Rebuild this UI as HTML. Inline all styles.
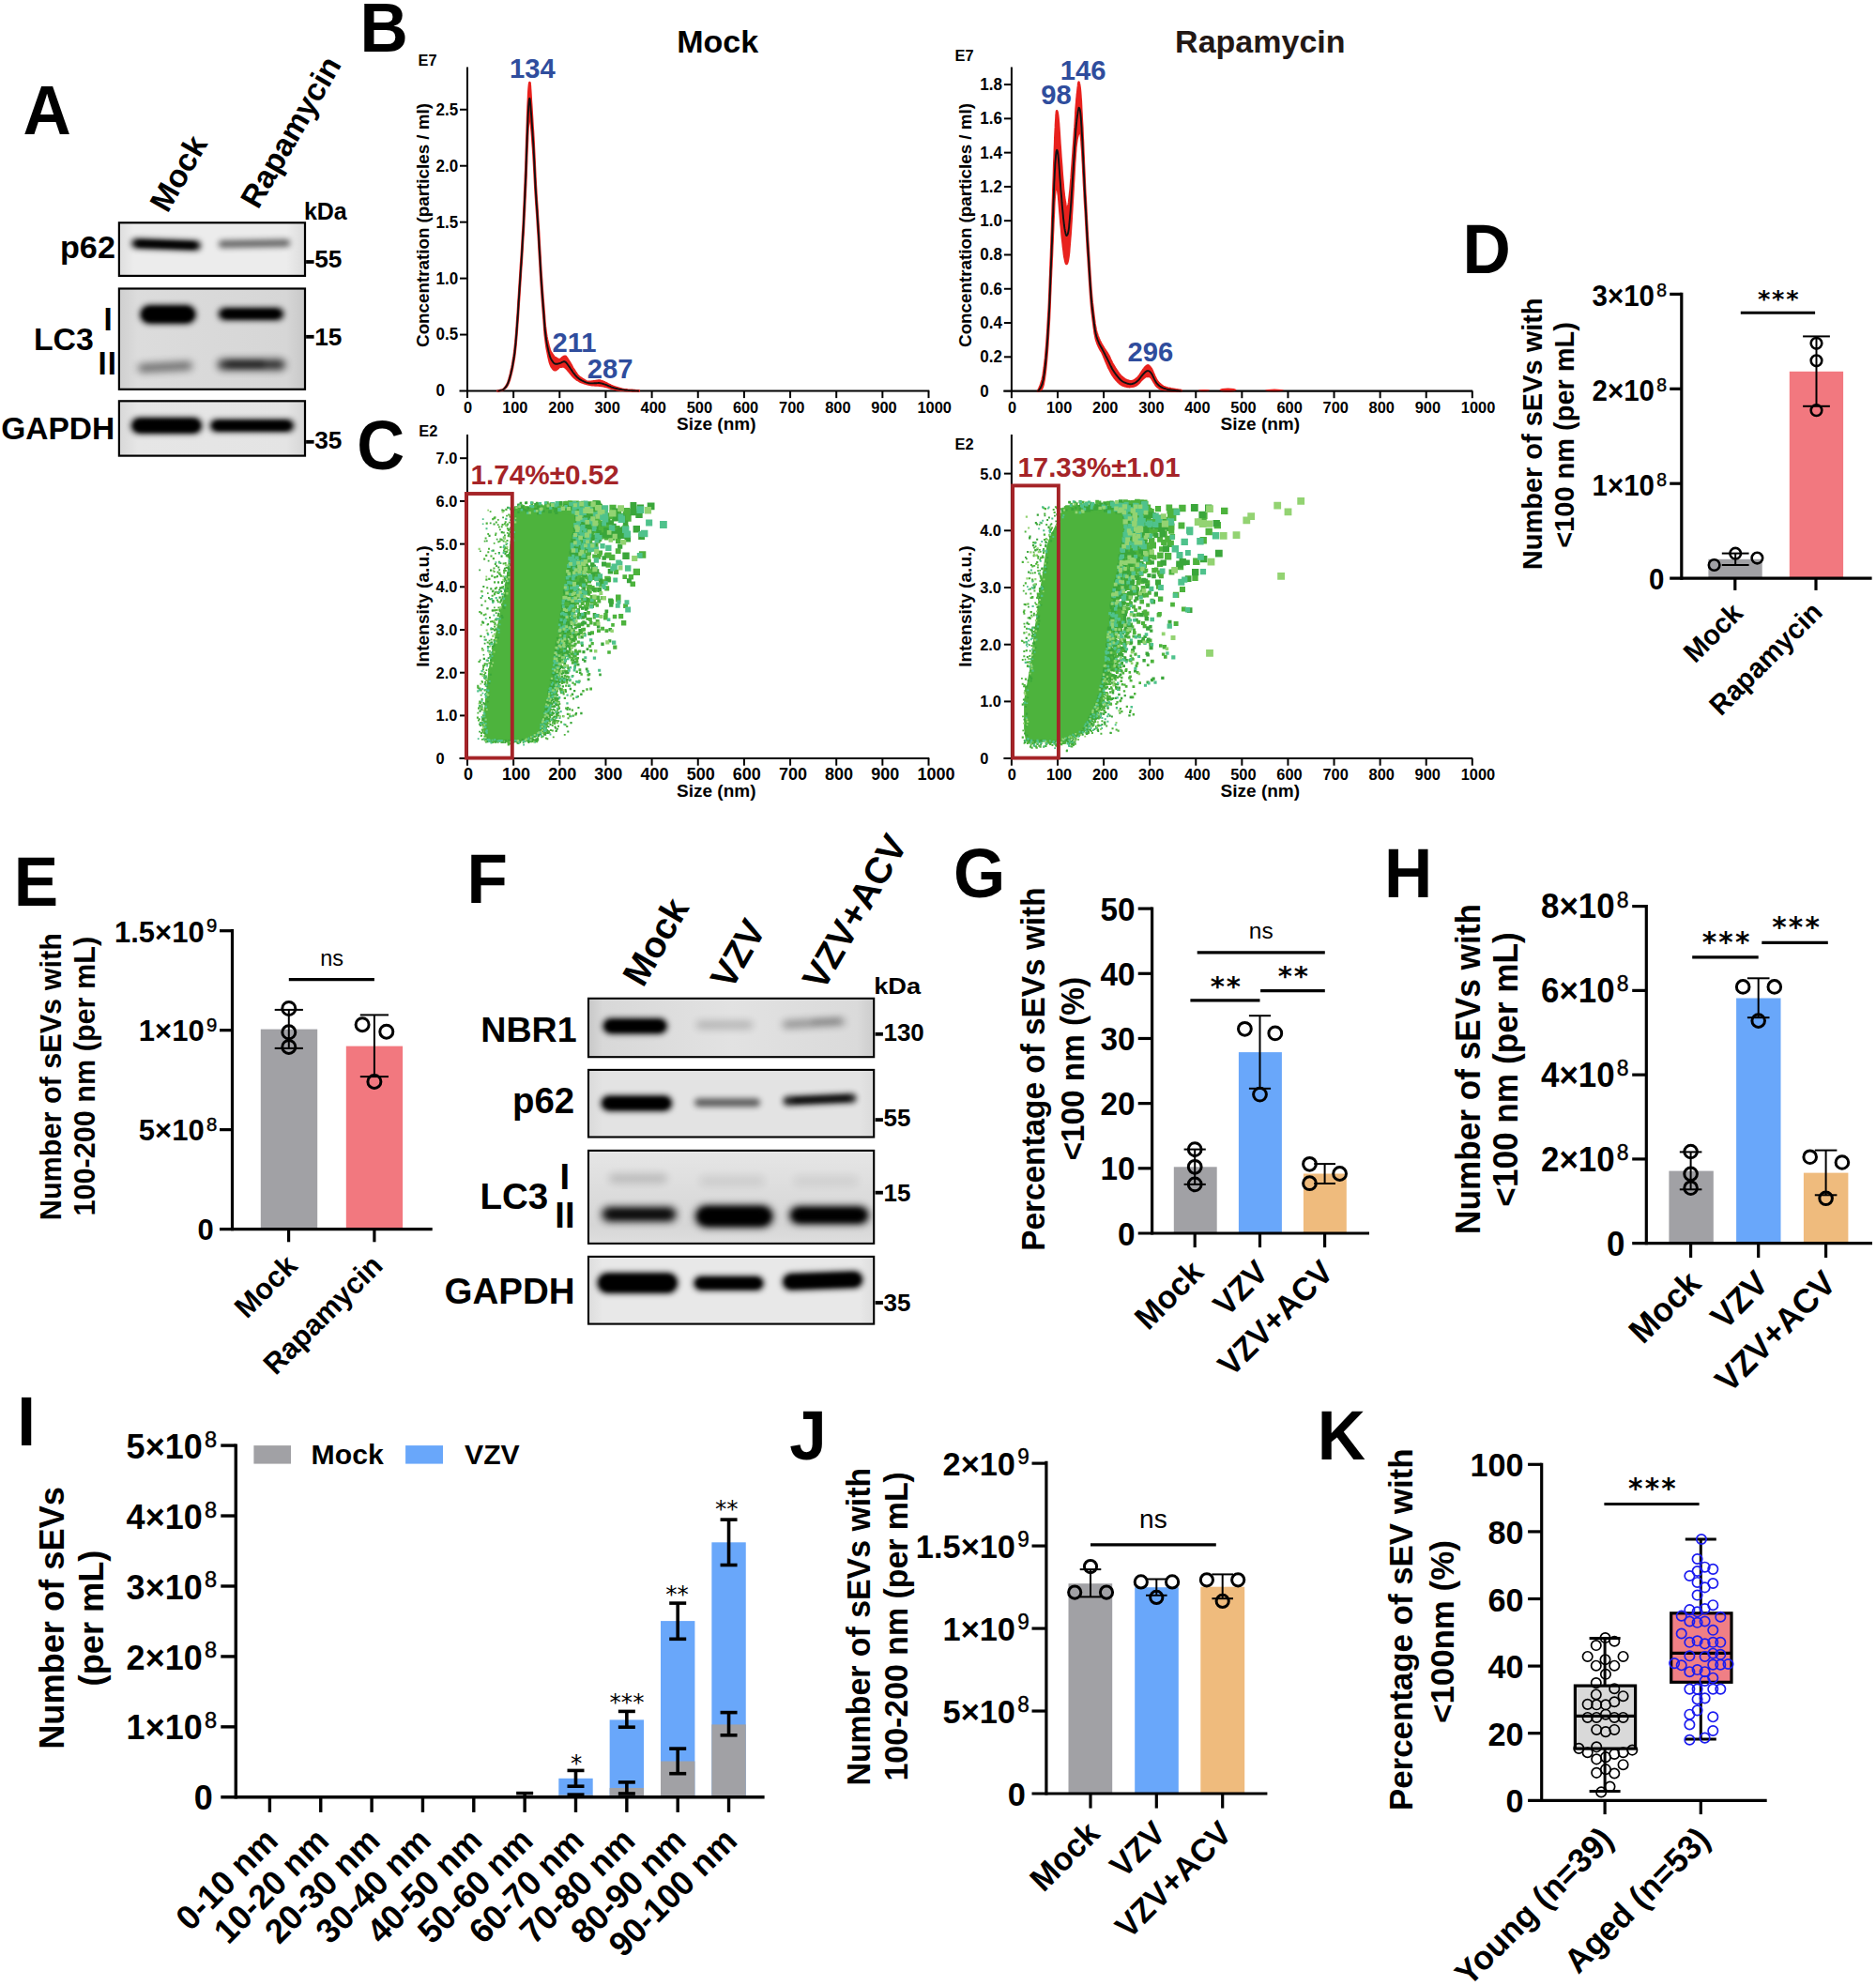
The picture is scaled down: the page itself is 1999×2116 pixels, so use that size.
<!DOCTYPE html>
<html><head><meta charset="utf-8"><title>Figure</title>
<style>html,body{margin:0;padding:0;background:#fff}svg{display:block}text{font-family:"Liberation Sans",Arial,sans-serif;font-weight:bold}</style>
</head><body>
<svg width="1999" height="2116" viewBox="0 0 1999 2116">
<defs>
<filter id="b2" x="-20%" y="-100%" width="140%" height="300%"><feGaussianBlur stdDeviation="2"/></filter>
<filter id="b3" x="-20%" y="-150%" width="140%" height="400%"><feGaussianBlur stdDeviation="3.2"/></filter>
<filter id="b4" x="-20%" y="-200%" width="140%" height="500%"><feGaussianBlur stdDeviation="4.5"/></filter>
<linearGradient id="gA1" x1="0" x2="1" y1="0" y2="0"><stop offset="0" stop-color="#dedede"/><stop offset="0.08" stop-color="#ececec"/><stop offset="0.9" stop-color="#ececec"/><stop offset="1" stop-color="#dcdcdc"/></linearGradient>
<linearGradient id="gA2" x1="0" x2="1" y1="0" y2="0"><stop offset="0" stop-color="#cfcfcf"/><stop offset="0.1" stop-color="#dcdcdc"/><stop offset="0.9" stop-color="#d6d6d6"/><stop offset="1" stop-color="#c8c8c8"/></linearGradient>
<linearGradient id="gA3" x1="0" x2="1" y1="0" y2="0"><stop offset="0" stop-color="#d8d8d8"/><stop offset="0.1" stop-color="#e6e6e6"/><stop offset="0.9" stop-color="#e4e4e4"/><stop offset="1" stop-color="#d6d6d6"/></linearGradient>
<linearGradient id="gF1" x1="0" x2="1" y1="0" y2="0"><stop offset="0" stop-color="#c8c8c8"/><stop offset="0.05" stop-color="#d8d8d8"/><stop offset="0.5" stop-color="#e2e2e2"/><stop offset="0.94" stop-color="#dadada"/><stop offset="1" stop-color="#cdcdcd"/></linearGradient>
<linearGradient id="gF2" x1="0" x2="1" y1="0" y2="0"><stop offset="0" stop-color="#dadada"/><stop offset="0.05" stop-color="#e3e3e3"/><stop offset="0.95" stop-color="#e3e3e3"/><stop offset="1" stop-color="#dbdbdb"/></linearGradient>
<linearGradient id="gF3" x1="0" x2="0" y1="0" y2="1"><stop offset="0" stop-color="#e6e6e6"/><stop offset="0.45" stop-color="#dcdcdc"/><stop offset="0.8" stop-color="#d6d6d6"/><stop offset="1" stop-color="#dedede"/></linearGradient>
<linearGradient id="gF4" x1="0" x2="1" y1="0" y2="0"><stop offset="0" stop-color="#dddddd"/><stop offset="0.05" stop-color="#e8e8e8"/><stop offset="0.95" stop-color="#e8e8e8"/><stop offset="1" stop-color="#dedede"/></linearGradient>
</defs>
<rect width="1999" height="2116" fill="#fff"/>
<text transform="translate(24.50 142.50) scale(1 1.04)" font-size="71">A</text>
<text transform="translate(178.60 227.90) rotate(-60)" font-size="33.8">Mock</text>
<text transform="translate(275.00 224.00) rotate(-60)" font-size="33.6">Rapamycin</text>
<clipPath id="cA1"><rect x="126.9" y="237.3" width="198.1" height="56.6"/></clipPath>
<rect x="126.90" y="237.30" width="198.10" height="56.60" fill="url(#gA1)"/>
<g clip-path="url(#cA1)">
<rect x="140.0" y="255.5" width="74.0" height="10.0" rx="5.0" fill="#000" opacity="1" filter="url(#b3)" transform="rotate(2 177.0 260.5)"/>
<rect x="146.0" y="257.8" width="62.0" height="5.5" rx="2.8" fill="#000" opacity="1" filter="url(#b2)" transform="rotate(2 177.0 260.5)"/>
<rect x="233.0" y="255.8" width="76.0" height="7.5" rx="3.8" fill="#000" opacity="0.62" filter="url(#b3)" transform="rotate(-1 271.0 259.5)"/>
</g>
<rect x="126.90" y="237.30" width="198.10" height="56.60" fill="none" stroke="#000" stroke-width="2.2"/>
<clipPath id="cA2"><rect x="126.9" y="307.5" width="198.1" height="107.3"/></clipPath>
<rect x="126.90" y="307.50" width="198.10" height="107.30" fill="url(#gA2)"/>
<g clip-path="url(#cA2)">
<rect x="149.0" y="325.0" width="60.0" height="20.0" rx="10.0" fill="#000" opacity="1" filter="url(#b3)"/>
<rect x="153.0" y="328.0" width="52.0" height="14.0" rx="7.0" fill="#000" opacity="1" filter="url(#b2)"/>
<rect x="232.5" y="328.0" width="70.0" height="13.0" rx="6.5" fill="#000" opacity="1" filter="url(#b3)"/>
<rect x="238.5" y="330.8" width="58.0" height="7.5" rx="3.8" fill="#000" opacity="1" filter="url(#b2)"/>
<rect x="147.0" y="386.8" width="58.0" height="8.5" rx="4.2" fill="#000" opacity="0.55" filter="url(#b4)" transform="rotate(-3 176.0 391.0)"/>
<rect x="232.0" y="383.2" width="72.0" height="10.5" rx="5.2" fill="#000" opacity="0.85" filter="url(#b4)"/>
<rect x="242.0" y="385.5" width="40.0" height="5.0" rx="2.5" fill="#000" opacity="0.5" filter="url(#b3)"/>
</g>
<rect x="126.90" y="307.50" width="198.10" height="107.30" fill="none" stroke="#000" stroke-width="2.2"/>
<clipPath id="cA3"><rect x="126.9" y="427.3" width="198.1" height="58.3"/></clipPath>
<rect x="126.90" y="427.30" width="198.10" height="58.30" fill="url(#gA3)"/>
<g clip-path="url(#cA3)">
<rect x="139.5" y="445.0" width="76.0" height="17.0" rx="8.5" fill="#000" opacity="1" filter="url(#b3)"/>
<rect x="143.5" y="447.5" width="68.0" height="12.0" rx="6.0" fill="#000" opacity="1" filter="url(#b2)"/>
<rect x="223.5" y="447.0" width="90.0" height="13.0" rx="6.5" fill="#000" opacity="1" filter="url(#b3)"/>
<rect x="228.5" y="449.2" width="80.0" height="8.5" rx="4.2" fill="#000" opacity="1" filter="url(#b2)"/>
</g>
<rect x="126.90" y="427.30" width="198.10" height="58.30" fill="none" stroke="#000" stroke-width="2.2"/>
<text transform="translate(122.90 274.60) scale(1.03 1.02)" font-size="33.2" text-anchor="end">p62</text>
<text transform="translate(35.90 372.50) scale(1.026 1.03)" font-size="33">LC3</text>
<text transform="translate(115.20 351.80) scale(1 1.04)" font-size="33" text-anchor="middle">I</text>
<text transform="translate(114.80 398.70) scale(1 1.04)" font-size="33" text-anchor="middle" letter-spacing="1.2">II</text>
<text transform="translate(122.20 468.40) scale(1.016 1.03)" font-size="33" text-anchor="end">GAPDH</text>
<text transform="translate(323.90 233.80) scale(1 1.03)" font-size="25">kDa</text>
<line x1="326.10" y1="279.00" x2="334.60" y2="279.00" stroke="#000" stroke-width="3.8"/>
<text transform="translate(335.20 285.30) scale(1.05 1.04)" font-size="25">55</text>
<line x1="326.10" y1="358.80" x2="334.60" y2="358.80" stroke="#000" stroke-width="3.8"/>
<text transform="translate(335.20 367.50) scale(1.05 1.04)" font-size="25">15</text>
<line x1="326.10" y1="470.80" x2="334.60" y2="470.80" stroke="#000" stroke-width="3.8"/>
<text transform="translate(335.20 478.00) scale(1.05 1.04)" font-size="25">35</text>
<text transform="translate(383.50 55.00) scale(1 1.04)" font-size="71">B</text>
<line x1="498.00" y1="71.50" x2="498.00" y2="417.50" stroke="#000" stroke-width="2"/>
<line x1="489.50" y1="416.50" x2="990.30" y2="416.50" stroke="#000" stroke-width="2"/>
<text transform="translate(464.60 422.40) scale(1 1.035)" font-size="17">0</text>
<line x1="490.00" y1="356.55" x2="498.00" y2="356.55" stroke="#000" stroke-width="2"/>
<text transform="translate(464.60 362.45) scale(1 1.035)" font-size="17">0.5</text>
<line x1="490.00" y1="296.60" x2="498.00" y2="296.60" stroke="#000" stroke-width="2"/>
<text transform="translate(464.60 302.50) scale(1 1.035)" font-size="17">1.0</text>
<line x1="490.00" y1="236.65" x2="498.00" y2="236.65" stroke="#000" stroke-width="2"/>
<text transform="translate(464.60 242.55) scale(1 1.035)" font-size="17">1.5</text>
<line x1="490.00" y1="176.70" x2="498.00" y2="176.70" stroke="#000" stroke-width="2"/>
<text transform="translate(464.60 182.60) scale(1 1.035)" font-size="17">2.0</text>
<line x1="490.00" y1="116.75" x2="498.00" y2="116.75" stroke="#000" stroke-width="2"/>
<text transform="translate(464.60 122.65) scale(1 1.035)" font-size="17">2.5</text>
<line x1="498.00" y1="416.50" x2="498.00" y2="424.10" stroke="#000" stroke-width="2"/>
<text transform="translate(494.10 439.80) scale(1 1.035)" font-size="16.4">0</text>
<line x1="547.15" y1="416.50" x2="547.15" y2="424.10" stroke="#000" stroke-width="2"/>
<text transform="translate(535.15 439.80) scale(1 1.035)" font-size="16.4">100</text>
<line x1="596.30" y1="416.50" x2="596.30" y2="424.10" stroke="#000" stroke-width="2"/>
<text transform="translate(584.30 439.80) scale(1 1.035)" font-size="16.4">200</text>
<line x1="645.45" y1="416.50" x2="645.45" y2="424.10" stroke="#000" stroke-width="2"/>
<text transform="translate(633.45 439.80) scale(1 1.035)" font-size="16.4">300</text>
<line x1="694.60" y1="416.50" x2="694.60" y2="424.10" stroke="#000" stroke-width="2"/>
<text transform="translate(682.60 439.80) scale(1 1.035)" font-size="16.4">400</text>
<line x1="743.75" y1="416.50" x2="743.75" y2="424.10" stroke="#000" stroke-width="2"/>
<text transform="translate(731.75 439.80) scale(1 1.035)" font-size="16.4">500</text>
<line x1="792.90" y1="416.50" x2="792.90" y2="424.10" stroke="#000" stroke-width="2"/>
<text transform="translate(780.90 439.80) scale(1 1.035)" font-size="16.4">600</text>
<line x1="842.05" y1="416.50" x2="842.05" y2="424.10" stroke="#000" stroke-width="2"/>
<text transform="translate(830.05 439.80) scale(1 1.035)" font-size="16.4">700</text>
<line x1="891.20" y1="416.50" x2="891.20" y2="424.10" stroke="#000" stroke-width="2"/>
<text transform="translate(879.20 439.80) scale(1 1.035)" font-size="16.4">800</text>
<line x1="940.35" y1="416.50" x2="940.35" y2="424.10" stroke="#000" stroke-width="2"/>
<text transform="translate(928.35 439.80) scale(1 1.035)" font-size="16.4">900</text>
<line x1="989.50" y1="416.50" x2="989.50" y2="424.10" stroke="#000" stroke-width="2"/>
<text transform="translate(977.50 439.80) scale(1 1.035)" font-size="16.4">1000</text>
<text x="763.25" y="457.80" font-size="19" text-anchor="middle">Size (nm)</text>
<text transform="translate(456.60 240.00) rotate(-90)" font-size="18.8" text-anchor="middle">Concentration (particles / ml)</text>
<text x="764.70" y="55.50" font-size="34" text-anchor="middle">Mock</text>
<text transform="translate(445.60 69.60) scale(1 1.035)" font-size="16.4">E7</text>
<path d="M530.4 416.5 L530.6 416.5 L530.7 416.5 L530.9 416.5 L531.1 416.4 L531.4 416.4 L531.7 416.4 L532.0 416.3 L532.4 416.1 L532.9 416.0 L533.4 415.9 L534.0 415.8 L534.7 415.6 L535.3 415.4 L536.0 415.1 L536.7 414.7 L537.3 414.1 L537.9 413.3 L538.5 412.5 L539.2 411.7 L539.8 410.7 L540.4 409.5 L541.0 408.2 L541.6 406.6 L542.2 404.8 L542.9 402.7 L543.5 400.2 L544.2 397.5 L544.8 394.6 L545.5 391.6 L546.1 388.5 L546.6 385.4 L547.1 382.3 L547.6 379.4 L548.0 376.6 L548.4 373.8 L548.7 370.9 L549.0 367.8 L549.4 364.4 L549.7 360.5 L550.1 356.0 L550.5 351.0 L550.9 345.4 L551.3 339.4 L551.8 333.1 L552.2 326.5 L552.6 319.7 L553.1 312.7 L553.5 305.6 L554.0 298.3 L554.5 290.5 L555.0 282.4 L555.6 274.2 L556.1 266.0 L556.6 257.8 L557.0 249.9 L557.5 242.0 L557.9 234.5 L558.2 227.2 L558.5 220.1 L558.9 213.2 L559.1 206.5 L559.4 200.0 L559.7 193.7 L559.9 187.5 L560.2 181.6 L560.4 175.9 L560.6 170.4 L560.7 165.1 L560.9 159.9 L561.1 154.9 L561.2 149.9 L561.4 144.9 L561.6 139.9 L561.8 134.9 L562.0 129.8 L562.1 124.6 L562.3 119.6 L562.5 114.9 L562.7 110.5 L562.9 106.7 L563.1 103.2 L563.2 99.9 L563.4 96.9 L563.6 94.3 L563.8 92.0 L564.0 90.1 L564.2 88.8 L564.4 88.0 L564.5 88.8 L564.7 90.1 L564.9 91.9 L565.0 94.1 L565.2 96.7 L565.4 99.7 L565.6 103.0 L565.8 106.7 L566.1 110.7 L566.4 115.3 L566.7 120.2 L567.0 125.1 L567.3 130.0 L567.6 135.1 L568.0 140.4 L568.3 145.8 L568.6 151.3 L568.9 157.2 L569.2 163.4 L569.5 169.6 L569.8 176.0 L570.1 182.4 L570.4 188.7 L570.7 194.9 L571.1 201.0 L571.4 207.0 L571.8 212.8 L572.2 218.4 L572.6 224.1 L572.9 229.7 L573.3 235.5 L573.7 241.4 L574.1 247.6 L574.4 254.1 L574.8 260.7 L575.2 267.4 L575.6 273.9 L575.9 280.3 L576.3 286.3 L576.6 291.8 L577.0 296.8 L577.3 301.5 L577.6 305.9 L577.9 310.0 L578.2 313.9 L578.5 317.8 L578.8 321.6 L579.1 325.4 L579.4 329.2 L579.7 333.0 L580.0 336.7 L580.2 340.3 L580.5 343.8 L580.8 347.2 L581.2 350.5 L581.6 353.6 L582.0 356.4 L582.4 359.0 L582.9 361.6 L583.5 364.0 L584.0 366.3 L584.5 368.4 L585.0 370.2 L585.5 371.9 L585.9 373.2 L586.4 374.3 L586.8 375.2 L587.3 375.9 L587.7 376.4 L588.1 377.0 L588.5 377.6 L588.9 378.3 L589.3 378.9 L589.7 379.4 L590.0 379.8 L590.3 380.2 L590.7 380.5 L591.0 380.7 L591.4 380.9 L591.9 381.1 L592.4 381.5 L592.9 381.9 L593.4 382.2 L593.9 382.5 L594.5 382.8 L595.1 383.0 L595.7 383.3 L596.3 383.5 L596.9 383.1 L597.6 382.5 L598.3 381.9 L599.0 381.3 L599.7 380.7 L600.4 380.2 L601.1 379.9 L601.7 379.7 L602.3 379.7 L602.9 380.0 L603.4 380.7 L603.9 381.4 L604.5 382.2 L605.0 383.1 L605.6 384.0 L606.1 384.8 L606.7 385.7 L607.3 386.7 L607.9 387.8 L608.6 388.9 L609.2 390.0 L609.8 391.2 L610.4 392.3 L611.0 393.3 L611.7 394.3 L612.3 395.2 L612.9 396.2 L613.5 397.1 L614.1 397.9 L614.7 398.8 L615.3 399.6 L616.0 400.3 L616.6 400.9 L617.2 401.4 L617.8 401.9 L618.4 402.4 L619.0 402.8 L619.6 403.2 L620.2 403.6 L620.9 404.0 L621.6 404.5 L622.3 404.9 L623.0 405.3 L623.7 405.7 L624.5 406.1 L625.2 406.4 L626.0 406.7 L626.8 406.8 L627.6 406.8 L628.3 406.8 L629.2 406.8 L630.0 406.7 L630.8 406.6 L631.6 406.5 L632.4 406.4 L633.2 406.3 L633.9 406.2 L634.7 406.1 L635.4 406.0 L636.1 405.8 L636.8 405.7 L637.6 405.6 L638.3 405.5 L639.1 405.5 L639.8 405.7 L640.6 405.9 L641.4 406.2 L642.3 406.5 L643.1 406.9 L643.9 407.2 L644.7 407.6 L645.5 407.9 L646.2 408.3 L646.9 408.7 L647.7 409.1 L648.4 409.4 L649.1 409.8 L649.9 410.2 L650.6 410.6 L651.3 410.9 L652.1 411.3 L652.9 411.6 L653.7 411.9 L654.5 412.2 L655.2 412.5 L656.1 412.8 L656.9 413.1 L657.7 413.3 L658.6 413.6 L659.5 413.8 L660.3 414.1 L661.2 414.3 L662.1 414.5 L663.1 414.8 L664.1 415.0 L665.1 415.2 L666.2 415.3 L667.5 415.4 L668.8 415.6 L670.1 415.7 L671.4 415.8 L672.7 415.9 L673.9 415.9 L674.9 416.0 L675.9 416.1 L676.8 416.1 L677.7 416.2 L678.5 416.2 L679.2 416.3 L679.9 416.3 L680.4 416.3 L680.8 416.3 L680.8 416.5 L680.4 416.5 L679.9 416.5 L679.2 416.5 L678.5 416.5 L677.7 416.5 L676.8 416.5 L675.9 416.5 L674.9 416.5 L673.9 416.5 L672.7 416.4 L671.4 416.3 L670.1 416.3 L668.8 416.2 L667.5 416.1 L666.2 416.0 L665.1 415.9 L664.1 415.8 L663.1 415.8 L662.1 415.7 L661.2 415.6 L660.3 415.5 L659.5 415.4 L658.6 415.3 L657.7 415.1 L656.9 415.0 L656.1 414.8 L655.2 414.6 L654.5 414.5 L653.7 414.3 L652.9 414.1 L652.1 413.9 L651.3 413.7 L650.6 413.4 L649.9 413.2 L649.1 413.0 L648.4 412.7 L647.7 412.5 L646.9 412.3 L646.2 412.1 L645.5 411.9 L644.7 411.7 L643.9 411.5 L643.1 411.3 L642.3 411.1 L641.4 411.0 L640.6 410.9 L639.8 410.8 L639.1 410.7 L638.3 410.6 L637.6 410.5 L636.8 410.5 L636.1 410.4 L635.4 410.4 L634.7 410.4 L633.9 410.4 L633.2 410.3 L632.4 410.3 L631.6 410.2 L630.8 410.1 L630.0 410.0 L629.2 409.9 L628.3 409.8 L627.6 409.6 L626.8 409.4 L626.0 409.1 L625.2 409.0 L624.5 408.8 L623.7 408.6 L623.0 408.4 L622.3 408.1 L621.6 407.9 L620.9 407.6 L620.2 407.4 L619.6 407.1 L619.0 406.9 L618.4 406.6 L617.8 406.3 L617.2 405.9 L616.6 405.5 L616.0 405.1 L615.3 404.8 L614.7 404.4 L614.1 403.9 L613.5 403.5 L612.9 403.0 L612.3 402.4 L611.7 401.9 L611.0 401.3 L610.4 400.7 L609.8 400.0 L609.2 399.2 L608.6 398.5 L607.9 397.7 L607.3 396.8 L606.7 396.1 L606.1 395.4 L605.6 394.8 L605.0 394.1 L604.5 393.5 L603.9 392.9 L603.4 392.4 L602.9 392.0 L602.3 391.4 L601.7 391.0 L601.1 390.6 L600.4 390.5 L599.7 390.4 L599.0 390.5 L598.3 390.6 L597.6 390.7 L596.9 390.7 L596.3 390.7 L595.7 391.3 L595.1 391.8 L594.5 392.4 L593.9 392.9 L593.4 393.3 L592.9 393.7 L592.4 394.1 L591.9 394.3 L591.4 394.3 L591.0 394.2 L590.7 394.0 L590.3 393.8 L590.0 393.6 L589.7 393.3 L589.3 392.9 L588.9 392.4 L588.5 391.8 L588.1 391.3 L587.7 390.6 L587.3 389.8 L586.8 388.7 L586.4 387.5 L585.9 386.1 L585.5 384.4 L585.0 382.4 L584.5 380.2 L584.0 377.7 L583.5 375.1 L582.9 372.3 L582.4 369.3 L582.0 366.3 L581.6 363.1 L581.2 360.1 L580.8 356.8 L580.5 353.4 L580.2 349.9 L580.0 346.3 L579.7 342.6 L579.4 338.8 L579.1 335.0 L578.8 331.1 L578.5 327.3 L578.2 323.5 L577.9 319.6 L577.6 315.5 L577.3 311.1 L577.0 306.4 L576.6 301.4 L576.3 295.9 L575.9 289.9 L575.6 283.5 L575.2 277.0 L574.8 270.3 L574.4 263.7 L574.1 257.2 L573.7 251.0 L573.3 245.1 L572.9 239.3 L572.6 233.7 L572.2 228.0 L571.8 222.4 L571.4 217.1 L571.1 211.8 L570.7 206.4 L570.4 200.9 L570.1 195.2 L569.8 189.4 L569.5 183.6 L569.2 177.9 L568.9 172.4 L568.6 167.1 L568.3 162.1 L568.0 157.3 L567.6 152.7 L567.3 148.2 L567.0 143.9 L566.7 140.1 L566.4 137.0 L566.1 134.1 L565.8 131.6 L565.6 129.3 L565.4 127.2 L565.2 125.3 L565.0 123.7 L564.9 122.4 L564.7 121.6 L564.5 121.3 L564.4 121.5 L564.2 121.3 L564.0 121.6 L563.8 122.3 L563.6 123.5 L563.4 125.1 L563.2 127.0 L563.1 129.2 L562.9 131.6 L562.7 134.4 L562.5 137.7 L562.3 141.3 L562.1 145.2 L562.0 149.3 L561.8 153.8 L561.6 158.4 L561.4 162.9 L561.2 167.4 L561.1 172.0 L560.9 176.7 L560.7 181.4 L560.6 186.3 L560.4 191.3 L560.2 196.5 L559.9 201.9 L559.7 207.4 L559.4 213.1 L559.1 219.0 L558.9 225.0 L558.5 231.1 L558.2 237.4 L557.9 243.9 L557.5 250.4 L557.0 257.3 L556.6 264.9 L556.1 272.8 L555.6 280.9 L555.0 288.9 L554.5 296.8 L554.0 304.4 L553.5 311.6 L553.1 318.5 L552.6 325.3 L552.2 331.9 L551.8 338.4 L551.3 344.6 L550.9 350.4 L550.5 355.8 L550.1 360.7 L549.7 365.0 L549.4 368.8 L549.0 372.1 L548.7 375.1 L548.4 377.8 L548.0 380.5 L547.6 383.2 L547.1 385.9 L546.6 388.8 L546.1 391.7 L545.5 394.6 L544.8 397.4 L544.2 400.0 L543.5 402.5 L542.9 404.7 L542.2 406.6 L541.6 408.2 L541.0 409.6 L540.4 410.7 L539.8 411.6 L539.2 412.3 L538.5 413.0 L537.9 413.6 L537.3 414.1 L536.7 414.7 L536.0 415.1 L535.3 415.4 L534.7 415.6 L534.0 415.8 L533.4 415.9 L532.9 416.0 L532.4 416.1 L532.0 416.3 L531.7 416.4 L531.4 416.4 L531.1 416.4 L530.9 416.5 L530.7 416.5 L530.6 416.5 L530.4 416.5Z" fill="#e8211d" stroke="#e8211d" stroke-width="2.6" stroke-linejoin="round"/>
<path d="M530.4 416.5 L530.6 416.5 L530.7 416.5 L530.9 416.5 L531.1 416.4 L531.4 416.4 L531.7 416.4 L532.0 416.3 L532.4 416.1 L532.9 416.0 L533.4 415.9 L534.0 415.8 L534.7 415.6 L535.3 415.4 L536.0 415.1 L536.7 414.7 L537.3 414.1 L537.9 413.4 L538.5 412.8 L539.2 412.0 L539.8 411.1 L540.4 410.1 L541.0 408.9 L541.6 407.4 L542.2 405.7 L542.9 403.7 L543.5 401.3 L544.2 398.8 L544.8 396.0 L545.5 393.1 L546.1 390.1 L546.6 387.1 L547.1 384.1 L547.6 381.3 L548.0 378.5 L548.4 375.8 L548.7 373.0 L549.0 370.0 L549.4 366.6 L549.7 362.7 L550.1 358.3 L550.5 353.4 L550.9 347.9 L551.3 342.0 L551.8 335.8 L552.2 329.2 L552.6 322.5 L553.1 315.6 L553.5 308.6 L554.0 301.3 L554.5 293.6 L555.0 285.7 L555.6 277.5 L556.1 269.4 L556.6 261.4 L557.0 253.6 L557.5 246.2 L557.9 239.2 L558.2 232.3 L558.5 225.6 L558.9 219.1 L559.1 212.8 L559.4 206.6 L559.7 200.5 L559.9 194.7 L560.2 189.0 L560.4 183.6 L560.6 178.3 L560.7 173.3 L560.9 168.3 L561.1 163.4 L561.2 158.7 L561.4 153.9 L561.6 149.1 L561.8 144.3 L562.0 139.5 L562.1 134.9 L562.3 130.4 L562.5 126.3 L562.7 122.5 L562.9 119.1 L563.1 116.2 L563.2 113.4 L563.4 111.0 L563.6 108.9 L563.8 107.2 L564.0 105.9 L564.2 105.0 L564.4 104.8 L564.5 105.0 L564.7 105.9 L564.9 107.2 L565.0 108.9 L565.2 111.0 L565.4 113.4 L565.6 116.2 L565.8 119.1 L566.1 122.4 L566.4 126.1 L566.7 130.2 L567.0 134.5 L567.3 139.1 L567.6 143.9 L568.0 148.9 L568.3 153.9 L568.6 159.2 L568.9 164.8 L569.2 170.6 L569.5 176.6 L569.8 182.7 L570.1 188.8 L570.4 194.8 L570.7 200.7 L571.1 206.4 L571.4 212.0 L571.8 217.6 L572.2 223.2 L572.6 228.9 L572.9 234.5 L573.3 240.3 L573.7 246.2 L574.1 252.4 L574.4 258.9 L574.8 265.5 L575.2 272.2 L575.6 278.7 L575.9 285.1 L576.3 291.1 L576.6 296.6 L577.0 301.6 L577.3 306.3 L577.6 310.7 L577.9 314.8 L578.2 318.7 L578.5 322.6 L578.8 326.3 L579.1 330.2 L579.4 334.0 L579.7 337.8 L580.0 341.5 L580.2 345.1 L580.5 348.6 L580.8 352.0 L581.2 355.3 L581.6 358.3 L582.0 361.3 L582.4 364.2 L582.9 366.9 L583.5 369.6 L584.0 372.0 L584.5 374.3 L585.0 376.3 L585.5 378.1 L585.9 379.7 L586.4 380.9 L586.8 382.0 L587.3 382.8 L587.7 383.5 L588.1 384.2 L588.5 384.7 L588.9 385.3 L589.3 385.9 L589.7 386.3 L590.0 386.7 L590.3 387.0 L590.7 387.3 L591.0 387.4 L591.4 387.6 L591.9 387.7 L592.4 387.8 L592.9 387.8 L593.4 387.8 L593.9 387.7 L594.5 387.6 L595.1 387.4 L595.7 387.3 L596.3 387.1 L596.9 386.9 L597.6 386.6 L598.3 386.2 L599.0 385.9 L599.7 385.6 L600.4 385.3 L601.1 385.2 L601.7 385.3 L602.3 385.6 L602.9 386.0 L603.4 386.5 L603.9 387.2 L604.5 387.9 L605.0 388.6 L605.6 389.4 L606.1 390.1 L606.7 390.9 L607.3 391.8 L607.9 392.7 L608.6 393.7 L609.2 394.6 L609.8 395.6 L610.4 396.5 L611.0 397.3 L611.7 398.1 L612.3 398.8 L612.9 399.6 L613.5 400.3 L614.1 400.9 L614.7 401.6 L615.3 402.2 L616.0 402.7 L616.6 403.2 L617.2 403.7 L617.8 404.1 L618.4 404.5 L619.0 404.8 L619.6 405.2 L620.2 405.5 L620.9 405.8 L621.6 406.2 L622.3 406.5 L623.0 406.8 L623.7 407.1 L624.5 407.4 L625.2 407.7 L626.0 407.9 L626.8 408.1 L627.6 408.2 L628.3 408.3 L629.2 408.4 L630.0 408.4 L630.8 408.4 L631.6 408.4 L632.4 408.4 L633.2 408.3 L633.9 408.3 L634.7 408.3 L635.4 408.2 L636.1 408.1 L636.8 408.1 L637.6 408.0 L638.3 408.0 L639.1 408.1 L639.8 408.2 L640.6 408.4 L641.4 408.6 L642.3 408.8 L643.1 409.1 L643.9 409.4 L644.7 409.6 L645.5 409.9 L646.2 410.2 L646.9 410.5 L647.7 410.8 L648.4 411.1 L649.1 411.4 L649.9 411.7 L650.6 412.0 L651.3 412.3 L652.1 412.6 L652.9 412.8 L653.7 413.1 L654.5 413.3 L655.2 413.6 L656.1 413.8 L656.9 414.0 L657.7 414.2 L658.6 414.4 L659.5 414.6 L660.3 414.8 L661.2 415.0 L662.1 415.1 L663.1 415.3 L664.1 415.4 L665.1 415.5 L666.2 415.7 L667.5 415.8 L668.8 415.9 L670.1 416.0 L671.4 416.1 L672.7 416.1 L673.9 416.2 L674.9 416.3 L675.9 416.3 L676.8 416.4 L677.7 416.4 L678.5 416.4 L679.2 416.4 L679.9 416.5 L680.4 416.5 L680.8 416.5" fill="none" stroke="#111" stroke-width="1.9" stroke-linejoin="round"/>
<text transform="translate(567.30 83.20) scale(1 1.02)" font-size="29.2" text-anchor="middle" fill="#2f4d9d">134</text>
<text transform="translate(612.00 374.90) scale(1 1.02)" font-size="29.2" text-anchor="middle" fill="#2f4d9d">211</text>
<text transform="translate(650.20 402.60) scale(1 1.02)" font-size="29.2" text-anchor="middle" fill="#2f4d9d">287</text>
<line x1="1077.90" y1="71.50" x2="1077.90" y2="417.60" stroke="#000" stroke-width="2"/>
<line x1="1069.40" y1="416.60" x2="1569.20" y2="416.60" stroke="#000" stroke-width="2"/>
<text transform="translate(1044.20 422.50) scale(1 1.035)" font-size="17">0</text>
<line x1="1069.90" y1="380.32" x2="1077.90" y2="380.32" stroke="#000" stroke-width="2"/>
<text transform="translate(1044.20 386.22) scale(1 1.035)" font-size="17">0.2</text>
<line x1="1069.90" y1="344.04" x2="1077.90" y2="344.04" stroke="#000" stroke-width="2"/>
<text transform="translate(1044.20 349.94) scale(1 1.035)" font-size="17">0.4</text>
<line x1="1069.90" y1="307.76" x2="1077.90" y2="307.76" stroke="#000" stroke-width="2"/>
<text transform="translate(1044.20 313.66) scale(1 1.035)" font-size="17">0.6</text>
<line x1="1069.90" y1="271.48" x2="1077.90" y2="271.48" stroke="#000" stroke-width="2"/>
<text transform="translate(1044.20 277.38) scale(1 1.035)" font-size="17">0.8</text>
<line x1="1069.90" y1="235.20" x2="1077.90" y2="235.20" stroke="#000" stroke-width="2"/>
<text transform="translate(1044.20 241.10) scale(1 1.035)" font-size="17">1.0</text>
<line x1="1069.90" y1="198.92" x2="1077.90" y2="198.92" stroke="#000" stroke-width="2"/>
<text transform="translate(1044.20 204.82) scale(1 1.035)" font-size="17">1.2</text>
<line x1="1069.90" y1="162.64" x2="1077.90" y2="162.64" stroke="#000" stroke-width="2"/>
<text transform="translate(1044.20 168.54) scale(1 1.035)" font-size="17">1.4</text>
<line x1="1069.90" y1="126.36" x2="1077.90" y2="126.36" stroke="#000" stroke-width="2"/>
<text transform="translate(1044.20 132.26) scale(1 1.035)" font-size="17">1.6</text>
<line x1="1069.90" y1="90.08" x2="1077.90" y2="90.08" stroke="#000" stroke-width="2"/>
<text transform="translate(1044.20 95.98) scale(1 1.035)" font-size="17">1.8</text>
<line x1="1077.90" y1="416.60" x2="1077.90" y2="424.20" stroke="#000" stroke-width="2"/>
<text transform="translate(1074.00 439.90) scale(1 1.035)" font-size="16.4">0</text>
<line x1="1126.99" y1="416.60" x2="1126.99" y2="424.20" stroke="#000" stroke-width="2"/>
<text transform="translate(1114.99 439.90) scale(1 1.035)" font-size="16.4">100</text>
<line x1="1176.08" y1="416.60" x2="1176.08" y2="424.20" stroke="#000" stroke-width="2"/>
<text transform="translate(1164.08 439.90) scale(1 1.035)" font-size="16.4">200</text>
<line x1="1225.17" y1="416.60" x2="1225.17" y2="424.20" stroke="#000" stroke-width="2"/>
<text transform="translate(1213.17 439.90) scale(1 1.035)" font-size="16.4">300</text>
<line x1="1274.26" y1="416.60" x2="1274.26" y2="424.20" stroke="#000" stroke-width="2"/>
<text transform="translate(1262.26 439.90) scale(1 1.035)" font-size="16.4">400</text>
<line x1="1323.35" y1="416.60" x2="1323.35" y2="424.20" stroke="#000" stroke-width="2"/>
<text transform="translate(1311.35 439.90) scale(1 1.035)" font-size="16.4">500</text>
<line x1="1372.44" y1="416.60" x2="1372.44" y2="424.20" stroke="#000" stroke-width="2"/>
<text transform="translate(1360.44 439.90) scale(1 1.035)" font-size="16.4">600</text>
<line x1="1421.53" y1="416.60" x2="1421.53" y2="424.20" stroke="#000" stroke-width="2"/>
<text transform="translate(1409.53 439.90) scale(1 1.035)" font-size="16.4">700</text>
<line x1="1470.62" y1="416.60" x2="1470.62" y2="424.20" stroke="#000" stroke-width="2"/>
<text transform="translate(1458.62 439.90) scale(1 1.035)" font-size="16.4">800</text>
<line x1="1519.71" y1="416.60" x2="1519.71" y2="424.20" stroke="#000" stroke-width="2"/>
<text transform="translate(1507.71 439.90) scale(1 1.035)" font-size="16.4">900</text>
<line x1="1568.80" y1="416.60" x2="1568.80" y2="424.20" stroke="#000" stroke-width="2"/>
<text transform="translate(1556.80 439.90) scale(1 1.035)" font-size="16.4">1000</text>
<text x="1342.85" y="457.90" font-size="19" text-anchor="middle">Size (nm)</text>
<text transform="translate(1034.80 240.00) rotate(-90)" font-size="18.8" text-anchor="middle">Concentration (particles / ml)</text>
<text x="1342.80" y="55.50" font-size="34" text-anchor="middle" fill="#231815">Rapamycin</text>
<text transform="translate(1017.50 64.80) scale(1 1.035)" font-size="16.4">E7</text>
<path d="M1105.9 416.6 L1106.1 416.2 L1106.4 415.6 L1106.8 415.0 L1107.2 414.3 L1107.6 413.4 L1108.0 412.5 L1108.4 411.5 L1108.8 410.5 L1109.2 409.4 L1109.6 408.3 L1109.9 407.2 L1110.3 405.9 L1110.7 404.5 L1111.0 402.9 L1111.4 401.1 L1111.8 398.9 L1112.1 396.4 L1112.5 393.9 L1112.9 391.3 L1113.2 388.3 L1113.6 385.2 L1114.0 381.7 L1114.3 377.9 L1114.7 373.7 L1115.1 369.0 L1115.5 363.9 L1115.9 358.4 L1116.3 352.6 L1116.6 346.7 L1117.0 340.6 L1117.3 334.6 L1117.7 328.7 L1118.0 322.8 L1118.2 316.9 L1118.5 310.9 L1118.7 304.9 L1118.9 298.8 L1119.2 292.7 L1119.4 286.6 L1119.6 280.6 L1119.9 273.8 L1120.1 267.0 L1120.4 260.2 L1120.6 253.4 L1120.9 246.6 L1121.1 239.7 L1121.3 232.8 L1121.6 225.8 L1121.8 218.5 L1122.1 210.9 L1122.3 203.1 L1122.6 195.3 L1122.9 187.7 L1123.1 180.5 L1123.3 173.9 L1123.6 168.1 L1123.8 162.0 L1124.0 156.5 L1124.2 151.6 L1124.3 147.1 L1124.5 143.1 L1124.7 139.3 L1124.9 135.9 L1125.0 132.5 L1125.2 129.4 L1125.4 126.7 L1125.5 124.3 L1125.7 122.2 L1125.8 120.3 L1126.0 118.6 L1126.1 118.3 L1126.3 118.7 L1126.5 119.3 L1126.7 120.1 L1126.9 121.1 L1127.1 122.4 L1127.3 124.1 L1127.5 126.0 L1127.7 128.4 L1128.0 131.3 L1128.2 134.7 L1128.5 138.7 L1128.8 143.2 L1129.1 148.0 L1129.4 153.0 L1129.8 158.0 L1130.1 162.9 L1130.4 167.6 L1130.8 172.3 L1131.2 177.3 L1131.5 182.3 L1131.9 187.3 L1132.3 192.1 L1132.7 196.7 L1133.0 200.8 L1133.4 204.4 L1133.7 207.0 L1133.9 209.3 L1134.2 211.2 L1134.4 212.9 L1134.7 214.2 L1134.9 215.4 L1135.1 216.5 L1135.3 217.6 L1135.5 218.5 L1135.7 219.3 L1135.9 219.9 L1136.1 220.4 L1136.2 220.8 L1136.4 220.9 L1136.6 221.0 L1136.8 220.9 L1137.0 221.0 L1137.3 221.1 L1137.5 221.1 L1137.7 221.0 L1138.0 220.6 L1138.2 220.0 L1138.5 218.9 L1138.8 217.5 L1139.1 215.7 L1139.3 213.5 L1139.6 211.0 L1139.9 208.2 L1140.2 205.1 L1140.6 201.8 L1140.9 198.1 L1141.2 194.2 L1141.6 189.9 L1141.9 185.0 L1142.3 179.7 L1142.7 174.3 L1143.1 168.7 L1143.5 163.3 L1143.8 158.1 L1144.2 153.2 L1144.5 148.6 L1144.8 144.0 L1145.1 139.5 L1145.5 135.2 L1145.8 130.5 L1146.1 125.4 L1146.3 120.7 L1146.6 116.4 L1146.9 112.5 L1147.2 109.1 L1147.4 106.0 L1147.7 103.3 L1147.9 100.8 L1148.2 98.6 L1148.4 96.5 L1148.6 94.6 L1148.8 92.9 L1149.0 91.4 L1149.1 90.2 L1149.3 89.1 L1149.4 88.3 L1149.6 87.7 L1149.7 88.3 L1149.9 89.2 L1150.1 90.2 L1150.3 91.4 L1150.5 92.7 L1150.7 94.2 L1150.9 96.1 L1151.1 98.3 L1151.3 100.9 L1151.5 104.0 L1151.8 107.7 L1152.0 111.8 L1152.2 116.5 L1152.5 121.4 L1152.7 126.1 L1153.0 130.9 L1153.3 135.9 L1153.5 140.9 L1153.7 146.0 L1154.0 151.3 L1154.2 156.9 L1154.4 162.5 L1154.7 168.4 L1154.9 174.3 L1155.2 180.2 L1155.5 186.2 L1155.7 192.3 L1156.0 198.6 L1156.3 205.0 L1156.7 211.1 L1157.0 217.0 L1157.3 222.9 L1157.6 228.7 L1157.9 234.3 L1158.2 239.8 L1158.5 245.3 L1158.8 250.6 L1159.1 255.9 L1159.5 261.1 L1159.8 266.3 L1160.1 271.3 L1160.4 276.2 L1160.7 281.1 L1161.0 285.9 L1161.3 290.7 L1161.6 295.4 L1161.9 299.9 L1162.2 304.3 L1162.5 308.4 L1162.8 312.2 L1163.1 315.8 L1163.4 319.1 L1163.7 322.2 L1164.1 325.2 L1164.4 327.9 L1164.7 330.6 L1165.0 333.1 L1165.3 335.6 L1165.6 338.0 L1165.9 340.3 L1166.2 342.5 L1166.4 344.5 L1166.7 346.4 L1167.1 348.2 L1167.4 350.0 L1167.7 351.6 L1168.1 353.2 L1168.5 354.7 L1169.0 356.0 L1169.4 357.3 L1169.8 358.5 L1170.3 359.6 L1170.7 360.7 L1171.2 361.8 L1171.6 362.8 L1172.0 363.7 L1172.5 364.6 L1172.9 365.4 L1173.3 366.1 L1173.7 366.9 L1174.2 367.7 L1174.6 368.5 L1175.0 369.2 L1175.5 369.8 L1175.9 370.4 L1176.3 371.1 L1176.7 371.7 L1177.2 372.4 L1177.6 373.1 L1178.0 373.8 L1178.5 374.5 L1179.0 375.2 L1179.5 376.0 L1180.0 376.8 L1180.5 377.6 L1181.0 378.4 L1181.5 379.4 L1182.0 380.4 L1182.5 381.5 L1182.9 382.5 L1183.4 383.5 L1183.9 384.5 L1184.4 385.6 L1184.8 386.6 L1185.4 387.6 L1185.9 388.5 L1186.5 389.5 L1187.1 390.5 L1187.7 391.5 L1188.3 392.5 L1189.0 393.5 L1189.6 394.4 L1190.2 395.3 L1190.8 396.2 L1191.4 397.0 L1191.9 397.7 L1192.5 398.5 L1193.0 399.1 L1193.5 399.8 L1194.1 400.4 L1194.6 401.0 L1195.2 401.5 L1195.9 402.1 L1196.5 402.6 L1197.2 403.2 L1197.9 403.6 L1198.6 404.1 L1199.3 404.5 L1200.0 404.8 L1200.6 405.1 L1201.2 405.4 L1201.8 405.6 L1202.4 405.8 L1202.9 406.0 L1203.5 406.1 L1204.0 406.2 L1204.5 406.3 L1205.0 406.4 L1205.6 406.4 L1206.1 406.3 L1206.6 406.2 L1207.0 406.0 L1207.5 405.8 L1208.0 405.6 L1208.5 405.3 L1209.0 405.0 L1209.5 404.7 L1210.0 404.4 L1210.4 404.0 L1210.9 403.6 L1211.4 403.2 L1211.9 402.8 L1212.4 402.3 L1212.9 401.8 L1213.4 401.2 L1213.9 400.6 L1214.4 399.9 L1214.9 399.2 L1215.4 398.5 L1215.8 397.7 L1216.3 397.0 L1216.8 396.2 L1217.3 395.5 L1217.8 394.8 L1218.3 394.1 L1218.8 393.3 L1219.4 392.7 L1219.8 392.0 L1220.3 391.5 L1220.8 391.0 L1221.2 390.6 L1221.6 390.2 L1221.9 389.9 L1222.3 389.7 L1222.6 389.5 L1223.0 389.4 L1223.3 389.4 L1223.7 389.5 L1224.1 389.8 L1224.4 390.1 L1224.8 390.5 L1225.2 390.9 L1225.6 391.3 L1225.9 391.8 L1226.3 392.3 L1226.6 392.8 L1227.0 393.4 L1227.3 394.0 L1227.6 394.6 L1227.9 395.3 L1228.2 396.0 L1228.5 396.7 L1228.8 397.4 L1229.1 398.1 L1229.4 398.9 L1229.8 399.7 L1230.1 400.5 L1230.5 401.3 L1230.9 402.1 L1231.3 402.9 L1231.6 403.7 L1232.0 404.3 L1232.4 405.0 L1232.9 405.6 L1233.3 406.2 L1233.7 406.7 L1234.1 407.3 L1234.6 407.8 L1235.0 408.3 L1235.5 408.7 L1235.9 409.2 L1236.4 409.6 L1236.9 410.0 L1237.3 410.3 L1237.8 410.7 L1238.3 411.1 L1238.8 411.4 L1239.4 411.8 L1240.0 412.1 L1240.6 412.4 L1241.2 412.6 L1241.8 412.9 L1242.5 413.1 L1243.2 413.3 L1244.0 413.5 L1244.8 413.7 L1245.7 413.9 L1246.8 414.1 L1247.8 414.3 L1249.0 414.5 L1250.1 414.7 L1251.2 414.9 L1252.2 415.0 L1253.2 415.2 L1254.0 415.3 L1254.8 415.5 L1255.6 415.6 L1256.4 415.7 L1257.1 415.8 L1257.6 415.9 L1258.2 415.9 L1258.6 416.0 L1258.6 416.6 L1258.2 416.6 L1257.6 416.6 L1257.1 416.6 L1256.4 416.6 L1255.6 416.6 L1254.8 416.6 L1254.0 416.6 L1253.2 416.6 L1252.2 416.6 L1251.2 416.6 L1250.1 416.6 L1249.0 416.6 L1247.8 416.5 L1246.8 416.4 L1245.7 416.3 L1244.8 416.2 L1244.0 416.1 L1243.2 415.9 L1242.5 415.8 L1241.8 415.6 L1241.2 415.4 L1240.6 415.2 L1240.0 415.0 L1239.4 414.9 L1238.8 414.8 L1238.3 414.7 L1237.8 414.5 L1237.3 414.4 L1236.9 414.2 L1236.4 414.0 L1235.9 413.8 L1235.5 413.6 L1235.0 413.3 L1234.6 413.0 L1234.1 412.7 L1233.7 412.4 L1233.3 412.0 L1232.9 411.6 L1232.4 411.2 L1232.0 410.7 L1231.6 410.2 L1231.3 409.6 L1230.9 409.0 L1230.5 408.4 L1230.1 407.8 L1229.8 407.1 L1229.4 406.6 L1229.1 406.0 L1228.8 405.5 L1228.5 405.0 L1228.2 404.5 L1227.9 404.0 L1227.6 403.5 L1227.3 403.0 L1227.0 402.6 L1226.6 402.3 L1226.3 402.0 L1225.9 401.7 L1225.6 401.4 L1225.2 401.2 L1224.8 401.0 L1224.4 400.9 L1224.1 400.9 L1223.7 400.8 L1223.3 400.9 L1223.0 400.9 L1222.6 400.8 L1222.3 400.8 L1221.9 400.8 L1221.6 400.9 L1221.2 401.0 L1220.8 401.2 L1220.3 401.5 L1219.8 401.8 L1219.4 402.1 L1218.8 402.5 L1218.3 403.0 L1217.8 403.4 L1217.3 403.9 L1216.8 404.3 L1216.3 404.8 L1215.8 405.3 L1215.4 405.8 L1214.9 406.4 L1214.4 407.0 L1213.9 407.6 L1213.4 408.1 L1212.9 408.6 L1212.4 409.0 L1211.9 409.4 L1211.4 409.8 L1210.9 410.1 L1210.4 410.4 L1210.0 410.7 L1209.5 410.9 L1209.0 411.1 L1208.5 411.3 L1208.0 411.5 L1207.5 411.6 L1207.0 411.7 L1206.6 411.8 L1206.1 411.8 L1205.6 411.8 L1205.0 411.9 L1204.5 412.0 L1204.0 412.1 L1203.5 412.1 L1202.9 412.1 L1202.4 412.0 L1201.8 412.0 L1201.2 411.9 L1200.6 411.8 L1200.0 411.6 L1199.3 411.4 L1198.6 411.2 L1197.9 411.0 L1197.2 410.8 L1196.5 410.5 L1195.9 410.2 L1195.2 409.9 L1194.6 409.5 L1194.1 409.2 L1193.5 408.7 L1193.0 408.3 L1192.5 407.8 L1191.9 407.3 L1191.4 406.8 L1190.8 406.2 L1190.2 405.5 L1189.6 404.9 L1189.0 404.1 L1188.3 403.4 L1187.7 402.6 L1187.1 401.7 L1186.5 400.9 L1185.9 400.0 L1185.4 399.2 L1184.8 398.3 L1184.4 397.4 L1183.9 396.5 L1183.4 395.6 L1182.9 394.7 L1182.5 393.8 L1182.0 392.9 L1181.5 392.0 L1181.0 391.1 L1180.5 389.8 L1180.0 388.6 L1179.5 387.4 L1179.0 386.2 L1178.5 385.1 L1178.0 384.0 L1177.6 382.9 L1177.2 381.8 L1176.7 380.8 L1176.3 379.8 L1175.9 378.8 L1175.5 377.8 L1175.0 376.8 L1174.6 375.8 L1174.2 375.0 L1173.7 374.3 L1173.3 373.7 L1172.9 373.0 L1172.5 372.3 L1172.0 371.5 L1171.6 370.7 L1171.2 369.8 L1170.7 368.8 L1170.3 367.8 L1169.8 366.8 L1169.4 365.7 L1169.0 364.5 L1168.5 363.2 L1168.1 361.9 L1167.7 360.4 L1167.4 358.8 L1167.1 357.1 L1166.7 355.4 L1166.4 353.5 L1166.2 351.6 L1165.9 349.6 L1165.6 347.5 L1165.3 345.2 L1165.0 342.9 L1164.7 340.5 L1164.4 338.0 L1164.1 335.5 L1163.7 332.7 L1163.4 329.8 L1163.1 326.6 L1162.8 323.2 L1162.5 319.5 L1162.2 315.6 L1161.9 311.4 L1161.6 307.0 L1161.3 302.5 L1161.0 297.9 L1160.7 293.2 L1160.4 288.5 L1160.1 283.8 L1159.8 278.9 L1159.5 274.0 L1159.1 268.9 L1158.8 263.8 L1158.5 258.6 L1158.2 253.4 L1157.9 248.0 L1157.6 242.6 L1157.3 237.0 L1157.0 231.2 L1156.7 225.5 L1156.3 219.8 L1156.0 214.6 L1155.7 209.4 L1155.5 204.4 L1155.2 199.4 L1154.9 194.4 L1154.7 189.4 L1154.4 184.4 L1154.2 179.6 L1154.0 174.9 L1153.7 170.5 L1153.5 166.3 L1153.3 162.2 L1153.0 158.2 L1152.7 154.3 L1152.5 150.6 L1152.2 147.8 L1152.0 145.3 L1151.8 143.2 L1151.5 141.5 L1151.3 140.3 L1151.1 139.5 L1150.9 139.1 L1150.7 139.1 L1150.5 139.2 L1150.3 139.6 L1150.1 140.1 L1149.9 140.7 L1149.7 141.3 L1149.6 142.0 L1149.4 141.9 L1149.3 141.9 L1149.1 142.1 L1149.0 142.4 L1148.8 142.9 L1148.6 143.6 L1148.4 144.3 L1148.2 145.1 L1147.9 146.1 L1147.7 147.2 L1147.4 148.6 L1147.2 150.2 L1146.9 152.2 L1146.6 154.5 L1146.3 157.2 L1146.1 160.4 L1145.8 163.8 L1145.5 168.4 L1145.1 173.6 L1144.8 179.1 L1144.5 184.6 L1144.2 190.2 L1143.8 196.1 L1143.5 202.4 L1143.1 209.0 L1142.7 215.6 L1142.3 222.2 L1141.9 228.6 L1141.6 234.5 L1141.2 239.9 L1140.9 244.8 L1140.6 249.5 L1140.2 253.9 L1139.9 258.0 L1139.6 261.7 L1139.3 265.2 L1139.1 268.3 L1138.8 271.0 L1138.5 273.3 L1138.2 275.2 L1138.0 276.7 L1137.7 277.9 L1137.5 278.8 L1137.3 279.5 L1137.0 280.2 L1136.8 280.7 L1136.6 280.9 L1136.4 281.0 L1136.2 280.9 L1136.1 280.7 L1135.9 280.3 L1135.7 279.7 L1135.5 279.1 L1135.3 278.2 L1135.1 277.3 L1134.9 276.3 L1134.7 275.2 L1134.4 274.0 L1134.2 272.5 L1133.9 270.7 L1133.7 268.6 L1133.4 266.0 L1133.0 263.4 L1132.7 260.2 L1132.3 256.7 L1131.9 253.0 L1131.5 249.0 L1131.2 245.1 L1130.8 241.2 L1130.4 237.5 L1130.1 233.7 L1129.8 229.7 L1129.4 225.6 L1129.1 221.6 L1128.8 217.8 L1128.5 214.2 L1128.2 211.1 L1128.0 208.5 L1127.7 206.5 L1127.5 204.8 L1127.3 203.5 L1127.1 202.5 L1126.9 201.8 L1126.7 201.4 L1126.5 201.2 L1126.3 201.2 L1126.1 201.3 L1126.0 201.3 L1125.8 200.4 L1125.7 199.8 L1125.5 199.5 L1125.4 199.5 L1125.2 199.6 L1125.0 200.0 L1124.9 200.5 L1124.7 201.3 L1124.5 202.2 L1124.3 203.4 L1124.2 204.8 L1124.0 206.7 L1123.8 208.9 L1123.6 211.6 L1123.3 216.0 L1123.1 221.1 L1122.9 226.7 L1122.6 232.7 L1122.3 238.8 L1122.1 244.9 L1121.8 250.9 L1121.6 256.6 L1121.3 262.0 L1121.1 267.4 L1120.9 272.7 L1120.6 277.9 L1120.4 283.1 L1120.1 288.3 L1119.9 293.5 L1119.6 298.7 L1119.4 304.6 L1119.2 310.4 L1118.9 316.3 L1118.7 322.1 L1118.5 327.9 L1118.2 333.7 L1118.0 339.3 L1117.7 344.9 L1117.3 350.5 L1117.0 356.2 L1116.6 361.8 L1116.3 367.4 L1115.9 372.8 L1115.5 377.9 L1115.1 382.7 L1114.7 387.0 L1114.3 390.8 L1114.0 394.2 L1113.6 397.4 L1113.2 400.2 L1112.9 402.7 L1112.5 405.1 L1112.1 407.1 L1111.8 408.9 L1111.4 410.5 L1111.0 411.7 L1110.7 412.7 L1110.3 413.5 L1109.9 414.1 L1109.6 414.6 L1109.2 415.0 L1108.8 415.5 L1108.4 415.9 L1108.0 416.2 L1107.6 416.3 L1107.2 416.5 L1106.8 416.5 L1106.4 416.5 L1106.1 416.6 L1105.9 416.6Z" fill="#e8211d" stroke="#e8211d" stroke-width="2.6" stroke-linejoin="round"/>
<path d="M1105.9 416.6 L1106.1 416.4 L1106.4 416.1 L1106.8 415.7 L1107.2 415.4 L1107.6 414.9 L1108.0 414.3 L1108.4 413.7 L1108.8 413.0 L1109.2 412.2 L1109.6 411.4 L1109.9 410.6 L1110.3 409.7 L1110.7 408.6 L1111.0 407.3 L1111.4 405.8 L1111.8 403.9 L1112.1 401.8 L1112.5 399.5 L1112.9 397.0 L1113.2 394.3 L1113.6 391.3 L1114.0 388.0 L1114.3 384.3 L1114.7 380.3 L1115.1 375.9 L1115.5 370.9 L1115.9 365.6 L1116.3 360.0 L1116.6 354.3 L1117.0 348.4 L1117.3 342.5 L1117.7 336.8 L1118.0 331.1 L1118.2 325.3 L1118.5 319.4 L1118.7 313.5 L1118.9 307.6 L1119.2 301.6 L1119.4 295.6 L1119.6 289.6 L1119.9 283.6 L1120.1 277.7 L1120.4 271.7 L1120.6 265.7 L1120.9 259.6 L1121.1 253.5 L1121.3 247.4 L1121.6 241.2 L1121.8 234.7 L1122.1 227.9 L1122.3 220.9 L1122.6 214.0 L1122.9 207.2 L1123.1 200.8 L1123.3 195.0 L1123.6 189.9 L1123.8 185.5 L1124.0 181.6 L1124.2 178.2 L1124.3 175.2 L1124.5 172.6 L1124.7 170.3 L1124.9 168.2 L1125.0 166.3 L1125.2 164.5 L1125.4 163.1 L1125.5 161.9 L1125.7 161.0 L1125.8 160.3 L1126.0 160.0 L1126.1 159.8 L1126.3 159.9 L1126.5 160.2 L1126.7 160.7 L1126.9 161.5 L1127.1 162.5 L1127.3 163.8 L1127.5 165.4 L1127.7 167.5 L1128.0 169.9 L1128.2 172.9 L1128.5 176.5 L1128.8 180.5 L1129.1 184.8 L1129.4 189.3 L1129.8 193.9 L1130.1 198.3 L1130.4 202.5 L1130.8 206.8 L1131.2 211.2 L1131.5 215.7 L1131.9 220.1 L1132.3 224.4 L1132.7 228.4 L1133.0 232.1 L1133.4 235.2 L1133.7 237.8 L1133.9 240.0 L1134.2 241.9 L1134.4 243.4 L1134.7 244.7 L1134.9 245.9 L1135.1 246.9 L1135.3 247.9 L1135.5 248.8 L1135.7 249.5 L1135.9 250.1 L1136.1 250.6 L1136.2 250.8 L1136.4 251.0 L1136.6 251.0 L1136.8 250.8 L1137.0 250.6 L1137.3 250.3 L1137.5 250.0 L1137.7 249.4 L1138.0 248.6 L1138.2 247.6 L1138.5 246.1 L1138.8 244.3 L1139.1 242.0 L1139.3 239.3 L1139.6 236.4 L1139.9 233.1 L1140.2 229.5 L1140.6 225.6 L1140.9 221.5 L1141.2 217.1 L1141.6 212.2 L1141.9 206.8 L1142.3 201.0 L1142.7 195.0 L1143.1 188.8 L1143.5 182.8 L1143.8 177.1 L1144.2 171.7 L1144.5 166.6 L1144.8 161.5 L1145.1 156.6 L1145.5 151.8 L1145.8 147.2 L1146.1 142.9 L1146.3 138.9 L1146.6 135.4 L1146.9 132.4 L1147.2 129.7 L1147.4 127.3 L1147.7 125.3 L1147.9 123.5 L1148.2 121.9 L1148.4 120.4 L1148.6 119.1 L1148.8 117.9 L1149.0 116.9 L1149.1 116.1 L1149.3 115.5 L1149.4 115.1 L1149.6 114.8 L1149.7 114.8 L1149.9 114.9 L1150.1 115.2 L1150.3 115.5 L1150.5 116.0 L1150.7 116.6 L1150.9 117.6 L1151.1 118.9 L1151.3 120.6 L1151.5 122.7 L1151.8 125.4 L1152.0 128.6 L1152.2 132.1 L1152.5 136.0 L1152.7 140.2 L1153.0 144.6 L1153.3 149.0 L1153.5 153.6 L1153.7 158.2 L1154.0 163.1 L1154.2 168.2 L1154.4 173.5 L1154.7 178.9 L1154.9 184.3 L1155.2 189.8 L1155.5 195.3 L1155.7 200.9 L1156.0 206.6 L1156.3 212.4 L1156.7 218.3 L1157.0 224.1 L1157.3 229.9 L1157.6 235.6 L1157.9 241.2 L1158.2 246.6 L1158.5 251.9 L1158.8 257.2 L1159.1 262.4 L1159.5 267.6 L1159.8 272.6 L1160.1 277.5 L1160.4 282.4 L1160.7 287.2 L1161.0 291.9 L1161.3 296.6 L1161.6 301.2 L1161.9 305.7 L1162.2 309.9 L1162.5 314.0 L1162.8 317.7 L1163.1 321.2 L1163.4 324.5 L1163.7 327.5 L1164.1 330.3 L1164.4 333.0 L1164.7 335.5 L1165.0 338.0 L1165.3 340.4 L1165.6 342.7 L1165.9 344.9 L1166.2 347.0 L1166.4 349.0 L1166.7 350.9 L1167.1 352.7 L1167.4 354.4 L1167.7 356.0 L1168.1 357.5 L1168.5 359.0 L1169.0 360.3 L1169.4 361.5 L1169.8 362.6 L1170.3 363.7 L1170.7 364.8 L1171.2 365.8 L1171.6 366.8 L1172.0 367.6 L1172.5 368.4 L1172.9 369.2 L1173.3 369.9 L1173.7 370.6 L1174.2 371.4 L1174.6 372.2 L1175.0 373.0 L1175.5 373.8 L1175.9 374.6 L1176.3 375.4 L1176.7 376.3 L1177.2 377.1 L1177.6 378.0 L1178.0 378.9 L1178.5 379.8 L1179.0 380.7 L1179.5 381.7 L1180.0 382.7 L1180.5 383.7 L1181.0 384.7 L1181.5 385.7 L1182.0 386.7 L1182.5 387.6 L1182.9 388.6 L1183.4 389.6 L1183.9 390.5 L1184.4 391.5 L1184.8 392.4 L1185.4 393.4 L1185.9 394.3 L1186.5 395.2 L1187.1 396.1 L1187.7 397.0 L1188.3 397.9 L1189.0 398.8 L1189.6 399.6 L1190.2 400.4 L1190.8 401.2 L1191.4 401.9 L1191.9 402.5 L1192.5 403.1 L1193.0 403.7 L1193.5 404.3 L1194.1 404.8 L1194.6 405.3 L1195.2 405.7 L1195.9 406.2 L1196.5 406.6 L1197.2 407.0 L1197.9 407.3 L1198.6 407.6 L1199.3 407.9 L1200.0 408.2 L1200.6 408.4 L1201.2 408.6 L1201.8 408.8 L1202.4 408.9 L1202.9 409.0 L1203.5 409.1 L1204.0 409.2 L1204.5 409.2 L1205.0 409.2 L1205.6 409.1 L1206.1 409.1 L1206.6 409.0 L1207.0 408.8 L1207.5 408.7 L1208.0 408.5 L1208.5 408.3 L1209.0 408.1 L1209.5 407.8 L1210.0 407.5 L1210.4 407.2 L1210.9 406.9 L1211.4 406.5 L1211.9 406.1 L1212.4 405.6 L1212.9 405.2 L1213.4 404.7 L1213.9 404.1 L1214.4 403.4 L1214.9 402.8 L1215.4 402.1 L1215.8 401.5 L1216.3 400.9 L1216.8 400.3 L1217.3 399.7 L1217.8 399.1 L1218.3 398.5 L1218.8 397.9 L1219.4 397.4 L1219.8 396.9 L1220.3 396.5 L1220.8 396.1 L1221.2 395.8 L1221.6 395.6 L1221.9 395.4 L1222.3 395.2 L1222.6 395.2 L1223.0 395.1 L1223.3 395.1 L1223.7 395.2 L1224.1 395.3 L1224.4 395.5 L1224.8 395.7 L1225.2 396.0 L1225.6 396.4 L1225.9 396.7 L1226.3 397.1 L1226.6 397.6 L1227.0 398.0 L1227.3 398.5 L1227.6 399.1 L1227.9 399.6 L1228.2 400.2 L1228.5 400.8 L1228.8 401.5 L1229.1 402.1 L1229.4 402.7 L1229.8 403.4 L1230.1 404.1 L1230.5 404.9 L1230.9 405.6 L1231.3 406.3 L1231.6 406.9 L1232.0 407.5 L1232.4 408.1 L1232.9 408.6 L1233.3 409.1 L1233.7 409.5 L1234.1 410.0 L1234.6 410.4 L1235.0 410.8 L1235.5 411.2 L1235.9 411.5 L1236.4 411.8 L1236.9 412.1 L1237.3 412.4 L1237.8 412.6 L1238.3 412.9 L1238.8 413.1 L1239.4 413.3 L1240.0 413.6 L1240.6 413.8 L1241.2 414.0 L1241.8 414.2 L1242.5 414.4 L1243.2 414.6 L1244.0 414.8 L1244.8 415.0 L1245.7 415.1 L1246.8 415.3 L1247.8 415.4 L1249.0 415.6 L1250.1 415.7 L1251.2 415.8 L1252.2 415.9 L1253.2 416.1 L1254.0 416.2 L1254.8 416.2 L1255.6 416.3 L1256.4 416.4 L1257.1 416.5 L1257.6 416.5 L1258.2 416.6 L1258.6 416.6" fill="none" stroke="#111" stroke-width="1.9" stroke-linejoin="round"/>
<text transform="translate(1125.50 111.20) scale(1 1.02)" font-size="29.2" text-anchor="middle" fill="#2f4d9d">98</text>
<text transform="translate(1154.20 85.20) scale(1 1.02)" font-size="29.2" text-anchor="middle" fill="#2f4d9d">146</text>
<text transform="translate(1225.80 384.80) scale(1 1.02)" font-size="29.2" text-anchor="middle" fill="#2f4d9d">296</text>
<ellipse cx="1308.5" cy="415.6" rx="9" ry="2.2" fill="#e8211d"/><ellipse cx="1358" cy="416" rx="10" ry="1.4" fill="#e8211d"/><ellipse cx="1283" cy="416.1" rx="6" ry="1.1" fill="#e8211d"/>
<line x1="1069.40" y1="416.90" x2="1569.20" y2="416.90" stroke="#000" stroke-width="1.2"/>
<text transform="translate(380.30 500.30) scale(1 1.04)" font-size="70.5">C</text>
<path d="M519.2 788.0 L517.7 781.8 L516.1 775.6 L516.1 769.4 L516.7 763.3 L517.4 757.1 L518.0 750.9 L518.6 744.7 L519.2 738.5 L519.9 732.4 L520.6 726.2 L521.2 720.0 L522.1 713.8 L523.2 707.6 L524.2 701.5 L525.3 695.3 L526.5 689.1 L527.9 682.9 L529.2 676.7 L530.5 670.6 L531.9 664.4 L533.2 658.2 L534.5 652.0 L535.9 645.8 L537.2 639.6 L538.2 633.5 L539.1 627.3 L540.1 621.1 L541.0 614.9 L542.0 608.7 L542.7 602.6 L543.2 596.4 L543.8 590.2 L544.4 584.0 L545.0 577.8 L545.6 571.7 L546.2 565.5 L546.9 559.3 L547.5 553.1 L548.2 546.9 L548.9 540.8 L619.6 540.8 L618.8 546.9 L617.9 553.1 L616.9 559.3 L615.7 565.5 L614.5 571.7 L613.4 577.8 L612.3 584.0 L611.4 590.2 L610.5 596.4 L609.6 602.6 L608.6 608.7 L607.7 614.9 L606.8 621.1 L605.8 627.3 L604.9 633.5 L604.0 639.6 L603.0 645.8 L602.1 652.0 L601.2 658.2 L600.2 664.4 L599.3 670.6 L598.4 676.7 L597.5 682.9 L596.5 689.1 L595.6 695.3 L594.7 701.5 L593.7 707.6 L592.8 713.8 L591.7 720.0 L590.5 726.2 L589.3 732.4 L588.1 738.5 L586.9 744.7 L585.7 750.9 L584.5 757.1 L583.2 763.3 L581.1 769.4 L578.9 775.6 L574.8 781.8 L561.8 788.0Z" fill="#4db33d" stroke="#4db33d" stroke-width="3" stroke-linejoin="round"/>
<path d="M600.0 674.6h3.0v3.0h-3.0zM603.1 661.1h2.7v2.7h-2.7zM615.0 630.7h3.1v3.1h-3.1zM587.6 764.6h2.0v2.0h-2.0zM581.2 748.0h2.1v2.1h-2.1zM584.6 739.9h2.0v2.0h-2.0zM604.5 663.0h2.9v2.9h-2.9zM590.3 708.9h2.3v2.3h-2.3zM609.6 596.5h4.2v4.2h-4.2zM634.6 548.9h4.4v4.4h-4.4zM617.1 560.3h5.2v5.2h-5.2zM581.9 768.9h2.0v2.0h-2.0zM581.1 757.8h2.0v2.0h-2.0zM607.6 589.0h3.8v3.8h-3.8zM582.6 758.2h2.0v2.0h-2.0zM606.2 762.1h2.1v2.1h-2.1zM609.0 595.2h3.5v3.5h-3.5zM582.8 764.7h2.0v2.0h-2.0zM595.0 694.7h2.7v2.7h-2.7zM616.4 644.4h3.1v3.1h-3.1zM629.8 561.1h4.5v4.5h-4.5zM619.4 567.7h4.3v4.3h-4.3zM598.3 723.3h2.4v2.4h-2.4zM590.5 743.6h2.1v2.1h-2.1zM614.6 648.0h3.5v3.5h-3.5zM613.5 559.4h3.6v3.6h-3.6zM593.6 676.6h2.5v2.5h-2.5zM625.3 542.8h5.5v5.5h-5.5zM604.7 683.4h3.0v3.0h-3.0zM604.0 631.8h3.3v3.3h-3.3zM608.0 606.0h3.9v3.9h-3.9zM577.5 779.7h1.9v1.9h-1.9zM614.3 568.2h4.4v4.4h-4.4zM633.0 610.1h4.1v4.1h-4.1zM596.0 675.3h2.5v2.5h-2.5zM620.4 543.2h4.0v4.0h-4.0zM608.9 570.1h4.3v4.3h-4.3zM599.9 710.4h2.3v2.3h-2.3zM593.4 674.1h2.8v2.8h-2.8zM580.7 752.1h2.1v2.1h-2.1zM603.8 617.1h3.3v3.3h-3.3zM566.1 784.4h1.9v1.9h-1.9zM589.6 719.5h2.4v2.4h-2.4zM618.8 552.1h4.9v4.9h-4.9zM612.8 574.6h3.5v3.5h-3.5zM610.1 650.3h3.2v3.2h-3.2zM606.5 585.9h4.1v4.1h-4.1zM601.0 704.0h2.4v2.4h-2.4zM619.2 551.4h5.4v5.4h-5.4zM606.9 628.2h3.7v3.7h-3.7zM596.5 735.3h2.4v2.4h-2.4zM599.6 644.8h3.0v3.0h-3.0zM598.8 636.6h3.4v3.4h-3.4zM604.5 687.6h2.8v2.8h-2.8zM602.4 615.5h3.4v3.4h-3.4zM642.4 548.8h5.3v5.3h-5.3zM612.3 556.9h4.7v4.7h-4.7zM584.6 738.9h2.2v2.2h-2.2zM584.0 756.6h2.0v2.0h-2.0zM601.2 655.4h2.9v2.9h-2.9zM628.2 732.6h2.8v2.8h-2.8zM594.2 727.7h2.2v2.2h-2.2zM612.6 580.0h4.4v4.4h-4.4zM601.0 687.2h2.4v2.4h-2.4zM625.3 616.9h4.7v4.7h-4.7zM583.2 740.2h2.0v2.0h-2.0zM603.4 650.0h3.1v3.1h-3.1zM606.0 672.4h2.8v2.8h-2.8zM600.4 659.1h3.0v3.0h-3.0zM621.1 612.9h3.5v3.5h-3.5zM609.0 603.5h3.3v3.3h-3.3zM622.1 611.7h4.2v4.2h-4.2zM616.4 614.2h4.1v4.1h-4.1zM603.7 607.7h3.3v3.3h-3.3zM604.9 729.4h2.5v2.5h-2.5zM608.9 623.1h3.5v3.5h-3.5zM589.6 723.5h2.1v2.1h-2.1zM603.0 650.3h3.4v3.4h-3.4zM625.1 539.1h5.7v5.7h-5.7zM585.5 747.4h2.0v2.0h-2.0zM599.3 635.2h3.4v3.4h-3.4zM604.1 656.3h2.9v2.9h-2.9zM587.7 713.7h2.2v2.2h-2.2zM590.1 768.8h2.0v2.0h-2.0zM599.8 637.2h3.2v3.2h-3.2zM583.7 736.6h2.1v2.1h-2.1zM602.2 677.1h2.8v2.8h-2.8zM602.8 642.4h3.3v3.3h-3.3zM649.4 537.7h7.2v7.2h-7.2zM592.3 697.9h2.5v2.5h-2.5zM607.5 640.0h3.5v3.5h-3.5zM573.5 777.3h1.9v1.9h-1.9zM600.4 632.3h3.2v3.2h-3.2zM595.6 694.5h2.4v2.4h-2.4zM622.9 602.1h3.6v3.6h-3.6zM616.3 585.7h4.5v4.5h-4.5zM594.6 681.7h2.8v2.8h-2.8zM644.8 624.2h4.4v4.4h-4.4zM630.1 601.4h4.3v4.3h-4.3zM590.8 763.0h2.0v2.0h-2.0zM603.3 646.9h3.2v3.2h-3.2zM591.1 696.1h2.6v2.6h-2.6zM642.3 557.5h6.7v6.7h-6.7zM609.8 587.6h3.6v3.6h-3.6zM637.6 554.4h5.0v5.0h-5.0zM593.7 696.4h2.5v2.5h-2.5zM588.5 738.7h2.2v2.2h-2.2zM612.9 568.5h3.5v3.5h-3.5zM608.7 657.5h3.0v3.0h-3.0zM625.6 546.1h5.0v5.0h-5.0zM615.2 607.6h4.3v4.3h-4.3zM606.7 656.8h3.3v3.3h-3.3zM592.0 694.0h2.4v2.4h-2.4zM613.5 714.6h2.4v2.4h-2.4zM585.6 758.6h2.1v2.1h-2.1zM573.5 778.1h1.9v1.9h-1.9zM593.7 728.6h2.3v2.3h-2.3zM594.1 709.7h2.5v2.5h-2.5zM601.6 722.3h2.6v2.6h-2.6zM625.2 650.9h3.6v3.6h-3.6zM591.1 774.7h2.0v2.0h-2.0zM603.5 624.0h2.9v2.9h-2.9zM602.9 694.7h2.8v2.8h-2.8zM582.3 748.1h2.0v2.0h-2.0zM578.7 766.6h2.0v2.0h-2.0zM599.6 667.7h3.1v3.1h-3.1zM611.6 573.8h4.5v4.5h-4.5zM611.4 559.0h4.7v4.7h-4.7zM591.0 709.9h2.2v2.2h-2.2zM618.6 581.1h3.5v3.5h-3.5zM605.2 610.7h3.5v3.5h-3.5zM588.8 784.4h1.9v1.9h-1.9zM602.4 634.1h3.1v3.1h-3.1zM587.4 723.4h2.3v2.3h-2.3zM621.1 551.8h5.2v5.2h-5.2zM607.9 581.9h3.4v3.4h-3.4zM613.7 618.8h3.3v3.3h-3.3zM617.1 579.3h3.6v3.6h-3.6zM582.0 748.1h2.1v2.1h-2.1zM622.6 596.4h4.1v4.1h-4.1zM631.1 542.3h5.7v5.7h-5.7zM619.1 562.6h4.3v4.3h-4.3zM588.4 751.9h2.2v2.2h-2.2zM601.8 631.5h2.8v2.8h-2.8zM595.0 753.4h2.1v2.1h-2.1zM604.2 715.4h2.4v2.4h-2.4zM608.9 580.6h4.0v4.0h-4.0zM597.8 692.3h2.7v2.7h-2.7zM587.5 737.6h2.1v2.1h-2.1zM599.2 645.7h3.0v3.0h-3.0zM601.0 646.0h3.1v3.1h-3.1zM602.4 620.2h3.7v3.7h-3.7zM628.2 578.5h4.6v4.6h-4.6zM619.0 646.3h3.5v3.5h-3.5zM612.1 679.7h2.8v2.8h-2.8zM626.4 606.3h4.6v4.6h-4.6zM607.7 600.2h3.8v3.8h-3.8zM583.3 756.2h2.0v2.0h-2.0zM581.1 774.2h1.9v1.9h-1.9zM591.8 711.1h2.3v2.3h-2.3zM584.4 756.3h2.1v2.1h-2.1zM587.8 726.6h2.2v2.2h-2.2zM628.8 564.3h4.7v4.7h-4.7zM611.8 563.9h4.7v4.7h-4.7zM574.6 774.7h1.9v1.9h-1.9zM632.7 562.6h5.6v5.6h-5.6zM629.9 613.8h4.2v4.2h-4.2zM586.8 731.7h2.2v2.2h-2.2zM598.9 694.5h2.8v2.8h-2.8zM599.1 677.7h2.7v2.7h-2.7zM579.2 765.4h2.0v2.0h-2.0zM612.0 691.5h2.8v2.8h-2.8zM608.6 616.8h4.0v4.0h-4.0zM606.8 593.3h3.8v3.8h-3.8zM589.6 728.6h2.2v2.2h-2.2zM616.8 644.8h3.1v3.1h-3.1zM570.0 782.7h1.9v1.9h-1.9zM604.5 645.7h3.4v3.4h-3.4zM583.0 750.8h2.0v2.0h-2.0zM606.5 632.9h3.1v3.1h-3.1zM587.7 765.1h2.0v2.0h-2.0zM578.1 771.9h1.9v1.9h-1.9zM574.6 777.3h1.9v1.9h-1.9zM594.0 689.6h2.5v2.5h-2.5zM586.6 730.0h2.2v2.2h-2.2zM616.6 672.4h3.0v3.0h-3.0zM624.4 543.3h4.1v4.1h-4.1zM617.8 571.8h4.9v4.9h-4.9zM586.8 733.7h2.1v2.1h-2.1zM583.0 746.5h2.0v2.0h-2.0zM610.7 572.8h3.9v3.9h-3.9zM606.4 615.4h3.2v3.2h-3.2zM605.9 609.5h3.4v3.4h-3.4zM610.4 561.8h3.9v3.9h-3.9zM596.2 658.2h2.8v2.8h-2.8zM574.2 776.9h1.9v1.9h-1.9zM592.3 709.6h2.4v2.4h-2.4zM595.4 686.4h2.8v2.8h-2.8zM590.6 714.7h2.2v2.2h-2.2zM611.2 571.2h4.3v4.3h-4.3zM596.6 681.0h2.4v2.4h-2.4zM594.0 705.7h2.4v2.4h-2.4zM585.7 727.6h2.2v2.2h-2.2zM586.5 749.6h2.1v2.1h-2.1zM602.4 613.3h3.3v3.3h-3.3zM578.2 771.5h1.9v1.9h-1.9zM604.0 641.6h3.0v3.0h-3.0zM571.5 781.2h1.9v1.9h-1.9zM594.1 722.1h2.2v2.2h-2.2zM628.6 634.0h3.8v3.8h-3.8zM613.9 568.1h4.8v4.8h-4.8zM584.6 753.4h2.0v2.0h-2.0zM614.8 544.4h4.0v4.0h-4.0zM604.3 618.4h2.9v2.9h-2.9zM601.9 665.3h2.8v2.8h-2.8zM611.9 601.1h3.5v3.5h-3.5zM590.1 706.4h2.4v2.4h-2.4zM582.8 759.1h2.1v2.1h-2.1zM594.5 746.7h2.2v2.2h-2.2zM590.7 724.0h2.4v2.4h-2.4zM605.5 609.1h3.7v3.7h-3.7zM624.7 580.6h3.9v3.9h-3.9zM603.7 621.0h3.0v3.0h-3.0zM624.1 641.1h4.3v4.3h-4.3zM607.0 616.2h3.6v3.6h-3.6zM614.9 540.2h4.3v4.3h-4.3zM602.5 652.4h2.9v2.9h-2.9zM625.4 588.0h4.1v4.1h-4.1zM612.8 633.3h4.0v4.0h-4.0zM609.6 614.5h3.9v3.9h-3.9zM582.7 743.6h2.2v2.2h-2.2zM595.7 665.9h2.7v2.7h-2.7zM598.7 646.5h3.1v3.1h-3.1zM589.1 730.6h2.2v2.2h-2.2zM574.5 774.4h1.9v1.9h-1.9zM597.0 736.9h2.3v2.3h-2.3zM611.6 586.8h3.4v3.4h-3.4zM605.2 607.2h3.0v3.0h-3.0zM593.6 710.2h2.2v2.2h-2.2zM622.1 580.8h5.2v5.2h-5.2zM617.7 550.5h5.0v5.0h-5.0zM610.4 561.0h4.3v4.3h-4.3zM598.1 696.6h2.5v2.5h-2.5zM614.7 562.4h3.7v3.7h-3.7zM605.9 602.7h3.8v3.8h-3.8zM603.5 618.3h3.0v3.0h-3.0zM594.0 700.2h2.3v2.3h-2.3zM587.7 732.6h2.2v2.2h-2.2zM594.8 719.2h2.5v2.5h-2.5zM585.3 741.5h2.2v2.2h-2.2zM604.3 629.4h3.4v3.4h-3.4zM607.7 615.6h3.7v3.7h-3.7zM592.9 691.6h2.6v2.6h-2.6zM595.7 659.2h2.9v2.9h-2.9zM606.6 639.5h3.6v3.6h-3.6zM636.0 670.2h3.9v3.9h-3.9zM608.8 755.6h2.2v2.2h-2.2zM612.9 588.5h4.6v4.6h-4.6zM599.7 674.2h3.0v3.0h-3.0zM594.5 717.7h2.2v2.2h-2.2zM607.4 589.2h3.6v3.6h-3.6zM590.5 738.2h2.2v2.2h-2.2zM592.0 702.8h2.5v2.5h-2.5zM610.0 637.4h3.0v3.0h-3.0zM608.4 614.9h3.1v3.1h-3.1zM622.6 553.1h4.5v4.5h-4.5zM627.0 539.2h5.7v5.7h-5.7zM606.5 681.6h2.8v2.8h-2.8zM601.4 715.9h2.5v2.5h-2.5zM616.8 554.7h4.9v4.9h-4.9zM593.7 675.8h2.6v2.6h-2.6zM603.9 620.2h3.3v3.3h-3.3zM612.9 564.6h4.1v4.1h-4.1zM626.9 582.8h4.7v4.7h-4.7zM592.2 762.4h2.0v2.0h-2.0zM600.6 694.0h2.7v2.7h-2.7zM597.7 670.6h2.7v2.7h-2.7zM663.4 612.3h4.7v4.7h-4.7zM586.8 735.2h2.1v2.1h-2.1zM618.8 605.6h3.5v3.5h-3.5zM571.9 781.1h1.9v1.9h-1.9zM588.6 759.5h2.0v2.0h-2.0zM584.9 756.2h2.0v2.0h-2.0zM598.4 659.8h3.0v3.0h-3.0zM592.4 684.4h2.4v2.4h-2.4zM602.5 648.3h3.3v3.3h-3.3zM609.0 575.5h4.6v4.6h-4.6zM616.4 604.7h3.5v3.5h-3.5zM618.6 627.4h3.2v3.2h-3.2zM594.0 689.1h2.7v2.7h-2.7zM594.6 695.8h2.5v2.5h-2.5zM579.4 771.8h1.9v1.9h-1.9zM584.9 731.9h2.2v2.2h-2.2zM596.6 666.9h2.9v2.9h-2.9zM564.5 784.8h1.9v1.9h-1.9zM628.8 639.4h3.7v3.7h-3.7zM593.0 695.5h2.5v2.5h-2.5zM574.8 773.9h1.9v1.9h-1.9zM611.2 589.1h4.3v4.3h-4.3zM597.8 643.1h3.2v3.2h-3.2zM641.9 617.3h5.4v5.4h-5.4zM611.0 592.7h4.2v4.2h-4.2zM598.0 676.1h2.5v2.5h-2.5zM608.9 621.7h3.1v3.1h-3.1zM592.6 756.5h2.1v2.1h-2.1zM587.1 761.0h2.0v2.0h-2.0zM586.2 737.0h2.1v2.1h-2.1zM605.1 640.2h3.1v3.1h-3.1zM612.0 577.7h4.2v4.2h-4.2zM617.3 543.0h5.0v5.0h-5.0zM595.5 722.2h2.4v2.4h-2.4zM617.2 560.9h4.4v4.4h-4.4zM579.6 778.4h1.9v1.9h-1.9zM606.8 586.7h4.1v4.1h-4.1zM588.3 737.6h2.2v2.2h-2.2zM601.8 714.8h2.6v2.6h-2.6zM585.6 725.3h2.2v2.2h-2.2zM589.7 714.4h2.2v2.2h-2.2zM589.0 719.5h2.2v2.2h-2.2zM606.2 635.6h3.5v3.5h-3.5zM625.2 622.7h4.3v4.3h-4.3zM619.8 552.3h4.8v4.8h-4.8zM601.1 623.7h3.6v3.6h-3.6zM598.3 646.5h3.3v3.3h-3.3zM609.1 570.3h4.2v4.2h-4.2zM624.7 574.2h4.7v4.7h-4.7zM597.7 656.3h2.9v2.9h-2.9zM596.8 663.2h2.9v2.9h-2.9zM595.1 666.5h2.7v2.7h-2.7zM622.6 545.4h4.2v4.2h-4.2zM607.8 634.6h3.7v3.7h-3.7zM624.4 658.1h3.0v3.0h-3.0zM644.0 570.9h4.5v4.5h-4.5zM619.4 580.7h4.3v4.3h-4.3zM621.7 599.0h3.5v3.5h-3.5zM644.6 588.6h6.0v6.0h-6.0zM592.4 722.0h2.3v2.3h-2.3zM583.1 743.5h2.1v2.1h-2.1zM584.2 741.3h2.1v2.1h-2.1zM614.3 606.3h4.2v4.2h-4.2zM585.1 767.6h2.0v2.0h-2.0zM629.6 684.0h3.2v3.2h-3.2zM663.4 559.5h6.6v6.6h-6.6zM609.0 669.0h2.7v2.7h-2.7zM591.1 692.6h2.7v2.7h-2.7zM623.2 567.1h5.4v5.4h-5.4zM577.1 769.3h1.9v1.9h-1.9zM589.5 711.0h2.2v2.2h-2.2zM603.9 652.8h3.2v3.2h-3.2zM612.9 551.9h3.9v3.9h-3.9zM598.7 710.2h2.6v2.6h-2.6zM583.9 747.3h2.1v2.1h-2.1zM643.7 589.4h5.2v5.2h-5.2zM612.8 543.8h4.9v4.9h-4.9zM604.2 663.1h2.9v2.9h-2.9zM566.8 783.3h1.8v1.8h-1.8zM591.6 708.3h2.5v2.5h-2.5zM598.4 683.6h2.7v2.7h-2.7zM588.7 715.4h2.4v2.4h-2.4zM599.4 642.0h3.4v3.4h-3.4zM585.2 763.0h2.0v2.0h-2.0zM617.2 663.4h3.3v3.3h-3.3zM561.6 786.7h1.8v1.8h-1.8zM605.8 630.3h2.9v2.9h-2.9zM603.0 667.3h3.2v3.2h-3.2zM593.5 677.1h2.8v2.8h-2.8zM598.8 662.3h2.7v2.7h-2.7zM607.6 587.8h4.1v4.1h-4.1zM603.2 726.5h2.2v2.2h-2.2zM603.8 759.8h2.2v2.2h-2.2zM600.5 632.3h3.3v3.3h-3.3zM623.8 645.4h3.8v3.8h-3.8zM594.4 691.8h2.3v2.3h-2.3zM609.3 614.6h3.4v3.4h-3.4zM608.8 704.8h2.9v2.9h-2.9zM591.4 704.4h2.4v2.4h-2.4zM584.1 778.3h1.9v1.9h-1.9zM606.8 602.3h3.3v3.3h-3.3zM587.9 727.3h2.1v2.1h-2.1zM596.2 684.3h2.5v2.5h-2.5zM597.7 656.0h3.1v3.1h-3.1zM608.5 611.7h3.5v3.5h-3.5zM620.5 668.8h3.6v3.6h-3.6zM577.7 769.4h2.0v2.0h-2.0zM580.9 775.6h1.9v1.9h-1.9zM594.2 669.6h2.5v2.5h-2.5zM597.1 723.1h2.4v2.4h-2.4zM594.6 696.3h2.5v2.5h-2.5zM598.7 674.0h3.0v3.0h-3.0zM600.4 687.3h2.8v2.8h-2.8zM568.6 782.9h1.9v1.9h-1.9zM599.6 738.3h2.1v2.1h-2.1zM626.2 582.8h4.4v4.4h-4.4zM616.9 609.8h4.2v4.2h-4.2zM594.3 724.6h2.3v2.3h-2.3zM614.5 541.4h5.0v5.0h-5.0zM634.0 606.3h4.2v4.2h-4.2zM593.3 682.8h2.6v2.6h-2.6zM600.8 699.6h2.4v2.4h-2.4zM613.4 614.9h4.1v4.1h-4.1zM589.8 719.2h2.3v2.3h-2.3zM599.0 694.2h2.4v2.4h-2.4zM639.1 569.8h4.8v4.8h-4.8zM591.0 721.4h2.4v2.4h-2.4zM606.0 613.2h3.9v3.9h-3.9zM605.9 645.3h3.6v3.6h-3.6zM623.7 559.6h4.2v4.2h-4.2zM604.6 652.3h2.8v2.8h-2.8zM593.4 707.1h2.3v2.3h-2.3zM593.3 698.8h2.4v2.4h-2.4zM586.1 722.4h2.2v2.2h-2.2zM587.2 720.4h2.4v2.4h-2.4zM609.6 632.3h3.6v3.6h-3.6zM595.9 684.5h2.6v2.6h-2.6zM584.4 731.6h2.1v2.1h-2.1zM616.0 589.2h3.8v3.8h-3.8zM610.0 602.1h3.6v3.6h-3.6zM577.8 768.6h2.0v2.0h-2.0zM598.6 659.2h3.1v3.1h-3.1zM613.6 540.5h5.4v5.4h-5.4zM583.9 750.3h2.1v2.1h-2.1zM606.6 640.2h2.9v2.9h-2.9zM622.8 563.3h4.2v4.2h-4.2zM567.6 782.6h1.9v1.9h-1.9zM598.0 648.3h3.0v3.0h-3.0zM619.9 584.3h4.7v4.7h-4.7zM581.8 778.6h1.9v1.9h-1.9zM590.7 707.3h2.5v2.5h-2.5zM608.8 629.1h3.8v3.8h-3.8zM601.5 647.1h3.3v3.3h-3.3zM576.6 770.7h1.9v1.9h-1.9zM604.1 631.0h3.4v3.4h-3.4zM578.7 772.5h1.9v1.9h-1.9zM574.0 775.0h1.9v1.9h-1.9zM588.4 767.7h1.9v1.9h-1.9zM581.9 750.5h2.0v2.0h-2.0zM614.4 569.4h3.6v3.6h-3.6zM617.1 576.3h4.9v4.9h-4.9zM581.1 759.2h2.0v2.0h-2.0zM590.2 737.4h2.1v2.1h-2.1zM600.6 654.2h2.7v2.7h-2.7zM599.6 661.0h2.9v2.9h-2.9zM601.2 634.4h3.0v3.0h-3.0zM619.3 566.4h4.3v4.3h-4.3zM600.0 694.6h2.8v2.8h-2.8zM628.3 613.2h3.8v3.8h-3.8zM624.4 602.9h4.0v4.0h-4.0zM583.8 751.4h2.1v2.1h-2.1zM605.6 593.1h3.8v3.8h-3.8zM595.7 707.0h2.3v2.3h-2.3zM656.0 573.3h5.6v5.6h-5.6zM603.8 614.6h3.7v3.7h-3.7zM600.9 649.0h2.6v2.6h-2.6zM600.4 628.7h3.3v3.3h-3.3zM595.3 682.6h2.6v2.6h-2.6zM609.9 602.7h3.9v3.9h-3.9zM581.6 746.9h2.1v2.1h-2.1zM575.3 772.6h1.9v1.9h-1.9zM591.2 694.7h2.5v2.5h-2.5zM584.8 730.2h2.1v2.1h-2.1zM606.0 630.1h2.9v2.9h-2.9zM592.8 721.7h2.3v2.3h-2.3zM632.1 540.6h5.0v5.0h-5.0zM598.8 666.9h2.8v2.8h-2.8zM614.0 538.6h4.4v4.4h-4.4zM603.1 618.9h3.0v3.0h-3.0zM612.2 637.5h3.4v3.4h-3.4zM607.6 695.8h2.6v2.6h-2.6zM616.8 567.1h3.8v3.8h-3.8zM587.9 734.0h2.2v2.2h-2.2zM579.1 760.0h2.0v2.0h-2.0zM627.8 563.2h4.4v4.4h-4.4zM628.4 562.6h4.1v4.1h-4.1zM591.2 725.4h2.2v2.2h-2.2zM618.5 602.2h3.8v3.8h-3.8zM615.1 613.9h3.7v3.7h-3.7zM579.0 763.3h2.0v2.0h-2.0zM604.6 627.1h3.2v3.2h-3.2zM607.3 638.4h3.5v3.5h-3.5zM615.0 558.1h4.2v4.2h-4.2zM586.9 751.8h2.1v2.1h-2.1zM594.7 699.6h2.4v2.4h-2.4zM594.9 681.7h2.7v2.7h-2.7zM615.7 628.4h3.4v3.4h-3.4zM579.9 757.3h2.1v2.1h-2.1zM568.1 783.3h1.9v1.9h-1.9zM609.9 697.6h3.0v3.0h-3.0zM590.1 755.8h2.0v2.0h-2.0zM578.7 763.0h2.0v2.0h-2.0zM602.7 620.8h3.3v3.3h-3.3zM606.5 659.0h3.2v3.2h-3.2zM624.1 591.1h3.7v3.7h-3.7zM574.8 775.4h1.9v1.9h-1.9zM598.0 678.1h2.7v2.7h-2.7zM577.5 769.9h2.0v2.0h-2.0zM606.2 621.4h3.4v3.4h-3.4zM596.1 672.3h2.8v2.8h-2.8zM581.6 753.0h2.0v2.0h-2.0zM582.4 786.3h1.9v1.9h-1.9zM592.6 747.6h2.2v2.2h-2.2zM621.5 598.7h4.8v4.8h-4.8zM617.8 561.1h3.9v3.9h-3.9zM597.8 678.6h2.7v2.7h-2.7zM603.1 674.0h3.0v3.0h-3.0zM598.9 646.5h2.7v2.7h-2.7zM590.2 698.0h2.3v2.3h-2.3zM633.2 552.9h4.3v4.3h-4.3zM593.2 695.7h2.3v2.3h-2.3zM612.5 578.7h3.6v3.6h-3.6zM606.4 590.8h3.3v3.3h-3.3zM618.7 596.0h3.8v3.8h-3.8zM594.6 698.9h2.6v2.6h-2.6zM613.3 553.5h5.1v5.1h-5.1zM607.3 587.3h3.5v3.5h-3.5zM616.5 572.2h3.6v3.6h-3.6zM591.4 714.4h2.5v2.5h-2.5zM591.3 702.7h2.3v2.3h-2.3zM598.3 684.7h2.6v2.6h-2.6zM587.5 714.9h2.4v2.4h-2.4zM598.8 665.1h2.7v2.7h-2.7zM590.3 713.6h2.2v2.2h-2.2zM594.3 667.7h2.9v2.9h-2.9zM599.3 677.0h2.5v2.5h-2.5zM613.8 591.9h3.9v3.9h-3.9zM624.0 564.5h5.0v5.0h-5.0zM621.2 638.5h3.2v3.2h-3.2zM614.2 693.9h2.6v2.6h-2.6zM604.2 710.9h2.3v2.3h-2.3zM624.8 604.4h4.6v4.6h-4.6zM584.1 767.0h2.0v2.0h-2.0zM620.4 554.9h3.9v3.9h-3.9zM581.4 759.8h2.0v2.0h-2.0zM630.5 561.4h4.5v4.5h-4.5zM602.2 672.9h2.9v2.9h-2.9zM618.0 540.8h3.9v3.9h-3.9zM592.6 735.1h2.3v2.3h-2.3zM613.8 665.6h3.6v3.6h-3.6zM612.0 619.1h3.8v3.8h-3.8zM612.6 587.8h3.6v3.6h-3.6zM609.5 618.2h3.1v3.1h-3.1zM593.6 688.4h2.4v2.4h-2.4zM603.2 634.7h3.1v3.1h-3.1zM655.8 584.2h5.8v5.8h-5.8zM620.1 540.2h5.6v5.6h-5.6zM593.7 689.0h2.6v2.6h-2.6zM591.7 711.3h2.2v2.2h-2.2zM588.1 738.6h2.1v2.1h-2.1zM604.7 712.2h2.4v2.4h-2.4zM598.5 657.0h2.9v2.9h-2.9zM631.2 541.1h4.7v4.7h-4.7zM597.9 660.2h3.2v3.2h-3.2zM582.3 769.7h1.9v1.9h-1.9zM598.1 724.3h2.2v2.2h-2.2zM576.8 768.3h2.0v2.0h-2.0zM587.7 772.0h2.0v2.0h-2.0zM593.2 676.3h2.7v2.7h-2.7zM619.0 656.1h3.6v3.6h-3.6zM602.7 643.3h3.1v3.1h-3.1zM645.5 599.5h5.3v5.3h-5.3zM616.3 549.7h4.1v4.1h-4.1zM580.8 750.6h2.1v2.1h-2.1zM597.2 655.1h2.6v2.6h-2.6zM609.0 569.7h4.3v4.3h-4.3zM619.4 616.0h4.2v4.2h-4.2zM590.4 699.4h2.4v2.4h-2.4zM600.5 679.4h2.8v2.8h-2.8zM598.6 722.0h2.3v2.3h-2.3zM605.4 590.2h3.7v3.7h-3.7zM632.5 608.9h4.8v4.8h-4.8zM587.6 737.7h2.1v2.1h-2.1zM584.6 764.8h2.0v2.0h-2.0zM614.7 553.3h3.6v3.6h-3.6zM586.7 766.3h2.0v2.0h-2.0zM585.6 758.7h2.0v2.0h-2.0zM582.5 753.1h2.0v2.0h-2.0zM608.6 586.9h3.6v3.6h-3.6zM610.8 596.8h4.4v4.4h-4.4zM581.8 771.3h2.0v2.0h-2.0zM586.1 750.9h2.0v2.0h-2.0zM614.4 574.9h4.1v4.1h-4.1zM614.3 591.0h3.9v3.9h-3.9zM594.1 673.4h2.5v2.5h-2.5zM593.4 681.5h2.8v2.8h-2.8zM617.5 571.8h3.8v3.8h-3.8zM622.2 552.6h4.4v4.4h-4.4zM601.7 648.2h3.4v3.4h-3.4zM610.6 570.9h3.4v3.4h-3.4zM613.3 701.1h2.8v2.8h-2.8zM604.0 626.6h2.9v2.9h-2.9zM589.5 751.9h2.1v2.1h-2.1zM624.4 636.8h3.9v3.9h-3.9zM592.2 706.7h2.4v2.4h-2.4zM619.3 627.3h4.0v4.0h-4.0zM603.2 651.2h3.1v3.1h-3.1zM609.4 618.5h3.6v3.6h-3.6zM593.8 714.3h2.4v2.4h-2.4zM592.5 742.9h2.1v2.1h-2.1zM588.5 718.0h2.2v2.2h-2.2zM597.4 657.1h3.0v3.0h-3.0zM605.6 631.9h3.4v3.4h-3.4zM632.2 641.2h4.1v4.1h-4.1zM608.2 596.3h3.6v3.6h-3.6zM591.6 691.8h2.3v2.3h-2.3zM612.3 608.3h4.1v4.1h-4.1zM613.1 602.5h4.0v4.0h-4.0zM607.6 612.0h4.0v4.0h-4.0zM586.3 745.8h2.1v2.1h-2.1zM611.3 566.1h4.4v4.4h-4.4zM580.9 785.6h1.9v1.9h-1.9zM606.0 628.8h3.0v3.0h-3.0zM610.1 677.6h2.7v2.7h-2.7zM600.7 669.9h3.0v3.0h-3.0zM612.1 706.7h2.7v2.7h-2.7zM597.5 666.2h2.6v2.6h-2.6zM597.2 678.4h2.7v2.7h-2.7zM611.4 728.1h2.5v2.5h-2.5zM597.0 678.2h2.7v2.7h-2.7zM604.5 764.2h2.0v2.0h-2.0zM610.1 584.0h3.3v3.3h-3.3zM611.2 664.2h2.7v2.7h-2.7zM563.8 783.9h1.9v1.9h-1.9zM624.4 545.7h5.7v5.7h-5.7zM623.2 560.8h4.3v4.3h-4.3zM595.1 667.9h3.0v3.0h-3.0zM587.7 737.4h2.2v2.2h-2.2zM599.1 641.3h2.8v2.8h-2.8zM610.8 641.2h3.8v3.8h-3.8zM620.5 539.2h4.9v4.9h-4.9zM583.3 766.0h1.9v1.9h-1.9zM581.7 766.2h1.9v1.9h-1.9zM624.9 539.6h5.0v5.0h-5.0zM620.4 612.1h4.3v4.3h-4.3zM606.3 593.5h3.2v3.2h-3.2zM606.5 679.3h3.1v3.1h-3.1zM611.7 596.1h3.7v3.7h-3.7zM625.5 623.0h4.2v4.2h-4.2zM564.0 785.4h1.9v1.9h-1.9zM606.3 605.2h3.5v3.5h-3.5zM603.7 638.6h3.3v3.3h-3.3zM613.8 592.5h3.4v3.4h-3.4zM588.1 724.3h2.4v2.4h-2.4zM605.2 603.5h3.7v3.7h-3.7zM601.1 622.4h3.5v3.5h-3.5zM595.3 729.2h2.4v2.4h-2.4zM609.4 660.7h3.2v3.2h-3.2zM582.9 741.2h2.1v2.1h-2.1zM604.1 639.0h3.3v3.3h-3.3zM605.1 626.6h3.6v3.6h-3.6zM609.9 615.7h3.3v3.3h-3.3zM603.5 622.9h3.4v3.4h-3.4zM604.2 636.4h3.0v3.0h-3.0zM623.9 613.8h3.8v3.8h-3.8zM598.0 675.7h2.8v2.8h-2.8zM612.5 580.9h4.1v4.1h-4.1zM590.2 696.8h2.4v2.4h-2.4zM626.2 582.3h4.0v4.0h-4.0zM595.5 715.4h2.3v2.3h-2.3zM614.8 682.6h3.1v3.1h-3.1zM610.9 570.1h3.8v3.8h-3.8zM627.7 637.8h4.1v4.1h-4.1zM618.0 630.8h3.7v3.7h-3.7zM599.3 670.3h2.7v2.7h-2.7zM582.7 750.1h2.0v2.0h-2.0zM603.3 617.3h3.6v3.6h-3.6zM594.7 691.5h2.5v2.5h-2.5zM617.2 555.6h4.7v4.7h-4.7zM593.2 696.6h2.5v2.5h-2.5zM604.9 599.8h3.5v3.5h-3.5zM605.0 664.0h3.1v3.1h-3.1zM575.2 774.6h1.9v1.9h-1.9zM588.2 716.0h2.2v2.2h-2.2zM577.4 767.4h2.0v2.0h-2.0zM612.6 591.9h3.9v3.9h-3.9zM582.2 760.8h2.0v2.0h-2.0zM608.5 651.8h3.2v3.2h-3.2zM597.0 668.1h2.9v2.9h-2.9zM591.1 715.1h2.2v2.2h-2.2zM591.5 777.9h2.0v2.0h-2.0zM620.4 552.8h5.0v5.0h-5.0zM597.6 701.9h2.4v2.4h-2.4zM598.7 680.9h2.5v2.5h-2.5zM594.9 690.8h2.7v2.7h-2.7zM615.7 572.8h4.5v4.5h-4.5zM626.6 622.8h4.2v4.2h-4.2zM600.1 660.3h2.7v2.7h-2.7zM587.0 741.9h2.1v2.1h-2.1zM587.8 720.9h2.2v2.2h-2.2zM605.4 671.3h3.1v3.1h-3.1zM583.5 769.7h2.0v2.0h-2.0zM609.2 632.8h3.0v3.0h-3.0zM604.7 605.3h3.0v3.0h-3.0zM618.8 575.2h3.9v3.9h-3.9zM627.0 578.6h5.0v5.0h-5.0zM604.2 600.8h3.2v3.2h-3.2zM640.6 545.1h6.0v6.0h-6.0zM628.1 661.9h3.5v3.5h-3.5zM602.9 719.5h2.6v2.6h-2.6zM608.7 648.3h3.4v3.4h-3.4zM606.7 621.6h3.1v3.1h-3.1zM600.4 697.0h2.6v2.6h-2.6zM606.0 591.9h3.4v3.4h-3.4zM600.6 713.4h2.4v2.4h-2.4zM593.7 675.2h2.4v2.4h-2.4zM606.3 637.1h2.9v2.9h-2.9zM599.1 657.4h2.7v2.7h-2.7zM592.2 698.0h2.5v2.5h-2.5zM582.7 743.2h2.1v2.1h-2.1zM629.6 557.6h5.1v5.1h-5.1zM587.6 713.1h2.5v2.5h-2.5zM610.8 594.3h4.4v4.4h-4.4zM597.9 703.2h2.3v2.3h-2.3zM596.8 655.3h3.0v3.0h-3.0zM615.6 592.5h4.1v4.1h-4.1zM581.0 751.6h2.0v2.0h-2.0zM612.3 549.7h4.8v4.8h-4.8zM594.4 761.5h2.0v2.0h-2.0zM602.8 641.9h3.0v3.0h-3.0zM601.4 632.9h3.1v3.1h-3.1zM596.2 659.6h2.6v2.6h-2.6zM598.4 653.5h3.0v3.0h-3.0zM602.6 612.4h3.7v3.7h-3.7zM584.1 744.2h2.1v2.1h-2.1zM613.2 560.4h4.2v4.2h-4.2zM621.2 673.7h3.0v3.0h-3.0zM606.0 651.4h2.8v2.8h-2.8zM626.3 570.6h5.4v5.4h-5.4zM599.4 649.9h2.8v2.8h-2.8zM562.6 785.7h1.8v1.8h-1.8zM577.2 770.4h1.9v1.9h-1.9zM609.3 593.7h4.1v4.1h-4.1zM590.4 724.6h2.4v2.4h-2.4zM603.5 650.3h3.4v3.4h-3.4zM600.4 688.7h2.7v2.7h-2.7zM608.0 634.7h3.3v3.3h-3.3zM616.8 620.8h4.3v4.3h-4.3zM618.7 640.9h4.0v4.0h-4.0zM627.4 549.2h4.7v4.7h-4.7zM583.9 744.1h2.1v2.1h-2.1zM584.0 756.4h2.1v2.1h-2.1zM618.9 594.6h3.9v3.9h-3.9zM614.0 550.5h3.9v3.9h-3.9zM614.0 590.8h4.2v4.2h-4.2zM589.1 737.6h2.2v2.2h-2.2zM579.8 764.6h2.0v2.0h-2.0zM646.5 559.4h5.0v5.0h-5.0zM589.7 698.8h2.6v2.6h-2.6zM603.9 609.1h3.6v3.6h-3.6zM597.0 655.5h2.7v2.7h-2.7zM606.0 651.7h3.4v3.4h-3.4zM591.3 700.2h2.5v2.5h-2.5zM606.8 678.3h2.9v2.9h-2.9zM589.5 723.7h2.3v2.3h-2.3zM595.8 674.4h2.6v2.6h-2.6zM588.9 738.0h2.1v2.1h-2.1zM611.0 566.7h3.7v3.7h-3.7zM566.1 782.8h1.9v1.9h-1.9zM582.6 759.2h2.0v2.0h-2.0zM627.9 539.2h5.8v5.8h-5.8zM652.2 542.8h7.0v7.0h-7.0zM619.8 589.0h4.5v4.5h-4.5zM615.3 553.9h4.9v4.9h-4.9zM606.7 689.2h2.6v2.6h-2.6zM588.8 707.5h2.3v2.3h-2.3zM632.5 545.8h5.4v5.4h-5.4zM596.8 721.8h2.3v2.3h-2.3zM599.6 681.1h2.5v2.5h-2.5zM593.4 754.8h2.2v2.2h-2.2zM618.8 590.4h4.3v4.3h-4.3zM580.6 770.1h2.0v2.0h-2.0zM593.3 704.5h2.6v2.6h-2.6zM620.6 630.2h3.4v3.4h-3.4zM604.4 604.0h3.4v3.4h-3.4zM593.0 760.9h2.0v2.0h-2.0zM605.3 629.7h3.0v3.0h-3.0zM611.1 616.1h3.6v3.6h-3.6zM611.3 685.2h2.6v2.6h-2.6zM609.6 589.9h3.6v3.6h-3.6zM598.2 713.7h2.3v2.3h-2.3zM606.8 609.5h3.8v3.8h-3.8zM600.4 632.5h3.0v3.0h-3.0zM605.1 635.4h2.8v2.8h-2.8zM623.4 552.4h5.1v5.1h-5.1zM610.0 624.0h3.9v3.9h-3.9zM607.6 671.0h2.7v2.7h-2.7zM609.2 588.5h4.1v4.1h-4.1zM592.9 693.8h2.7v2.7h-2.7zM608.5 614.0h3.7v3.7h-3.7zM616.5 592.6h4.4v4.4h-4.4zM595.5 660.4h2.8v2.8h-2.8zM580.0 758.4h2.0v2.0h-2.0zM642.5 541.9h5.1v5.1h-5.1zM642.3 546.2h6.8v6.8h-6.8zM620.3 597.4h4.4v4.4h-4.4zM622.1 644.5h3.7v3.7h-3.7zM610.3 675.8h3.1v3.1h-3.1zM608.2 570.7h4.5v4.5h-4.5zM607.6 576.5h3.7v3.7h-3.7zM611.7 561.1h3.9v3.9h-3.9zM608.0 655.2h3.4v3.4h-3.4zM620.2 617.9h4.3v4.3h-4.3zM579.2 779.6h1.9v1.9h-1.9zM623.4 575.6h4.0v4.0h-4.0zM596.2 733.5h2.4v2.4h-2.4zM609.9 612.7h4.1v4.1h-4.1zM593.9 684.7h2.8v2.8h-2.8zM610.4 560.4h4.7v4.7h-4.7zM633.7 607.0h4.2v4.2h-4.2zM592.3 684.3h2.7v2.7h-2.7zM606.3 588.1h3.3v3.3h-3.3zM606.7 584.6h3.2v3.2h-3.2zM605.8 690.9h2.9v2.9h-2.9zM579.5 769.7h1.9v1.9h-1.9zM607.7 649.2h3.1v3.1h-3.1zM619.3 581.5h3.8v3.8h-3.8zM611.6 617.1h3.3v3.3h-3.3zM601.8 680.6h2.9v2.9h-2.9zM592.5 695.2h2.7v2.7h-2.7zM596.3 662.2h2.7v2.7h-2.7zM600.2 659.0h2.9v2.9h-2.9zM610.5 618.9h3.1v3.1h-3.1zM628.1 546.8h5.4v5.4h-5.4zM587.2 759.0h2.0v2.0h-2.0zM600.7 641.9h3.3v3.3h-3.3zM612.8 545.3h4.4v4.4h-4.4zM596.6 677.6h2.8v2.8h-2.8zM604.9 720.3h2.4v2.4h-2.4zM605.8 635.5h3.1v3.1h-3.1zM614.0 588.2h4.1v4.1h-4.1zM605.6 618.8h3.6v3.6h-3.6zM601.9 621.4h3.3v3.3h-3.3zM602.1 626.3h3.1v3.1h-3.1zM614.2 626.4h3.5v3.5h-3.5zM609.4 567.9h4.6v4.6h-4.6zM585.9 754.8h2.0v2.0h-2.0zM606.1 636.0h3.3v3.3h-3.3zM613.4 581.3h4.3v4.3h-4.3zM580.3 766.8h2.0v2.0h-2.0zM616.1 548.5h4.5v4.5h-4.5zM586.1 760.8h2.0v2.0h-2.0zM573.6 779.8h1.9v1.9h-1.9zM574.7 777.6h1.9v1.9h-1.9zM593.6 692.4h2.5v2.5h-2.5zM587.2 741.7h2.2v2.2h-2.2zM581.5 757.9h2.0v2.0h-2.0zM597.2 734.8h2.2v2.2h-2.2zM600.2 635.8h3.0v3.0h-3.0zM582.9 759.0h2.0v2.0h-2.0zM619.3 551.9h5.3v5.3h-5.3zM600.4 690.5h2.8v2.8h-2.8zM612.2 565.1h4.6v4.6h-4.6zM598.1 663.0h2.8v2.8h-2.8zM588.5 718.2h2.2v2.2h-2.2zM588.5 722.3h2.3v2.3h-2.3zM600.1 629.4h3.2v3.2h-3.2zM628.2 691.8h3.0v3.0h-3.0zM606.5 699.3h2.5v2.5h-2.5zM604.4 645.1h3.4v3.4h-3.4zM621.0 562.6h4.9v4.9h-4.9zM589.3 734.5h2.3v2.3h-2.3zM603.2 650.5h3.0v3.0h-3.0zM620.5 559.9h5.0v5.0h-5.0zM625.5 567.2h4.8v4.8h-4.8zM616.5 712.3h2.8v2.8h-2.8zM600.6 657.8h3.0v3.0h-3.0zM617.2 561.9h5.0v5.0h-5.0zM618.1 566.3h4.5v4.5h-4.5zM621.2 552.6h4.8v4.8h-4.8zM596.1 673.5h2.7v2.7h-2.7zM592.2 763.5h2.0v2.0h-2.0zM599.8 650.5h3.1v3.1h-3.1zM604.7 616.0h3.5v3.5h-3.5zM610.5 576.7h4.1v4.1h-4.1zM595.8 685.6h2.8v2.8h-2.8zM609.5 655.2h3.2v3.2h-3.2zM603.6 623.7h3.2v3.2h-3.2zM591.8 760.4h2.1v2.1h-2.1zM592.6 735.1h2.3v2.3h-2.3zM597.8 655.5h3.1v3.1h-3.1zM593.7 721.5h2.4v2.4h-2.4zM580.9 758.3h2.0v2.0h-2.0zM611.9 693.6h2.8v2.8h-2.8zM604.4 625.4h3.6v3.6h-3.6zM626.0 581.0h4.0v4.0h-4.0zM594.0 676.4h2.9v2.9h-2.9zM602.8 617.1h3.5v3.5h-3.5zM611.5 636.8h3.6v3.6h-3.6zM600.0 650.5h3.1v3.1h-3.1zM608.8 592.3h3.6v3.6h-3.6zM574.5 777.4h1.9v1.9h-1.9zM588.7 763.5h2.0v2.0h-2.0zM603.3 635.6h2.8v2.8h-2.8zM613.7 618.0h4.2v4.2h-4.2zM609.0 595.9h3.8v3.8h-3.8zM612.0 684.8h2.7v2.7h-2.7zM616.8 560.9h4.9v4.9h-4.9zM599.4 700.2h2.6v2.6h-2.6zM608.8 610.6h3.9v3.9h-3.9zM608.8 614.1h3.8v3.8h-3.8zM584.0 757.2h2.1v2.1h-2.1zM593.0 699.9h2.6v2.6h-2.6zM602.0 632.1h2.8v2.8h-2.8zM602.5 650.0h3.1v3.1h-3.1zM603.8 697.8h2.5v2.5h-2.5zM600.7 742.7h2.3v2.3h-2.3zM634.4 549.6h5.9v5.9h-5.9zM613.5 552.7h4.8v4.8h-4.8zM589.6 742.2h2.1v2.1h-2.1zM613.7 554.7h3.9v3.9h-3.9zM590.2 707.6h2.5v2.5h-2.5zM597.6 653.8h2.8v2.8h-2.8zM617.4 672.0h3.4v3.4h-3.4zM618.3 676.9h3.0v3.0h-3.0zM590.5 742.0h2.2v2.2h-2.2zM598.3 645.4h2.9v2.9h-2.9zM580.0 765.6h2.0v2.0h-2.0zM576.4 770.0h2.0v2.0h-2.0zM588.9 729.3h2.2v2.2h-2.2zM631.9 548.0h5.4v5.4h-5.4zM606.6 615.7h3.0v3.0h-3.0zM578.0 775.4h1.9v1.9h-1.9zM595.8 661.7h2.5v2.5h-2.5zM581.0 755.3h2.0v2.0h-2.0zM586.9 742.3h2.0v2.0h-2.0zM617.7 617.5h3.4v3.4h-3.4zM582.0 753.8h2.1v2.1h-2.1zM609.8 581.5h4.3v4.3h-4.3zM607.7 647.3h3.4v3.4h-3.4zM584.4 749.2h2.0v2.0h-2.0zM584.9 743.5h2.2v2.2h-2.2zM595.3 662.8h2.6v2.6h-2.6zM601.0 633.3h2.9v2.9h-2.9zM614.6 603.1h3.6v3.6h-3.6zM592.5 718.5h2.4v2.4h-2.4zM596.4 732.8h2.1v2.1h-2.1zM599.4 644.2h3.4v3.4h-3.4zM618.4 579.8h3.6v3.6h-3.6zM607.1 584.7h4.3v4.3h-4.3zM590.4 706.6h2.3v2.3h-2.3zM609.0 699.7h2.7v2.7h-2.7zM612.9 598.1h3.8v3.8h-3.8zM605.3 671.8h2.7v2.7h-2.7zM585.8 725.3h2.1v2.1h-2.1zM618.7 628.8h3.4v3.4h-3.4zM593.6 683.0h2.5v2.5h-2.5zM602.8 617.2h3.0v3.0h-3.0zM597.4 657.7h3.0v3.0h-3.0zM648.2 546.6h6.6v6.6h-6.6zM598.6 657.5h2.7v2.7h-2.7zM612.6 615.4h3.4v3.4h-3.4zM622.6 539.9h5.4v5.4h-5.4zM626.3 552.5h5.0v5.0h-5.0zM585.0 746.3h2.1v2.1h-2.1zM597.9 647.4h2.8v2.8h-2.8zM620.4 539.2h4.5v4.5h-4.5zM567.8 782.8h1.9v1.9h-1.9zM609.9 743.2h2.2v2.2h-2.2zM645.1 613.7h5.3v5.3h-5.3zM586.0 758.4h2.1v2.1h-2.1zM589.9 697.7h2.6v2.6h-2.6zM578.6 776.4h2.0v2.0h-2.0zM583.7 735.2h2.1v2.1h-2.1zM615.1 543.6h4.9v4.9h-4.9zM593.1 739.6h2.1v2.1h-2.1zM598.7 664.0h3.1v3.1h-3.1zM594.5 747.2h2.2v2.2h-2.2zM606.4 587.0h3.2v3.2h-3.2zM602.1 753.6h2.2v2.2h-2.2zM582.6 749.6h2.0v2.0h-2.0zM599.3 652.1h2.8v2.8h-2.8zM590.0 769.9h2.0v2.0h-2.0zM575.4 776.3h1.9v1.9h-1.9zM610.7 611.9h3.9v3.9h-3.9zM589.8 714.3h2.3v2.3h-2.3zM579.7 760.3h1.9v1.9h-1.9zM632.4 625.8h4.3v4.3h-4.3zM588.8 721.9h2.1v2.1h-2.1zM618.1 557.4h4.9v4.9h-4.9zM589.4 721.2h2.3v2.3h-2.3zM595.7 659.3h2.7v2.7h-2.7zM618.9 669.3h3.6v3.6h-3.6zM615.9 633.0h3.2v3.2h-3.2zM589.2 733.1h2.3v2.3h-2.3zM632.3 555.1h4.3v4.3h-4.3zM634.9 634.6h4.4v4.4h-4.4zM587.0 742.5h2.2v2.2h-2.2zM598.7 653.4h2.7v2.7h-2.7zM592.6 711.5h2.5v2.5h-2.5zM593.8 730.4h2.4v2.4h-2.4zM591.7 713.0h2.2v2.2h-2.2zM570.6 780.9h1.9v1.9h-1.9zM601.9 662.5h3.1v3.1h-3.1zM580.0 768.0h1.9v1.9h-1.9zM615.4 544.2h4.3v4.3h-4.3zM604.3 623.4h3.2v3.2h-3.2zM611.4 555.7h4.8v4.8h-4.8zM616.1 559.1h4.7v4.7h-4.7zM591.5 731.9h2.2v2.2h-2.2zM622.5 542.3h5.3v5.3h-5.3zM616.1 724.4h2.5v2.5h-2.5zM596.8 681.6h2.5v2.5h-2.5zM592.8 769.0h2.0v2.0h-2.0zM622.1 566.4h4.9v4.9h-4.9zM611.1 605.4h4.1v4.1h-4.1zM602.5 670.4h2.6v2.6h-2.6zM647.3 564.9h6.2v6.2h-6.2zM599.0 669.2h2.9v2.9h-2.9zM614.1 588.6h3.9v3.9h-3.9zM585.3 726.5h2.1v2.1h-2.1zM610.2 677.7h2.9v2.9h-2.9zM587.2 721.4h2.3v2.3h-2.3zM585.8 733.2h2.3v2.3h-2.3zM680.9 587.3h7.4v7.4h-7.4zM602.8 626.1h3.2v3.2h-3.2zM590.3 704.9h2.5v2.5h-2.5zM622.8 582.6h3.9v3.9h-3.9zM592.8 744.2h2.3v2.3h-2.3zM637.8 621.1h4.5v4.5h-4.5zM618.4 717.3h2.5v2.5h-2.5zM608.0 575.8h3.5v3.5h-3.5zM589.6 733.2h2.1v2.1h-2.1zM607.8 702.1h2.5v2.5h-2.5zM609.0 571.2h4.0v4.0h-4.0zM588.7 714.9h2.3v2.3h-2.3zM563.7 784.7h1.9v1.9h-1.9zM607.9 610.5h3.7v3.7h-3.7zM597.6 648.8h3.2v3.2h-3.2zM616.4 563.8h4.7v4.7h-4.7zM599.1 650.2h2.8v2.8h-2.8zM613.4 542.7h4.0v4.0h-4.0zM618.4 584.3h3.9v3.9h-3.9zM637.1 559.2h4.5v4.5h-4.5zM625.2 539.4h4.8v4.8h-4.8zM588.9 740.6h2.2v2.2h-2.2zM613.2 602.1h3.9v3.9h-3.9zM649.6 565.4h6.4v6.4h-6.4zM603.2 664.9h2.8v2.8h-2.8zM579.3 763.5h2.0v2.0h-2.0zM623.4 568.1h3.8v3.8h-3.8zM604.8 642.3h3.4v3.4h-3.4zM600.0 631.7h3.3v3.3h-3.3zM608.7 592.6h3.9v3.9h-3.9zM602.7 664.3h2.9v2.9h-2.9zM606.9 588.1h3.7v3.7h-3.7zM631.2 590.6h4.1v4.1h-4.1zM650.1 570.2h5.5v5.5h-5.5zM615.0 563.1h4.3v4.3h-4.3zM580.2 780.0h1.9v1.9h-1.9zM595.5 700.7h2.5v2.5h-2.5zM606.0 723.7h2.5v2.5h-2.5zM625.1 586.4h4.9v4.9h-4.9zM579.4 767.2h2.0v2.0h-2.0zM610.8 560.8h3.7v3.7h-3.7zM614.7 741.0h2.2v2.2h-2.2zM577.8 778.9h1.9v1.9h-1.9zM605.2 608.9h3.3v3.3h-3.3zM591.3 707.4h2.3v2.3h-2.3zM592.2 686.1h2.8v2.8h-2.8zM590.6 695.9h2.6v2.6h-2.6zM606.8 599.5h4.0v4.0h-4.0zM597.2 667.2h2.8v2.8h-2.8zM599.3 652.3h2.6v2.6h-2.6zM609.5 605.1h3.8v3.8h-3.8zM623.4 550.9h5.4v5.4h-5.4zM597.7 719.6h2.3v2.3h-2.3zM583.8 751.5h2.1v2.1h-2.1zM614.3 616.3h3.8v3.8h-3.8zM599.7 652.1h2.6v2.6h-2.6zM617.1 576.1h4.2v4.2h-4.2zM593.6 702.9h2.5v2.5h-2.5zM599.2 636.0h3.4v3.4h-3.4zM607.8 591.4h3.7v3.7h-3.7zM610.7 568.4h4.7v4.7h-4.7zM566.0 783.0h1.9v1.9h-1.9zM589.9 705.9h2.2v2.2h-2.2zM599.4 672.5h2.8v2.8h-2.8zM619.5 564.3h4.9v4.9h-4.9zM591.7 729.6h2.2v2.2h-2.2zM626.6 717.1h2.7v2.7h-2.7zM587.0 727.7h2.1v2.1h-2.1zM598.7 643.4h3.1v3.1h-3.1zM607.2 666.5h2.8v2.8h-2.8zM590.0 721.9h2.3v2.3h-2.3zM579.2 767.4h2.0v2.0h-2.0zM602.7 658.7h2.9v2.9h-2.9zM624.7 545.9h5.0v5.0h-5.0zM600.4 628.4h3.1v3.1h-3.1zM593.1 689.9h2.4v2.4h-2.4zM581.2 757.3h2.1v2.1h-2.1zM594.2 693.8h2.3v2.3h-2.3zM619.4 554.0h4.5v4.5h-4.5zM603.5 707.9h2.5v2.5h-2.5zM585.7 735.0h2.2v2.2h-2.2zM602.0 652.8h3.2v3.2h-3.2zM601.9 678.9h3.0v3.0h-3.0zM594.7 699.0h2.4v2.4h-2.4zM598.4 665.8h2.6v2.6h-2.6zM586.5 748.0h2.2v2.2h-2.2zM622.6 588.9h4.8v4.8h-4.8zM593.4 677.9h2.4v2.4h-2.4zM600.6 682.2h3.0v3.0h-3.0zM605.4 645.9h3.5v3.5h-3.5zM587.1 722.1h2.3v2.3h-2.3zM614.5 700.0h2.6v2.6h-2.6zM607.7 620.5h3.9v3.9h-3.9zM586.0 739.0h2.1v2.1h-2.1zM612.4 582.6h3.7v3.7h-3.7zM600.1 636.4h2.9v2.9h-2.9zM615.2 615.8h3.8v3.8h-3.8zM590.1 699.2h2.6v2.6h-2.6zM610.2 579.0h3.7v3.7h-3.7zM600.2 690.8h2.7v2.7h-2.7zM581.8 755.2h2.1v2.1h-2.1zM635.2 540.4h4.9v4.9h-4.9zM606.9 582.2h4.0v4.0h-4.0zM615.9 541.7h4.0v4.0h-4.0zM585.6 742.2h2.1v2.1h-2.1zM575.9 772.8h1.9v1.9h-1.9zM655.5 543.7h6.7v6.7h-6.7zM581.0 763.4h2.0v2.0h-2.0zM591.5 708.2h2.4v2.4h-2.4zM601.1 669.6h3.0v3.0h-3.0zM584.6 734.4h2.2v2.2h-2.2zM612.2 700.3h2.6v2.6h-2.6zM598.4 664.4h2.7v2.7h-2.7zM603.7 632.6h3.1v3.1h-3.1zM576.6 767.7h2.0v2.0h-2.0zM624.6 606.9h3.9v3.9h-3.9zM608.8 593.2h3.8v3.8h-3.8zM603.4 642.5h2.9v2.9h-2.9zM637.6 556.3h5.1v5.1h-5.1zM568.0 783.0h1.9v1.9h-1.9zM598.7 704.4h2.5v2.5h-2.5zM591.0 745.0h2.2v2.2h-2.2zM605.7 601.7h3.6v3.6h-3.6zM625.1 545.7h4.5v4.5h-4.5zM625.6 542.6h5.2v5.2h-5.2zM608.9 580.9h4.0v4.0h-4.0zM600.4 706.9h2.7v2.7h-2.7zM617.9 593.1h4.4v4.4h-4.4zM600.3 700.1h2.4v2.4h-2.4zM595.8 668.4h2.6v2.6h-2.6zM584.5 734.5h2.1v2.1h-2.1zM581.6 752.4h2.0v2.0h-2.0zM587.9 713.4h2.4v2.4h-2.4zM603.3 612.3h3.1v3.1h-3.1zM613.0 579.9h3.9v3.9h-3.9zM606.8 624.8h3.6v3.6h-3.6zM617.4 577.7h3.9v3.9h-3.9zM602.1 729.5h2.2v2.2h-2.2zM582.1 754.0h2.0v2.0h-2.0zM621.4 555.8h4.8v4.8h-4.8zM600.5 650.8h2.8v2.8h-2.8zM645.3 588.6h6.2v6.2h-6.2zM593.3 678.8h2.7v2.7h-2.7zM591.4 758.0h2.0v2.0h-2.0zM598.6 655.9h2.8v2.8h-2.8zM601.7 735.6h2.4v2.4h-2.4zM610.6 561.6h3.9v3.9h-3.9zM629.5 559.7h4.4v4.4h-4.4zM611.4 615.9h3.6v3.6h-3.6zM584.1 734.9h2.1v2.1h-2.1zM594.3 751.5h2.1v2.1h-2.1zM610.7 626.4h3.7v3.7h-3.7zM595.9 690.8h2.5v2.5h-2.5zM610.3 640.6h3.2v3.2h-3.2zM604.0 647.3h2.9v2.9h-2.9zM592.5 696.8h2.4v2.4h-2.4zM629.8 606.2h5.0v5.0h-5.0zM626.4 623.6h3.5v3.5h-3.5zM595.0 706.9h2.4v2.4h-2.4zM627.3 629.2h3.4v3.4h-3.4zM618.2 609.5h4.1v4.1h-4.1zM619.9 545.6h5.0v5.0h-5.0zM602.7 724.1h2.3v2.3h-2.3zM620.7 557.3h4.5v4.5h-4.5zM622.8 591.4h3.8v3.8h-3.8zM592.6 747.9h2.2v2.2h-2.2zM608.8 650.8h3.1v3.1h-3.1zM629.3 549.5h5.2v5.2h-5.2zM609.6 585.2h3.5v3.5h-3.5zM597.5 716.7h2.3v2.3h-2.3zM607.4 686.4h2.9v2.9h-2.9zM583.7 745.8h2.2v2.2h-2.2zM621.2 605.0h4.3v4.3h-4.3zM595.7 665.9h2.8v2.8h-2.8zM608.1 618.4h3.2v3.2h-3.2zM612.5 600.7h4.1v4.1h-4.1zM594.1 676.5h2.5v2.5h-2.5zM609.1 718.9h2.4v2.4h-2.4zM582.5 769.2h2.0v2.0h-2.0zM626.2 568.8h5.5v5.5h-5.5zM587.4 760.0h2.1v2.1h-2.1zM611.5 645.2h3.6v3.6h-3.6zM588.6 740.3h2.1v2.1h-2.1zM560.3 787.0h1.9v1.9h-1.9zM587.1 733.7h2.2v2.2h-2.2zM609.2 627.3h3.1v3.1h-3.1zM602.6 676.6h2.8v2.8h-2.8zM594.3 767.3h2.0v2.0h-2.0zM637.4 586.6h4.7v4.7h-4.7zM614.7 578.6h3.6v3.6h-3.6zM626.3 579.7h4.3v4.3h-4.3zM612.1 553.9h4.2v4.2h-4.2zM622.4 636.0h3.8v3.8h-3.8zM586.3 750.8h2.0v2.0h-2.0zM593.4 697.4h2.5v2.5h-2.5zM627.5 552.5h5.0v5.0h-5.0zM605.0 599.6h3.4v3.4h-3.4zM585.9 744.2h2.1v2.1h-2.1zM603.6 641.0h2.8v2.8h-2.8zM609.7 600.3h3.7v3.7h-3.7zM615.3 663.4h3.1v3.1h-3.1zM584.9 747.6h2.1v2.1h-2.1zM611.2 709.3h2.8v2.8h-2.8zM594.0 717.4h2.5v2.5h-2.5zM598.9 644.3h2.9v2.9h-2.9zM615.9 620.4h3.9v3.9h-3.9zM591.8 737.3h2.1v2.1h-2.1zM610.9 596.6h3.7v3.7h-3.7zM596.6 668.2h2.6v2.6h-2.6zM593.6 696.7h2.4v2.4h-2.4zM590.5 725.5h2.2v2.2h-2.2zM611.6 579.4h4.2v4.2h-4.2zM621.9 550.9h5.6v5.6h-5.6zM584.4 739.1h2.2v2.2h-2.2zM584.7 734.3h2.2v2.2h-2.2zM616.5 552.0h4.2v4.2h-4.2zM596.3 678.1h2.8v2.8h-2.8zM595.8 674.2h2.5v2.5h-2.5zM622.9 629.0h4.4v4.4h-4.4zM596.5 685.4h2.6v2.6h-2.6zM618.8 622.9h3.3v3.3h-3.3zM587.0 735.2h2.2v2.2h-2.2zM609.1 610.7h3.9v3.9h-3.9zM613.4 693.2h3.1v3.1h-3.1zM568.8 784.0h1.9v1.9h-1.9zM616.7 559.3h4.5v4.5h-4.5zM587.8 718.2h2.4v2.4h-2.4zM610.9 570.1h3.5v3.5h-3.5zM591.3 749.0h2.1v2.1h-2.1zM579.0 765.9h2.0v2.0h-2.0zM585.9 734.7h2.2v2.2h-2.2zM607.3 599.1h3.2v3.2h-3.2zM609.0 569.8h4.2v4.2h-4.2zM606.5 623.6h3.3v3.3h-3.3zM605.3 599.2h3.3v3.3h-3.3zM584.5 754.2h2.1v2.1h-2.1zM674.7 605.8h7.3v7.3h-7.3zM626.7 570.5h4.2v4.2h-4.2zM584.6 734.6h2.2v2.2h-2.2zM613.7 572.2h4.1v4.1h-4.1zM577.7 764.3h2.0v2.0h-2.0zM622.8 577.4h4.8v4.8h-4.8zM591.2 727.2h2.3v2.3h-2.3zM594.3 671.6h2.8v2.8h-2.8zM592.5 732.9h2.3v2.3h-2.3zM565.5 785.3h1.9v1.9h-1.9zM615.6 587.4h4.4v4.4h-4.4zM611.5 609.9h4.0v4.0h-4.0zM618.8 542.3h4.6v4.6h-4.6zM592.3 767.0h2.0v2.0h-2.0zM609.4 579.8h3.8v3.8h-3.8zM610.5 615.3h3.1v3.1h-3.1zM605.5 698.3h2.7v2.7h-2.7zM607.3 645.1h2.8v2.8h-2.8zM579.8 757.3h2.0v2.0h-2.0zM624.8 541.4h5.3v5.3h-5.3zM610.7 681.7h2.6v2.6h-2.6zM595.0 725.6h2.3v2.3h-2.3zM597.4 653.3h3.1v3.1h-3.1zM603.9 601.7h3.3v3.3h-3.3zM612.6 567.9h4.0v4.0h-4.0zM592.0 697.3h2.5v2.5h-2.5zM620.5 606.3h3.7v3.7h-3.7zM605.2 639.8h3.3v3.3h-3.3zM604.9 652.7h3.3v3.3h-3.3zM584.5 750.6h2.0v2.0h-2.0zM649.1 590.7h6.3v6.3h-6.3zM590.1 742.5h2.2v2.2h-2.2zM617.4 582.8h4.7v4.7h-4.7zM579.2 763.5h2.0v2.0h-2.0zM616.1 692.4h3.2v3.2h-3.2zM591.6 745.4h2.2v2.2h-2.2zM633.9 561.6h4.6v4.6h-4.6zM620.6 544.4h4.8v4.8h-4.8zM584.9 743.1h2.1v2.1h-2.1zM597.8 726.6h2.4v2.4h-2.4zM601.4 771.2h2.1v2.1h-2.1zM592.2 745.0h2.3v2.3h-2.3zM600.1 725.8h2.5v2.5h-2.5zM606.9 596.7h3.7v3.7h-3.7zM601.0 631.5h3.1v3.1h-3.1zM624.2 543.9h4.7v4.7h-4.7zM612.2 592.2h4.0v4.0h-4.0zM595.0 696.3h2.7v2.7h-2.7zM578.4 774.8h1.9v1.9h-1.9zM582.9 760.2h2.0v2.0h-2.0zM602.9 612.3h3.2v3.2h-3.2zM609.3 726.4h2.4v2.4h-2.4zM620.6 550.9h4.3v4.3h-4.3zM634.5 540.4h5.2v5.2h-5.2zM615.3 557.4h3.7v3.7h-3.7zM622.2 619.8h4.0v4.0h-4.0zM604.3 671.5h2.6v2.6h-2.6zM625.6 623.2h3.4v3.4h-3.4zM588.0 769.5h1.9v1.9h-1.9zM601.0 623.6h3.5v3.5h-3.5zM628.9 558.9h4.2v4.2h-4.2zM579.0 770.4h1.9v1.9h-1.9zM623.3 570.9h5.1v5.1h-5.1zM571.7 785.2h1.9v1.9h-1.9zM606.6 670.5h3.2v3.2h-3.2zM600.8 633.4h3.3v3.3h-3.3zM609.5 607.6h3.1v3.1h-3.1zM599.9 640.2h2.9v2.9h-2.9zM563.7 787.1h1.9v1.9h-1.9zM577.3 768.2h2.0v2.0h-2.0zM602.8 639.4h3.0v3.0h-3.0zM601.3 702.4h2.8v2.8h-2.8zM620.3 617.1h3.4v3.4h-3.4zM578.8 780.4h1.9v1.9h-1.9zM600.2 682.1h2.7v2.7h-2.7zM581.1 767.6h2.0v2.0h-2.0zM602.8 714.0h2.4v2.4h-2.4zM604.6 659.0h2.9v2.9h-2.9zM591.8 759.1h2.1v2.1h-2.1zM578.7 768.6h1.9v1.9h-1.9zM595.6 662.5h2.9v2.9h-2.9zM608.7 596.6h3.9v3.9h-3.9zM608.9 589.3h3.3v3.3h-3.3zM603.6 660.2h3.2v3.2h-3.2zM619.5 586.7h3.9v3.9h-3.9zM609.6 674.5h3.2v3.2h-3.2zM602.0 655.7h3.2v3.2h-3.2zM583.2 760.3h2.1v2.1h-2.1zM581.2 752.6h2.0v2.0h-2.0zM636.1 588.3h5.0v5.0h-5.0zM618.2 673.1h2.8v2.8h-2.8zM593.8 721.0h2.2v2.2h-2.2zM590.9 734.3h2.3v2.3h-2.3zM596.7 665.2h2.7v2.7h-2.7zM607.0 598.4h4.2v4.2h-4.2zM595.2 714.0h2.3v2.3h-2.3zM597.3 704.1h2.6v2.6h-2.6zM593.2 715.9h2.5v2.5h-2.5zM625.6 553.1h4.4v4.4h-4.4zM587.7 734.3h2.3v2.3h-2.3zM608.7 596.6h4.2v4.2h-4.2zM588.7 713.8h2.4v2.4h-2.4zM624.9 625.7h3.8v3.8h-3.8zM609.8 680.6h2.8v2.8h-2.8zM610.2 591.4h3.7v3.7h-3.7zM620.4 547.9h4.7v4.7h-4.7zM595.3 685.5h2.5v2.5h-2.5zM585.9 776.9h2.0v2.0h-2.0zM605.8 587.9h3.7v3.7h-3.7zM607.3 582.2h4.0v4.0h-4.0zM619.6 582.6h4.1v4.1h-4.1zM592.3 707.3h2.5v2.5h-2.5zM602.8 664.6h2.7v2.7h-2.7zM598.9 678.7h2.8v2.8h-2.8zM613.4 703.6h3.0v3.0h-3.0zM619.9 656.1h3.3v3.3h-3.3zM586.6 736.3h2.3v2.3h-2.3zM597.0 768.3h2.1v2.1h-2.1zM583.0 753.2h2.1v2.1h-2.1zM596.6 659.7h2.6v2.6h-2.6zM597.3 689.3h2.8v2.8h-2.8zM588.0 739.0h2.1v2.1h-2.1zM599.8 661.4h3.0v3.0h-3.0zM579.5 768.8h1.9v1.9h-1.9zM605.6 634.8h3.3v3.3h-3.3zM615.2 569.8h4.9v4.9h-4.9zM592.7 725.1h2.4v2.4h-2.4zM584.7 732.5h2.2v2.2h-2.2zM613.9 576.6h4.4v4.4h-4.4zM612.9 561.2h5.0v5.0h-5.0zM606.8 603.8h4.1v4.1h-4.1zM611.3 604.5h4.0v4.0h-4.0zM599.3 693.3h2.4v2.4h-2.4zM584.3 738.2h2.1v2.1h-2.1zM609.7 677.0h2.9v2.9h-2.9zM595.5 724.0h2.3v2.3h-2.3zM593.0 676.7h2.8v2.8h-2.8zM594.5 753.9h2.2v2.2h-2.2zM587.8 732.6h2.1v2.1h-2.1zM593.1 710.6h2.2v2.2h-2.2zM577.1 773.0h1.9v1.9h-1.9zM576.3 771.5h1.9v1.9h-1.9zM597.7 733.3h2.3v2.3h-2.3zM611.4 705.0h2.6v2.6h-2.6zM619.5 541.8h4.9v4.9h-4.9zM588.7 722.5h2.4v2.4h-2.4zM593.9 749.7h2.1v2.1h-2.1zM592.6 718.8h2.3v2.3h-2.3zM614.7 654.0h3.4v3.4h-3.4zM608.1 576.4h3.5v3.5h-3.5zM569.1 781.5h1.9v1.9h-1.9zM590.8 703.2h2.4v2.4h-2.4zM615.4 634.1h3.7v3.7h-3.7zM583.7 744.3h2.0v2.0h-2.0zM614.5 620.7h3.6v3.6h-3.6zM611.2 627.7h3.4v3.4h-3.4zM603.6 657.7h2.7v2.7h-2.7zM612.9 607.4h3.8v3.8h-3.8zM592.1 702.5h2.4v2.4h-2.4zM600.8 781.9h1.9v1.9h-1.9zM627.1 686.8h3.1v3.1h-3.1zM590.1 768.2h2.1v2.1h-2.1zM618.9 636.9h3.8v3.8h-3.8zM605.6 615.9h3.4v3.4h-3.4zM590.7 698.6h2.3v2.3h-2.3zM588.5 715.0h2.2v2.2h-2.2zM580.0 761.7h1.9v1.9h-1.9zM579.8 760.7h2.0v2.0h-2.0zM604.1 617.2h3.5v3.5h-3.5zM585.9 723.0h2.3v2.3h-2.3zM580.1 761.7h2.0v2.0h-2.0zM591.8 703.8h2.5v2.5h-2.5zM623.2 562.8h5.4v5.4h-5.4zM595.6 703.3h2.7v2.7h-2.7zM618.8 617.5h3.9v3.9h-3.9zM617.7 538.5h5.5v5.5h-5.5zM584.1 757.8h2.0v2.0h-2.0zM606.6 621.8h3.7v3.7h-3.7zM632.1 539.4h6.4v6.4h-6.4zM595.2 671.2h2.6v2.6h-2.6zM626.2 595.9h3.7v3.7h-3.7zM601.5 669.1h3.2v3.2h-3.2zM599.1 651.6h3.1v3.1h-3.1zM634.5 609.7h5.3v5.3h-5.3zM584.5 753.8h2.1v2.1h-2.1zM586.0 733.4h2.3v2.3h-2.3zM609.1 592.5h3.5v3.5h-3.5zM606.5 603.3h4.0v4.0h-4.0zM588.1 729.4h2.1v2.1h-2.1zM588.2 709.7h2.4v2.4h-2.4zM589.2 751.5h2.1v2.1h-2.1zM617.2 567.4h3.8v3.8h-3.8zM595.2 749.0h2.1v2.1h-2.1zM596.6 675.1h2.9v2.9h-2.9zM586.9 731.8h2.1v2.1h-2.1zM638.4 564.0h5.6v5.6h-5.6zM621.7 551.8h4.3v4.3h-4.3zM608.6 600.3h3.5v3.5h-3.5zM589.5 719.8h2.4v2.4h-2.4zM607.3 628.3h2.9v2.9h-2.9zM585.2 754.5h2.1v2.1h-2.1zM587.4 755.6h2.0v2.0h-2.0zM593.6 673.3h2.9v2.9h-2.9zM663.8 540.9h7.4v7.4h-7.4zM613.6 541.7h4.3v4.3h-4.3zM588.9 746.8h2.2v2.2h-2.2zM622.0 645.0h3.5v3.5h-3.5zM596.8 655.7h2.8v2.8h-2.8zM601.2 636.9h2.9v2.9h-2.9zM615.9 541.9h5.3v5.3h-5.3zM600.9 660.5h2.9v2.9h-2.9zM590.3 715.4h2.4v2.4h-2.4zM609.1 576.2h3.6v3.6h-3.6zM591.5 738.1h2.1v2.1h-2.1zM614.0 664.4h2.8v2.8h-2.8zM602.6 619.5h3.3v3.3h-3.3zM584.2 743.5h2.1v2.1h-2.1zM619.2 568.5h5.0v5.0h-5.0zM590.7 766.2h2.0v2.0h-2.0zM604.8 601.7h3.5v3.5h-3.5zM613.1 577.7h4.2v4.2h-4.2zM631.3 638.3h3.6v3.6h-3.6zM577.8 783.7h1.9v1.9h-1.9zM596.4 696.1h2.4v2.4h-2.4zM610.8 655.9h3.6v3.6h-3.6zM607.1 587.3h4.2v4.2h-4.2zM607.5 639.6h3.5v3.5h-3.5zM585.8 731.2h2.2v2.2h-2.2zM582.2 744.0h2.1v2.1h-2.1zM576.2 780.2h1.9v1.9h-1.9zM635.1 570.8h6.2v6.2h-6.2zM567.7 783.0h1.9v1.9h-1.9zM617.2 559.4h5.3v5.3h-5.3zM581.9 758.3h2.1v2.1h-2.1zM582.7 764.5h2.0v2.0h-2.0zM597.1 652.5h3.2v3.2h-3.2zM606.7 688.0h2.5v2.5h-2.5zM580.4 766.7h1.9v1.9h-1.9zM605.9 674.2h3.1v3.1h-3.1zM591.7 700.8h2.5v2.5h-2.5zM603.6 612.2h3.1v3.1h-3.1zM572.2 785.7h1.9v1.9h-1.9zM581.2 762.3h2.0v2.0h-2.0zM594.1 678.8h2.4v2.4h-2.4zM581.8 751.9h2.0v2.0h-2.0zM586.2 750.9h2.1v2.1h-2.1zM598.8 645.7h3.0v3.0h-3.0zM604.4 710.6h2.5v2.5h-2.5zM629.1 672.3h3.9v3.9h-3.9zM609.4 583.0h4.0v4.0h-4.0zM605.7 684.7h2.9v2.9h-2.9zM612.3 760.2h2.3v2.3h-2.3zM568.5 781.6h1.9v1.9h-1.9zM605.9 604.3h3.1v3.1h-3.1zM560.5 785.9h1.9v1.9h-1.9zM587.7 721.3h2.3v2.3h-2.3zM603.8 655.9h3.4v3.4h-3.4zM609.9 646.6h3.1v3.1h-3.1zM589.9 734.7h2.3v2.3h-2.3zM617.2 572.0h4.0v4.0h-4.0zM587.9 777.5h1.9v1.9h-1.9zM586.7 721.3h2.1v2.1h-2.1zM568.0 782.5h1.9v1.9h-1.9zM618.0 561.1h5.1v5.1h-5.1zM610.1 578.6h3.8v3.8h-3.8zM579.7 765.0h2.0v2.0h-2.0zM592.7 691.6h2.5v2.5h-2.5zM631.7 656.2h3.2v3.2h-3.2zM648.6 669.1h3.4v3.4h-3.4zM592.9 742.8h2.3v2.3h-2.3zM612.9 598.6h3.6v3.6h-3.6zM604.4 660.4h3.1v3.1h-3.1zM598.3 692.3h2.8v2.8h-2.8zM580.0 754.5h2.0v2.0h-2.0zM594.6 666.1h3.0v3.0h-3.0zM631.9 627.3h3.9v3.9h-3.9zM639.6 547.0h6.5v6.5h-6.5zM610.2 563.8h3.6v3.6h-3.6zM574.1 776.4h1.9v1.9h-1.9zM592.9 693.3h2.7v2.7h-2.7zM613.5 548.1h3.7v3.7h-3.7zM615.6 551.3h4.1v4.1h-4.1zM611.9 697.2h2.8v2.8h-2.8zM591.4 744.0h2.3v2.3h-2.3zM590.1 751.5h2.2v2.2h-2.2zM598.0 691.9h2.6v2.6h-2.6zM623.7 642.7h4.1v4.1h-4.1zM616.9 543.1h4.4v4.4h-4.4zM599.1 637.6h3.0v3.0h-3.0zM606.8 599.7h3.8v3.8h-3.8zM614.1 548.0h3.8v3.8h-3.8zM573.1 779.1h1.9v1.9h-1.9zM593.8 675.5h2.5v2.5h-2.5zM602.1 635.1h3.2v3.2h-3.2zM602.6 665.9h3.2v3.2h-3.2zM592.7 701.7h2.4v2.4h-2.4zM611.1 571.1h3.5v3.5h-3.5zM613.0 545.4h4.4v4.4h-4.4zM572.9 782.7h1.9v1.9h-1.9zM583.0 778.1h2.0v2.0h-2.0zM600.3 648.0h3.2v3.2h-3.2zM627.1 575.0h4.2v4.2h-4.2zM581.6 749.8h2.1v2.1h-2.1zM637.6 563.7h6.1v6.1h-6.1zM582.7 753.2h2.0v2.0h-2.0zM605.6 589.2h4.2v4.2h-4.2zM577.3 780.3h1.9v1.9h-1.9zM613.3 581.0h3.8v3.8h-3.8zM603.1 683.9h2.5v2.5h-2.5zM629.0 644.1h3.9v3.9h-3.9zM574.3 774.8h1.9v1.9h-1.9zM592.3 691.6h2.4v2.4h-2.4zM603.3 668.8h2.7v2.7h-2.7zM614.1 641.2h3.1v3.1h-3.1zM580.0 755.1h2.0v2.0h-2.0zM619.9 570.3h4.5v4.5h-4.5zM617.3 562.9h3.7v3.7h-3.7zM610.6 561.9h4.4v4.4h-4.4zM558.6 787.1h1.8v1.8h-1.8zM569.7 782.3h1.9v1.9h-1.9zM600.3 695.1h2.6v2.6h-2.6zM591.6 694.3h2.5v2.5h-2.5zM603.3 642.1h3.4v3.4h-3.4zM588.2 722.2h2.3v2.3h-2.3zM574.9 778.7h1.9v1.9h-1.9zM610.7 686.8h2.8v2.8h-2.8zM600.3 666.4h3.1v3.1h-3.1zM581.9 752.6h2.0v2.0h-2.0zM585.8 731.6h2.2v2.2h-2.2zM601.6 630.7h3.0v3.0h-3.0zM610.2 581.5h3.7v3.7h-3.7zM600.1 646.8h3.1v3.1h-3.1zM605.4 637.8h3.6v3.6h-3.6zM569.9 781.9h1.9v1.9h-1.9zM605.2 600.5h3.5v3.5h-3.5zM614.2 610.8h4.1v4.1h-4.1zM591.3 715.0h2.5v2.5h-2.5zM603.7 676.5h2.9v2.9h-2.9zM604.5 693.5h2.7v2.7h-2.7zM600.3 647.5h2.9v2.9h-2.9zM609.4 587.7h3.5v3.5h-3.5zM582.2 772.9h1.9v1.9h-1.9zM576.3 784.3h1.9v1.9h-1.9zM579.6 765.6h2.0v2.0h-2.0zM609.6 573.0h3.5v3.5h-3.5zM594.0 696.3h2.6v2.6h-2.6zM597.0 735.3h2.3v2.3h-2.3zM606.6 693.7h2.7v2.7h-2.7zM591.8 689.7h2.4v2.4h-2.4zM619.0 549.0h5.1v5.1h-5.1zM607.9 689.0h2.6v2.6h-2.6zM625.0 638.9h3.5v3.5h-3.5zM616.8 543.5h5.5v5.5h-5.5zM594.7 714.6h2.5v2.5h-2.5zM583.3 737.4h2.1v2.1h-2.1zM585.7 728.5h2.2v2.2h-2.2zM634.5 559.6h4.8v4.8h-4.8zM577.5 764.5h2.0v2.0h-2.0zM607.9 610.5h3.1v3.1h-3.1zM610.7 619.0h3.1v3.1h-3.1zM628.5 566.5h4.1v4.1h-4.1zM625.2 651.4h3.4v3.4h-3.4zM626.9 658.0h4.0v4.0h-4.0zM584.6 779.9h1.9v1.9h-1.9zM617.5 583.6h4.2v4.2h-4.2zM589.8 767.4h2.0v2.0h-2.0zM661.9 661.1h5.4v5.4h-5.4zM636.3 638.4h4.0v4.0h-4.0zM610.1 696.0h2.9v2.9h-2.9zM632.3 579.1h5.3v5.3h-5.3zM598.9 736.1h2.3v2.3h-2.3zM640.2 635.1h3.9v3.9h-3.9zM643.0 655.8h4.7v4.7h-4.7zM603.6 682.0h2.7v2.7h-2.7zM626.4 556.6h4.4v4.4h-4.4zM626.0 551.1h4.5v4.5h-4.5zM606.1 667.7h2.7v2.7h-2.7zM634.7 660.0h4.0v4.0h-4.0zM632.2 662.7h4.0v4.0h-4.0zM625.5 717.8h2.8v2.8h-2.8zM652.4 546.9h7.3v7.3h-7.3zM659.1 654.1h5.1v5.1h-5.1zM654.0 606.8h5.2v5.2h-5.2zM599.1 762.1h2.1v2.1h-2.1zM624.4 553.7h4.7v4.7h-4.7zM654.7 560.1h5.9v5.9h-5.9zM669.7 612.1h5.3v5.3h-5.3zM648.9 638.6h5.2v5.2h-5.2zM624.3 733.3h2.4v2.4h-2.4zM645.6 614.7h5.5v5.5h-5.5zM608.1 686.4h2.8v2.8h-2.8zM631.6 555.1h5.5v5.5h-5.5zM644.2 613.7h4.0v4.0h-4.0zM594.0 772.8h2.0v2.0h-2.0zM625.8 631.3h3.4v3.4h-3.4zM626.0 607.0h4.4v4.4h-4.4zM603.2 773.0h2.1v2.1h-2.1zM638.7 557.7h6.7v6.7h-6.7zM662.1 560.4h6.1v6.1h-6.1zM634.0 571.7h5.4v5.4h-5.4zM592.3 763.8h2.0v2.0h-2.0zM624.0 641.6h3.2v3.2h-3.2zM634.6 643.3h3.5v3.5h-3.5zM629.9 612.4h4.3v4.3h-4.3zM653.2 687.6h4.2v4.2h-4.2zM630.0 613.6h4.4v4.4h-4.4zM671.5 619.4h5.5v5.5h-5.5zM656.0 633.6h5.6v5.6h-5.6zM599.6 723.5h2.5v2.5h-2.5zM627.4 562.4h4.4v4.4h-4.4zM609.6 761.5h2.2v2.2h-2.2zM629.5 564.4h4.2v4.2h-4.2zM618.9 663.8h3.5v3.5h-3.5zM647.2 693.2h3.6v3.6h-3.6zM651.2 664.1h3.6v3.6h-3.6zM644.2 624.5h5.0v5.0h-5.0zM616.3 614.2h4.3v4.3h-4.3zM613.4 615.1h3.5v3.5h-3.5zM598.1 734.6h2.2v2.2h-2.2zM620.2 598.7h4.3v4.3h-4.3zM631.5 549.2h6.3v6.3h-6.3zM643.3 653.0h4.4v4.4h-4.4zM632.2 557.9h4.5v4.5h-4.5zM635.0 590.8h5.0v5.0h-5.0zM600.6 719.1h2.4v2.4h-2.4zM604.1 752.9h2.1v2.1h-2.1zM652.8 654.8h4.5v4.5h-4.5zM628.8 624.0h4.8v4.8h-4.8zM656.1 636.1h5.3v5.3h-5.3zM624.7 714.0h2.5v2.5h-2.5zM612.1 674.3h3.4v3.4h-3.4zM615.6 664.8h3.2v3.2h-3.2zM665.3 548.3h7.4v7.4h-7.4zM651.8 548.9h6.7v6.7h-6.7zM620.2 735.0h2.5v2.5h-2.5zM644.5 670.2h3.8v3.8h-3.8zM611.6 635.0h3.0v3.0h-3.0zM634.6 654.0h4.1v4.1h-4.1zM615.1 613.8h4.1v4.1h-4.1zM618.3 603.4h4.4v4.4h-4.4zM664.1 643.2h4.9v4.9h-4.9zM607.4 682.3h3.1v3.1h-3.1zM601.7 694.4h2.5v2.5h-2.5zM625.0 664.8h3.5v3.5h-3.5zM636.9 561.1h4.4v4.4h-4.4zM621.6 565.5h5.2v5.2h-5.2zM640.1 667.7h4.0v4.0h-4.0zM569.5 537.3h3.1v3.1h-3.1zM586.1 540.2h2.9v2.9h-2.9zM601.6 544.1h4.3v4.3h-4.3zM601.5 533.7h3.5v3.5h-3.5zM629.1 534.7h5.8v5.8h-5.8zM569.7 537.2h2.8v2.8h-2.8zM604.4 542.4h3.6v3.6h-3.6zM612.2 541.4h3.7v3.7h-3.7zM587.4 541.2h3.7v3.7h-3.7zM611.8 534.4h4.5v4.5h-4.5zM615.0 536.0h4.1v4.1h-4.1zM585.5 535.2h3.5v3.5h-3.5zM580.1 535.6h3.4v3.4h-3.4zM575.5 537.3h2.8v2.8h-2.8zM601.8 533.9h3.4v3.4h-3.4zM634.5 533.6h4.6v4.6h-4.6zM632.1 533.2h6.2v6.2h-6.2zM627.8 543.9h5.0v5.0h-5.0zM601.8 536.6h3.8v3.8h-3.8zM633.6 540.1h4.7v4.7h-4.7zM621.1 543.5h4.0v4.0h-4.0zM632.9 541.3h6.0v6.0h-6.0zM574.1 539.5h2.9v2.9h-2.9zM607.5 544.3h4.8v4.8h-4.8zM604.9 539.5h4.5v4.5h-4.5zM587.9 540.8h3.9v3.9h-3.9zM557.5 541.2h2.5v2.5h-2.5zM618.9 537.5h4.0v4.0h-4.0zM601.7 534.6h4.6v4.6h-4.6zM617.2 541.4h4.5v4.5h-4.5zM594.9 536.8h4.2v4.2h-4.2zM583.8 543.5h3.4v3.4h-3.4zM566.8 540.3h2.8v2.8h-2.8zM588.6 544.6h3.3v3.3h-3.3zM617.0 534.3h4.1v4.1h-4.1zM578.2 543.8h3.2v3.2h-3.2zM565.3 535.5h2.9v2.9h-2.9zM565.9 534.4h2.7v2.7h-2.7zM554.9 537.2h2.5v2.5h-2.5zM569.0 538.8h2.6v2.6h-2.6zM584.5 539.2h3.8v3.8h-3.8zM587.9 535.6h3.3v3.3h-3.3zM574.9 543.6h2.8v2.8h-2.8zM572.1 535.4h2.8v2.8h-2.8zM576.4 538.3h3.4v3.4h-3.4zM617.7 539.8h5.0v5.0h-5.0zM627.5 544.6h5.0v5.0h-5.0zM634.2 540.7h6.5v6.5h-6.5zM560.1 539.6h2.5v2.5h-2.5zM634.8 534.3h5.1v5.1h-5.1zM586.2 542.8h2.9v2.9h-2.9zM593.8 541.3h3.8v3.8h-3.8zM554.0 541.4h2.5v2.5h-2.5zM591.5 542.7h3.7v3.7h-3.7zM603.0 539.1h3.7v3.7h-3.7zM585.9 544.1h2.9v2.9h-2.9zM593.1 537.2h4.0v4.0h-4.0zM601.8 542.2h4.4v4.4h-4.4zM619.1 533.7h4.2v4.2h-4.2zM623.3 541.8h5.4v5.4h-5.4zM604.4 536.6h3.5v3.5h-3.5zM615.6 542.2h4.9v4.9h-4.9zM561.8 542.5h2.5v2.5h-2.5zM581.4 534.3h3.4v3.4h-3.4zM589.9 543.9h3.4v3.4h-3.4zM568.5 537.9h2.7v2.7h-2.7zM580.6 538.9h3.1v3.1h-3.1zM613.4 541.3h4.2v4.2h-4.2zM589.9 544.3h3.4v3.4h-3.4zM582.0 542.8h3.0v3.0h-3.0zM571.7 537.2h3.1v3.1h-3.1zM607.1 538.1h4.7v4.7h-4.7zM584.3 536.5h2.9v2.9h-2.9zM579.9 537.0h3.4v3.4h-3.4zM605.7 536.9h3.5v3.5h-3.5zM563.4 544.6h2.9v2.9h-2.9zM603.1 543.1h4.0v4.0h-4.0zM627.0 542.6h5.9v5.9h-5.9zM558.7 542.7h2.6v2.6h-2.6zM582.9 538.9h2.9v2.9h-2.9zM601.7 543.2h3.5v3.5h-3.5zM600.3 543.5h3.7v3.7h-3.7zM626.7 542.6h4.4v4.4h-4.4zM608.4 534.2h4.1v4.1h-4.1zM575.3 540.5h3.1v3.1h-3.1zM633.2 534.1h6.4v6.4h-6.4zM571.7 537.7h2.7v2.7h-2.7zM577.4 542.1h3.4v3.4h-3.4zM600.1 533.9h4.4v4.4h-4.4zM571.2 537.1h3.0v3.0h-3.0zM615.0 541.5h5.1v5.1h-5.1zM600.0 535.8h3.9v3.9h-3.9zM610.0 538.1h4.2v4.2h-4.2zM616.6 543.5h5.2v5.2h-5.2zM568.2 543.7h2.9v2.9h-2.9zM619.8 535.2h5.3v5.3h-5.3zM603.9 544.6h4.1v4.1h-4.1zM625.2 538.2h4.8v4.8h-4.8zM590.3 539.8h3.2v3.2h-3.2zM568.5 538.6h2.8v2.8h-2.8zM581.0 540.5h3.6v3.6h-3.6zM630.3 540.0h4.7v4.7h-4.7zM599.2 543.0h3.4v3.4h-3.4zM556.7 538.1h2.5v2.5h-2.5zM609.4 540.2h3.6v3.6h-3.6zM625.2 534.2h5.2v5.2h-5.2zM558.1 542.7h2.3v2.3h-2.3zM610.9 536.3h4.9v4.9h-4.9zM552.9 544.4h2.4v2.4h-2.4zM615.6 536.2h4.4v4.4h-4.4zM551.8 545.9h2.3v2.3h-2.3zM595.6 544.9h4.1v4.1h-4.1zM574.0 538.1h3.0v3.0h-3.0zM600.7 536.5h3.9v3.9h-3.9zM583.1 544.1h3.2v3.2h-3.2zM552.1 541.5h2.3v2.3h-2.3zM602.0 535.3h4.4v4.4h-4.4zM609.2 533.6h4.9v4.9h-4.9zM634.2 537.9h5.6v5.6h-5.6zM627.0 540.9h4.6v4.6h-4.6zM633.3 533.4h5.2v5.2h-5.2zM574.3 540.9h2.9v2.9h-2.9zM616.8 542.6h5.1v5.1h-5.1zM561.2 543.1h2.6v2.6h-2.6zM558.3 539.5h2.7v2.7h-2.7zM605.0 533.2h4.5v4.5h-4.5zM560.6 545.1h2.6v2.6h-2.6zM612.5 533.4h4.4v4.4h-4.4zM582.7 542.2h2.9v2.9h-2.9zM579.5 541.7h3.4v3.4h-3.4zM569.4 542.5h2.9v2.9h-2.9zM584.0 542.5h3.3v3.3h-3.3zM593.7 542.2h3.2v3.2h-3.2zM635.4 539.9h5.4v5.4h-5.4zM564.6 541.1h2.5v2.5h-2.5zM580.1 541.0h3.4v3.4h-3.4zM602.5 542.7h3.6v3.6h-3.6zM574.0 537.1h2.6v2.6h-2.6zM609.2 544.1h3.6v3.6h-3.6zM632.0 535.6h5.9v5.9h-5.9zM576.7 541.9h3.2v3.2h-3.2zM599.7 535.5h3.4v3.4h-3.4zM627.3 542.0h4.4v4.4h-4.4zM606.7 535.5h3.7v3.7h-3.7zM628.1 537.0h4.8v4.8h-4.8zM612.3 536.6h4.3v4.3h-4.3zM607.7 540.3h4.9v4.9h-4.9zM543.3 579.7h1.8v1.8h-1.8zM527.7 687.7h2.2v2.2h-2.2zM522.3 699.1h2.2v2.2h-2.2zM531.9 575.9h1.7v1.7h-1.7zM527.8 555.5h2.1v2.1h-2.1zM526.6 630.4h1.9v1.9h-1.9zM532.1 611.3h2.0v2.0h-2.0zM532.8 612.6h2.2v2.2h-2.2zM548.7 544.9h1.7v1.7h-1.7zM522.0 661.4h1.9v1.9h-1.9zM544.9 569.1h2.0v2.0h-2.0zM538.3 541.7h2.2v2.2h-2.2zM532.3 647.5h2.3v2.3h-2.3zM528.6 658.5h1.8v1.8h-1.8zM517.1 590.7h2.2v2.2h-2.2zM537.7 555.2h2.0v2.0h-2.0zM520.1 721.5h2.0v2.0h-2.0zM522.7 714.1h1.8v1.8h-1.8zM539.9 566.9h1.8v1.8h-1.8zM516.9 721.3h2.0v2.0h-2.0zM511.8 783.3h1.8v1.8h-1.8zM512.2 782.8h1.8v1.8h-1.8zM532.3 573.5h2.3v2.3h-2.3zM522.3 683.8h2.0v2.0h-2.0zM522.6 680.6h2.0v2.0h-2.0zM522.7 717.2h2.1v2.1h-2.1zM514.4 772.7h1.7v1.7h-1.7zM523.3 707.9h2.2v2.2h-2.2zM542.2 607.7h2.0v2.0h-2.0zM515.6 708.4h1.7v1.7h-1.7zM542.5 585.0h1.7v1.7h-1.7zM532.7 640.0h1.9v1.9h-1.9zM535.7 566.4h2.1v2.1h-2.1zM515.7 721.7h2.2v2.2h-2.2zM514.7 654.2h2.1v2.1h-2.1zM534.2 643.5h2.1v2.1h-2.1zM512.9 690.0h1.9v1.9h-1.9zM515.1 594.6h2.1v2.1h-2.1zM517.7 763.8h2.3v2.3h-2.3zM508.7 732.3h1.9v1.9h-1.9zM514.7 786.3h1.9v1.9h-1.9zM513.1 766.0h1.9v1.9h-1.9zM536.2 609.3h2.0v2.0h-2.0zM528.7 659.8h1.7v1.7h-1.7zM515.4 783.5h2.0v2.0h-2.0zM519.0 631.2h1.7v1.7h-1.7zM536.5 572.3h2.2v2.2h-2.2zM541.2 619.1h1.8v1.8h-1.8zM525.4 662.1h1.9v1.9h-1.9zM515.7 753.6h1.8v1.8h-1.8zM520.5 726.4h2.0v2.0h-2.0zM535.7 624.0h1.7v1.7h-1.7zM518.4 737.6h1.9v1.9h-1.9zM526.2 649.3h2.3v2.3h-2.3zM528.8 669.9h1.8v1.8h-1.8zM534.5 557.9h2.1v2.1h-2.1zM518.6 673.7h2.0v2.0h-2.0zM526.0 619.3h2.2v2.2h-2.2zM518.5 736.9h2.2v2.2h-2.2zM540.8 564.2h1.8v1.8h-1.8zM519.0 723.2h2.2v2.2h-2.2zM516.3 639.6h1.9v1.9h-1.9zM546.3 570.1h2.1v2.1h-2.1zM510.1 751.4h2.1v2.1h-2.1zM544.4 594.4h2.1v2.1h-2.1zM517.1 738.0h1.9v1.9h-1.9zM532.2 640.4h2.3v2.3h-2.3zM541.0 619.4h2.1v2.1h-2.1zM509.0 766.4h2.1v2.1h-2.1zM525.6 701.9h1.7v1.7h-1.7zM542.6 563.7h1.8v1.8h-1.8zM525.5 696.6h1.7v1.7h-1.7zM542.6 566.1h2.1v2.1h-2.1zM537.9 607.0h1.9v1.9h-1.9zM539.9 557.6h2.1v2.1h-2.1zM515.5 734.3h2.0v2.0h-2.0zM544.7 570.1h1.9v1.9h-1.9zM538.9 628.0h2.1v2.1h-2.1zM519.4 724.7h2.3v2.3h-2.3zM540.5 601.4h2.1v2.1h-2.1zM521.1 699.2h2.0v2.0h-2.0zM533.9 643.1h1.7v1.7h-1.7zM516.5 770.6h1.7v1.7h-1.7zM541.9 555.8h1.8v1.8h-1.8zM520.2 717.2h2.1v2.1h-2.1zM527.1 683.9h2.3v2.3h-2.3zM516.2 725.8h2.0v2.0h-2.0zM530.3 675.4h2.2v2.2h-2.2zM543.7 585.8h2.3v2.3h-2.3zM525.8 578.1h1.7v1.7h-1.7zM523.9 669.1h2.2v2.2h-2.2zM511.0 771.7h2.2v2.2h-2.2zM528.9 638.4h2.2v2.2h-2.2zM510.8 769.0h2.2v2.2h-2.2zM515.2 756.1h2.1v2.1h-2.1zM539.2 559.5h1.8v1.8h-1.8zM514.2 710.0h1.9v1.9h-1.9zM537.8 629.1h1.9v1.9h-1.9zM539.8 621.3h1.8v1.8h-1.8zM539.9 562.3h1.9v1.9h-1.9zM517.5 724.0h2.1v2.1h-2.1zM535.0 625.7h1.8v1.8h-1.8zM512.0 779.9h2.0v2.0h-2.0zM530.4 646.5h2.0v2.0h-2.0zM545.1 583.1h1.8v1.8h-1.8zM519.3 745.2h2.2v2.2h-2.2zM527.8 669.6h2.2v2.2h-2.2zM532.0 563.4h1.8v1.8h-1.8zM526.3 550.2h2.2v2.2h-2.2zM543.2 583.9h2.0v2.0h-2.0zM545.6 560.4h2.3v2.3h-2.3zM512.7 768.4h2.0v2.0h-2.0zM513.5 770.7h2.3v2.3h-2.3zM519.3 664.1h1.8v1.8h-1.8zM513.8 761.2h1.7v1.7h-1.7zM546.9 542.8h2.0v2.0h-2.0zM539.1 548.7h1.9v1.9h-1.9zM544.9 570.4h1.7v1.7h-1.7zM519.4 783.1h2.0v2.0h-2.0zM520.7 684.6h2.2v2.2h-2.2zM519.7 736.4h1.9v1.9h-1.9zM549.1 547.7h1.9v1.9h-1.9zM526.0 646.5h1.7v1.7h-1.7zM539.5 574.9h2.0v2.0h-2.0zM529.5 631.0h2.0v2.0h-2.0zM541.3 617.1h1.9v1.9h-1.9zM510.7 750.9h1.8v1.8h-1.8zM532.5 582.0h2.1v2.1h-2.1zM513.4 778.6h2.2v2.2h-2.2zM517.9 749.6h2.0v2.0h-2.0zM536.0 586.0h1.7v1.7h-1.7zM521.0 657.1h2.0v2.0h-2.0zM530.1 619.5h1.8v1.8h-1.8zM511.3 676.8h2.3v2.3h-2.3zM535.4 542.9h2.3v2.3h-2.3zM528.6 613.5h2.0v2.0h-2.0zM534.6 647.8h2.0v2.0h-2.0zM522.3 669.3h2.3v2.3h-2.3zM516.3 760.3h1.9v1.9h-1.9zM531.9 656.7h2.1v2.1h-2.1zM521.2 713.8h2.3v2.3h-2.3zM513.1 661.4h1.9v1.9h-1.9zM522.0 702.5h1.7v1.7h-1.7zM513.6 771.9h1.8v1.8h-1.8zM512.6 752.7h2.1v2.1h-2.1zM533.8 560.3h1.9v1.9h-1.9zM535.6 599.5h2.0v2.0h-2.0zM535.8 571.4h2.2v2.2h-2.2zM530.3 669.3h2.2v2.2h-2.2zM543.9 594.6h1.8v1.8h-1.8zM526.9 687.9h2.3v2.3h-2.3zM510.2 747.9h2.1v2.1h-2.1zM525.5 681.1h2.3v2.3h-2.3zM533.8 574.2h2.0v2.0h-2.0zM520.1 718.3h1.7v1.7h-1.7zM511.6 753.7h2.0v2.0h-2.0zM512.7 749.9h1.9v1.9h-1.9zM517.5 713.3h1.8v1.8h-1.8zM509.5 703.9h2.2v2.2h-2.2zM534.6 634.4h2.0v2.0h-2.0zM510.7 732.5h1.8v1.8h-1.8zM526.1 666.6h2.0v2.0h-2.0zM539.7 604.0h2.0v2.0h-2.0zM540.7 570.0h2.2v2.2h-2.2zM520.1 714.3h2.0v2.0h-2.0zM534.3 624.6h1.8v1.8h-1.8zM517.6 745.9h2.2v2.2h-2.2zM528.2 648.9h2.0v2.0h-2.0zM514.8 780.2h1.7v1.7h-1.7zM544.2 541.9h2.0v2.0h-2.0zM511.5 747.4h1.9v1.9h-1.9zM519.0 744.6h2.1v2.1h-2.1zM527.5 676.2h1.7v1.7h-1.7zM540.5 589.9h2.2v2.2h-2.2zM523.2 612.6h2.2v2.2h-2.2zM542.9 541.2h2.2v2.2h-2.2zM512.5 769.7h1.9v1.9h-1.9zM516.3 774.5h1.7v1.7h-1.7zM518.2 779.8h1.9v1.9h-1.9zM537.0 616.1h2.2v2.2h-2.2zM515.6 772.5h2.0v2.0h-2.0zM526.4 663.9h2.0v2.0h-2.0zM528.0 625.2h2.1v2.1h-2.1zM541.4 568.3h2.1v2.1h-2.1zM524.8 594.0h2.2v2.2h-2.2zM523.8 690.0h2.0v2.0h-2.0zM539.3 633.0h2.2v2.2h-2.2zM525.9 696.1h1.8v1.8h-1.8zM524.2 552.1h2.1v2.1h-2.1zM515.4 677.7h1.9v1.9h-1.9zM538.7 591.1h1.9v1.9h-1.9zM520.2 615.7h2.3v2.3h-2.3zM524.3 628.6h2.2v2.2h-2.2zM525.9 631.8h2.3v2.3h-2.3zM525.9 632.8h1.8v1.8h-1.8zM517.9 780.2h2.0v2.0h-2.0zM511.7 652.2h2.3v2.3h-2.3zM520.7 737.1h2.0v2.0h-2.0zM541.2 547.5h2.1v2.1h-2.1zM539.0 586.8h2.2v2.2h-2.2zM515.7 575.8h1.8v1.8h-1.8zM538.5 637.8h2.1v2.1h-2.1zM527.0 663.3h1.7v1.7h-1.7zM536.1 606.8h2.2v2.2h-2.2zM517.3 616.5h2.2v2.2h-2.2zM524.0 701.7h2.2v2.2h-2.2zM539.3 583.3h1.8v1.8h-1.8zM532.9 652.9h1.8v1.8h-1.8zM533.3 638.3h2.1v2.1h-2.1zM530.0 553.0h1.7v1.7h-1.7zM518.0 706.5h2.0v2.0h-2.0zM519.3 587.2h2.0v2.0h-2.0zM531.9 625.6h2.1v2.1h-2.1zM537.2 582.3h2.3v2.3h-2.3zM535.4 648.1h1.8v1.8h-1.8zM543.6 576.3h2.3v2.3h-2.3zM535.7 575.4h2.0v2.0h-2.0zM526.2 696.2h2.2v2.2h-2.2zM529.8 558.2h1.8v1.8h-1.8zM547.2 551.5h2.0v2.0h-2.0zM536.6 639.4h1.8v1.8h-1.8zM526.5 682.4h2.3v2.3h-2.3zM520.0 712.3h1.8v1.8h-1.8zM542.5 549.4h2.0v2.0h-2.0zM518.9 785.6h1.8v1.8h-1.8zM530.0 640.4h1.9v1.9h-1.9zM512.0 752.3h2.3v2.3h-2.3zM536.9 586.4h1.9v1.9h-1.9zM529.5 608.6h2.1v2.1h-2.1zM524.3 639.5h2.3v2.3h-2.3zM527.5 567.5h1.9v1.9h-1.9zM515.6 706.3h2.3v2.3h-2.3zM514.3 662.6h1.9v1.9h-1.9zM543.8 570.0h2.1v2.1h-2.1zM534.0 657.1h1.7v1.7h-1.7zM512.6 743.9h2.0v2.0h-2.0zM520.3 705.6h1.8v1.8h-1.8zM537.4 583.8h1.8v1.8h-1.8zM546.5 572.5h1.8v1.8h-1.8zM512.9 786.9h1.8v1.8h-1.8zM520.7 681.7h1.7v1.7h-1.7zM518.1 748.4h1.7v1.7h-1.7zM533.6 652.8h1.8v1.8h-1.8zM516.7 729.8h2.0v2.0h-2.0zM534.2 618.9h1.8v1.8h-1.8zM534.3 636.5h1.9v1.9h-1.9zM538.2 620.4h2.0v2.0h-2.0zM543.7 552.5h2.1v2.1h-2.1zM511.7 739.7h1.9v1.9h-1.9zM530.2 669.5h2.2v2.2h-2.2zM544.8 554.2h1.8v1.8h-1.8zM523.9 687.7h1.8v1.8h-1.8zM521.7 544.3h1.8v1.8h-1.8zM524.8 701.2h2.2v2.2h-2.2zM526.4 686.2h2.3v2.3h-2.3zM518.4 753.5h1.8v1.8h-1.8zM510.2 746.5h2.3v2.3h-2.3zM527.1 569.2h1.8v1.8h-1.8zM519.3 568.1h1.8v1.8h-1.8zM529.7 654.7h2.3v2.3h-2.3zM524.0 694.2h2.0v2.0h-2.0zM516.1 716.0h2.1v2.1h-2.1zM524.2 649.5h2.0v2.0h-2.0zM517.0 739.9h2.1v2.1h-2.1zM524.1 704.0h2.1v2.1h-2.1zM516.6 572.5h2.0v2.0h-2.0zM515.8 734.2h2.3v2.3h-2.3zM547.9 544.0h2.0v2.0h-2.0zM524.7 698.7h2.0v2.0h-2.0zM537.7 599.1h1.9v1.9h-1.9zM543.1 590.8h2.2v2.2h-2.2zM508.2 731.0h2.3v2.3h-2.3zM510.5 770.3h2.0v2.0h-2.0zM517.5 754.5h2.1v2.1h-2.1zM513.1 763.8h2.2v2.2h-2.2zM523.5 661.0h2.3v2.3h-2.3zM533.9 647.2h1.8v1.8h-1.8zM538.5 586.9h2.1v2.1h-2.1zM525.6 607.9h2.0v2.0h-2.0zM541.3 562.8h2.2v2.2h-2.2zM516.9 749.7h1.9v1.9h-1.9zM529.2 674.2h2.1v2.1h-2.1zM512.4 754.1h2.1v2.1h-2.1zM518.2 625.3h2.0v2.0h-2.0zM530.9 560.6h1.9v1.9h-1.9zM527.1 588.9h1.7v1.7h-1.7zM526.8 600.0h2.1v2.1h-2.1zM512.2 629.0h2.2v2.2h-2.2zM522.2 697.4h1.9v1.9h-1.9zM510.2 650.9h2.2v2.2h-2.2zM539.2 591.3h2.2v2.2h-2.2zM507.9 763.6h2.1v2.1h-2.1zM521.0 684.9h2.2v2.2h-2.2zM542.1 588.4h2.2v2.2h-2.2zM536.9 557.2h2.1v2.1h-2.1zM530.9 597.7h2.0v2.0h-2.0zM543.2 553.3h1.8v1.8h-1.8zM517.1 719.7h1.8v1.8h-1.8zM511.4 734.2h2.3v2.3h-2.3zM508.4 758.7h1.9v1.9h-1.9zM541.4 592.9h2.2v2.2h-2.2zM526.8 626.1h2.2v2.2h-2.2zM538.5 579.2h1.9v1.9h-1.9zM543.6 565.4h2.1v2.1h-2.1zM512.9 717.6h1.8v1.8h-1.8zM511.0 748.4h1.8v1.8h-1.8zM512.8 776.4h1.9v1.9h-1.9zM519.6 687.9h2.0v2.0h-2.0zM530.0 630.1h2.0v2.0h-2.0zM527.1 684.9h2.2v2.2h-2.2zM515.2 717.9h2.0v2.0h-2.0zM515.8 761.4h2.1v2.1h-2.1zM511.0 717.2h2.0v2.0h-2.0zM516.7 653.6h1.8v1.8h-1.8zM544.7 581.8h2.3v2.3h-2.3zM518.4 734.9h1.9v1.9h-1.9zM518.6 683.5h2.1v2.1h-2.1zM509.0 753.6h2.1v2.1h-2.1zM525.6 551.0h2.2v2.2h-2.2zM520.0 583.8h2.0v2.0h-2.0zM508.2 729.8h2.1v2.1h-2.1zM531.8 650.0h2.2v2.2h-2.2zM512.7 752.6h2.1v2.1h-2.1zM514.0 708.3h1.8v1.8h-1.8zM513.1 776.4h2.1v2.1h-2.1zM515.3 719.9h2.3v2.3h-2.3zM523.6 633.7h2.1v2.1h-2.1zM525.4 604.4h2.1v2.1h-2.1zM516.4 727.1h2.2v2.2h-2.2zM521.3 712.0h1.8v1.8h-1.8zM530.3 576.2h2.0v2.0h-2.0zM540.1 591.6h2.1v2.1h-2.1zM529.5 671.0h1.9v1.9h-1.9zM526.1 614.0h2.3v2.3h-2.3zM522.4 591.4h2.1v2.1h-2.1zM545.3 561.9h1.8v1.8h-1.8zM530.1 631.3h1.8v1.8h-1.8zM517.6 556.6h2.2v2.2h-2.2zM539.3 613.6h2.0v2.0h-2.0zM536.4 584.3h1.8v1.8h-1.8zM512.6 724.9h1.8v1.8h-1.8zM513.1 725.8h1.9v1.9h-1.9zM572.1 787.3h2.1v2.1h-2.1zM529.2 789.2h1.8v1.8h-1.8zM565.4 789.4h1.8v1.8h-1.8zM561.8 787.0h2.3v2.3h-2.3zM535.0 787.3h1.9v1.9h-1.9zM548.5 787.1h1.8v1.8h-1.8zM571.3 789.1h1.8v1.8h-1.8zM564.1 788.5h1.9v1.9h-1.9zM521.9 787.2h2.0v2.0h-2.0zM550.4 788.5h2.1v2.1h-2.1zM549.9 789.3h1.9v1.9h-1.9zM557.0 787.5h2.2v2.2h-2.2zM551.5 790.8h2.0v2.0h-2.0zM529.7 787.4h2.0v2.0h-2.0zM540.0 788.4h2.0v2.0h-2.0zM533.4 789.8h2.2v2.2h-2.2zM567.5 788.0h1.9v1.9h-1.9zM562.3 787.8h2.1v2.1h-2.1zM549.8 787.1h2.0v2.0h-2.0zM539.1 789.1h2.1v2.1h-2.1zM568.5 787.6h1.8v1.8h-1.8zM552.4 787.9h2.0v2.0h-2.0zM526.6 787.7h1.8v1.8h-1.8zM523.0 788.8h1.9v1.9h-1.9zM566.0 787.1h2.2v2.2h-2.2zM545.6 789.7h2.2v2.2h-2.2zM542.0 791.2h2.0v2.0h-2.0zM568.2 788.4h2.3v2.3h-2.3zM527.8 787.9h2.3v2.3h-2.3zM541.5 789.6h2.0v2.0h-2.0zM557.8 787.8h1.9v1.9h-1.9zM517.2 788.3h2.1v2.1h-2.1zM542.5 791.5h2.1v2.1h-2.1zM544.8 787.3h2.1v2.1h-2.1zM546.9 788.9h1.7v1.7h-1.7zM545.7 787.7h1.9v1.9h-1.9zM522.3 788.1h2.3v2.3h-2.3zM522.2 789.4h1.9v1.9h-1.9zM559.2 788.6h2.0v2.0h-2.0zM547.4 789.4h1.9v1.9h-1.9zM549.2 789.2h1.8v1.8h-1.8zM568.8 787.2h1.9v1.9h-1.9zM569.8 788.4h1.8v1.8h-1.8zM533.9 787.2h1.8v1.8h-1.8zM564.0 789.1h1.9v1.9h-1.9zM538.7 787.1h1.9v1.9h-1.9zM545.4 787.2h2.2v2.2h-2.2zM549.9 789.8h1.7v1.7h-1.7zM526.4 788.9h2.0v2.0h-2.0zM549.7 788.8h1.8v1.8h-1.8zM561.8 789.2h1.8v1.8h-1.8zM544.1 787.3h2.2v2.2h-2.2zM554.0 787.9h1.8v1.8h-1.8zM571.8 788.0h1.8v1.8h-1.8zM526.0 789.3h2.2v2.2h-2.2zM571.2 789.2h2.0v2.0h-2.0zM552.2 788.2h2.0v2.0h-2.0zM556.7 788.5h1.7v1.7h-1.7zM564.9 787.2h2.3v2.3h-2.3zM530.0 790.1h1.7v1.7h-1.7zM543.3 787.3h2.1v2.1h-2.1zM558.4 787.5h1.8v1.8h-1.8zM521.5 788.7h1.8v1.8h-1.8zM521.1 787.9h1.7v1.7h-1.7zM523.9 788.4h2.1v2.1h-2.1zM549.4 787.4h1.8v1.8h-1.8zM564.0 789.2h1.9v1.9h-1.9zM556.7 790.1h1.8v1.8h-1.8zM557.1 787.1h1.8v1.8h-1.8zM541.9 788.1h2.0v2.0h-2.0zM542.0 787.6h2.3v2.3h-2.3zM533.8 789.8h2.0v2.0h-2.0zM527.0 789.0h1.7v1.7h-1.7zM527.4 789.4h1.8v1.8h-1.8zM562.1 789.0h1.8v1.8h-1.8zM519.1 787.9h2.0v2.0h-2.0zM523.8 787.6h1.9v1.9h-1.9zM541.4 789.8h1.8v1.8h-1.8zM566.5 789.0h2.0v2.0h-2.0zM523.7 789.8h2.3v2.3h-2.3zM525.9 789.5h1.8v1.8h-1.8zM531.4 788.3h2.0v2.0h-2.0zM552.9 789.8h2.1v2.1h-2.1zM571.0 789.0h1.8v1.8h-1.8zM564.8 789.0h2.1v2.1h-2.1zM540.6 790.7h2.1v2.1h-2.1zM535.1 788.6h2.2v2.2h-2.2zM560.9 787.8h2.0v2.0h-2.0zM552.5 787.2h1.7v1.7h-1.7zM558.6 788.3h1.8v1.8h-1.8zM540.7 792.4h2.2v2.2h-2.2zM524.3 789.4h1.7v1.7h-1.7zM568.8 788.0h1.8v1.8h-1.8z" fill="#4db33d"/>
<path d="M652.2 541.6h7.1v7.1h-7.1zM608.3 677.6h2.9v2.9h-2.9zM678.7 537.6h7.4v7.4h-7.4zM579.6 765.4h2.0v2.0h-2.0zM591.6 739.8h2.1v2.1h-2.1zM587.1 734.8h2.3v2.3h-2.3zM591.9 777.5h1.9v1.9h-1.9zM635.7 612.8h3.7v3.7h-3.7zM608.2 677.8h2.6v2.6h-2.6zM585.9 723.6h2.2v2.2h-2.2zM584.5 736.8h2.2v2.2h-2.2zM611.6 677.3h2.9v2.9h-2.9zM612.5 634.4h3.3v3.3h-3.3zM610.8 561.5h4.8v4.8h-4.8zM597.1 693.5h2.8v2.8h-2.8zM620.2 607.4h4.2v4.2h-4.2zM606.8 658.6h3.3v3.3h-3.3zM589.4 732.2h2.2v2.2h-2.2zM597.5 668.9h2.6v2.6h-2.6zM597.4 699.0h2.4v2.4h-2.4zM597.6 655.8h2.7v2.7h-2.7zM607.0 628.3h3.7v3.7h-3.7zM610.6 574.0h4.4v4.4h-4.4zM607.7 661.4h3.1v3.1h-3.1zM595.4 659.7h3.0v3.0h-3.0zM604.9 637.9h3.6v3.6h-3.6zM603.3 722.9h2.5v2.5h-2.5zM564.9 784.4h1.9v1.9h-1.9zM625.5 538.0h5.6v5.6h-5.6zM612.9 543.4h4.7v4.7h-4.7zM608.6 624.4h3.2v3.2h-3.2zM609.1 607.2h4.2v4.2h-4.2zM593.0 758.8h2.1v2.1h-2.1zM583.9 765.6h2.0v2.0h-2.0zM605.8 594.6h3.3v3.3h-3.3zM578.9 766.8h2.0v2.0h-2.0zM588.2 716.9h2.3v2.3h-2.3zM616.2 579.3h3.7v3.7h-3.7zM603.9 651.8h3.4v3.4h-3.4zM606.5 587.2h3.8v3.8h-3.8zM583.1 766.1h1.9v1.9h-1.9zM603.1 626.0h3.0v3.0h-3.0zM618.3 581.3h4.8v4.8h-4.8zM630.4 579.0h5.6v5.6h-5.6zM584.7 741.2h2.1v2.1h-2.1zM591.9 721.0h2.2v2.2h-2.2zM567.1 786.7h1.9v1.9h-1.9zM603.4 652.3h2.8v2.8h-2.8zM604.6 671.1h2.8v2.8h-2.8zM590.7 713.1h2.3v2.3h-2.3zM617.1 558.1h4.5v4.5h-4.5zM591.9 684.8h2.5v2.5h-2.5zM568.8 782.5h1.9v1.9h-1.9zM581.7 760.7h2.0v2.0h-2.0zM617.1 582.1h3.7v3.7h-3.7zM616.5 584.1h3.6v3.6h-3.6zM604.1 623.5h3.5v3.5h-3.5zM598.4 670.4h2.9v2.9h-2.9zM605.7 682.5h2.6v2.6h-2.6zM619.1 646.3h3.1v3.1h-3.1zM584.0 742.2h2.1v2.1h-2.1zM587.0 730.2h2.3v2.3h-2.3zM601.8 638.3h2.9v2.9h-2.9zM613.4 541.6h4.4v4.4h-4.4zM606.5 649.0h3.0v3.0h-3.0zM605.1 677.6h3.0v3.0h-3.0zM595.2 663.2h2.8v2.8h-2.8zM588.9 747.4h2.2v2.2h-2.2zM613.0 545.8h4.4v4.4h-4.4zM614.8 541.9h4.5v4.5h-4.5zM604.3 778.5h2.0v2.0h-2.0zM601.0 625.8h3.1v3.1h-3.1zM606.1 689.5h2.7v2.7h-2.7zM592.4 710.4h2.6v2.6h-2.6zM616.4 554.0h4.9v4.9h-4.9zM589.8 766.4h2.0v2.0h-2.0zM605.3 611.4h3.7v3.7h-3.7zM582.2 750.6h2.0v2.0h-2.0zM575.2 781.0h1.9v1.9h-1.9zM596.8 687.3h2.5v2.5h-2.5zM628.6 552.3h5.4v5.4h-5.4zM596.2 685.1h2.5v2.5h-2.5zM593.3 689.3h2.5v2.5h-2.5zM605.5 650.9h3.1v3.1h-3.1zM597.7 709.2h2.5v2.5h-2.5zM633.1 547.3h4.7v4.7h-4.7zM575.6 771.4h1.9v1.9h-1.9zM599.8 704.1h2.7v2.7h-2.7zM602.3 646.1h3.2v3.2h-3.2zM663.8 554.4h5.6v5.6h-5.6zM579.6 757.7h2.0v2.0h-2.0zM665.5 570.9h6.6v6.6h-6.6zM579.8 757.6h2.0v2.0h-2.0zM612.2 548.6h4.4v4.4h-4.4zM619.6 590.1h4.1v4.1h-4.1zM594.6 690.7h2.6v2.6h-2.6zM597.9 736.3h2.2v2.2h-2.2zM619.7 633.6h4.1v4.1h-4.1zM602.6 661.8h2.7v2.7h-2.7zM618.2 577.8h5.0v5.0h-5.0zM622.5 570.8h4.1v4.1h-4.1zM612.5 591.6h3.6v3.6h-3.6zM575.3 777.9h1.9v1.9h-1.9zM590.2 735.7h2.3v2.3h-2.3zM592.1 710.2h2.3v2.3h-2.3zM620.3 661.2h3.2v3.2h-3.2zM618.8 677.5h3.0v3.0h-3.0zM644.1 563.7h4.6v4.6h-4.6zM618.9 539.9h5.4v5.4h-5.4zM604.6 603.0h3.2v3.2h-3.2zM612.5 632.4h3.2v3.2h-3.2zM592.0 684.6h2.4v2.4h-2.4zM597.5 680.3h2.4v2.4h-2.4zM593.5 708.9h2.4v2.4h-2.4zM611.2 580.5h3.7v3.7h-3.7zM616.5 591.4h3.5v3.5h-3.5zM599.9 628.3h3.5v3.5h-3.5zM604.3 604.8h3.1v3.1h-3.1zM605.0 664.5h2.9v2.9h-2.9zM585.5 771.1h2.0v2.0h-2.0zM590.1 704.4h2.6v2.6h-2.6zM606.0 615.6h3.9v3.9h-3.9zM590.5 773.6h2.0v2.0h-2.0zM589.0 729.2h2.2v2.2h-2.2zM577.0 779.7h1.9v1.9h-1.9zM571.2 782.1h1.9v1.9h-1.9zM592.4 703.9h2.2v2.2h-2.2zM609.5 592.5h3.5v3.5h-3.5zM621.6 590.8h4.0v4.0h-4.0zM593.3 692.9h2.6v2.6h-2.6zM610.0 702.2h2.5v2.5h-2.5zM614.5 552.3h3.8v3.8h-3.8zM575.2 774.2h1.9v1.9h-1.9zM583.9 734.6h2.1v2.1h-2.1zM603.6 633.4h3.2v3.2h-3.2zM617.4 616.6h4.1v4.1h-4.1zM623.6 555.4h4.0v4.0h-4.0zM608.2 589.3h4.0v4.0h-4.0zM622.8 549.8h5.7v5.7h-5.7zM595.5 698.8h2.7v2.7h-2.7zM613.7 548.7h4.3v4.3h-4.3zM586.0 749.8h2.0v2.0h-2.0zM606.8 606.4h3.8v3.8h-3.8zM583.2 755.4h2.1v2.1h-2.1zM599.9 687.0h2.8v2.8h-2.8zM604.5 632.2h3.1v3.1h-3.1zM608.5 693.5h3.0v3.0h-3.0zM633.4 606.6h4.8v4.8h-4.8zM601.5 679.1h2.6v2.6h-2.6zM631.7 652.9h3.6v3.6h-3.6zM602.2 656.0h2.7v2.7h-2.7zM622.0 565.0h4.3v4.3h-4.3zM579.8 757.9h2.0v2.0h-2.0zM627.8 583.5h4.1v4.1h-4.1zM597.3 669.5h2.7v2.7h-2.7zM593.7 702.4h2.4v2.4h-2.4zM587.6 730.9h2.1v2.1h-2.1zM575.7 771.6h1.9v1.9h-1.9zM584.1 743.3h2.1v2.1h-2.1zM598.5 659.9h3.1v3.1h-3.1zM628.3 570.7h5.2v5.2h-5.2zM661.7 566.6h7.4v7.4h-7.4zM622.9 647.2h3.5v3.5h-3.5zM600.2 652.1h3.0v3.0h-3.0zM587.3 727.5h2.3v2.3h-2.3zM620.1 576.6h5.1v5.1h-5.1zM586.8 742.3h2.1v2.1h-2.1zM599.9 646.9h2.8v2.8h-2.8zM609.7 670.8h3.1v3.1h-3.1zM618.0 598.1h3.4v3.4h-3.4zM613.2 553.5h4.2v4.2h-4.2zM589.6 716.5h2.4v2.4h-2.4zM641.4 592.2h4.5v4.5h-4.5zM597.3 655.1h2.9v2.9h-2.9zM590.3 701.6h2.5v2.5h-2.5zM638.0 618.5h4.2v4.2h-4.2zM575.6 772.5h1.9v1.9h-1.9zM625.3 565.9h4.0v4.0h-4.0zM616.4 554.7h3.9v3.9h-3.9zM623.2 551.2h4.5v4.5h-4.5zM623.9 544.9h4.3v4.3h-4.3zM647.9 568.5h5.6v5.6h-5.6zM594.6 694.2h2.5v2.5h-2.5zM592.9 699.5h2.6v2.6h-2.6zM619.7 619.0h3.7v3.7h-3.7zM588.3 724.8h2.1v2.1h-2.1zM615.0 598.7h3.9v3.9h-3.9zM608.9 593.4h4.2v4.2h-4.2zM592.4 727.2h2.3v2.3h-2.3zM572.9 783.3h1.9v1.9h-1.9zM607.3 583.6h3.5v3.5h-3.5zM611.0 600.2h4.1v4.1h-4.1zM603.9 654.6h3.0v3.0h-3.0zM608.3 573.7h4.3v4.3h-4.3zM589.5 751.3h2.1v2.1h-2.1zM583.3 756.3h2.0v2.0h-2.0zM609.1 608.9h3.9v3.9h-3.9zM598.1 660.6h2.9v2.9h-2.9zM631.7 556.3h5.9v5.9h-5.9zM598.0 646.3h3.1v3.1h-3.1zM607.7 579.2h3.3v3.3h-3.3zM600.4 628.1h3.5v3.5h-3.5zM601.6 683.7h3.0v3.0h-3.0zM579.0 781.9h1.9v1.9h-1.9zM608.6 634.3h3.7v3.7h-3.7zM590.0 696.9h2.6v2.6h-2.6zM623.3 541.5h5.7v5.7h-5.7zM592.0 700.3h2.6v2.6h-2.6zM611.0 612.7h4.0v4.0h-4.0zM594.8 712.0h2.3v2.3h-2.3zM610.6 609.1h3.1v3.1h-3.1zM615.3 607.9h3.6v3.6h-3.6zM603.5 715.8h2.4v2.4h-2.4zM581.7 746.6h2.1v2.1h-2.1zM614.1 695.6h2.7v2.7h-2.7zM596.7 654.5h2.8v2.8h-2.8zM624.6 690.2h2.8v2.8h-2.8zM607.9 639.4h3.5v3.5h-3.5zM583.0 780.0h1.9v1.9h-1.9zM615.5 665.5h3.5v3.5h-3.5zM609.1 679.8h3.2v3.2h-3.2zM638.1 567.4h4.9v4.9h-4.9zM579.8 767.2h2.0v2.0h-2.0zM616.6 578.2h4.4v4.4h-4.4zM583.5 736.3h2.0v2.0h-2.0zM592.0 725.9h2.4v2.4h-2.4zM593.8 717.6h2.3v2.3h-2.3zM601.7 635.7h2.8v2.8h-2.8zM603.7 671.9h2.7v2.7h-2.7zM620.5 542.3h5.8v5.8h-5.8zM609.2 621.5h3.1v3.1h-3.1zM615.2 651.2h2.9v2.9h-2.9zM605.2 632.9h3.5v3.5h-3.5zM594.7 723.9h2.3v2.3h-2.3zM604.0 650.8h3.4v3.4h-3.4zM605.5 661.6h2.8v2.8h-2.8zM610.9 596.7h3.4v3.4h-3.4zM599.8 656.7h2.8v2.8h-2.8zM618.1 547.6h3.8v3.8h-3.8zM656.2 566.7h7.3v7.3h-7.3zM597.8 675.9h2.8v2.8h-2.8zM577.7 770.1h2.0v2.0h-2.0zM580.7 763.6h2.0v2.0h-2.0zM579.8 772.5h2.0v2.0h-2.0zM619.2 552.5h4.1v4.1h-4.1zM584.7 747.3h2.0v2.0h-2.0zM618.4 578.0h3.8v3.8h-3.8zM591.6 700.6h2.5v2.5h-2.5zM612.6 553.4h4.1v4.1h-4.1zM606.2 599.0h3.2v3.2h-3.2zM581.0 780.2h1.9v1.9h-1.9zM588.6 744.4h2.1v2.1h-2.1zM575.3 776.7h1.9v1.9h-1.9zM600.6 678.8h2.7v2.7h-2.7zM596.5 670.7h2.8v2.8h-2.8zM613.5 589.8h3.4v3.4h-3.4zM597.1 681.9h2.9v2.9h-2.9zM587.8 758.1h2.0v2.0h-2.0zM612.7 549.5h3.9v3.9h-3.9zM614.1 602.9h4.3v4.3h-4.3zM583.5 773.3h2.0v2.0h-2.0zM598.3 667.1h2.9v2.9h-2.9zM593.6 718.6h2.3v2.3h-2.3zM589.5 736.4h2.2v2.2h-2.2zM617.6 654.8h3.8v3.8h-3.8zM606.6 614.2h3.6v3.6h-3.6zM601.4 637.3h2.7v2.7h-2.7zM595.0 710.1h2.5v2.5h-2.5zM613.6 548.3h5.2v5.2h-5.2zM609.2 663.0h3.0v3.0h-3.0zM585.5 744.2h2.0v2.0h-2.0zM624.8 560.7h5.2v5.2h-5.2zM626.8 615.1h4.3v4.3h-4.3zM587.4 739.9h2.1v2.1h-2.1zM599.9 629.3h2.9v2.9h-2.9zM638.4 615.6h3.9v3.9h-3.9zM637.6 540.6h5.6v5.6h-5.6zM589.0 730.9h2.3v2.3h-2.3zM616.3 546.8h4.8v4.8h-4.8zM590.1 714.1h2.5v2.5h-2.5zM613.7 544.2h4.7v4.7h-4.7zM581.3 750.2h2.1v2.1h-2.1zM612.6 553.6h3.7v3.7h-3.7zM624.2 629.5h3.4v3.4h-3.4zM604.9 696.4h2.7v2.7h-2.7zM582.0 765.9h2.0v2.0h-2.0zM591.8 720.5h2.2v2.2h-2.2zM585.2 734.5h2.1v2.1h-2.1zM587.5 721.6h2.4v2.4h-2.4zM600.9 665.7h3.1v3.1h-3.1zM580.3 781.9h1.9v1.9h-1.9zM631.6 559.9h6.1v6.1h-6.1zM611.9 572.2h3.7v3.7h-3.7zM585.5 729.6h2.1v2.1h-2.1zM579.9 764.6h2.0v2.0h-2.0zM589.2 718.9h2.2v2.2h-2.2zM609.2 568.9h3.6v3.6h-3.6zM627.9 554.8h4.5v4.5h-4.5zM591.3 733.0h2.3v2.3h-2.3zM608.0 602.5h3.9v3.9h-3.9zM626.5 547.1h4.8v4.8h-4.8zM621.8 662.2h3.4v3.4h-3.4zM597.8 655.0h2.7v2.7h-2.7zM591.7 725.0h2.3v2.3h-2.3zM617.9 653.1h3.7v3.7h-3.7zM616.8 565.7h4.2v4.2h-4.2zM593.0 717.4h2.5v2.5h-2.5zM613.3 633.7h3.7v3.7h-3.7zM614.6 545.9h4.1v4.1h-4.1zM623.8 573.5h4.4v4.4h-4.4zM601.8 650.4h3.2v3.2h-3.2zM580.4 760.5h2.0v2.0h-2.0zM591.7 705.2h2.3v2.3h-2.3zM579.1 768.0h1.9v1.9h-1.9zM598.1 660.9h2.9v2.9h-2.9zM614.2 538.7h5.2v5.2h-5.2zM620.9 620.4h3.8v3.8h-3.8zM628.1 539.2h5.7v5.7h-5.7zM589.7 717.1h2.4v2.4h-2.4zM616.8 541.2h4.1v4.1h-4.1zM618.1 595.6h4.1v4.1h-4.1zM611.6 704.3h2.8v2.8h-2.8zM594.1 758.3h2.2v2.2h-2.2zM591.1 743.1h2.3v2.3h-2.3zM618.7 584.2h3.6v3.6h-3.6zM612.4 575.7h4.1v4.1h-4.1zM620.9 556.3h4.3v4.3h-4.3zM601.0 662.4h3.0v3.0h-3.0zM651.1 564.2h7.3v7.3h-7.3zM613.8 577.9h3.4v3.4h-3.4zM603.0 620.5h3.1v3.1h-3.1zM587.4 749.0h2.1v2.1h-2.1zM596.5 653.9h2.8v2.8h-2.8zM588.8 754.7h2.0v2.0h-2.0zM593.1 775.7h1.9v1.9h-1.9zM612.6 626.8h3.3v3.3h-3.3zM614.7 573.1h4.3v4.3h-4.3zM592.9 678.8h2.5v2.5h-2.5zM589.1 712.7h2.3v2.3h-2.3zM591.7 699.7h2.3v2.3h-2.3zM597.3 650.3h3.1v3.1h-3.1zM614.3 562.7h4.1v4.1h-4.1zM605.6 652.3h2.7v2.7h-2.7zM592.0 750.0h2.2v2.2h-2.2zM636.3 626.1h4.8v4.8h-4.8zM599.6 672.4h2.7v2.7h-2.7zM595.3 732.5h2.3v2.3h-2.3zM581.6 753.4h2.0v2.0h-2.0zM599.3 698.2h2.4v2.4h-2.4zM615.6 560.1h4.2v4.2h-4.2zM597.9 687.7h2.7v2.7h-2.7zM594.9 690.2h2.4v2.4h-2.4zM600.7 705.2h2.3v2.3h-2.3zM600.0 674.1h3.0v3.0h-3.0zM606.1 754.6h2.1v2.1h-2.1zM605.5 635.4h3.1v3.1h-3.1zM582.4 757.6h2.0v2.0h-2.0zM631.0 601.8h4.0v4.0h-4.0zM609.9 613.8h3.5v3.5h-3.5zM595.1 687.7h2.5v2.5h-2.5zM610.4 621.8h3.5v3.5h-3.5zM563.7 785.6h1.9v1.9h-1.9zM599.4 650.2h2.8v2.8h-2.8zM601.4 667.4h3.0v3.0h-3.0zM651.5 557.7h5.2v5.2h-5.2zM582.6 749.3h2.1v2.1h-2.1zM604.8 651.0h3.0v3.0h-3.0zM615.0 673.8h3.3v3.3h-3.3zM589.3 746.7h2.2v2.2h-2.2zM575.4 776.2h1.9v1.9h-1.9zM611.3 559.4h4.6v4.6h-4.6zM620.5 610.5h4.4v4.4h-4.4zM595.9 661.2h2.8v2.8h-2.8zM602.2 614.7h3.7v3.7h-3.7zM588.3 728.4h2.1v2.1h-2.1zM578.2 768.6h1.9v1.9h-1.9zM629.7 610.0h4.4v4.4h-4.4zM610.8 595.7h3.7v3.7h-3.7zM614.6 619.7h3.8v3.8h-3.8zM608.6 582.4h4.4v4.4h-4.4zM608.0 587.0h3.6v3.6h-3.6zM612.3 580.8h3.9v3.9h-3.9zM591.9 685.0h2.6v2.6h-2.6zM577.8 764.7h1.9v1.9h-1.9zM607.1 666.0h3.3v3.3h-3.3zM594.7 691.4h2.6v2.6h-2.6zM600.3 630.6h3.2v3.2h-3.2zM614.8 628.8h4.0v4.0h-4.0zM617.0 545.4h5.5v5.5h-5.5zM611.5 591.0h3.9v3.9h-3.9zM587.2 723.8h2.2v2.2h-2.2zM609.3 643.3h3.3v3.3h-3.3zM587.8 740.4h2.2v2.2h-2.2zM619.8 544.4h5.3v5.3h-5.3zM577.4 777.8h1.9v1.9h-1.9zM630.1 569.3h5.5v5.5h-5.5zM588.2 740.8h2.1v2.1h-2.1zM613.0 621.4h3.1v3.1h-3.1zM614.6 573.7h3.6v3.6h-3.6zM570.3 786.4h1.9v1.9h-1.9zM588.5 765.7h2.0v2.0h-2.0zM617.4 549.5h4.3v4.3h-4.3zM581.9 777.0h2.0v2.0h-2.0zM613.4 576.9h3.7v3.7h-3.7zM578.4 764.9h2.0v2.0h-2.0zM612.7 577.3h3.7v3.7h-3.7zM594.3 714.4h2.3v2.3h-2.3zM577.8 771.0h2.0v2.0h-2.0zM606.7 732.8h2.4v2.4h-2.4zM609.4 640.3h3.0v3.0h-3.0zM599.1 684.9h2.4v2.4h-2.4zM581.8 757.7h2.1v2.1h-2.1zM623.8 711.4h2.8v2.8h-2.8zM618.4 545.6h4.8v4.8h-4.8zM597.3 709.4h2.6v2.6h-2.6zM613.8 555.8h4.3v4.3h-4.3zM587.7 716.9h2.2v2.2h-2.2zM581.8 763.5h2.0v2.0h-2.0zM614.6 656.6h3.2v3.2h-3.2zM605.1 666.3h3.1v3.1h-3.1zM606.6 598.3h3.8v3.8h-3.8zM609.9 566.9h4.4v4.4h-4.4zM600.3 680.6h2.5v2.5h-2.5zM613.8 538.4h5.2v5.2h-5.2zM621.5 555.7h4.6v4.6h-4.6zM640.2 556.5h4.5v4.5h-4.5zM617.8 594.1h4.4v4.4h-4.4zM598.1 654.8h2.7v2.7h-2.7zM580.4 752.3h2.1v2.1h-2.1zM623.0 558.9h5.5v5.5h-5.5zM590.8 719.2h2.2v2.2h-2.2zM608.3 634.3h3.4v3.4h-3.4zM583.6 761.3h2.0v2.0h-2.0zM606.7 640.9h3.1v3.1h-3.1zM601.2 694.6h2.7v2.7h-2.7zM617.4 551.0h4.2v4.2h-4.2zM624.9 555.3h5.6v5.6h-5.6zM574.1 781.6h1.9v1.9h-1.9zM585.3 735.8h2.1v2.1h-2.1zM580.6 752.4h2.1v2.1h-2.1zM629.8 602.8h4.5v4.5h-4.5zM623.3 637.3h4.3v4.3h-4.3zM591.7 708.8h2.2v2.2h-2.2zM583.3 755.1h2.1v2.1h-2.1zM620.3 625.8h3.7v3.7h-3.7zM586.7 744.9h2.1v2.1h-2.1zM580.2 754.9h2.1v2.1h-2.1zM597.9 660.8h3.1v3.1h-3.1zM584.9 761.7h2.0v2.0h-2.0zM583.6 759.6h2.0v2.0h-2.0zM576.6 778.2h1.9v1.9h-1.9zM590.2 731.1h2.2v2.2h-2.2zM598.5 638.6h2.9v2.9h-2.9zM589.7 714.0h2.4v2.4h-2.4zM613.5 630.4h3.4v3.4h-3.4zM589.6 728.8h2.2v2.2h-2.2zM612.8 585.1h4.0v4.0h-4.0zM591.6 686.5h2.6v2.6h-2.6zM591.0 748.7h2.1v2.1h-2.1zM601.4 715.0h2.3v2.3h-2.3zM601.8 665.9h2.6v2.6h-2.6zM584.0 736.3h2.1v2.1h-2.1zM593.0 701.2h2.3v2.3h-2.3zM598.7 730.3h2.3v2.3h-2.3zM611.8 586.9h4.0v4.0h-4.0zM604.5 661.8h2.6v2.6h-2.6zM601.4 734.0h2.2v2.2h-2.2zM624.0 576.0h4.7v4.7h-4.7zM618.9 686.0h2.9v2.9h-2.9zM595.2 672.4h2.9v2.9h-2.9zM616.5 606.7h3.8v3.8h-3.8zM600.4 646.2h3.4v3.4h-3.4zM614.7 568.7h3.7v3.7h-3.7zM596.3 664.4h2.6v2.6h-2.6zM587.0 726.9h2.1v2.1h-2.1zM621.8 702.9h2.8v2.8h-2.8zM578.5 774.7h1.9v1.9h-1.9zM602.9 609.7h3.8v3.8h-3.8zM604.5 605.5h3.5v3.5h-3.5zM599.8 721.6h2.5v2.5h-2.5zM601.3 687.9h2.9v2.9h-2.9zM620.7 653.6h3.3v3.3h-3.3zM612.8 584.1h3.9v3.9h-3.9zM583.6 758.8h2.0v2.0h-2.0zM612.9 574.3h3.9v3.9h-3.9zM615.5 589.3h3.7v3.7h-3.7zM606.3 633.0h3.7v3.7h-3.7zM596.3 708.1h2.6v2.6h-2.6zM603.9 608.6h3.3v3.3h-3.3zM566.0 783.7h1.9v1.9h-1.9zM586.9 739.4h2.1v2.1h-2.1zM645.7 615.9h4.3v4.3h-4.3zM602.1 633.9h3.4v3.4h-3.4zM597.8 657.7h2.9v2.9h-2.9zM599.3 637.7h2.8v2.8h-2.8zM607.3 577.5h3.8v3.8h-3.8zM614.9 706.8h2.6v2.6h-2.6zM603.3 681.6h3.1v3.1h-3.1zM612.6 574.9h3.5v3.5h-3.5zM600.7 689.9h2.5v2.5h-2.5zM592.3 730.5h2.1v2.1h-2.1zM601.3 656.5h3.1v3.1h-3.1zM585.2 760.1h2.1v2.1h-2.1zM591.4 708.3h2.6v2.6h-2.6zM599.3 639.2h2.8v2.8h-2.8zM598.8 695.9h2.4v2.4h-2.4zM633.7 572.8h6.0v6.0h-6.0zM620.1 701.4h2.6v2.6h-2.6zM590.5 734.6h2.1v2.1h-2.1zM583.5 744.5h2.0v2.0h-2.0zM628.2 562.5h5.0v5.0h-5.0zM612.6 559.4h3.6v3.6h-3.6zM602.9 666.5h3.2v3.2h-3.2zM595.5 710.8h2.5v2.5h-2.5zM602.8 694.8h2.9v2.9h-2.9zM610.0 586.2h3.8v3.8h-3.8zM588.7 758.9h2.1v2.1h-2.1zM604.0 617.9h3.7v3.7h-3.7zM635.4 565.0h5.4v5.4h-5.4zM615.1 571.1h4.3v4.3h-4.3zM582.0 752.9h2.0v2.0h-2.0zM583.5 738.2h2.2v2.2h-2.2zM603.2 682.4h2.9v2.9h-2.9zM601.4 628.8h3.2v3.2h-3.2zM610.5 620.5h3.0v3.0h-3.0zM620.6 622.4h4.0v4.0h-4.0zM604.5 610.7h3.1v3.1h-3.1zM612.3 570.4h4.5v4.5h-4.5zM590.8 691.6h2.6v2.6h-2.6zM594.1 743.2h2.2v2.2h-2.2zM603.2 631.1h2.9v2.9h-2.9zM603.5 754.8h2.1v2.1h-2.1zM601.6 654.1h3.0v3.0h-3.0zM583.6 751.8h2.1v2.1h-2.1zM581.4 755.6h2.1v2.1h-2.1zM595.7 703.0h2.4v2.4h-2.4zM577.7 774.3h1.9v1.9h-1.9zM595.9 698.9h2.6v2.6h-2.6zM627.4 567.0h4.0v4.0h-4.0zM576.4 778.4h1.9v1.9h-1.9zM592.1 710.1h2.4v2.4h-2.4zM607.4 586.8h3.3v3.3h-3.3zM591.6 698.4h2.6v2.6h-2.6zM589.3 732.5h2.1v2.1h-2.1zM592.6 682.4h2.4v2.4h-2.4zM610.7 573.7h4.4v4.4h-4.4zM606.0 608.3h4.0v4.0h-4.0zM619.8 539.1h4.9v4.9h-4.9zM593.9 695.1h2.3v2.3h-2.3zM595.8 693.4h2.8v2.8h-2.8zM594.2 686.4h2.7v2.7h-2.7zM582.7 747.6h2.2v2.2h-2.2zM615.3 564.2h4.5v4.5h-4.5zM607.6 576.8h4.4v4.4h-4.4zM599.4 665.9h3.0v3.0h-3.0zM601.3 689.3h2.8v2.8h-2.8zM615.4 572.0h3.8v3.8h-3.8zM621.8 591.5h4.7v4.7h-4.7zM603.2 686.6h2.9v2.9h-2.9zM618.1 539.6h5.6v5.6h-5.6zM585.0 737.9h2.2v2.2h-2.2zM592.4 716.4h2.4v2.4h-2.4zM612.0 581.1h4.6v4.6h-4.6zM597.0 669.4h2.9v2.9h-2.9zM608.0 596.1h3.6v3.6h-3.6zM596.9 651.1h2.7v2.7h-2.7zM609.9 575.2h4.1v4.1h-4.1zM595.4 725.3h2.2v2.2h-2.2zM591.8 716.8h2.4v2.4h-2.4zM622.9 578.0h4.4v4.4h-4.4zM597.9 643.9h3.3v3.3h-3.3zM658.1 579.6h5.2v5.2h-5.2zM598.7 724.8h2.3v2.3h-2.3zM640.0 549.2h4.7v4.7h-4.7zM659.1 548.6h7.4v7.4h-7.4zM621.7 651.9h3.4v3.4h-3.4zM648.9 554.3h5.2v5.2h-5.2zM630.6 626.2h3.8v3.8h-3.8zM626.3 673.3h3.8v3.8h-3.8zM635.8 540.1h6.5v6.5h-6.5zM623.9 602.2h4.9v4.9h-4.9zM671.1 541.8h7.4v7.4h-7.4zM607.4 769.0h2.2v2.2h-2.2zM603.5 693.3h2.7v2.7h-2.7zM626.3 563.7h5.1v5.1h-5.1zM633.7 614.7h4.5v4.5h-4.5zM648.8 638.5h4.1v4.1h-4.1zM611.8 667.5h3.0v3.0h-3.0zM648.7 668.9h3.4v3.4h-3.4zM635.9 666.0h3.5v3.5h-3.5zM620.6 572.2h4.5v4.5h-4.5zM622.8 581.1h4.7v4.7h-4.7zM674.6 560.0h7.4v7.4h-7.4zM640.3 684.5h3.4v3.4h-3.4zM641.0 598.5h5.1v5.1h-5.1zM615.4 752.9h2.1v2.1h-2.1zM628.5 643.6h3.9v3.9h-3.9zM644.5 649.4h3.7v3.7h-3.7zM659.8 546.7h5.6v5.6h-5.6zM649.1 642.5h4.3v4.3h-4.3zM643.2 562.0h5.9v5.9h-5.9zM620.5 605.3h4.4v4.4h-4.4zM622.3 560.5h4.8v4.8h-4.8zM647.7 605.9h5.6v5.6h-5.6zM620.4 693.1h3.1v3.1h-3.1zM642.6 567.0h6.2v6.2h-6.2zM621.6 654.9h3.6v3.6h-3.6zM602.8 692.2h2.7v2.7h-2.7zM598.5 715.7h2.5v2.5h-2.5zM617.8 615.6h4.2v4.2h-4.2zM648.1 681.3h3.3v3.3h-3.3zM657.4 561.4h7.4v7.4h-7.4zM618.1 738.5h2.5v2.5h-2.5zM625.7 722.4h2.8v2.8h-2.8zM608.3 657.9h3.0v3.0h-3.0zM618.2 758.8h2.4v2.4h-2.4zM611.7 677.0h2.7v2.7h-2.7zM680.2 568.2h6.8v6.8h-6.8zM616.9 715.4h2.6v2.6h-2.6zM622.4 600.8h4.5v4.5h-4.5zM663.3 588.6h7.4v7.4h-7.4zM638.2 717.6h2.6v2.6h-2.6zM644.0 552.7h6.4v6.4h-6.4zM589.6 762.4h2.1v2.1h-2.1zM631.0 538.3h5.9v5.9h-5.9zM611.0 735.0h2.3v2.3h-2.3zM667.9 616.2h5.0v5.0h-5.0zM617.7 589.3h4.8v4.8h-4.8zM619.0 662.4h3.3v3.3h-3.3zM648.1 637.6h5.0v5.0h-5.0zM677.3 544.5h7.4v7.4h-7.4zM618.6 653.0h3.4v3.4h-3.4zM652.9 548.5h6.5v6.5h-6.5zM622.2 566.6h4.5v4.5h-4.5zM612.9 759.0h2.2v2.2h-2.2zM608.7 738.5h2.5v2.5h-2.5zM609.5 674.9h3.1v3.1h-3.1zM616.4 670.0h3.2v3.2h-3.2zM629.0 599.2h4.5v4.5h-4.5zM551.1 536.7h2.4v2.4h-2.4zM595.6 533.9h4.0v4.0h-4.0zM558.4 542.2h2.4v2.4h-2.4zM561.4 540.2h2.7v2.7h-2.7zM572.0 542.2h3.0v3.0h-3.0zM553.6 535.1h2.4v2.4h-2.4zM559.5 534.3h2.7v2.7h-2.7zM617.8 535.3h4.4v4.4h-4.4zM633.2 537.8h4.9v4.9h-4.9zM591.2 544.6h3.3v3.3h-3.3zM572.0 545.7h2.7v2.7h-2.7zM560.1 543.4h2.8v2.8h-2.8zM609.4 539.4h5.1v5.1h-5.1zM634.0 533.6h6.1v6.1h-6.1zM559.0 534.7h2.6v2.6h-2.6zM571.9 538.4h3.3v3.3h-3.3zM600.8 537.0h3.9v3.9h-3.9zM599.0 538.4h3.8v3.8h-3.8zM623.4 537.5h4.8v4.8h-4.8zM625.2 534.7h5.3v5.3h-5.3zM553.6 541.6h2.5v2.5h-2.5zM635.1 538.1h6.6v6.6h-6.6zM613.0 544.2h5.1v5.1h-5.1zM555.2 538.9h2.6v2.6h-2.6zM565.5 538.0h2.7v2.7h-2.7zM635.3 535.5h5.3v5.3h-5.3zM576.2 539.7h2.8v2.8h-2.8zM623.8 543.6h5.1v5.1h-5.1zM619.4 537.4h4.6v4.6h-4.6zM635.4 537.6h4.7v4.7h-4.7zM551.5 536.4h2.6v2.6h-2.6zM570.8 534.7h2.7v2.7h-2.7zM569.2 541.1h2.9v2.9h-2.9zM631.8 537.3h5.9v5.9h-5.9zM553.7 534.7h2.5v2.5h-2.5zM631.3 533.2h6.1v6.1h-6.1zM591.6 535.4h4.1v4.1h-4.1zM584.2 543.5h3.6v3.6h-3.6zM585.6 537.9h3.0v3.0h-3.0zM551.3 544.6h2.3v2.3h-2.3zM593.0 534.3h3.5v3.5h-3.5zM556.6 541.2h2.4v2.4h-2.4zM624.0 538.3h5.9v5.9h-5.9zM608.2 537.0h3.6v3.6h-3.6zM590.2 542.6h3.3v3.3h-3.3zM590.6 540.7h3.3v3.3h-3.3zM572.8 545.8h2.7v2.7h-2.7zM611.4 542.7h4.0v4.0h-4.0zM570.2 541.1h2.8v2.8h-2.8zM599.1 540.1h3.7v3.7h-3.7zM636.5 536.7h5.4v5.4h-5.4zM622.8 544.8h4.8v4.8h-4.8zM569.2 535.9h2.5v2.5h-2.5zM603.8 538.1h4.7v4.7h-4.7zM577.8 543.2h2.9v2.9h-2.9zM586.6 538.8h3.7v3.7h-3.7zM568.9 542.0h2.5v2.5h-2.5zM618.9 543.2h4.0v4.0h-4.0zM619.5 534.3h5.5v5.5h-5.5zM581.8 539.3h3.0v3.0h-3.0zM689.7 535.5h7.8v7.8h-7.8zM671.5 535.1h6.8v6.8h-6.8zM517.9 785.5h1.9v1.9h-1.9zM540.8 620.2h2.2v2.2h-2.2zM544.5 549.4h1.8v1.8h-1.8zM524.2 639.0h2.2v2.2h-2.2zM530.8 588.0h2.1v2.1h-2.1zM511.0 586.4h1.7v1.7h-1.7zM540.1 539.7h2.3v2.3h-2.3zM531.5 635.5h2.3v2.3h-2.3zM537.0 633.5h2.2v2.2h-2.2zM510.8 702.6h1.7v1.7h-1.7zM519.7 596.7h1.8v1.8h-1.8zM527.8 669.6h1.7v1.7h-1.7zM537.0 628.2h2.2v2.2h-2.2zM541.5 601.7h1.8v1.8h-1.8zM527.8 678.9h1.9v1.9h-1.9zM533.5 591.6h2.1v2.1h-2.1zM525.4 686.6h2.1v2.1h-2.1zM540.6 590.6h2.1v2.1h-2.1zM513.4 662.3h2.3v2.3h-2.3zM524.4 585.4h2.3v2.3h-2.3zM514.4 748.0h1.9v1.9h-1.9zM547.6 542.2h1.7v1.7h-1.7zM540.4 612.8h2.2v2.2h-2.2zM527.8 652.3h1.8v1.8h-1.8zM542.7 588.4h1.8v1.8h-1.8zM549.9 539.7h2.2v2.2h-2.2zM515.7 728.2h1.9v1.9h-1.9zM513.8 712.2h2.0v2.0h-2.0zM540.2 609.5h1.9v1.9h-1.9zM515.7 684.7h1.8v1.8h-1.8zM543.3 570.8h1.9v1.9h-1.9zM512.4 755.0h2.1v2.1h-2.1zM543.9 603.5h1.9v1.9h-1.9zM534.4 657.1h1.8v1.8h-1.8zM523.7 649.5h2.1v2.1h-2.1zM519.6 700.2h1.9v1.9h-1.9zM521.1 692.9h1.7v1.7h-1.7zM543.6 603.4h1.9v1.9h-1.9zM528.2 602.0h1.9v1.9h-1.9zM530.3 652.8h2.1v2.1h-2.1zM532.8 625.2h2.3v2.3h-2.3zM523.9 629.6h1.7v1.7h-1.7zM510.4 756.4h2.3v2.3h-2.3zM546.3 544.5h1.8v1.8h-1.8zM542.7 603.8h2.1v2.1h-2.1zM517.0 722.2h2.1v2.1h-2.1zM518.3 647.3h2.3v2.3h-2.3zM534.0 620.0h2.1v2.1h-2.1zM534.5 656.7h2.0v2.0h-2.0zM530.1 619.6h2.0v2.0h-2.0zM533.1 638.4h2.2v2.2h-2.2zM536.9 604.8h1.9v1.9h-1.9zM522.2 626.3h2.1v2.1h-2.1zM538.6 603.7h2.0v2.0h-2.0zM514.7 700.7h2.3v2.3h-2.3zM521.7 717.7h2.1v2.1h-2.1zM542.3 596.7h2.2v2.2h-2.2zM511.7 636.1h1.8v1.8h-1.8zM543.1 561.4h2.1v2.1h-2.1zM531.2 627.7h1.8v1.8h-1.8zM531.0 630.4h1.8v1.8h-1.8zM515.3 749.0h2.2v2.2h-2.2zM532.7 599.3h1.7v1.7h-1.7zM537.4 588.7h2.2v2.2h-2.2zM536.5 618.3h1.9v1.9h-1.9zM534.8 632.0h1.9v1.9h-1.9zM510.0 765.3h1.7v1.7h-1.7zM548.2 550.7h2.0v2.0h-2.0zM519.7 734.6h2.3v2.3h-2.3zM522.3 702.3h1.8v1.8h-1.8zM518.8 702.8h2.0v2.0h-2.0zM513.9 765.4h2.1v2.1h-2.1zM543.9 556.2h2.0v2.0h-2.0zM527.8 629.8h1.8v1.8h-1.8zM521.3 637.4h1.9v1.9h-1.9zM521.1 696.4h2.0v2.0h-2.0zM543.5 587.8h2.0v2.0h-2.0zM536.3 646.8h2.2v2.2h-2.2zM537.6 622.3h1.7v1.7h-1.7zM518.9 687.9h1.7v1.7h-1.7zM516.9 777.9h1.7v1.7h-1.7zM537.0 569.6h1.8v1.8h-1.8zM544.8 554.8h1.8v1.8h-1.8zM530.1 678.7h1.8v1.8h-1.8zM514.6 696.9h1.7v1.7h-1.7zM517.8 575.4h1.9v1.9h-1.9zM533.4 629.5h1.8v1.8h-1.8zM518.6 664.8h1.8v1.8h-1.8zM541.5 568.4h1.8v1.8h-1.8zM530.3 603.4h2.0v2.0h-2.0zM540.1 626.1h1.8v1.8h-1.8zM518.9 746.7h1.8v1.8h-1.8zM525.9 670.3h2.2v2.2h-2.2zM516.7 680.7h2.0v2.0h-2.0zM517.1 773.9h2.0v2.0h-2.0zM535.4 645.3h2.2v2.2h-2.2zM525.5 557.5h2.1v2.1h-2.1zM539.1 619.7h1.8v1.8h-1.8zM517.9 729.6h2.1v2.1h-2.1zM523.1 683.4h2.0v2.0h-2.0zM521.8 556.5h1.8v1.8h-1.8zM514.1 691.8h1.7v1.7h-1.7zM542.2 601.6h2.1v2.1h-2.1zM522.8 705.6h1.8v1.8h-1.8zM533.0 628.7h1.7v1.7h-1.7zM534.3 542.5h1.9v1.9h-1.9zM533.6 655.1h2.1v2.1h-2.1zM520.2 726.5h2.2v2.2h-2.2zM515.8 780.2h2.1v2.1h-2.1zM520.5 569.8h2.1v2.1h-2.1zM541.4 605.0h1.7v1.7h-1.7zM510.2 778.8h1.8v1.8h-1.8zM514.3 623.9h2.0v2.0h-2.0zM544.2 578.5h2.2v2.2h-2.2zM519.6 740.9h2.2v2.2h-2.2zM510.2 770.9h1.9v1.9h-1.9zM528.8 573.8h1.7v1.7h-1.7zM533.7 566.1h2.2v2.2h-2.2zM529.3 613.0h1.7v1.7h-1.7zM512.4 643.7h2.0v2.0h-2.0zM510.3 606.5h1.8v1.8h-1.8zM538.0 616.8h1.9v1.9h-1.9zM531.3 649.0h1.8v1.8h-1.8zM527.2 659.1h2.2v2.2h-2.2zM536.7 614.5h2.0v2.0h-2.0zM522.0 606.6h2.2v2.2h-2.2zM531.0 610.1h2.1v2.1h-2.1zM513.6 765.2h2.0v2.0h-2.0zM520.0 636.1h1.8v1.8h-1.8zM524.2 688.0h1.9v1.9h-1.9zM531.3 606.3h1.8v1.8h-1.8zM543.7 549.9h2.3v2.3h-2.3zM535.2 550.4h1.8v1.8h-1.8zM542.2 592.8h1.7v1.7h-1.7zM516.4 787.0h2.0v2.0h-2.0zM523.3 705.2h1.8v1.8h-1.8zM551.3 790.3h2.1v2.1h-2.1zM545.0 787.3h1.8v1.8h-1.8zM543.8 787.2h1.9v1.9h-1.9zM527.8 787.5h1.8v1.8h-1.8zM548.8 788.9h2.2v2.2h-2.2zM572.0 787.2h1.9v1.9h-1.9zM570.2 787.5h2.2v2.2h-2.2zM541.2 787.9h1.7v1.7h-1.7zM563.4 787.2h2.3v2.3h-2.3zM550.6 791.0h1.8v1.8h-1.8zM537.2 790.2h1.9v1.9h-1.9zM570.7 787.9h1.8v1.8h-1.8zM546.0 788.8h2.0v2.0h-2.0zM535.2 790.3h1.7v1.7h-1.7zM556.4 787.2h2.1v2.1h-2.1zM555.7 787.1h1.9v1.9h-1.9zM551.0 788.9h1.7v1.7h-1.7zM562.5 790.1h1.9v1.9h-1.9zM562.2 787.9h2.1v2.1h-2.1zM547.3 788.8h2.1v2.1h-2.1zM527.3 789.5h2.2v2.2h-2.2zM568.7 789.0h2.0v2.0h-2.0zM537.7 788.0h2.2v2.2h-2.2zM516.9 789.2h2.3v2.3h-2.3zM520.2 788.7h2.0v2.0h-2.0zM518.7 789.2h2.0v2.0h-2.0zM553.3 789.1h2.1v2.1h-2.1zM567.2 788.4h1.8v1.8h-1.8zM515.8 787.5h2.0v2.0h-2.0z" fill="#3aa63a"/>
<path d="M631.9 545.5h5.0v5.0h-5.0zM632.8 603.2h4.0v4.0h-4.0zM598.9 645.1h2.9v2.9h-2.9zM580.6 752.3h2.0v2.0h-2.0zM580.9 768.4h2.0v2.0h-2.0zM615.8 603.6h4.3v4.3h-4.3zM598.5 699.6h2.7v2.7h-2.7zM582.7 767.1h2.0v2.0h-2.0zM608.9 613.5h3.7v3.7h-3.7zM586.9 737.8h2.2v2.2h-2.2zM584.5 753.3h2.1v2.1h-2.1zM606.1 631.7h3.1v3.1h-3.1zM583.7 754.8h2.1v2.1h-2.1zM610.5 653.7h3.0v3.0h-3.0zM591.7 709.7h2.5v2.5h-2.5zM583.3 755.6h2.1v2.1h-2.1zM614.3 562.8h4.0v4.0h-4.0zM612.5 557.0h3.6v3.6h-3.6zM611.5 584.3h4.5v4.5h-4.5zM591.3 693.9h2.4v2.4h-2.4zM612.1 638.8h3.0v3.0h-3.0zM590.3 748.2h2.1v2.1h-2.1zM604.1 601.0h4.0v4.0h-4.0zM615.8 545.1h4.6v4.6h-4.6zM613.1 725.1h2.7v2.7h-2.7zM577.4 766.2h2.0v2.0h-2.0zM578.7 771.6h2.0v2.0h-2.0zM621.2 609.3h3.6v3.6h-3.6zM608.8 643.9h3.1v3.1h-3.1zM573.6 779.1h1.9v1.9h-1.9zM648.8 559.4h6.5v6.5h-6.5zM598.6 641.9h2.7v2.7h-2.7zM596.0 669.8h2.6v2.6h-2.6zM590.1 737.0h2.1v2.1h-2.1zM592.7 717.9h2.2v2.2h-2.2zM612.8 592.4h3.9v3.9h-3.9zM597.7 721.9h2.2v2.2h-2.2zM584.3 741.9h2.1v2.1h-2.1zM616.7 544.3h4.9v4.9h-4.9zM617.3 546.3h4.4v4.4h-4.4zM610.2 624.0h3.3v3.3h-3.3zM650.3 603.3h5.1v5.1h-5.1zM624.0 574.3h4.7v4.7h-4.7zM580.5 758.0h2.0v2.0h-2.0zM590.9 728.8h2.2v2.2h-2.2zM576.1 783.1h1.9v1.9h-1.9zM578.3 767.7h1.9v1.9h-1.9zM593.9 705.5h2.5v2.5h-2.5zM621.5 551.6h4.8v4.8h-4.8zM579.5 775.2h1.9v1.9h-1.9zM611.2 710.0h2.7v2.7h-2.7zM587.3 734.7h2.2v2.2h-2.2zM596.4 679.8h2.8v2.8h-2.8zM605.2 600.1h3.4v3.4h-3.4zM613.3 596.7h4.4v4.4h-4.4zM610.3 569.7h4.6v4.6h-4.6zM605.7 729.5h2.3v2.3h-2.3zM641.6 549.8h6.7v6.7h-6.7zM607.3 619.5h3.2v3.2h-3.2zM591.3 722.5h2.2v2.2h-2.2zM597.7 736.0h2.4v2.4h-2.4zM591.4 694.7h2.4v2.4h-2.4zM614.4 577.0h3.7v3.7h-3.7zM613.1 559.6h5.0v5.0h-5.0zM624.3 581.0h4.1v4.1h-4.1zM600.0 661.9h2.9v2.9h-2.9zM600.4 665.5h2.7v2.7h-2.7zM624.2 579.1h5.3v5.3h-5.3zM601.4 701.8h2.6v2.6h-2.6zM624.4 570.9h5.1v5.1h-5.1zM589.5 740.6h2.2v2.2h-2.2zM612.7 597.5h4.0v4.0h-4.0zM594.6 670.7h3.0v3.0h-3.0zM581.7 757.4h2.0v2.0h-2.0zM600.0 660.8h2.8v2.8h-2.8zM604.6 611.4h3.8v3.8h-3.8zM580.7 775.4h1.9v1.9h-1.9zM622.3 699.2h3.0v3.0h-3.0zM602.7 655.6h3.2v3.2h-3.2zM590.0 705.2h2.4v2.4h-2.4zM638.7 548.0h5.9v5.9h-5.9zM605.3 667.3h3.2v3.2h-3.2zM619.0 582.0h4.3v4.3h-4.3zM618.1 567.2h4.5v4.5h-4.5zM609.6 661.5h3.0v3.0h-3.0zM604.7 637.3h3.0v3.0h-3.0zM590.7 735.4h2.1v2.1h-2.1zM585.3 752.3h2.1v2.1h-2.1zM596.0 723.9h2.2v2.2h-2.2zM561.9 786.8h1.8v1.8h-1.8zM580.5 757.2h2.0v2.0h-2.0zM619.8 578.6h3.9v3.9h-3.9zM589.9 703.1h2.5v2.5h-2.5zM600.1 678.9h3.0v3.0h-3.0zM586.8 728.3h2.3v2.3h-2.3zM585.4 734.6h2.3v2.3h-2.3zM601.3 622.1h3.4v3.4h-3.4zM575.3 773.4h1.9v1.9h-1.9zM663.0 560.5h7.4v7.4h-7.4zM603.3 748.2h2.3v2.3h-2.3zM596.9 652.8h2.8v2.8h-2.8zM577.6 770.5h1.9v1.9h-1.9zM596.5 757.1h2.2v2.2h-2.2zM575.1 775.2h1.9v1.9h-1.9zM600.5 722.9h2.5v2.5h-2.5zM573.9 780.2h1.9v1.9h-1.9zM583.2 756.4h2.1v2.1h-2.1zM646.8 658.4h3.6v3.6h-3.6zM599.9 723.6h2.3v2.3h-2.3zM588.0 741.3h2.1v2.1h-2.1zM585.2 732.2h2.1v2.1h-2.1zM609.1 590.8h3.2v3.2h-3.2zM607.9 656.6h3.0v3.0h-3.0zM609.1 636.0h3.1v3.1h-3.1zM604.0 700.7h2.5v2.5h-2.5zM622.3 568.0h5.2v5.2h-5.2zM618.5 580.7h3.8v3.8h-3.8zM611.0 626.8h3.2v3.2h-3.2zM607.8 597.9h3.2v3.2h-3.2zM614.8 628.6h3.7v3.7h-3.7zM588.9 707.6h2.2v2.2h-2.2zM603.1 669.7h2.6v2.6h-2.6zM586.5 765.6h2.1v2.1h-2.1zM579.5 768.3h1.9v1.9h-1.9zM579.8 772.8h1.9v1.9h-1.9zM596.4 667.4h3.0v3.0h-3.0zM585.5 734.4h2.2v2.2h-2.2zM611.4 654.4h2.8v2.8h-2.8zM611.0 660.6h3.4v3.4h-3.4zM562.6 785.5h1.8v1.8h-1.8zM586.3 734.9h2.1v2.1h-2.1zM578.5 775.0h1.9v1.9h-1.9zM595.8 723.7h2.2v2.2h-2.2zM598.2 651.7h3.1v3.1h-3.1zM600.9 709.3h2.6v2.6h-2.6zM581.4 766.8h2.0v2.0h-2.0zM625.4 567.5h4.9v4.9h-4.9zM584.2 736.0h2.1v2.1h-2.1zM584.6 733.0h2.1v2.1h-2.1zM619.3 589.5h4.9v4.9h-4.9zM610.3 623.8h3.1v3.1h-3.1zM608.5 719.6h2.5v2.5h-2.5zM621.3 675.0h3.5v3.5h-3.5zM607.3 644.2h3.3v3.3h-3.3zM630.8 561.5h4.4v4.4h-4.4zM608.9 614.6h3.7v3.7h-3.7zM602.5 625.2h3.5v3.5h-3.5zM593.4 697.3h2.3v2.3h-2.3zM600.2 677.4h2.6v2.6h-2.6zM611.6 706.3h2.7v2.7h-2.7zM609.9 603.4h3.4v3.4h-3.4zM608.2 652.2h3.4v3.4h-3.4zM596.5 658.8h3.1v3.1h-3.1zM601.6 626.0h3.4v3.4h-3.4zM575.4 770.9h1.9v1.9h-1.9zM611.5 558.5h3.6v3.6h-3.6zM615.6 569.5h4.8v4.8h-4.8zM605.3 599.5h3.4v3.4h-3.4zM566.6 783.8h1.8v1.8h-1.8zM623.9 566.7h3.8v3.8h-3.8zM596.2 669.7h2.5v2.5h-2.5zM609.1 672.6h2.6v2.6h-2.6zM588.5 715.7h2.3v2.3h-2.3zM612.7 560.2h3.7v3.7h-3.7zM571.3 782.2h1.9v1.9h-1.9zM592.2 705.2h2.6v2.6h-2.6zM579.0 778.0h1.9v1.9h-1.9zM619.0 652.8h3.4v3.4h-3.4zM604.3 647.8h3.4v3.4h-3.4zM591.3 729.7h2.3v2.3h-2.3zM582.7 743.6h2.0v2.0h-2.0zM627.4 580.6h4.2v4.2h-4.2zM592.7 727.6h2.4v2.4h-2.4zM590.7 719.4h2.3v2.3h-2.3zM602.7 613.9h3.7v3.7h-3.7zM600.6 668.1h3.1v3.1h-3.1zM616.3 565.1h4.0v4.0h-4.0zM601.3 653.2h3.3v3.3h-3.3zM621.4 538.5h5.5v5.5h-5.5zM587.9 711.7h2.4v2.4h-2.4zM600.2 688.1h2.4v2.4h-2.4zM610.4 594.8h3.3v3.3h-3.3zM580.9 777.3h1.9v1.9h-1.9zM597.1 683.4h2.9v2.9h-2.9zM598.6 638.5h3.3v3.3h-3.3zM626.6 584.0h4.0v4.0h-4.0zM613.5 573.2h4.8v4.8h-4.8zM585.6 758.8h2.1v2.1h-2.1zM614.9 597.1h4.6v4.6h-4.6zM600.0 653.1h2.7v2.7h-2.7zM579.0 768.1h2.0v2.0h-2.0zM601.3 671.4h2.6v2.6h-2.6zM605.1 713.1h2.6v2.6h-2.6zM594.4 729.9h2.4v2.4h-2.4zM621.3 629.6h4.4v4.4h-4.4zM633.7 568.0h5.2v5.2h-5.2zM591.5 710.2h2.3v2.3h-2.3zM605.4 647.1h3.2v3.2h-3.2zM614.3 553.1h4.9v4.9h-4.9zM594.4 720.1h2.4v2.4h-2.4zM600.0 653.6h2.6v2.6h-2.6zM609.5 598.4h4.3v4.3h-4.3zM607.6 578.3h3.6v3.6h-3.6zM613.3 649.5h3.2v3.2h-3.2zM612.8 560.5h4.6v4.6h-4.6zM594.3 709.4h2.5v2.5h-2.5zM589.0 736.4h2.1v2.1h-2.1zM609.1 599.5h3.5v3.5h-3.5zM628.2 552.6h5.3v5.3h-5.3zM568.7 781.9h1.9v1.9h-1.9zM580.5 751.7h2.0v2.0h-2.0zM572.3 780.4h1.9v1.9h-1.9zM590.9 764.1h2.0v2.0h-2.0zM612.6 625.8h3.1v3.1h-3.1zM589.2 703.3h2.2v2.2h-2.2zM600.3 703.3h2.7v2.7h-2.7zM589.9 698.7h2.4v2.4h-2.4zM590.0 732.1h2.2v2.2h-2.2zM613.7 556.6h4.6v4.6h-4.6zM593.0 689.5h2.7v2.7h-2.7zM610.5 659.3h3.5v3.5h-3.5zM603.5 739.6h2.2v2.2h-2.2zM618.9 559.1h4.6v4.6h-4.6zM588.7 734.4h2.1v2.1h-2.1zM626.7 579.0h4.5v4.5h-4.5zM613.9 556.4h4.4v4.4h-4.4zM611.3 605.6h3.3v3.3h-3.3zM580.6 761.7h2.0v2.0h-2.0zM606.0 645.3h2.9v2.9h-2.9zM595.0 742.1h2.3v2.3h-2.3zM630.4 578.3h4.3v4.3h-4.3zM614.9 548.7h3.8v3.8h-3.8zM607.7 581.7h3.9v3.9h-3.9zM641.3 538.3h6.9v6.9h-6.9zM615.5 638.4h3.8v3.8h-3.8zM594.8 664.5h2.6v2.6h-2.6zM621.0 574.1h4.2v4.2h-4.2zM617.7 633.1h3.8v3.8h-3.8zM611.2 569.2h3.5v3.5h-3.5zM609.0 597.2h4.1v4.1h-4.1zM604.1 618.7h3.7v3.7h-3.7zM599.0 666.5h3.0v3.0h-3.0zM582.6 751.7h2.0v2.0h-2.0zM595.0 685.7h2.7v2.7h-2.7zM591.3 740.4h2.3v2.3h-2.3zM609.7 611.1h3.7v3.7h-3.7zM587.5 740.8h2.1v2.1h-2.1zM579.3 758.9h2.0v2.0h-2.0zM585.8 750.5h2.1v2.1h-2.1zM611.2 557.1h4.9v4.9h-4.9zM613.3 579.1h3.5v3.5h-3.5zM600.4 675.9h2.8v2.8h-2.8zM612.3 610.3h3.4v3.4h-3.4zM602.3 624.3h3.6v3.6h-3.6zM599.9 691.9h2.8v2.8h-2.8zM632.6 582.5h5.5v5.5h-5.5zM618.2 552.1h3.9v3.9h-3.9zM641.2 555.7h4.9v4.9h-4.9zM609.4 596.3h4.0v4.0h-4.0zM601.7 636.3h3.0v3.0h-3.0zM588.0 726.5h2.1v2.1h-2.1zM609.4 578.6h3.4v3.4h-3.4zM589.4 712.0h2.3v2.3h-2.3zM594.6 670.8h3.0v3.0h-3.0zM599.0 687.9h2.6v2.6h-2.6zM610.1 612.0h3.3v3.3h-3.3zM575.8 779.1h1.9v1.9h-1.9zM585.6 732.0h2.3v2.3h-2.3zM626.3 584.1h4.3v4.3h-4.3zM617.1 560.4h4.6v4.6h-4.6zM585.6 742.7h2.2v2.2h-2.2zM613.4 545.5h5.1v5.1h-5.1zM596.4 680.0h2.5v2.5h-2.5zM643.0 545.5h4.9v4.9h-4.9zM618.3 683.4h3.4v3.4h-3.4zM607.1 624.8h3.3v3.3h-3.3zM592.8 753.7h2.0v2.0h-2.0zM576.0 780.4h1.9v1.9h-1.9zM615.1 576.6h4.3v4.3h-4.3zM600.6 697.0h2.8v2.8h-2.8zM617.2 545.0h4.2v4.2h-4.2zM591.0 694.0h2.5v2.5h-2.5zM621.3 563.1h4.1v4.1h-4.1zM621.1 636.4h3.6v3.6h-3.6zM606.7 596.2h3.3v3.3h-3.3zM612.3 567.3h3.6v3.6h-3.6zM608.2 593.8h3.6v3.6h-3.6zM605.3 593.1h4.1v4.1h-4.1zM600.6 659.3h3.2v3.2h-3.2zM635.2 544.8h6.5v6.5h-6.5zM619.9 589.7h4.0v4.0h-4.0zM633.8 573.5h4.5v4.5h-4.5zM611.7 695.4h2.6v2.6h-2.6zM595.5 764.0h2.0v2.0h-2.0zM627.1 614.7h4.3v4.3h-4.3zM619.0 596.0h3.8v3.8h-3.8zM636.8 611.2h5.3v5.3h-5.3zM614.9 599.7h4.3v4.3h-4.3zM658.5 547.4h5.8v5.8h-5.8zM629.0 637.7h3.6v3.6h-3.6zM641.1 622.0h4.4v4.4h-4.4zM602.8 697.5h2.6v2.6h-2.6zM635.0 620.2h4.3v4.3h-4.3zM628.2 644.5h3.9v3.9h-3.9zM615.4 725.4h2.8v2.8h-2.8zM610.7 712.6h2.8v2.8h-2.8zM666.2 646.6h5.9v5.9h-5.9zM616.2 677.6h2.9v2.9h-2.9zM620.0 621.5h4.0v4.0h-4.0zM656.2 596.6h6.0v6.0h-6.0zM655.8 642.8h4.9v4.9h-4.9zM657.3 639.6h4.2v4.2h-4.2zM606.2 723.0h2.5v2.5h-2.5zM630.6 582.4h5.4v5.4h-5.4zM607.5 762.2h2.1v2.1h-2.1zM637.8 543.6h6.3v6.3h-6.3zM631.8 699.5h3.3v3.3h-3.3zM636.2 570.0h5.3v5.3h-5.3zM633.5 654.0h4.3v4.3h-4.3zM613.3 622.9h3.7v3.7h-3.7zM658.6 549.5h7.4v7.4h-7.4zM645.2 580.7h6.3v6.3h-6.3zM606.6 710.0h2.5v2.5h-2.5zM688.1 553.5h7.1v7.1h-7.1zM614.2 629.9h4.0v4.0h-4.0zM616.0 608.6h4.2v4.2h-4.2zM631.4 560.0h4.3v4.3h-4.3zM637.1 712.7h3.1v3.1h-3.1zM642.1 624.2h3.9v3.9h-3.9zM683.0 564.8h7.4v7.4h-7.4zM680.5 566.0h6.0v6.0h-6.0zM616.8 656.4h3.0v3.0h-3.0zM639.4 579.1h5.3v5.3h-5.3zM628.0 680.3h3.3v3.3h-3.3zM635.6 539.2h5.1v5.1h-5.1zM658.7 597.9h4.7v4.7h-4.7zM651.5 600.6h6.3v6.3h-6.3zM625.3 714.2h2.6v2.6h-2.6zM652.0 682.5h4.3v4.3h-4.3zM627.7 552.8h5.8v5.8h-5.8zM664.7 565.4h7.4v7.4h-7.4zM665.5 639.3h4.9v4.9h-4.9zM632.7 594.3h5.4v5.4h-5.4zM585.5 781.5h1.9v1.9h-1.9zM643.4 618.9h4.2v4.2h-4.2zM678.8 589.0h5.8v5.8h-5.8zM591.6 757.6h2.1v2.1h-2.1zM617.0 634.1h3.2v3.2h-3.2zM618.9 628.3h3.8v3.8h-3.8zM653.3 615.5h4.9v4.9h-4.9zM665.9 602.3h6.5v6.5h-6.5zM626.6 612.0h4.6v4.6h-4.6zM613.3 741.6h2.3v2.3h-2.3zM629.8 555.1h5.5v5.5h-5.5zM593.3 748.0h2.2v2.2h-2.2zM600.3 770.7h2.0v2.0h-2.0zM633.3 614.4h4.5v4.5h-4.5zM564.9 534.2h2.7v2.7h-2.7zM620.5 544.7h4.4v4.4h-4.4zM612.7 534.9h4.4v4.4h-4.4zM561.1 545.3h2.7v2.7h-2.7zM574.7 541.8h3.3v3.3h-3.3zM592.2 536.0h3.5v3.5h-3.5zM616.1 534.6h4.3v4.3h-4.3zM625.1 539.1h5.5v5.5h-5.5zM551.3 538.8h2.2v2.2h-2.2zM608.9 543.7h3.9v3.9h-3.9zM585.2 539.5h3.2v3.2h-3.2zM609.5 538.5h5.0v5.0h-5.0zM574.1 545.0h3.0v3.0h-3.0zM613.0 537.7h4.9v4.9h-4.9zM565.8 538.6h2.6v2.6h-2.6zM575.2 541.7h2.9v2.9h-2.9zM623.7 539.4h5.9v5.9h-5.9zM594.2 540.9h4.2v4.2h-4.2zM573.8 535.0h3.3v3.3h-3.3zM566.3 538.0h2.9v2.9h-2.9zM617.4 540.3h5.0v5.0h-5.0zM621.3 534.3h4.6v4.6h-4.6zM601.3 538.0h3.5v3.5h-3.5zM606.2 534.9h4.4v4.4h-4.4zM554.6 542.0h2.5v2.5h-2.5zM568.7 543.2h2.6v2.6h-2.6zM611.6 544.0h4.6v4.6h-4.6zM591.6 534.1h4.1v4.1h-4.1zM621.7 533.5h4.9v4.9h-4.9zM579.9 534.2h3.1v3.1h-3.1zM634.9 537.9h5.7v5.7h-5.7zM590.1 536.7h3.7v3.7h-3.7zM587.0 535.1h3.9v3.9h-3.9zM616.9 542.5h5.2v5.2h-5.2zM564.0 538.1h2.5v2.5h-2.5zM627.2 540.4h4.6v4.6h-4.6zM610.2 534.1h3.8v3.8h-3.8zM552.8 537.2h2.3v2.3h-2.3zM703.0 555.1h7.8v7.8h-7.8zM678.4 539.2h7.8v7.8h-7.8zM531.8 658.3h2.0v2.0h-2.0zM543.9 548.4h1.7v1.7h-1.7zM508.2 735.2h2.3v2.3h-2.3zM519.2 734.6h2.3v2.3h-2.3zM531.3 658.6h1.7v1.7h-1.7zM511.1 769.8h2.0v2.0h-2.0zM515.2 786.5h1.9v1.9h-1.9zM508.8 786.2h1.8v1.8h-1.8zM547.0 553.6h2.0v2.0h-2.0zM541.5 540.1h2.1v2.1h-2.1zM515.0 721.2h1.9v1.9h-1.9zM531.6 664.4h1.9v1.9h-1.9zM543.9 554.6h2.0v2.0h-2.0zM512.5 713.9h2.3v2.3h-2.3zM541.4 607.4h1.8v1.8h-1.8zM537.3 643.8h2.1v2.1h-2.1zM525.4 654.6h1.9v1.9h-1.9zM510.0 734.0h2.2v2.2h-2.2zM517.9 777.2h2.0v2.0h-2.0zM544.1 597.7h1.9v1.9h-1.9zM519.1 692.3h2.1v2.1h-2.1zM518.2 708.6h1.9v1.9h-1.9zM521.3 699.9h2.1v2.1h-2.1zM543.4 596.7h1.8v1.8h-1.8zM544.5 592.0h1.7v1.7h-1.7zM515.5 762.4h1.8v1.8h-1.8zM531.0 589.0h1.8v1.8h-1.8zM544.0 588.3h2.1v2.1h-2.1zM542.9 596.2h1.7v1.7h-1.7zM527.6 636.1h2.2v2.2h-2.2zM529.7 658.3h2.0v2.0h-2.0zM523.0 672.9h1.7v1.7h-1.7zM516.8 658.2h1.9v1.9h-1.9zM513.8 557.4h1.7v1.7h-1.7zM518.6 739.5h2.0v2.0h-2.0zM516.6 770.0h2.1v2.1h-2.1zM515.4 759.8h1.9v1.9h-1.9zM519.0 675.1h2.2v2.2h-2.2zM516.5 785.4h1.9v1.9h-1.9zM518.0 737.7h1.9v1.9h-1.9zM544.4 565.2h2.2v2.2h-2.2zM535.9 572.3h1.7v1.7h-1.7zM513.0 634.0h2.0v2.0h-2.0zM535.6 582.3h1.8v1.8h-1.8zM517.5 562.3h2.0v2.0h-2.0zM514.6 773.7h2.1v2.1h-2.1zM517.0 778.2h2.1v2.1h-2.1zM513.5 737.8h1.8v1.8h-1.8zM522.6 668.3h1.8v1.8h-1.8zM545.0 576.7h2.1v2.1h-2.1zM526.6 682.8h2.0v2.0h-2.0zM530.6 629.7h2.3v2.3h-2.3zM516.5 765.8h2.1v2.1h-2.1zM516.6 741.4h2.3v2.3h-2.3zM546.4 575.1h2.0v2.0h-2.0zM513.8 552.2h1.8v1.8h-1.8zM523.5 698.0h1.9v1.9h-1.9zM545.7 569.7h1.9v1.9h-1.9zM534.1 632.1h2.0v2.0h-2.0zM541.2 601.8h1.9v1.9h-1.9zM546.9 566.0h2.1v2.1h-2.1zM544.1 594.0h2.0v2.0h-2.0zM545.7 561.0h1.7v1.7h-1.7zM514.1 769.1h2.0v2.0h-2.0zM523.3 685.0h2.2v2.2h-2.2zM522.9 637.1h2.3v2.3h-2.3zM539.5 578.3h1.8v1.8h-1.8zM522.3 694.3h2.2v2.2h-2.2zM539.9 617.7h2.3v2.3h-2.3zM514.6 758.4h2.1v2.1h-2.1zM528.9 668.7h1.8v1.8h-1.8zM542.3 598.3h1.8v1.8h-1.8zM516.9 733.9h2.2v2.2h-2.2zM544.5 544.8h2.2v2.2h-2.2zM535.6 587.8h2.1v2.1h-2.1zM524.2 641.0h2.1v2.1h-2.1zM511.5 770.4h2.2v2.2h-2.2zM512.6 762.9h2.1v2.1h-2.1zM517.7 702.5h2.2v2.2h-2.2zM537.5 613.6h1.7v1.7h-1.7zM538.5 558.5h1.9v1.9h-1.9zM517.4 721.9h2.0v2.0h-2.0zM527.5 598.3h1.8v1.8h-1.8zM535.9 636.7h2.2v2.2h-2.2zM530.3 669.7h2.3v2.3h-2.3zM513.2 733.1h2.0v2.0h-2.0zM536.2 626.7h1.8v1.8h-1.8zM520.7 724.9h2.0v2.0h-2.0zM543.9 590.3h1.7v1.7h-1.7zM510.0 750.9h1.7v1.7h-1.7zM515.6 680.7h2.0v2.0h-2.0zM531.3 598.6h2.2v2.2h-2.2zM523.3 585.9h1.8v1.8h-1.8zM516.8 751.8h2.2v2.2h-2.2zM516.1 738.8h2.1v2.1h-2.1zM536.1 580.6h2.2v2.2h-2.2zM517.6 779.5h2.2v2.2h-2.2zM541.7 595.9h1.8v1.8h-1.8zM516.7 719.3h1.8v1.8h-1.8zM530.8 672.9h1.8v1.8h-1.8zM516.2 773.6h2.3v2.3h-2.3zM513.0 752.6h2.0v2.0h-2.0zM521.8 685.6h2.0v2.0h-2.0zM512.6 745.7h2.0v2.0h-2.0zM518.9 689.3h2.2v2.2h-2.2zM517.3 729.0h2.1v2.1h-2.1zM538.2 551.8h2.2v2.2h-2.2zM528.0 658.3h2.3v2.3h-2.3zM526.3 787.1h2.1v2.1h-2.1zM522.5 790.5h2.0v2.0h-2.0zM529.3 788.6h1.9v1.9h-1.9zM551.9 789.8h2.2v2.2h-2.2zM564.2 787.5h2.0v2.0h-2.0zM548.5 788.3h1.9v1.9h-1.9zM545.5 789.7h1.8v1.8h-1.8zM557.2 792.6h1.8v1.8h-1.8zM532.8 788.1h1.7v1.7h-1.7zM558.0 788.6h2.3v2.3h-2.3zM523.6 787.8h1.9v1.9h-1.9zM520.7 788.3h2.1v2.1h-2.1zM551.7 789.0h2.0v2.0h-2.0zM520.0 788.8h2.3v2.3h-2.3zM550.0 788.2h2.1v2.1h-2.1zM520.2 787.1h2.2v2.2h-2.2zM531.8 789.3h1.7v1.7h-1.7zM533.7 788.1h2.1v2.1h-2.1zM530.8 787.9h2.2v2.2h-2.2zM557.0 788.7h2.2v2.2h-2.2zM518.7 787.0h2.2v2.2h-2.2zM547.6 788.0h2.3v2.3h-2.3zM569.2 790.0h1.8v1.8h-1.8z" fill="#4fc28c"/>
<path d="M605.7 667.4h2.8v2.8h-2.8zM609.7 630.4h3.7v3.7h-3.7zM599.6 734.0h2.4v2.4h-2.4zM583.9 741.3h2.2v2.2h-2.2zM593.3 682.7h2.7v2.7h-2.7zM602.5 656.1h2.8v2.8h-2.8zM616.4 570.8h4.5v4.5h-4.5zM581.8 760.8h2.0v2.0h-2.0zM594.9 697.5h2.4v2.4h-2.4zM599.8 647.8h3.3v3.3h-3.3zM618.7 598.6h4.0v4.0h-4.0zM593.1 710.6h2.6v2.6h-2.6zM595.5 669.7h2.9v2.9h-2.9zM594.3 718.4h2.2v2.2h-2.2zM592.0 733.4h2.3v2.3h-2.3zM577.7 767.6h2.0v2.0h-2.0zM594.6 687.0h2.6v2.6h-2.6zM606.0 760.1h2.1v2.1h-2.1zM621.5 633.8h3.2v3.2h-3.2zM610.0 620.1h4.0v4.0h-4.0zM600.1 687.5h2.5v2.5h-2.5zM599.2 686.1h2.9v2.9h-2.9zM572.4 780.0h1.9v1.9h-1.9zM595.6 716.2h2.2v2.2h-2.2zM600.5 679.6h2.8v2.8h-2.8zM598.2 703.7h2.7v2.7h-2.7zM610.9 567.9h4.1v4.1h-4.1zM590.4 740.9h2.2v2.2h-2.2zM613.1 562.7h4.3v4.3h-4.3zM602.2 666.3h2.8v2.8h-2.8zM601.4 634.8h3.1v3.1h-3.1zM638.4 655.0h4.0v4.0h-4.0zM591.0 731.9h2.1v2.1h-2.1zM584.5 769.0h2.0v2.0h-2.0zM573.3 779.6h1.9v1.9h-1.9zM604.7 609.5h3.5v3.5h-3.5zM624.0 575.2h3.9v3.9h-3.9zM635.0 538.0h6.0v6.0h-6.0zM560.1 786.6h1.8v1.8h-1.8zM611.8 605.4h3.9v3.9h-3.9zM575.8 778.4h1.9v1.9h-1.9zM623.0 539.9h5.8v5.8h-5.8zM633.1 585.1h5.0v5.0h-5.0zM586.8 721.7h2.4v2.4h-2.4zM596.4 706.6h2.3v2.3h-2.3zM610.0 620.9h3.8v3.8h-3.8zM564.9 784.3h1.9v1.9h-1.9zM605.6 682.1h2.7v2.7h-2.7zM608.5 632.1h3.0v3.0h-3.0zM591.9 696.2h2.3v2.3h-2.3zM631.3 554.5h5.9v5.9h-5.9zM616.6 604.6h3.5v3.5h-3.5zM621.7 595.9h4.5v4.5h-4.5zM613.3 550.3h5.0v5.0h-5.0zM599.4 699.3h2.5v2.5h-2.5zM591.6 728.7h2.2v2.2h-2.2zM595.8 675.7h2.6v2.6h-2.6zM592.4 768.6h2.1v2.1h-2.1zM604.5 609.4h3.4v3.4h-3.4zM611.3 635.4h3.7v3.7h-3.7zM577.0 780.0h1.9v1.9h-1.9zM582.2 744.9h2.1v2.1h-2.1zM633.9 538.7h5.0v5.0h-5.0zM599.5 635.1h2.9v2.9h-2.9zM609.5 648.8h3.1v3.1h-3.1zM615.5 607.4h3.8v3.8h-3.8zM592.5 714.5h2.4v2.4h-2.4zM610.9 576.3h3.9v3.9h-3.9zM600.8 624.4h3.1v3.1h-3.1zM578.0 765.3h2.0v2.0h-2.0zM631.3 604.1h5.1v5.1h-5.1zM596.2 687.8h2.6v2.6h-2.6zM607.9 677.0h2.9v2.9h-2.9zM598.0 681.6h2.8v2.8h-2.8zM620.4 607.7h4.3v4.3h-4.3zM599.4 635.1h3.4v3.4h-3.4zM607.8 692.9h2.5v2.5h-2.5zM616.3 588.3h4.0v4.0h-4.0zM602.3 630.2h3.6v3.6h-3.6zM580.4 759.5h2.0v2.0h-2.0zM589.9 713.0h2.5v2.5h-2.5zM568.8 782.0h1.9v1.9h-1.9zM591.8 700.4h2.6v2.6h-2.6zM577.0 768.2h2.0v2.0h-2.0zM592.5 732.6h2.3v2.3h-2.3zM606.1 599.0h3.8v3.8h-3.8zM579.7 762.5h2.0v2.0h-2.0zM608.7 584.3h4.4v4.4h-4.4zM582.9 750.4h2.1v2.1h-2.1zM639.9 542.9h4.6v4.6h-4.6zM604.4 636.9h2.9v2.9h-2.9zM584.7 745.5h2.2v2.2h-2.2zM621.2 541.4h5.7v5.7h-5.7zM589.7 700.6h2.3v2.3h-2.3zM603.1 707.8h2.4v2.4h-2.4zM588.6 734.5h2.3v2.3h-2.3zM612.7 544.3h4.6v4.6h-4.6zM625.6 591.9h4.1v4.1h-4.1zM584.0 738.3h2.2v2.2h-2.2zM615.8 549.1h4.7v4.7h-4.7zM607.4 661.5h2.9v2.9h-2.9zM592.4 702.9h2.4v2.4h-2.4zM612.2 559.3h4.3v4.3h-4.3zM581.1 749.4h2.1v2.1h-2.1zM595.0 670.6h2.8v2.8h-2.8zM615.3 601.9h4.5v4.5h-4.5zM609.9 608.4h3.5v3.5h-3.5zM599.7 683.9h2.6v2.6h-2.6zM594.7 706.3h2.5v2.5h-2.5zM596.6 713.9h2.6v2.6h-2.6zM591.5 688.7h2.7v2.7h-2.7zM601.8 696.7h2.4v2.4h-2.4zM590.4 694.5h2.6v2.6h-2.6zM612.4 660.2h3.2v3.2h-3.2zM614.2 597.9h3.8v3.8h-3.8zM583.0 761.6h2.0v2.0h-2.0zM597.8 699.3h2.4v2.4h-2.4zM604.7 636.1h3.6v3.6h-3.6zM601.9 648.7h3.2v3.2h-3.2zM608.3 638.5h3.6v3.6h-3.6zM607.6 662.6h2.9v2.9h-2.9zM594.9 680.8h2.4v2.4h-2.4zM613.7 560.7h4.2v4.2h-4.2zM576.8 773.3h2.0v2.0h-2.0zM577.2 776.9h1.9v1.9h-1.9zM649.1 543.2h7.4v7.4h-7.4zM587.9 734.4h2.2v2.2h-2.2zM603.1 607.1h3.4v3.4h-3.4zM612.9 671.9h2.8v2.8h-2.8zM599.4 668.7h3.1v3.1h-3.1zM585.7 743.9h2.0v2.0h-2.0zM600.4 708.1h2.6v2.6h-2.6zM616.6 629.4h3.3v3.3h-3.3zM607.9 688.8h2.6v2.6h-2.6zM652.6 568.8h5.2v5.2h-5.2zM638.4 630.1h3.9v3.9h-3.9zM596.0 762.3h2.1v2.1h-2.1zM629.2 579.2h4.2v4.2h-4.2zM607.3 740.2h2.2v2.2h-2.2zM593.6 747.9h2.2v2.2h-2.2zM661.8 575.0h5.4v5.4h-5.4zM650.4 670.6h3.5v3.5h-3.5zM658.6 602.6h4.9v4.9h-4.9zM615.8 677.1h3.0v3.0h-3.0zM633.0 692.1h3.4v3.4h-3.4zM646.8 565.1h4.7v4.7h-4.7zM645.2 682.3h4.1v4.1h-4.1zM648.5 573.2h4.6v4.6h-4.6zM631.2 633.5h4.4v4.4h-4.4zM607.9 670.3h3.1v3.1h-3.1zM631.8 554.8h4.4v4.4h-4.4zM599.7 762.3h2.0v2.0h-2.0zM658.1 538.2h6.9v6.9h-6.9zM619.8 675.0h2.8v2.8h-2.8zM620.6 599.4h3.7v3.7h-3.7zM626.1 564.3h4.3v4.3h-4.3zM629.3 550.3h4.9v4.9h-4.9zM673.1 591.9h6.2v6.2h-6.2zM623.4 554.1h4.7v4.7h-4.7zM641.4 634.9h4.6v4.6h-4.6zM686.8 540.1h7.3v7.3h-7.3zM622.9 567.5h5.2v5.2h-5.2zM621.5 603.8h4.7v4.7h-4.7zM622.0 579.4h3.9v3.9h-3.9zM610.9 654.8h3.0v3.0h-3.0zM614.5 632.8h3.8v3.8h-3.8zM635.5 662.4h4.0v4.0h-4.0zM617.6 585.8h4.8v4.8h-4.8zM634.5 548.1h4.7v4.7h-4.7zM608.4 662.8h3.3v3.3h-3.3zM574.6 540.9h3.3v3.3h-3.3zM575.8 540.5h2.9v2.9h-2.9zM636.6 543.1h5.3v5.3h-5.3zM626.8 541.8h5.5v5.5h-5.5zM563.3 545.1h2.6v2.6h-2.6zM552.3 538.5h2.6v2.6h-2.6zM604.0 540.1h4.0v4.0h-4.0zM582.5 537.6h3.0v3.0h-3.0zM570.9 543.1h2.6v2.6h-2.6zM617.2 534.4h5.0v5.0h-5.0zM629.4 535.9h4.4v4.4h-4.4zM587.0 536.3h3.6v3.6h-3.6zM610.9 536.2h4.0v4.0h-4.0zM597.7 539.6h4.4v4.4h-4.4zM629.7 534.2h5.1v5.1h-5.1zM526.0 674.6h2.2v2.2h-2.2zM545.8 573.5h2.1v2.1h-2.1zM511.4 727.7h1.8v1.8h-1.8zM520.4 694.0h2.2v2.2h-2.2zM536.4 573.0h1.7v1.7h-1.7zM543.0 603.4h2.3v2.3h-2.3zM517.8 738.6h2.1v2.1h-2.1zM513.2 629.5h1.7v1.7h-1.7zM536.6 571.3h2.0v2.0h-2.0zM539.8 618.5h1.7v1.7h-1.7zM539.4 581.8h2.0v2.0h-2.0zM535.3 616.8h1.9v1.9h-1.9zM535.1 613.1h2.2v2.2h-2.2zM519.1 739.5h2.2v2.2h-2.2zM540.8 601.1h1.9v1.9h-1.9zM548.0 555.2h2.3v2.3h-2.3zM515.2 715.3h1.8v1.8h-1.8zM534.6 544.4h2.2v2.2h-2.2zM509.6 583.8h2.2v2.2h-2.2zM543.2 603.0h2.0v2.0h-2.0zM517.6 670.4h2.1v2.1h-2.1zM519.3 542.7h1.7v1.7h-1.7zM518.0 755.2h1.8v1.8h-1.8zM524.7 606.9h1.8v1.8h-1.8zM526.6 668.2h1.8v1.8h-1.8zM515.1 771.2h2.1v2.1h-2.1zM516.2 784.9h2.2v2.2h-2.2zM525.6 660.4h2.3v2.3h-2.3zM537.1 572.8h2.0v2.0h-2.0zM538.0 558.6h2.1v2.1h-2.1zM527.5 680.2h2.1v2.1h-2.1zM531.3 608.9h2.2v2.2h-2.2zM527.9 683.8h1.9v1.9h-1.9zM539.0 616.1h1.9v1.9h-1.9zM541.2 614.0h2.3v2.3h-2.3zM511.9 664.8h1.9v1.9h-1.9zM517.6 722.7h2.1v2.1h-2.1zM529.7 649.1h2.1v2.1h-2.1zM521.4 687.6h2.0v2.0h-2.0zM517.4 613.6h1.8v1.8h-1.8zM524.2 676.9h2.2v2.2h-2.2zM543.0 548.1h2.2v2.2h-2.2zM537.9 600.9h2.0v2.0h-2.0zM513.5 719.5h1.7v1.7h-1.7zM528.4 665.1h1.9v1.9h-1.9zM523.0 708.4h2.0v2.0h-2.0zM524.3 676.3h2.0v2.0h-2.0zM524.2 705.2h1.9v1.9h-1.9zM514.1 755.8h2.0v2.0h-2.0zM545.0 577.7h1.7v1.7h-1.7zM512.7 753.5h2.0v2.0h-2.0zM532.2 646.1h2.3v2.3h-2.3zM537.9 576.4h2.0v2.0h-2.0zM539.2 631.1h2.3v2.3h-2.3zM525.7 693.7h1.8v1.8h-1.8zM536.1 630.9h1.9v1.9h-1.9zM514.0 774.2h2.0v2.0h-2.0zM539.8 585.1h1.9v1.9h-1.9zM548.5 551.3h1.8v1.8h-1.8zM549.3 539.7h2.3v2.3h-2.3zM509.5 748.7h1.7v1.7h-1.7zM512.9 691.4h2.1v2.1h-2.1zM516.9 765.7h1.7v1.7h-1.7zM516.6 788.4h2.0v2.0h-2.0zM550.7 788.1h2.3v2.3h-2.3zM558.9 787.6h2.0v2.0h-2.0zM564.7 787.4h1.8v1.8h-1.8zM568.0 789.6h1.8v1.8h-1.8z" fill="#93d372"/>
<line x1="498.00" y1="463.00" x2="498.00" y2="809.10" stroke="#000" stroke-width="2"/>
<line x1="489.50" y1="808.10" x2="990.30" y2="808.10" stroke="#000" stroke-width="2"/>
<text transform="translate(464.60 814.00) scale(1 1.035)" font-size="16.4">0</text>
<line x1="490.00" y1="762.40" x2="498.00" y2="762.40" stroke="#000" stroke-width="2"/>
<text transform="translate(464.60 768.30) scale(1 1.035)" font-size="16.4">1.0</text>
<line x1="490.00" y1="716.70" x2="498.00" y2="716.70" stroke="#000" stroke-width="2"/>
<text transform="translate(464.60 722.60) scale(1 1.035)" font-size="16.4">2.0</text>
<line x1="490.00" y1="671.00" x2="498.00" y2="671.00" stroke="#000" stroke-width="2"/>
<text transform="translate(464.60 676.90) scale(1 1.035)" font-size="16.4">3.0</text>
<line x1="490.00" y1="625.30" x2="498.00" y2="625.30" stroke="#000" stroke-width="2"/>
<text transform="translate(464.60 631.20) scale(1 1.035)" font-size="16.4">4.0</text>
<line x1="490.00" y1="579.60" x2="498.00" y2="579.60" stroke="#000" stroke-width="2"/>
<text transform="translate(464.60 585.50) scale(1 1.035)" font-size="16.4">5.0</text>
<line x1="490.00" y1="533.90" x2="498.00" y2="533.90" stroke="#000" stroke-width="2"/>
<text transform="translate(464.60 539.80) scale(1 1.035)" font-size="16.4">6.0</text>
<line x1="490.00" y1="488.20" x2="498.00" y2="488.20" stroke="#000" stroke-width="2"/>
<text transform="translate(464.60 494.10) scale(1 1.035)" font-size="16.4">7.0</text>
<line x1="498.00" y1="808.10" x2="498.00" y2="815.70" stroke="#000" stroke-width="2"/>
<text transform="translate(493.88 831.40) scale(1 1.035)" font-size="18">0</text>
<line x1="547.15" y1="808.10" x2="547.15" y2="815.70" stroke="#000" stroke-width="2"/>
<text transform="translate(535.05 831.40) scale(1 1.035)" font-size="18">100</text>
<line x1="596.30" y1="808.10" x2="596.30" y2="815.70" stroke="#000" stroke-width="2"/>
<text transform="translate(584.20 831.40) scale(1 1.035)" font-size="18">200</text>
<line x1="645.45" y1="808.10" x2="645.45" y2="815.70" stroke="#000" stroke-width="2"/>
<text transform="translate(633.35 831.40) scale(1 1.035)" font-size="18">300</text>
<line x1="694.60" y1="808.10" x2="694.60" y2="815.70" stroke="#000" stroke-width="2"/>
<text transform="translate(682.50 831.40) scale(1 1.035)" font-size="18">400</text>
<line x1="743.75" y1="808.10" x2="743.75" y2="815.70" stroke="#000" stroke-width="2"/>
<text transform="translate(731.65 831.40) scale(1 1.035)" font-size="18">500</text>
<line x1="792.90" y1="808.10" x2="792.90" y2="815.70" stroke="#000" stroke-width="2"/>
<text transform="translate(780.80 831.40) scale(1 1.035)" font-size="18">600</text>
<line x1="842.05" y1="808.10" x2="842.05" y2="815.70" stroke="#000" stroke-width="2"/>
<text transform="translate(829.95 831.40) scale(1 1.035)" font-size="18">700</text>
<line x1="891.20" y1="808.10" x2="891.20" y2="815.70" stroke="#000" stroke-width="2"/>
<text transform="translate(879.10 831.40) scale(1 1.035)" font-size="18">800</text>
<line x1="940.35" y1="808.10" x2="940.35" y2="815.70" stroke="#000" stroke-width="2"/>
<text transform="translate(928.25 831.40) scale(1 1.035)" font-size="18">900</text>
<line x1="989.50" y1="808.10" x2="989.50" y2="815.70" stroke="#000" stroke-width="2"/>
<text transform="translate(977.40 831.40) scale(1 1.035)" font-size="18">1000</text>
<text x="763.25" y="849.40" font-size="19" text-anchor="middle">Size (nm)</text>
<text transform="translate(456.60 646.00) rotate(-90)" font-size="19.1" text-anchor="middle">Intensity (a.u.)</text>
<text transform="translate(446.30 464.80) scale(1 1.035)" font-size="16.4">E2</text>
<rect x="496.9" y="526" width="48.9" height="281.6" fill="none" stroke="#a52428" stroke-width="3.9"/>
<text transform="translate(501.60 515.90) scale(1 1.01)" font-size="29.7" fill="#a52428">1.74%±0.52</text>
<path d="M1094.4 788.7 L1093.4 782.5 L1092.6 776.2 L1092.6 770.0 L1092.6 763.8 L1092.6 757.6 L1092.6 751.3 L1092.8 745.1 L1093.9 738.9 L1095.1 732.7 L1096.2 726.5 L1097.3 720.2 L1098.5 714.0 L1099.4 707.8 L1100.2 701.6 L1101.0 695.3 L1101.8 689.1 L1102.5 682.9 L1103.3 676.7 L1104.1 670.5 L1104.9 664.2 L1105.7 658.0 L1106.4 651.8 L1107.2 645.6 L1108.0 639.4 L1109.0 633.1 L1109.9 626.9 L1110.9 620.7 L1111.8 614.5 L1112.8 608.2 L1113.7 602.0 L1114.7 595.8 L1115.6 589.6 L1116.6 583.4 L1118.2 577.1 L1121.1 570.9 L1124.0 564.7 L1126.9 558.5 L1129.9 552.2 L1132.9 546.0 L1135.9 539.8 L1200.8 539.8 L1201.5 546.0 L1202.2 552.2 L1202.8 558.5 L1203.5 564.7 L1202.4 570.9 L1201.0 577.1 L1199.7 583.4 L1198.3 589.6 L1197.0 595.8 L1195.7 602.0 L1194.4 608.2 L1193.1 614.5 L1191.9 620.7 L1190.6 626.9 L1189.4 633.1 L1188.2 639.4 L1187.6 645.6 L1186.9 651.8 L1186.2 658.0 L1185.5 664.2 L1184.9 670.5 L1184.2 676.7 L1183.5 682.9 L1182.9 689.1 L1182.2 695.3 L1181.5 701.6 L1180.8 707.8 L1179.9 714.0 L1178.6 720.2 L1177.4 726.5 L1176.1 732.7 L1174.9 738.9 L1173.6 745.1 L1171.1 751.3 L1167.9 757.6 L1164.7 763.8 L1161.4 770.0 L1158.2 776.2 L1147.2 782.5 L1133.6 788.7Z" fill="#4db33d" stroke="#4db33d" stroke-width="3" stroke-linejoin="round"/>
<path d="M1230.2 554.9h7.3v7.3h-7.3zM1187.7 639.7h3.3v3.3h-3.3zM1173.4 739.8h2.1v2.1h-2.1zM1142.7 781.6h1.9v1.9h-1.9zM1192.3 659.6h3.1v3.1h-3.1zM1200.5 544.4h5.3v5.3h-5.3zM1192.1 644.7h3.2v3.2h-3.2zM1190.3 669.1h3.1v3.1h-3.1zM1186.8 627.3h3.1v3.1h-3.1zM1195.9 583.8h3.6v3.6h-3.6zM1179.4 705.1h2.4v2.4h-2.4zM1199.9 593.2h3.8v3.8h-3.8zM1204.4 591.2h4.9v4.9h-4.9zM1192.5 746.0h2.2v2.2h-2.2zM1193.9 600.0h4.5v4.5h-4.5zM1170.0 739.5h2.2v2.2h-2.2zM1231.4 553.6h5.6v5.6h-5.6zM1176.3 724.5h2.5v2.5h-2.5zM1187.3 627.9h3.2v3.2h-3.2zM1167.0 760.7h2.0v2.0h-2.0zM1197.0 578.3h4.9v4.9h-4.9zM1189.0 647.3h3.0v3.0h-3.0zM1184.5 670.0h3.0v3.0h-3.0zM1177.8 736.9h2.2v2.2h-2.2zM1178.8 682.1h2.8v2.8h-2.8zM1194.6 615.3h3.8v3.8h-3.8zM1186.2 636.5h3.1v3.1h-3.1zM1198.8 712.1h2.7v2.7h-2.7zM1192.1 682.8h2.9v2.9h-2.9zM1175.0 724.0h2.2v2.2h-2.2zM1186.8 721.8h2.5v2.5h-2.5zM1180.3 672.1h2.8v2.8h-2.8zM1198.5 572.6h4.9v4.9h-4.9zM1192.8 745.2h2.5v2.5h-2.5zM1203.5 581.9h4.6v4.6h-4.6zM1164.7 754.2h2.1v2.1h-2.1zM1181.4 681.1h2.8v2.8h-2.8zM1243.4 541.4h6.1v6.1h-6.1zM1210.2 594.2h3.8v3.8h-3.8zM1203.1 606.4h4.2v4.2h-4.2zM1178.3 686.2h2.6v2.6h-2.6zM1203.3 581.7h4.3v4.3h-4.3zM1183.8 708.9h2.5v2.5h-2.5zM1202.5 581.6h5.2v5.2h-5.2zM1208.0 541.9h5.1v5.1h-5.1zM1200.0 577.5h4.2v4.2h-4.2zM1199.2 610.5h3.6v3.6h-3.6zM1183.4 637.1h3.2v3.2h-3.2zM1182.6 652.3h2.7v2.7h-2.7zM1199.5 599.9h4.1v4.1h-4.1zM1205.9 700.9h2.8v2.8h-2.8zM1186.8 664.3h3.2v3.2h-3.2zM1195.6 546.5h5.0v5.0h-5.0zM1172.0 760.1h2.0v2.0h-2.0zM1189.6 604.5h4.0v4.0h-4.0zM1171.1 733.5h2.3v2.3h-2.3zM1174.9 752.9h2.1v2.1h-2.1zM1212.2 587.3h4.3v4.3h-4.3zM1167.7 755.9h2.0v2.0h-2.0zM1216.0 662.0h4.1v4.1h-4.1zM1175.4 725.8h2.4v2.4h-2.4zM1172.6 747.9h2.1v2.1h-2.1zM1179.1 676.0h3.0v3.0h-3.0zM1195.6 602.8h4.3v4.3h-4.3zM1182.5 744.1h2.4v2.4h-2.4zM1211.9 572.4h5.3v5.3h-5.3zM1207.3 550.0h5.9v5.9h-5.9zM1188.5 687.6h2.9v2.9h-2.9zM1177.4 703.2h2.3v2.3h-2.3zM1175.4 712.8h2.4v2.4h-2.4zM1174.4 719.1h2.4v2.4h-2.4zM1201.2 540.7h5.6v5.6h-5.6zM1164.9 764.3h2.0v2.0h-2.0zM1193.2 604.6h3.8v3.8h-3.8zM1195.7 575.1h4.0v4.0h-4.0zM1193.6 590.0h3.4v3.4h-3.4zM1165.3 758.8h2.1v2.1h-2.1zM1166.7 762.5h2.0v2.0h-2.0zM1207.6 604.5h4.8v4.8h-4.8zM1218.6 558.6h5.4v5.4h-5.4zM1209.1 566.1h4.3v4.3h-4.3zM1195.5 640.6h3.8v3.8h-3.8zM1182.4 657.1h3.1v3.1h-3.1zM1193.4 590.3h3.6v3.6h-3.6zM1180.7 742.8h2.2v2.2h-2.2zM1187.9 628.5h3.1v3.1h-3.1zM1170.1 743.6h2.2v2.2h-2.2zM1183.3 652.7h3.2v3.2h-3.2zM1187.6 695.0h2.5v2.5h-2.5zM1180.7 706.3h2.6v2.6h-2.6zM1199.1 570.7h4.9v4.9h-4.9zM1160.3 764.4h1.9v1.9h-1.9zM1165.3 752.9h2.1v2.1h-2.1zM1186.2 663.5h3.2v3.2h-3.2zM1159.1 776.4h1.9v1.9h-1.9zM1202.2 631.6h3.2v3.2h-3.2zM1213.5 576.2h5.0v5.0h-5.0zM1211.7 588.4h5.1v5.1h-5.1zM1172.9 731.7h2.4v2.4h-2.4zM1200.4 562.1h3.9v3.9h-3.9zM1174.9 731.8h2.2v2.2h-2.2zM1182.5 646.0h2.9v2.9h-2.9zM1169.0 764.0h2.1v2.1h-2.1zM1194.7 585.7h4.4v4.4h-4.4zM1217.7 601.0h4.3v4.3h-4.3zM1191.2 702.5h2.9v2.9h-2.9zM1175.7 748.2h2.1v2.1h-2.1zM1183.6 653.8h2.8v2.8h-2.8zM1200.3 672.7h3.3v3.3h-3.3zM1199.6 583.9h4.3v4.3h-4.3zM1190.3 617.3h4.0v4.0h-4.0zM1196.7 591.9h3.7v3.7h-3.7zM1174.7 738.9h2.2v2.2h-2.2zM1190.0 615.0h3.4v3.4h-3.4zM1198.2 552.1h4.3v4.3h-4.3zM1180.4 709.0h2.6v2.6h-2.6zM1194.1 607.9h3.9v3.9h-3.9zM1184.6 637.0h3.3v3.3h-3.3zM1166.8 764.8h2.0v2.0h-2.0zM1193.6 605.4h4.3v4.3h-4.3zM1203.0 597.4h3.7v3.7h-3.7zM1206.7 599.7h4.7v4.7h-4.7zM1186.6 639.8h3.4v3.4h-3.4zM1203.6 697.4h2.7v2.7h-2.7zM1190.8 607.6h3.8v3.8h-3.8zM1187.0 633.1h3.8v3.8h-3.8zM1211.2 589.9h4.5v4.5h-4.5zM1181.9 660.7h3.0v3.0h-3.0zM1192.5 622.3h3.5v3.5h-3.5zM1192.4 618.2h3.1v3.1h-3.1zM1154.1 774.4h1.9v1.9h-1.9zM1181.0 673.8h2.6v2.6h-2.6zM1214.2 581.2h4.1v4.1h-4.1zM1197.0 589.5h4.7v4.7h-4.7zM1168.0 751.3h2.0v2.0h-2.0zM1175.0 713.5h2.4v2.4h-2.4zM1142.0 783.2h1.9v1.9h-1.9zM1198.4 544.4h5.0v5.0h-5.0zM1177.8 725.7h2.3v2.3h-2.3zM1194.8 594.7h4.6v4.6h-4.6zM1199.0 574.3h5.0v5.0h-5.0zM1197.8 569.6h4.2v4.2h-4.2zM1213.0 592.1h4.1v4.1h-4.1zM1169.0 744.7h2.1v2.1h-2.1zM1194.7 597.5h3.7v3.7h-3.7zM1153.5 778.2h1.9v1.9h-1.9zM1216.3 582.2h5.7v5.7h-5.7zM1189.9 631.1h3.5v3.5h-3.5zM1199.2 573.7h4.5v4.5h-4.5zM1167.1 773.1h2.0v2.0h-2.0zM1210.6 541.1h4.6v4.6h-4.6zM1187.8 667.0h2.8v2.8h-2.8zM1191.9 599.4h4.1v4.1h-4.1zM1205.0 561.3h5.1v5.1h-5.1zM1180.5 662.5h3.1v3.1h-3.1zM1178.2 717.9h2.3v2.3h-2.3zM1155.0 775.2h1.9v1.9h-1.9zM1182.7 644.0h2.9v2.9h-2.9zM1220.1 618.2h5.2v5.2h-5.2zM1170.1 755.6h2.0v2.0h-2.0zM1177.8 714.5h2.3v2.3h-2.3zM1170.4 754.6h2.0v2.0h-2.0zM1178.6 707.9h2.4v2.4h-2.4zM1187.5 659.5h2.8v2.8h-2.8zM1201.2 584.4h4.6v4.6h-4.6zM1164.6 769.1h2.0v2.0h-2.0zM1183.8 710.1h2.6v2.6h-2.6zM1168.7 751.2h2.2v2.2h-2.2zM1178.9 743.6h2.3v2.3h-2.3zM1179.6 673.1h2.9v2.9h-2.9zM1200.8 677.2h3.2v3.2h-3.2zM1161.7 759.0h2.0v2.0h-2.0zM1184.3 638.1h3.2v3.2h-3.2zM1200.1 544.3h4.4v4.4h-4.4zM1181.5 655.3h3.2v3.2h-3.2zM1172.8 750.8h2.1v2.1h-2.1zM1202.7 613.0h3.5v3.5h-3.5zM1146.2 783.2h1.9v1.9h-1.9zM1195.1 583.6h4.5v4.5h-4.5zM1186.7 658.3h3.0v3.0h-3.0zM1206.2 555.7h5.1v5.1h-5.1zM1177.1 750.7h2.2v2.2h-2.2zM1170.6 750.7h2.1v2.1h-2.1zM1197.8 686.2h2.8v2.8h-2.8zM1189.2 670.7h2.7v2.7h-2.7zM1196.4 554.4h4.9v4.9h-4.9zM1218.7 547.0h5.6v5.6h-5.6zM1195.8 651.7h3.4v3.4h-3.4zM1178.7 714.5h2.6v2.6h-2.6zM1181.2 708.6h2.4v2.4h-2.4zM1160.5 769.9h1.9v1.9h-1.9zM1197.7 599.0h3.6v3.6h-3.6zM1202.2 565.6h4.2v4.2h-4.2zM1197.7 699.5h2.7v2.7h-2.7zM1138.6 787.2h1.9v1.9h-1.9zM1171.4 738.7h2.1v2.1h-2.1zM1190.7 662.2h3.1v3.1h-3.1zM1180.7 663.6h2.7v2.7h-2.7zM1211.3 547.7h4.5v4.5h-4.5zM1186.2 682.1h3.1v3.1h-3.1zM1192.5 612.7h4.1v4.1h-4.1zM1186.7 639.5h3.2v3.2h-3.2zM1180.3 692.5h2.4v2.4h-2.4zM1215.6 624.1h4.8v4.8h-4.8zM1246.0 547.7h7.4v7.4h-7.4zM1217.8 571.6h5.2v5.2h-5.2zM1186.0 668.2h2.8v2.8h-2.8zM1179.8 668.0h2.9v2.9h-2.9zM1182.4 648.0h2.8v2.8h-2.8zM1227.2 564.2h5.6v5.6h-5.6zM1198.0 579.7h4.7v4.7h-4.7zM1196.5 686.2h3.0v3.0h-3.0zM1186.8 630.8h3.4v3.4h-3.4zM1185.2 703.2h2.5v2.5h-2.5zM1202.2 720.8h2.9v2.9h-2.9zM1173.4 734.7h2.2v2.2h-2.2zM1184.7 641.2h3.0v3.0h-3.0zM1161.3 760.1h2.0v2.0h-2.0zM1186.8 727.4h2.4v2.4h-2.4zM1187.7 697.6h2.8v2.8h-2.8zM1203.0 556.4h4.0v4.0h-4.0zM1198.0 553.7h4.4v4.4h-4.4zM1196.0 661.8h3.4v3.4h-3.4zM1192.8 661.5h3.4v3.4h-3.4zM1205.2 603.1h4.3v4.3h-4.3zM1184.7 670.1h2.7v2.7h-2.7zM1198.6 573.4h4.2v4.2h-4.2zM1193.9 713.6h2.8v2.8h-2.8zM1184.5 658.7h2.9v2.9h-2.9zM1186.9 637.0h3.4v3.4h-3.4zM1185.8 658.2h3.1v3.1h-3.1zM1199.9 590.7h3.8v3.8h-3.8zM1193.2 584.1h4.1v4.1h-4.1zM1202.4 702.0h2.7v2.7h-2.7zM1137.4 784.9h1.8v1.8h-1.8zM1215.7 616.6h3.9v3.9h-3.9zM1198.2 546.9h4.1v4.1h-4.1zM1166.5 759.3h2.0v2.0h-2.0zM1158.3 765.5h2.0v2.0h-2.0zM1183.7 685.6h2.7v2.7h-2.7zM1235.0 582.2h5.5v5.5h-5.5zM1181.5 718.3h2.5v2.5h-2.5zM1186.0 634.9h3.3v3.3h-3.3zM1193.4 630.8h4.0v4.0h-4.0zM1188.5 660.2h2.8v2.8h-2.8zM1177.6 726.3h2.4v2.4h-2.4zM1202.1 565.7h4.3v4.3h-4.3zM1226.3 566.8h4.7v4.7h-4.7zM1208.3 695.5h3.2v3.2h-3.2zM1188.2 616.7h3.4v3.4h-3.4zM1174.3 736.9h2.3v2.3h-2.3zM1192.9 694.0h3.0v3.0h-3.0zM1184.1 631.3h3.0v3.0h-3.0zM1189.6 635.4h3.7v3.7h-3.7zM1199.7 673.4h3.2v3.2h-3.2zM1183.7 633.7h3.2v3.2h-3.2zM1133.4 787.5h1.8v1.8h-1.8zM1180.2 741.3h2.2v2.2h-2.2zM1194.4 705.9h2.7v2.7h-2.7zM1172.9 734.6h2.3v2.3h-2.3zM1181.0 727.3h2.2v2.2h-2.2zM1201.0 577.5h4.7v4.7h-4.7zM1193.9 683.9h3.2v3.2h-3.2zM1220.1 651.4h4.4v4.4h-4.4zM1211.0 597.4h3.8v3.8h-3.8zM1134.9 787.0h1.8v1.8h-1.8zM1182.7 654.1h3.0v3.0h-3.0zM1191.4 650.3h3.6v3.6h-3.6zM1180.7 699.9h2.7v2.7h-2.7zM1187.3 640.9h3.3v3.3h-3.3zM1180.6 744.1h2.3v2.3h-2.3zM1191.1 623.0h3.4v3.4h-3.4zM1217.0 591.9h4.4v4.4h-4.4zM1195.3 620.4h3.2v3.2h-3.2zM1145.8 782.4h1.9v1.9h-1.9zM1209.7 566.1h5.3v5.3h-5.3zM1181.0 712.0h2.4v2.4h-2.4zM1178.4 724.0h2.3v2.3h-2.3zM1184.6 699.5h2.8v2.8h-2.8zM1173.8 748.1h2.1v2.1h-2.1zM1188.1 702.1h2.7v2.7h-2.7zM1141.1 785.0h1.9v1.9h-1.9zM1187.4 669.7h2.6v2.6h-2.6zM1193.6 595.7h4.4v4.4h-4.4zM1180.3 715.1h2.5v2.5h-2.5zM1183.3 703.6h2.8v2.8h-2.8zM1193.8 661.2h3.3v3.3h-3.3zM1197.1 590.0h3.7v3.7h-3.7zM1181.5 676.1h2.6v2.6h-2.6zM1208.7 545.4h5.5v5.5h-5.5zM1178.9 680.9h2.9v2.9h-2.9zM1138.9 783.8h1.8v1.8h-1.8zM1186.0 702.8h2.5v2.5h-2.5zM1141.1 782.5h1.9v1.9h-1.9zM1189.5 627.9h3.4v3.4h-3.4zM1169.8 764.4h2.0v2.0h-2.0zM1184.8 705.7h2.6v2.6h-2.6zM1174.2 742.5h2.1v2.1h-2.1zM1198.7 592.4h4.8v4.8h-4.8zM1182.5 719.0h2.4v2.4h-2.4zM1202.4 630.3h3.6v3.6h-3.6zM1183.7 717.8h2.4v2.4h-2.4zM1190.2 624.0h3.9v3.9h-3.9zM1197.8 666.9h2.8v2.8h-2.8zM1196.7 619.8h3.7v3.7h-3.7zM1223.4 560.0h5.2v5.2h-5.2zM1134.3 785.5h1.8v1.8h-1.8zM1163.9 757.7h2.0v2.0h-2.0zM1198.9 552.1h4.6v4.6h-4.6zM1220.4 581.1h6.1v6.1h-6.1zM1176.4 704.4h2.3v2.3h-2.3zM1186.3 678.5h3.1v3.1h-3.1zM1162.9 757.4h2.1v2.1h-2.1zM1191.1 621.6h3.7v3.7h-3.7zM1194.7 728.1h2.4v2.4h-2.4zM1210.0 564.4h5.2v5.2h-5.2zM1183.7 639.9h3.2v3.2h-3.2zM1181.9 662.9h3.2v3.2h-3.2zM1201.6 630.2h3.4v3.4h-3.4zM1206.1 590.5h3.9v3.9h-3.9zM1191.3 632.7h3.8v3.8h-3.8zM1179.0 740.6h2.2v2.2h-2.2zM1166.9 752.5h2.0v2.0h-2.0zM1178.3 742.8h2.1v2.1h-2.1zM1194.6 679.0h2.7v2.7h-2.7zM1156.9 773.0h2.0v2.0h-2.0zM1178.2 772.6h2.0v2.0h-2.0zM1172.0 750.5h2.2v2.2h-2.2zM1210.2 557.6h4.3v4.3h-4.3zM1189.6 689.9h3.0v3.0h-3.0zM1207.1 570.2h3.9v3.9h-3.9zM1180.0 717.4h2.5v2.5h-2.5zM1182.5 720.2h2.6v2.6h-2.6zM1198.3 713.2h2.9v2.9h-2.9zM1181.5 741.1h2.2v2.2h-2.2zM1144.0 783.6h1.9v1.9h-1.9zM1202.3 560.6h4.2v4.2h-4.2zM1199.0 624.4h4.2v4.2h-4.2zM1168.9 745.2h2.2v2.2h-2.2zM1155.6 771.5h1.9v1.9h-1.9zM1193.0 647.4h3.4v3.4h-3.4zM1196.5 542.1h4.6v4.6h-4.6zM1208.6 540.6h4.3v4.3h-4.3zM1189.1 685.6h2.7v2.7h-2.7zM1195.8 541.1h5.3v5.3h-5.3zM1184.6 668.2h3.0v3.0h-3.0zM1175.9 756.2h2.1v2.1h-2.1zM1154.9 775.0h1.9v1.9h-1.9zM1216.1 548.7h5.2v5.2h-5.2zM1245.5 606.5h5.9v5.9h-5.9zM1199.6 625.3h3.7v3.7h-3.7zM1209.5 537.8h5.8v5.8h-5.8zM1185.6 685.4h3.0v3.0h-3.0zM1165.8 765.8h2.0v2.0h-2.0zM1192.3 609.5h3.5v3.5h-3.5zM1169.8 762.0h2.1v2.1h-2.1zM1187.8 651.0h3.4v3.4h-3.4zM1171.7 733.7h2.4v2.4h-2.4zM1198.5 702.2h3.1v3.1h-3.1zM1184.4 697.6h2.6v2.6h-2.6zM1178.6 711.9h2.5v2.5h-2.5zM1208.6 555.6h5.0v5.0h-5.0zM1202.9 589.1h4.2v4.2h-4.2zM1200.4 602.4h3.9v3.9h-3.9zM1182.3 645.2h3.0v3.0h-3.0zM1196.0 584.6h4.5v4.5h-4.5zM1180.4 708.5h2.4v2.4h-2.4zM1203.7 566.3h4.8v4.8h-4.8zM1188.3 748.9h2.2v2.2h-2.2zM1171.6 733.3h2.2v2.2h-2.2zM1208.5 622.9h4.0v4.0h-4.0zM1166.8 750.1h2.0v2.0h-2.0zM1176.7 727.0h2.4v2.4h-2.4zM1158.0 766.4h2.0v2.0h-2.0zM1186.2 637.4h2.9v2.9h-2.9zM1171.9 743.1h2.1v2.1h-2.1zM1187.7 667.8h2.8v2.8h-2.8zM1191.1 609.5h3.4v3.4h-3.4zM1182.9 694.2h2.8v2.8h-2.8zM1206.9 551.7h5.9v5.9h-5.9zM1186.4 663.8h2.9v2.9h-2.9zM1184.2 663.2h2.8v2.8h-2.8zM1179.8 690.2h2.4v2.4h-2.4zM1187.5 618.7h3.9v3.9h-3.9zM1160.7 761.4h2.0v2.0h-2.0zM1161.7 772.4h1.9v1.9h-1.9zM1185.0 644.4h3.5v3.5h-3.5zM1210.4 549.4h5.6v5.6h-5.6zM1193.4 678.5h3.1v3.1h-3.1zM1206.5 598.4h5.1v5.1h-5.1zM1198.2 592.3h4.7v4.7h-4.7zM1181.2 654.1h2.9v2.9h-2.9zM1137.1 785.8h1.8v1.8h-1.8zM1159.3 778.9h1.9v1.9h-1.9zM1161.6 763.6h2.0v2.0h-2.0zM1175.6 710.9h2.5v2.5h-2.5zM1196.5 661.1h3.6v3.6h-3.6zM1181.3 720.4h2.5v2.5h-2.5zM1177.4 739.6h2.1v2.1h-2.1zM1169.9 753.7h2.1v2.1h-2.1zM1206.9 602.6h4.2v4.2h-4.2zM1198.2 598.2h3.9v3.9h-3.9zM1174.9 746.7h2.2v2.2h-2.2zM1166.5 755.1h2.0v2.0h-2.0zM1184.5 694.0h2.8v2.8h-2.8zM1188.6 658.9h2.9v2.9h-2.9zM1194.9 624.7h4.1v4.1h-4.1zM1193.0 697.2h2.6v2.6h-2.6zM1157.1 771.7h1.9v1.9h-1.9zM1176.6 708.0h2.7v2.7h-2.7zM1157.7 768.0h2.0v2.0h-2.0zM1215.0 556.7h5.2v5.2h-5.2zM1136.6 784.4h1.8v1.8h-1.8zM1174.6 741.4h2.2v2.2h-2.2zM1224.0 589.1h6.0v6.0h-6.0zM1186.7 694.5h3.0v3.0h-3.0zM1197.0 544.7h3.8v3.8h-3.8zM1206.3 565.1h4.0v4.0h-4.0zM1173.0 729.6h2.3v2.3h-2.3zM1179.3 678.5h2.9v2.9h-2.9zM1149.8 781.5h1.9v1.9h-1.9zM1191.7 669.9h2.9v2.9h-2.9zM1301.0 540.7h7.4v7.4h-7.4zM1224.3 544.0h4.8v4.8h-4.8zM1196.8 600.0h3.6v3.6h-3.6zM1192.9 642.5h3.3v3.3h-3.3zM1168.7 777.1h2.0v2.0h-2.0zM1210.7 602.1h4.9v4.9h-4.9zM1200.3 571.6h5.0v5.0h-5.0zM1188.9 708.7h2.5v2.5h-2.5zM1161.5 765.9h2.0v2.0h-2.0zM1183.3 712.9h2.5v2.5h-2.5zM1156.8 781.1h1.9v1.9h-1.9zM1180.7 683.9h2.5v2.5h-2.5zM1188.5 714.4h2.4v2.4h-2.4zM1177.6 693.7h2.4v2.4h-2.4zM1177.5 689.5h2.5v2.5h-2.5zM1178.4 715.3h2.3v2.3h-2.3zM1242.5 537.6h6.7v6.7h-6.7zM1176.4 727.0h2.4v2.4h-2.4zM1256.2 537.8h7.4v7.4h-7.4zM1174.9 722.2h2.5v2.5h-2.5zM1207.9 563.7h4.7v4.7h-4.7zM1158.6 766.5h1.9v1.9h-1.9zM1190.1 629.4h3.3v3.3h-3.3zM1183.7 665.8h3.3v3.3h-3.3zM1198.8 730.0h2.7v2.7h-2.7zM1211.7 605.1h4.7v4.7h-4.7zM1187.2 693.5h2.6v2.6h-2.6zM1186.5 654.1h3.1v3.1h-3.1zM1197.2 573.3h4.0v4.0h-4.0zM1200.3 568.9h4.9v4.9h-4.9zM1191.2 600.4h3.6v3.6h-3.6zM1209.1 624.7h3.9v3.9h-3.9zM1159.6 771.2h2.0v2.0h-2.0zM1190.8 655.9h3.1v3.1h-3.1zM1214.1 554.9h4.4v4.4h-4.4zM1184.4 664.9h3.1v3.1h-3.1zM1183.1 656.1h3.0v3.0h-3.0zM1224.6 552.8h5.4v5.4h-5.4zM1223.6 563.6h4.8v4.8h-4.8zM1185.1 719.3h2.4v2.4h-2.4zM1181.6 685.6h2.5v2.5h-2.5zM1194.0 591.5h4.2v4.2h-4.2zM1156.1 772.8h1.9v1.9h-1.9zM1167.4 761.3h2.1v2.1h-2.1zM1196.0 575.5h4.2v4.2h-4.2zM1172.2 734.3h2.2v2.2h-2.2zM1163.0 780.0h1.9v1.9h-1.9zM1198.1 549.7h5.0v5.0h-5.0zM1213.4 726.3h2.6v2.6h-2.6zM1220.4 554.7h5.3v5.3h-5.3zM1187.9 697.7h2.7v2.7h-2.7zM1207.6 556.1h5.8v5.8h-5.8zM1205.3 666.2h3.1v3.1h-3.1zM1200.0 608.9h3.4v3.4h-3.4zM1188.3 688.9h2.7v2.7h-2.7zM1183.4 656.3h2.7v2.7h-2.7zM1179.5 719.3h2.4v2.4h-2.4zM1160.8 770.4h2.0v2.0h-2.0zM1192.3 592.8h3.3v3.3h-3.3zM1194.5 617.9h3.8v3.8h-3.8zM1158.9 767.4h1.9v1.9h-1.9zM1195.3 622.3h3.6v3.6h-3.6zM1195.7 587.1h3.8v3.8h-3.8zM1170.7 736.7h2.2v2.2h-2.2zM1233.1 571.9h5.9v5.9h-5.9zM1212.8 630.5h4.3v4.3h-4.3zM1189.5 630.2h3.8v3.8h-3.8zM1201.2 559.1h5.3v5.3h-5.3zM1186.2 625.5h3.3v3.3h-3.3zM1200.1 594.5h4.5v4.5h-4.5zM1203.1 641.0h3.8v3.8h-3.8zM1167.4 749.2h2.2v2.2h-2.2zM1182.9 675.0h2.6v2.6h-2.6zM1180.3 684.2h3.0v3.0h-3.0zM1195.0 579.6h4.4v4.4h-4.4zM1198.4 562.5h3.7v3.7h-3.7zM1183.7 662.1h3.0v3.0h-3.0zM1195.9 544.9h5.3v5.3h-5.3zM1211.3 585.3h5.6v5.6h-5.6zM1201.1 612.0h4.6v4.6h-4.6zM1161.0 777.2h1.9v1.9h-1.9zM1186.7 651.1h3.4v3.4h-3.4zM1225.6 637.7h3.9v3.9h-3.9zM1187.2 652.8h2.9v2.9h-2.9zM1191.9 650.7h3.2v3.2h-3.2zM1177.5 702.7h2.6v2.6h-2.6zM1208.0 550.6h5.4v5.4h-5.4zM1170.3 750.2h2.0v2.0h-2.0zM1185.1 634.8h3.4v3.4h-3.4zM1195.9 691.9h3.2v3.2h-3.2zM1200.9 657.5h3.6v3.6h-3.6zM1199.8 565.8h5.1v5.1h-5.1zM1190.8 609.8h3.4v3.4h-3.4zM1186.4 679.6h3.1v3.1h-3.1zM1179.6 691.7h2.6v2.6h-2.6zM1200.8 630.6h4.1v4.1h-4.1zM1181.5 666.8h3.1v3.1h-3.1zM1195.9 589.8h4.7v4.7h-4.7zM1198.2 684.1h3.2v3.2h-3.2zM1238.2 565.2h5.6v5.6h-5.6zM1186.2 667.3h2.7v2.7h-2.7zM1166.9 752.9h2.0v2.0h-2.0zM1218.2 649.5h4.1v4.1h-4.1zM1190.4 690.7h2.5v2.5h-2.5zM1220.9 541.1h6.7v6.7h-6.7zM1189.8 703.7h2.7v2.7h-2.7zM1185.7 687.7h2.6v2.6h-2.6zM1193.0 630.4h3.8v3.8h-3.8zM1214.8 546.8h5.5v5.5h-5.5zM1172.2 729.7h2.2v2.2h-2.2zM1156.3 779.9h1.9v1.9h-1.9zM1187.2 653.9h2.8v2.8h-2.8zM1183.8 719.9h2.3v2.3h-2.3zM1158.4 770.1h1.9v1.9h-1.9zM1210.6 618.7h4.7v4.7h-4.7zM1162.7 763.2h2.0v2.0h-2.0zM1164.6 760.8h2.0v2.0h-2.0zM1166.1 768.0h2.0v2.0h-2.0zM1184.7 634.8h3.1v3.1h-3.1zM1188.4 649.3h3.3v3.3h-3.3zM1194.5 616.1h3.8v3.8h-3.8zM1192.5 660.1h3.0v3.0h-3.0zM1165.6 758.3h2.1v2.1h-2.1zM1178.8 699.5h2.5v2.5h-2.5zM1196.3 584.1h3.5v3.5h-3.5zM1180.0 678.6h2.7v2.7h-2.7zM1186.6 638.3h3.1v3.1h-3.1zM1192.8 754.0h2.3v2.3h-2.3zM1184.4 674.2h2.8v2.8h-2.8zM1245.0 562.4h6.3v6.3h-6.3zM1177.8 695.7h2.7v2.7h-2.7zM1189.0 715.2h2.8v2.8h-2.8zM1208.6 554.2h5.9v5.9h-5.9zM1174.8 734.5h2.2v2.2h-2.2zM1191.2 667.6h3.4v3.4h-3.4zM1197.8 636.3h3.9v3.9h-3.9zM1173.4 767.3h2.0v2.0h-2.0zM1193.8 606.2h4.0v4.0h-4.0zM1180.0 681.1h2.8v2.8h-2.8zM1205.2 541.4h5.8v5.8h-5.8zM1199.1 581.3h4.5v4.5h-4.5zM1175.3 756.0h2.1v2.1h-2.1zM1175.7 768.7h2.0v2.0h-2.0zM1187.0 617.4h3.8v3.8h-3.8zM1208.4 585.9h4.1v4.1h-4.1zM1193.5 658.3h3.3v3.3h-3.3zM1165.4 753.8h2.1v2.1h-2.1zM1164.7 753.3h2.1v2.1h-2.1zM1192.2 622.9h4.1v4.1h-4.1zM1218.2 572.6h4.6v4.6h-4.6zM1214.4 638.8h4.6v4.6h-4.6zM1184.8 636.5h3.0v3.0h-3.0zM1221.7 551.6h5.1v5.1h-5.1zM1187.2 676.6h3.1v3.1h-3.1zM1146.4 780.1h1.9v1.9h-1.9zM1202.6 546.8h4.5v4.5h-4.5zM1198.7 544.2h4.9v4.9h-4.9zM1189.2 671.8h3.2v3.2h-3.2zM1185.0 650.3h2.8v2.8h-2.8zM1216.6 603.6h4.2v4.2h-4.2zM1182.6 748.4h2.2v2.2h-2.2zM1186.0 668.6h2.8v2.8h-2.8zM1199.7 578.6h4.2v4.2h-4.2zM1177.8 716.6h2.2v2.2h-2.2zM1178.2 694.4h2.5v2.5h-2.5zM1204.3 565.8h4.1v4.1h-4.1zM1197.2 571.8h4.9v4.9h-4.9zM1194.6 538.5h4.8v4.8h-4.8zM1197.8 547.4h5.0v5.0h-5.0zM1198.7 621.7h3.7v3.7h-3.7zM1216.3 590.1h5.7v5.7h-5.7zM1185.7 650.7h2.9v2.9h-2.9zM1212.0 683.5h3.7v3.7h-3.7zM1152.0 777.2h1.9v1.9h-1.9zM1182.2 692.3h2.5v2.5h-2.5zM1163.5 764.7h2.0v2.0h-2.0zM1183.5 639.1h3.0v3.0h-3.0zM1192.2 631.0h3.4v3.4h-3.4zM1183.6 677.0h2.8v2.8h-2.8zM1208.6 558.4h5.8v5.8h-5.8zM1188.5 632.8h3.0v3.0h-3.0zM1184.4 640.9h2.9v2.9h-2.9zM1177.7 716.2h2.3v2.3h-2.3zM1207.2 543.6h6.0v6.0h-6.0zM1223.3 680.4h4.2v4.2h-4.2zM1153.3 778.9h1.9v1.9h-1.9zM1146.4 779.9h1.9v1.9h-1.9zM1135.9 784.7h1.8v1.8h-1.8zM1191.9 619.4h4.1v4.1h-4.1zM1181.6 689.7h2.6v2.6h-2.6zM1197.3 633.5h4.0v4.0h-4.0zM1193.6 599.3h4.0v4.0h-4.0zM1191.6 599.7h3.5v3.5h-3.5zM1197.3 553.0h4.6v4.6h-4.6zM1188.6 776.4h2.1v2.1h-2.1zM1208.3 578.4h4.3v4.3h-4.3zM1196.6 625.4h4.0v4.0h-4.0zM1196.4 645.4h3.6v3.6h-3.6zM1183.7 681.1h2.8v2.8h-2.8zM1200.6 556.2h4.4v4.4h-4.4zM1202.3 624.6h3.5v3.5h-3.5zM1199.6 554.7h4.2v4.2h-4.2zM1209.7 625.5h4.3v4.3h-4.3zM1214.9 573.3h5.1v5.1h-5.1zM1196.7 589.3h3.5v3.5h-3.5zM1193.3 581.9h4.6v4.6h-4.6zM1183.3 643.7h3.4v3.4h-3.4zM1174.5 732.7h2.4v2.4h-2.4zM1190.9 655.6h3.6v3.6h-3.6zM1203.1 640.3h3.2v3.2h-3.2zM1177.2 722.3h2.5v2.5h-2.5zM1200.8 590.8h3.6v3.6h-3.6zM1140.1 783.7h1.9v1.9h-1.9zM1180.9 659.8h3.0v3.0h-3.0zM1178.3 730.4h2.3v2.3h-2.3zM1181.9 650.3h2.7v2.7h-2.7zM1180.8 669.7h2.9v2.9h-2.9zM1172.6 733.7h2.3v2.3h-2.3zM1203.5 595.2h4.3v4.3h-4.3zM1210.7 715.0h2.9v2.9h-2.9zM1184.4 696.6h2.5v2.5h-2.5zM1179.6 690.7h2.6v2.6h-2.6zM1175.6 742.6h2.3v2.3h-2.3zM1196.6 657.9h3.1v3.1h-3.1zM1208.4 630.2h3.8v3.8h-3.8zM1189.8 606.8h3.6v3.6h-3.6zM1204.7 609.8h4.4v4.4h-4.4zM1226.6 564.1h6.8v6.8h-6.8zM1189.1 638.4h3.0v3.0h-3.0zM1196.3 580.3h4.1v4.1h-4.1zM1204.4 575.3h4.2v4.2h-4.2zM1157.0 772.3h1.9v1.9h-1.9zM1187.4 627.4h3.6v3.6h-3.6zM1187.1 615.7h3.8v3.8h-3.8zM1158.1 768.0h2.0v2.0h-2.0zM1166.0 755.1h2.0v2.0h-2.0zM1186.7 619.8h3.7v3.7h-3.7zM1198.9 553.6h4.1v4.1h-4.1zM1202.3 539.9h5.1v5.1h-5.1zM1197.2 669.6h3.1v3.1h-3.1zM1183.6 680.2h2.7v2.7h-2.7zM1181.3 652.4h3.0v3.0h-3.0zM1189.7 657.0h2.8v2.8h-2.8zM1178.6 721.3h2.4v2.4h-2.4zM1186.0 636.8h3.5v3.5h-3.5zM1184.4 636.8h3.0v3.0h-3.0zM1172.5 747.0h2.2v2.2h-2.2zM1184.8 677.8h2.8v2.8h-2.8zM1185.5 721.0h2.6v2.6h-2.6zM1181.1 659.2h2.7v2.7h-2.7zM1199.1 589.4h4.3v4.3h-4.3zM1201.3 569.5h4.4v4.4h-4.4zM1179.4 685.9h2.7v2.7h-2.7zM1227.3 591.2h5.2v5.2h-5.2zM1201.9 562.0h4.0v4.0h-4.0zM1181.6 724.5h2.6v2.6h-2.6zM1180.6 660.2h3.0v3.0h-3.0zM1184.5 658.7h2.9v2.9h-2.9zM1151.0 777.7h1.9v1.9h-1.9zM1179.6 753.4h2.1v2.1h-2.1zM1218.4 558.0h4.8v4.8h-4.8zM1167.7 748.7h2.1v2.1h-2.1zM1197.0 670.7h3.4v3.4h-3.4zM1194.8 623.4h3.5v3.5h-3.5zM1181.1 697.9h2.5v2.5h-2.5zM1193.5 629.7h3.1v3.1h-3.1zM1178.7 737.2h2.2v2.2h-2.2zM1176.9 720.9h2.3v2.3h-2.3zM1199.8 669.8h3.5v3.5h-3.5zM1172.6 742.1h2.2v2.2h-2.2zM1148.6 779.1h1.9v1.9h-1.9zM1165.1 755.8h2.0v2.0h-2.0zM1202.4 560.2h4.4v4.4h-4.4zM1153.8 775.6h1.9v1.9h-1.9zM1161.4 764.0h2.0v2.0h-2.0zM1192.5 666.6h3.1v3.1h-3.1zM1171.6 760.0h2.1v2.1h-2.1zM1170.7 748.2h2.2v2.2h-2.2zM1154.6 778.4h1.9v1.9h-1.9zM1201.7 585.3h4.4v4.4h-4.4zM1191.0 604.5h4.0v4.0h-4.0zM1189.3 644.2h3.6v3.6h-3.6zM1228.8 552.4h6.4v6.4h-6.4zM1188.3 660.2h3.4v3.4h-3.4zM1179.1 716.3h2.6v2.6h-2.6zM1187.2 631.9h3.5v3.5h-3.5zM1177.5 707.9h2.3v2.3h-2.3zM1190.8 605.7h4.2v4.2h-4.2zM1181.4 743.6h2.2v2.2h-2.2zM1186.5 686.5h3.1v3.1h-3.1zM1176.9 699.0h2.5v2.5h-2.5zM1198.5 583.7h4.1v4.1h-4.1zM1181.2 748.5h2.3v2.3h-2.3zM1167.3 762.0h2.0v2.0h-2.0zM1178.6 720.3h2.3v2.3h-2.3zM1234.9 611.3h5.0v5.0h-5.0zM1170.3 737.9h2.1v2.1h-2.1zM1215.6 618.1h4.1v4.1h-4.1zM1199.7 624.4h3.9v3.9h-3.9zM1171.2 753.4h2.0v2.0h-2.0zM1181.0 676.5h2.5v2.5h-2.5zM1184.0 694.6h2.6v2.6h-2.6zM1198.1 584.8h3.7v3.7h-3.7zM1189.1 672.9h2.7v2.7h-2.7zM1189.9 713.5h2.7v2.7h-2.7zM1181.8 660.4h3.2v3.2h-3.2zM1165.5 752.9h2.1v2.1h-2.1zM1154.2 775.9h1.9v1.9h-1.9zM1192.3 709.5h2.9v2.9h-2.9zM1159.1 778.8h1.9v1.9h-1.9zM1161.0 768.6h2.0v2.0h-2.0zM1210.8 587.1h4.5v4.5h-4.5zM1203.9 663.6h3.2v3.2h-3.2zM1180.0 675.1h3.0v3.0h-3.0zM1180.7 679.2h2.9v2.9h-2.9zM1246.6 568.9h5.5v5.5h-5.5zM1196.7 554.0h5.3v5.3h-5.3zM1195.1 660.3h3.4v3.4h-3.4zM1196.6 619.4h3.7v3.7h-3.7zM1188.0 622.0h3.0v3.0h-3.0zM1194.3 633.4h3.4v3.4h-3.4zM1169.5 771.6h2.0v2.0h-2.0zM1177.7 705.9h2.5v2.5h-2.5zM1160.0 765.9h1.9v1.9h-1.9zM1186.4 661.6h3.0v3.0h-3.0zM1201.8 636.9h3.3v3.3h-3.3zM1168.3 772.7h2.0v2.0h-2.0zM1173.0 741.3h2.1v2.1h-2.1zM1166.6 753.2h2.0v2.0h-2.0zM1186.6 627.4h3.7v3.7h-3.7zM1180.3 672.9h2.7v2.7h-2.7zM1182.1 727.8h2.2v2.2h-2.2zM1205.6 691.6h3.3v3.3h-3.3zM1201.5 615.5h3.9v3.9h-3.9zM1194.9 692.3h2.7v2.7h-2.7zM1200.0 552.8h3.9v3.9h-3.9zM1199.4 611.8h3.6v3.6h-3.6zM1194.1 720.8h2.4v2.4h-2.4zM1161.6 759.5h2.0v2.0h-2.0zM1191.9 601.0h3.2v3.2h-3.2zM1217.7 555.7h4.6v4.6h-4.6zM1206.2 539.3h6.0v6.0h-6.0zM1180.0 680.8h3.0v3.0h-3.0zM1169.3 754.9h2.1v2.1h-2.1zM1193.3 615.4h3.8v3.8h-3.8zM1206.9 627.7h4.6v4.6h-4.6zM1148.6 779.9h1.9v1.9h-1.9zM1244.0 544.3h7.4v7.4h-7.4zM1188.5 651.9h3.3v3.3h-3.3zM1211.4 544.1h5.6v5.6h-5.6zM1190.7 633.3h3.5v3.5h-3.5zM1191.4 733.8h2.3v2.3h-2.3zM1175.2 717.1h2.5v2.5h-2.5zM1188.6 688.1h2.9v2.9h-2.9zM1158.3 769.4h1.9v1.9h-1.9zM1187.3 681.3h2.6v2.6h-2.6zM1178.0 738.6h2.2v2.2h-2.2zM1203.5 537.9h5.3v5.3h-5.3zM1180.7 670.7h2.6v2.6h-2.6zM1181.7 685.3h2.5v2.5h-2.5zM1185.6 659.5h3.2v3.2h-3.2zM1180.9 678.2h2.6v2.6h-2.6zM1183.7 666.0h3.0v3.0h-3.0zM1164.6 755.4h2.0v2.0h-2.0zM1200.8 549.0h5.5v5.5h-5.5zM1184.2 700.9h2.7v2.7h-2.7zM1208.5 586.6h4.8v4.8h-4.8zM1162.2 762.8h2.0v2.0h-2.0zM1164.6 757.5h2.1v2.1h-2.1zM1186.5 728.7h2.4v2.4h-2.4zM1179.9 697.5h2.4v2.4h-2.4zM1179.3 689.2h2.7v2.7h-2.7zM1194.2 587.3h4.3v4.3h-4.3zM1203.7 577.5h5.2v5.2h-5.2zM1185.8 700.7h2.4v2.4h-2.4zM1176.4 701.2h2.4v2.4h-2.4zM1188.4 663.7h3.3v3.3h-3.3zM1193.5 593.7h3.7v3.7h-3.7zM1180.7 678.7h2.5v2.5h-2.5zM1190.8 652.7h3.6v3.6h-3.6zM1175.2 714.0h2.2v2.2h-2.2zM1199.8 642.1h4.0v4.0h-4.0zM1199.2 616.2h4.1v4.1h-4.1zM1190.9 641.7h2.9v2.9h-2.9zM1179.1 740.0h2.3v2.3h-2.3zM1210.3 542.9h4.5v4.5h-4.5zM1182.4 656.3h3.3v3.3h-3.3zM1188.5 622.2h3.4v3.4h-3.4zM1197.3 572.9h4.7v4.7h-4.7zM1177.1 693.8h2.6v2.6h-2.6zM1172.0 741.4h2.2v2.2h-2.2zM1197.0 641.0h3.2v3.2h-3.2zM1190.2 633.7h3.6v3.6h-3.6zM1179.2 745.2h2.3v2.3h-2.3zM1157.4 771.1h2.0v2.0h-2.0zM1201.0 582.6h4.3v4.3h-4.3zM1216.1 600.8h4.4v4.4h-4.4zM1178.7 720.0h2.4v2.4h-2.4zM1167.2 774.6h2.0v2.0h-2.0zM1216.0 561.4h4.3v4.3h-4.3zM1192.9 604.4h4.0v4.0h-4.0zM1195.7 632.5h4.0v4.0h-4.0zM1182.7 649.3h3.4v3.4h-3.4zM1179.0 738.0h2.3v2.3h-2.3zM1175.4 709.8h2.3v2.3h-2.3zM1195.6 628.1h3.4v3.4h-3.4zM1183.8 639.3h3.5v3.5h-3.5zM1194.8 648.7h3.4v3.4h-3.4zM1199.2 542.5h4.3v4.3h-4.3zM1185.0 700.5h2.8v2.8h-2.8zM1171.7 747.7h2.2v2.2h-2.2zM1167.8 774.1h2.0v2.0h-2.0zM1156.5 771.9h1.9v1.9h-1.9zM1204.1 570.7h4.5v4.5h-4.5zM1191.0 601.3h3.6v3.6h-3.6zM1180.3 665.2h2.7v2.7h-2.7zM1172.7 742.4h2.1v2.1h-2.1zM1134.5 786.9h1.8v1.8h-1.8zM1184.5 775.2h2.1v2.1h-2.1zM1200.5 539.8h4.1v4.1h-4.1zM1165.0 760.1h2.0v2.0h-2.0zM1193.5 724.4h2.6v2.6h-2.6zM1172.4 755.6h2.1v2.1h-2.1zM1211.9 556.1h4.6v4.6h-4.6zM1176.8 723.0h2.4v2.4h-2.4zM1195.3 577.9h3.8v3.8h-3.8zM1204.9 558.7h4.0v4.0h-4.0zM1186.9 635.2h3.4v3.4h-3.4zM1215.8 560.4h6.3v6.3h-6.3zM1186.2 632.4h3.1v3.1h-3.1zM1209.1 589.6h5.0v5.0h-5.0zM1178.4 706.1h2.6v2.6h-2.6zM1193.7 623.0h3.3v3.3h-3.3zM1190.7 629.4h3.0v3.0h-3.0zM1145.5 785.8h1.9v1.9h-1.9zM1202.5 553.7h4.4v4.4h-4.4zM1191.4 594.4h3.9v3.9h-3.9zM1170.0 772.3h2.0v2.0h-2.0zM1218.8 558.4h4.8v4.8h-4.8zM1195.0 653.8h3.3v3.3h-3.3zM1182.0 649.6h3.2v3.2h-3.2zM1195.6 576.1h4.3v4.3h-4.3zM1182.6 640.7h3.5v3.5h-3.5zM1199.6 605.6h4.4v4.4h-4.4zM1156.4 772.8h1.9v1.9h-1.9zM1207.2 540.0h4.5v4.5h-4.5zM1185.4 649.2h3.2v3.2h-3.2zM1183.4 659.6h3.3v3.3h-3.3zM1179.2 712.2h2.3v2.3h-2.3zM1170.9 734.2h2.2v2.2h-2.2zM1180.7 706.6h2.3v2.3h-2.3zM1169.0 754.1h2.0v2.0h-2.0zM1203.6 538.3h5.0v5.0h-5.0zM1210.1 561.5h5.5v5.5h-5.5zM1208.3 569.0h5.3v5.3h-5.3zM1151.5 777.4h1.9v1.9h-1.9zM1217.5 569.2h5.1v5.1h-5.1zM1138.2 786.8h1.9v1.9h-1.9zM1187.5 630.0h3.1v3.1h-3.1zM1186.8 616.2h3.7v3.7h-3.7zM1152.8 777.5h1.9v1.9h-1.9zM1211.2 541.7h5.5v5.5h-5.5zM1173.5 722.8h2.3v2.3h-2.3zM1195.9 549.7h5.4v5.4h-5.4zM1193.3 651.3h3.7v3.7h-3.7zM1186.6 628.2h3.5v3.5h-3.5zM1204.7 585.2h3.8v3.8h-3.8zM1174.4 738.0h2.3v2.3h-2.3zM1179.8 701.1h2.5v2.5h-2.5zM1178.9 688.0h2.6v2.6h-2.6zM1183.3 641.1h3.0v3.0h-3.0zM1175.0 730.5h2.3v2.3h-2.3zM1199.5 549.8h5.5v5.5h-5.5zM1223.1 584.6h5.2v5.2h-5.2zM1194.5 584.0h4.5v4.5h-4.5zM1203.5 756.0h2.2v2.2h-2.2zM1170.4 742.2h2.2v2.2h-2.2zM1185.4 631.5h3.1v3.1h-3.1zM1178.9 679.0h2.7v2.7h-2.7zM1187.1 629.4h3.5v3.5h-3.5zM1184.4 656.6h2.8v2.8h-2.8zM1201.7 538.6h5.2v5.2h-5.2zM1169.9 741.2h2.2v2.2h-2.2zM1182.8 712.5h2.3v2.3h-2.3zM1155.9 773.1h2.0v2.0h-2.0zM1205.4 577.0h4.9v4.9h-4.9zM1161.3 765.0h2.0v2.0h-2.0zM1179.1 695.8h2.8v2.8h-2.8zM1196.3 680.3h3.4v3.4h-3.4zM1168.9 749.6h2.0v2.0h-2.0zM1189.7 689.1h3.0v3.0h-3.0zM1195.6 689.5h2.9v2.9h-2.9zM1199.8 603.0h4.7v4.7h-4.7zM1185.3 657.4h3.4v3.4h-3.4zM1181.3 678.9h2.8v2.8h-2.8zM1181.0 687.1h2.8v2.8h-2.8zM1187.1 633.5h3.7v3.7h-3.7zM1187.5 691.0h2.5v2.5h-2.5zM1197.5 595.0h4.1v4.1h-4.1zM1204.2 585.9h3.9v3.9h-3.9zM1190.0 603.6h3.7v3.7h-3.7zM1172.0 759.4h2.1v2.1h-2.1zM1189.8 612.4h4.1v4.1h-4.1zM1172.0 742.2h2.2v2.2h-2.2zM1203.2 544.6h5.5v5.5h-5.5zM1181.4 699.3h2.7v2.7h-2.7zM1168.7 776.5h1.9v1.9h-1.9zM1156.1 772.4h2.0v2.0h-2.0zM1173.9 747.1h2.2v2.2h-2.2zM1175.9 726.5h2.2v2.2h-2.2zM1178.6 717.8h2.4v2.4h-2.4zM1175.1 737.6h2.2v2.2h-2.2zM1187.2 620.0h3.8v3.8h-3.8zM1168.9 754.8h2.1v2.1h-2.1zM1206.7 563.6h5.6v5.6h-5.6zM1208.8 576.9h5.0v5.0h-5.0zM1158.0 769.4h1.9v1.9h-1.9zM1214.1 537.5h5.5v5.5h-5.5zM1203.0 612.6h4.1v4.1h-4.1zM1164.8 760.4h2.0v2.0h-2.0zM1157.9 778.4h1.9v1.9h-1.9zM1194.2 649.1h3.4v3.4h-3.4zM1204.8 700.2h3.3v3.3h-3.3zM1202.1 610.1h4.1v4.1h-4.1zM1203.7 599.2h4.1v4.1h-4.1zM1199.1 560.8h3.9v3.9h-3.9zM1174.8 712.6h2.5v2.5h-2.5zM1175.4 758.4h2.1v2.1h-2.1zM1195.7 636.5h3.0v3.0h-3.0zM1182.5 687.3h2.5v2.5h-2.5zM1193.7 644.6h3.2v3.2h-3.2zM1188.2 616.0h3.7v3.7h-3.7zM1197.2 575.6h5.0v5.0h-5.0zM1191.6 687.7h3.0v3.0h-3.0zM1190.9 602.1h4.0v4.0h-4.0zM1190.4 658.2h3.4v3.4h-3.4zM1182.9 743.2h2.2v2.2h-2.2zM1135.4 784.9h1.8v1.8h-1.8zM1188.1 683.4h3.0v3.0h-3.0zM1189.9 664.4h3.3v3.3h-3.3zM1182.0 699.7h2.8v2.8h-2.8zM1189.4 622.1h3.8v3.8h-3.8zM1192.1 616.6h3.5v3.5h-3.5zM1181.6 648.7h3.3v3.3h-3.3zM1197.2 728.4h2.4v2.4h-2.4zM1197.8 565.6h4.8v4.8h-4.8zM1188.4 732.5h2.4v2.4h-2.4zM1176.6 708.5h2.5v2.5h-2.5zM1183.2 698.8h2.8v2.8h-2.8zM1201.9 567.1h5.0v5.0h-5.0zM1160.3 770.6h2.0v2.0h-2.0zM1237.1 574.8h6.3v6.3h-6.3zM1194.1 592.4h4.1v4.1h-4.1zM1171.9 740.7h2.1v2.1h-2.1zM1185.2 651.4h2.9v2.9h-2.9zM1214.2 546.4h6.0v6.0h-6.0zM1169.5 741.7h2.1v2.1h-2.1zM1194.0 611.7h4.0v4.0h-4.0zM1219.5 578.1h4.8v4.8h-4.8zM1187.6 667.6h3.3v3.3h-3.3zM1185.8 640.8h3.6v3.6h-3.6zM1169.4 747.1h2.1v2.1h-2.1zM1198.4 545.8h5.4v5.4h-5.4zM1198.7 580.0h3.8v3.8h-3.8zM1201.5 539.0h4.3v4.3h-4.3zM1211.9 569.3h5.7v5.7h-5.7zM1185.8 655.5h2.8v2.8h-2.8zM1158.0 768.5h1.9v1.9h-1.9zM1165.1 764.2h2.0v2.0h-2.0zM1177.1 732.0h2.3v2.3h-2.3zM1162.3 770.0h2.0v2.0h-2.0zM1193.8 593.1h3.8v3.8h-3.8zM1197.6 574.8h3.7v3.7h-3.7zM1169.5 741.4h2.2v2.2h-2.2zM1143.8 784.7h1.9v1.9h-1.9zM1183.3 660.9h3.0v3.0h-3.0zM1199.0 595.7h3.8v3.8h-3.8zM1184.6 697.3h2.4v2.4h-2.4zM1183.0 677.2h2.9v2.9h-2.9zM1192.9 706.4h2.6v2.6h-2.6zM1185.4 635.0h3.3v3.3h-3.3zM1144.1 783.8h1.9v1.9h-1.9zM1194.9 618.7h3.3v3.3h-3.3zM1218.3 566.8h4.3v4.3h-4.3zM1208.2 648.3h3.7v3.7h-3.7zM1196.8 589.5h4.7v4.7h-4.7zM1248.4 541.6h7.4v7.4h-7.4zM1169.5 750.9h2.0v2.0h-2.0zM1182.3 695.0h2.8v2.8h-2.8zM1184.7 704.2h2.5v2.5h-2.5zM1172.9 743.9h2.1v2.1h-2.1zM1206.0 644.4h4.0v4.0h-4.0zM1205.5 540.9h5.1v5.1h-5.1zM1184.3 645.8h3.0v3.0h-3.0zM1177.0 718.4h2.5v2.5h-2.5zM1179.3 681.0h2.8v2.8h-2.8zM1190.7 612.6h3.2v3.2h-3.2zM1181.9 694.5h2.6v2.6h-2.6zM1197.2 571.5h3.7v3.7h-3.7zM1214.7 575.0h5.2v5.2h-5.2zM1202.5 715.1h2.6v2.6h-2.6zM1149.0 783.2h1.9v1.9h-1.9zM1194.4 581.2h3.5v3.5h-3.5zM1195.7 636.0h3.1v3.1h-3.1zM1190.9 616.3h3.8v3.8h-3.8zM1192.4 588.8h4.2v4.2h-4.2zM1182.2 716.5h2.3v2.3h-2.3zM1168.8 772.1h2.0v2.0h-2.0zM1197.9 555.8h3.8v3.8h-3.8zM1182.1 736.3h2.5v2.5h-2.5zM1183.6 666.4h2.7v2.7h-2.7zM1188.9 752.9h2.1v2.1h-2.1zM1203.9 569.4h5.5v5.5h-5.5zM1177.1 705.9h2.4v2.4h-2.4zM1182.4 657.9h3.2v3.2h-3.2zM1216.8 571.4h5.0v5.0h-5.0zM1190.2 651.7h3.0v3.0h-3.0zM1143.9 783.0h1.9v1.9h-1.9zM1185.2 624.6h3.3v3.3h-3.3zM1185.1 629.0h3.3v3.3h-3.3zM1221.7 552.7h4.9v4.9h-4.9zM1200.3 625.2h3.9v3.9h-3.9zM1197.4 554.1h4.1v4.1h-4.1zM1180.7 687.6h2.6v2.6h-2.6zM1191.9 660.0h3.0v3.0h-3.0zM1174.9 726.9h2.4v2.4h-2.4zM1182.3 680.7h2.9v2.9h-2.9zM1187.8 631.1h3.3v3.3h-3.3zM1195.6 625.9h3.1v3.1h-3.1zM1195.5 715.8h2.7v2.7h-2.7zM1199.7 612.1h3.9v3.9h-3.9zM1136.0 784.7h1.8v1.8h-1.8zM1193.5 626.4h4.1v4.1h-4.1zM1157.3 779.3h1.9v1.9h-1.9zM1197.5 589.0h4.3v4.3h-4.3zM1189.9 640.6h3.3v3.3h-3.3zM1205.2 617.6h4.1v4.1h-4.1zM1201.7 563.9h4.4v4.4h-4.4zM1211.6 556.2h4.8v4.8h-4.8zM1223.9 542.0h5.9v5.9h-5.9zM1194.8 651.6h3.1v3.1h-3.1zM1159.1 779.7h1.9v1.9h-1.9zM1172.4 728.5h2.4v2.4h-2.4zM1196.5 651.7h3.8v3.8h-3.8zM1207.0 669.5h3.0v3.0h-3.0zM1194.7 617.9h3.5v3.5h-3.5zM1198.8 578.0h3.8v3.8h-3.8zM1176.6 713.8h2.3v2.3h-2.3zM1180.0 712.7h2.3v2.3h-2.3zM1196.1 546.1h5.2v5.2h-5.2zM1182.2 659.6h3.1v3.1h-3.1zM1181.8 649.9h2.7v2.7h-2.7zM1194.0 620.1h3.8v3.8h-3.8zM1195.0 621.8h4.0v4.0h-4.0zM1219.3 631.5h4.9v4.9h-4.9zM1192.2 691.2h2.8v2.8h-2.8zM1182.7 647.4h2.7v2.7h-2.7zM1156.9 768.6h2.0v2.0h-2.0zM1180.0 676.2h2.8v2.8h-2.8zM1207.4 595.6h4.5v4.5h-4.5zM1184.8 652.0h3.1v3.1h-3.1zM1169.9 737.8h2.2v2.2h-2.2zM1179.2 701.0h2.7v2.7h-2.7zM1194.9 576.7h4.2v4.2h-4.2zM1184.7 630.7h2.9v2.9h-2.9zM1211.1 614.4h5.0v5.0h-5.0zM1197.0 620.2h3.8v3.8h-3.8zM1209.5 708.1h2.8v2.8h-2.8zM1179.5 748.4h2.2v2.2h-2.2zM1184.0 684.6h2.9v2.9h-2.9zM1194.0 585.2h3.5v3.5h-3.5zM1182.4 694.9h2.5v2.5h-2.5zM1207.6 574.7h5.6v5.6h-5.6zM1197.7 552.7h4.2v4.2h-4.2zM1169.7 752.4h2.2v2.2h-2.2zM1177.5 719.5h2.4v2.4h-2.4zM1201.0 589.2h4.2v4.2h-4.2zM1227.2 605.1h5.4v5.4h-5.4zM1184.0 674.6h2.7v2.7h-2.7zM1191.5 642.7h3.0v3.0h-3.0zM1215.1 557.2h5.7v5.7h-5.7zM1192.9 669.6h3.3v3.3h-3.3zM1173.9 726.3h2.2v2.2h-2.2zM1190.0 707.1h2.5v2.5h-2.5zM1176.3 731.7h2.2v2.2h-2.2zM1196.1 568.7h4.9v4.9h-4.9zM1182.8 674.4h2.9v2.9h-2.9zM1203.1 560.8h5.0v5.0h-5.0zM1207.9 552.0h5.4v5.4h-5.4zM1190.1 683.9h3.2v3.2h-3.2zM1199.2 673.8h3.1v3.1h-3.1zM1138.4 784.1h1.9v1.9h-1.9zM1211.8 610.2h3.8v3.8h-3.8zM1192.8 709.5h2.7v2.7h-2.7zM1203.0 683.8h3.5v3.5h-3.5zM1184.1 647.5h2.8v2.8h-2.8zM1215.3 549.9h6.5v6.5h-6.5zM1203.4 702.4h3.0v3.0h-3.0zM1182.9 692.6h2.6v2.6h-2.6zM1197.6 582.3h4.9v4.9h-4.9zM1187.8 728.1h2.4v2.4h-2.4zM1206.3 550.9h4.9v4.9h-4.9zM1153.0 776.3h1.9v1.9h-1.9zM1200.6 538.8h5.1v5.1h-5.1zM1184.0 641.2h3.1v3.1h-3.1zM1172.4 725.2h2.4v2.4h-2.4zM1137.9 784.4h1.8v1.8h-1.8zM1185.9 642.8h3.5v3.5h-3.5zM1140.4 783.7h1.9v1.9h-1.9zM1199.5 633.4h3.4v3.4h-3.4zM1164.2 765.1h2.0v2.0h-2.0zM1186.7 615.2h3.9v3.9h-3.9zM1176.6 748.7h2.2v2.2h-2.2zM1177.9 720.4h2.6v2.6h-2.6zM1170.1 737.6h2.2v2.2h-2.2zM1176.7 706.8h2.4v2.4h-2.4zM1202.1 670.9h3.3v3.3h-3.3zM1170.1 738.6h2.2v2.2h-2.2zM1181.1 654.6h3.0v3.0h-3.0zM1182.7 652.2h3.0v3.0h-3.0zM1165.3 776.1h2.0v2.0h-2.0zM1192.3 616.9h4.1v4.1h-4.1zM1184.1 690.8h2.6v2.6h-2.6zM1185.2 676.6h2.7v2.7h-2.7zM1198.6 561.0h4.5v4.5h-4.5zM1200.6 558.7h4.0v4.0h-4.0zM1187.4 613.3h3.5v3.5h-3.5zM1205.7 553.5h4.1v4.1h-4.1zM1178.8 748.4h2.1v2.1h-2.1zM1184.4 680.4h2.6v2.6h-2.6zM1185.1 643.1h2.8v2.8h-2.8zM1201.8 582.7h4.1v4.1h-4.1zM1174.1 722.8h2.3v2.3h-2.3zM1152.0 780.3h1.9v1.9h-1.9zM1170.0 752.9h2.1v2.1h-2.1zM1163.2 756.1h2.1v2.1h-2.1zM1197.9 552.0h4.6v4.6h-4.6zM1164.0 763.2h2.1v2.1h-2.1zM1176.8 707.4h2.6v2.6h-2.6zM1198.5 574.2h4.2v4.2h-4.2zM1183.6 732.4h2.2v2.2h-2.2zM1212.7 568.0h5.8v5.8h-5.8zM1181.4 673.5h3.0v3.0h-3.0zM1213.8 608.9h4.8v4.8h-4.8zM1187.3 632.3h3.2v3.2h-3.2zM1204.3 582.6h4.1v4.1h-4.1zM1230.3 549.0h5.6v5.6h-5.6zM1197.1 615.8h3.4v3.4h-3.4zM1217.6 665.1h4.1v4.1h-4.1zM1205.9 589.9h4.0v4.0h-4.0zM1181.5 675.5h2.7v2.7h-2.7zM1158.9 780.0h1.9v1.9h-1.9zM1204.2 549.6h4.3v4.3h-4.3zM1174.6 727.1h2.2v2.2h-2.2zM1186.4 686.7h2.6v2.6h-2.6zM1201.2 546.2h5.4v5.4h-5.4zM1209.0 579.4h5.3v5.3h-5.3zM1166.5 750.5h2.1v2.1h-2.1zM1173.3 736.1h2.3v2.3h-2.3zM1195.7 575.2h4.3v4.3h-4.3zM1222.2 580.6h6.2v6.2h-6.2zM1195.4 626.0h3.7v3.7h-3.7zM1200.7 547.5h5.7v5.7h-5.7zM1175.4 732.2h2.3v2.3h-2.3zM1170.4 737.6h2.2v2.2h-2.2zM1156.7 774.5h1.9v1.9h-1.9zM1202.7 634.9h3.9v3.9h-3.9zM1198.7 547.1h5.2v5.2h-5.2zM1230.9 539.0h6.2v6.2h-6.2zM1177.2 725.4h2.4v2.4h-2.4zM1206.5 730.3h2.8v2.8h-2.8zM1168.4 749.9h2.1v2.1h-2.1zM1179.8 706.1h2.7v2.7h-2.7zM1166.7 754.7h2.1v2.1h-2.1zM1206.1 599.2h3.8v3.8h-3.8zM1197.7 686.4h2.9v2.9h-2.9zM1185.4 630.4h2.9v2.9h-2.9zM1166.8 756.1h2.1v2.1h-2.1zM1167.8 752.2h2.1v2.1h-2.1zM1181.9 666.4h3.1v3.1h-3.1zM1195.7 623.4h3.9v3.9h-3.9zM1190.7 668.8h3.0v3.0h-3.0zM1183.6 651.5h3.2v3.2h-3.2zM1180.2 695.6h2.6v2.6h-2.6zM1196.2 655.1h3.1v3.1h-3.1zM1202.8 582.5h4.9v4.9h-4.9zM1185.0 656.3h2.8v2.8h-2.8zM1198.6 542.5h4.0v4.0h-4.0zM1190.2 610.8h3.3v3.3h-3.3zM1193.0 602.7h3.4v3.4h-3.4zM1182.4 704.7h2.4v2.4h-2.4zM1183.0 731.2h2.2v2.2h-2.2zM1146.8 780.3h1.9v1.9h-1.9zM1183.6 694.3h2.6v2.6h-2.6zM1185.5 649.7h2.8v2.8h-2.8zM1129.8 787.3h1.8v1.8h-1.8zM1167.4 760.0h2.0v2.0h-2.0zM1166.0 753.2h2.0v2.0h-2.0zM1160.8 763.6h1.9v1.9h-1.9zM1183.7 632.3h3.5v3.5h-3.5zM1179.8 727.4h2.5v2.5h-2.5zM1181.4 725.1h2.4v2.4h-2.4zM1205.3 586.1h3.9v3.9h-3.9zM1182.5 648.8h3.4v3.4h-3.4zM1171.7 731.8h2.1v2.1h-2.1zM1199.2 538.3h4.2v4.2h-4.2zM1198.6 541.6h4.3v4.3h-4.3zM1178.8 731.1h2.3v2.3h-2.3zM1198.0 616.8h3.5v3.5h-3.5zM1200.8 582.3h4.7v4.7h-4.7zM1190.6 603.5h4.2v4.2h-4.2zM1185.3 648.6h3.3v3.3h-3.3zM1168.2 773.3h2.0v2.0h-2.0zM1139.0 783.7h1.8v1.8h-1.8zM1180.4 695.1h2.8v2.8h-2.8zM1207.2 583.2h5.3v5.3h-5.3zM1199.3 624.0h3.8v3.8h-3.8zM1192.5 616.0h4.0v4.0h-4.0zM1185.0 734.6h2.4v2.4h-2.4zM1201.6 622.6h4.3v4.3h-4.3zM1205.6 551.9h4.7v4.7h-4.7zM1183.3 693.1h2.8v2.8h-2.8zM1190.6 604.4h3.7v3.7h-3.7zM1154.2 773.8h1.9v1.9h-1.9zM1187.8 637.3h3.4v3.4h-3.4zM1174.8 719.0h2.3v2.3h-2.3zM1186.5 686.9h2.8v2.8h-2.8zM1220.8 537.4h5.4v5.4h-5.4zM1133.0 787.1h1.8v1.8h-1.8zM1197.6 571.5h4.2v4.2h-4.2zM1187.8 698.8h2.7v2.7h-2.7zM1199.3 636.2h3.6v3.6h-3.6zM1139.4 783.5h1.9v1.9h-1.9zM1183.7 702.8h2.7v2.7h-2.7zM1179.8 683.8h2.5v2.5h-2.5zM1200.9 615.2h3.6v3.6h-3.6zM1173.7 745.2h2.3v2.3h-2.3zM1191.9 660.7h3.0v3.0h-3.0zM1148.3 779.5h1.9v1.9h-1.9zM1211.0 652.6h4.3v4.3h-4.3zM1214.6 546.6h4.6v4.6h-4.6zM1188.1 645.1h3.5v3.5h-3.5zM1186.1 711.8h2.5v2.5h-2.5zM1182.7 686.4h2.9v2.9h-2.9zM1196.4 649.9h3.1v3.1h-3.1zM1139.5 783.5h1.8v1.8h-1.8zM1205.4 538.6h5.6v5.6h-5.6zM1208.9 549.3h4.3v4.3h-4.3zM1197.3 570.4h4.9v4.9h-4.9zM1185.9 708.7h2.5v2.5h-2.5zM1149.9 778.5h1.9v1.9h-1.9zM1214.5 538.2h6.0v6.0h-6.0zM1181.7 749.4h2.2v2.2h-2.2zM1178.0 748.6h2.1v2.1h-2.1zM1176.9 738.9h2.3v2.3h-2.3zM1183.8 699.2h2.4v2.4h-2.4zM1181.9 742.4h2.1v2.1h-2.1zM1181.7 653.2h2.7v2.7h-2.7zM1209.9 600.9h3.8v3.8h-3.8zM1178.3 682.0h2.9v2.9h-2.9zM1186.2 639.4h3.5v3.5h-3.5zM1196.4 571.0h4.6v4.6h-4.6zM1201.4 565.9h4.5v4.5h-4.5zM1177.3 709.1h2.5v2.5h-2.5zM1219.0 538.0h6.7v6.7h-6.7zM1205.3 542.4h4.2v4.2h-4.2zM1200.1 565.5h4.7v4.7h-4.7zM1146.1 783.6h1.9v1.9h-1.9zM1220.2 588.3h5.2v5.2h-5.2zM1204.1 594.6h4.8v4.8h-4.8zM1188.8 617.7h3.7v3.7h-3.7zM1172.4 780.7h2.0v2.0h-2.0zM1169.9 741.9h2.2v2.2h-2.2zM1163.9 764.1h1.9v1.9h-1.9zM1199.4 550.2h5.4v5.4h-5.4zM1188.1 631.8h3.5v3.5h-3.5zM1199.5 551.2h3.8v3.8h-3.8zM1178.0 698.8h2.4v2.4h-2.4zM1193.8 593.2h3.9v3.9h-3.9zM1194.5 585.9h4.7v4.7h-4.7zM1181.5 722.5h2.3v2.3h-2.3zM1208.9 553.5h4.8v4.8h-4.8zM1197.8 567.3h4.7v4.7h-4.7zM1196.8 547.9h4.7v4.7h-4.7zM1197.1 601.1h3.8v3.8h-3.8zM1177.6 694.0h2.8v2.8h-2.8zM1164.9 762.5h2.0v2.0h-2.0zM1191.9 633.2h3.1v3.1h-3.1zM1185.1 671.1h2.8v2.8h-2.8zM1180.2 699.7h2.7v2.7h-2.7zM1184.8 646.7h3.5v3.5h-3.5zM1221.7 554.8h6.9v6.9h-6.9zM1176.0 712.8h2.3v2.3h-2.3zM1192.0 598.8h3.3v3.3h-3.3zM1191.6 606.5h3.5v3.5h-3.5zM1188.2 616.9h3.3v3.3h-3.3zM1144.2 782.9h1.9v1.9h-1.9zM1176.6 731.5h2.2v2.2h-2.2zM1205.3 578.7h5.4v5.4h-5.4zM1183.6 703.7h2.7v2.7h-2.7zM1177.5 708.5h2.5v2.5h-2.5zM1147.2 779.3h1.9v1.9h-1.9zM1189.2 697.9h2.8v2.8h-2.8zM1133.4 787.7h1.8v1.8h-1.8zM1207.9 607.5h3.9v3.9h-3.9zM1161.7 763.5h2.0v2.0h-2.0zM1215.8 600.2h4.0v4.0h-4.0zM1169.1 742.8h2.1v2.1h-2.1zM1204.0 724.0h2.6v2.6h-2.6zM1174.0 718.8h2.2v2.2h-2.2zM1191.4 656.9h3.5v3.5h-3.5zM1193.6 630.7h3.8v3.8h-3.8zM1233.1 588.6h6.6v6.6h-6.6zM1165.7 755.1h2.1v2.1h-2.1zM1190.9 628.8h3.9v3.9h-3.9zM1187.3 654.1h3.1v3.1h-3.1zM1178.4 712.2h2.6v2.6h-2.6zM1207.7 608.7h4.1v4.1h-4.1zM1187.2 721.1h2.3v2.3h-2.3zM1197.5 585.5h3.5v3.5h-3.5zM1198.2 568.9h4.3v4.3h-4.3zM1181.1 687.0h2.5v2.5h-2.5zM1216.3 584.6h4.1v4.1h-4.1zM1131.6 787.2h1.8v1.8h-1.8zM1178.4 718.8h2.6v2.6h-2.6zM1196.6 600.5h4.6v4.6h-4.6zM1189.3 669.9h3.1v3.1h-3.1zM1205.7 741.6h2.6v2.6h-2.6zM1185.2 630.1h3.7v3.7h-3.7zM1178.2 708.4h2.4v2.4h-2.4zM1212.8 585.7h4.7v4.7h-4.7zM1197.3 556.8h5.1v5.1h-5.1zM1185.5 652.0h3.1v3.1h-3.1zM1171.5 750.5h2.1v2.1h-2.1zM1187.5 630.4h3.1v3.1h-3.1zM1204.4 618.2h4.1v4.1h-4.1zM1188.2 621.8h3.5v3.5h-3.5zM1207.5 544.0h4.6v4.6h-4.6zM1241.2 570.8h6.9v6.9h-6.9zM1208.7 589.7h5.0v5.0h-5.0zM1193.2 694.9h2.9v2.9h-2.9zM1206.4 576.0h3.9v3.9h-3.9zM1188.9 711.5h2.8v2.8h-2.8zM1198.9 650.6h3.0v3.0h-3.0zM1181.9 676.4h2.6v2.6h-2.6zM1169.1 757.4h2.0v2.0h-2.0zM1207.5 564.7h5.0v5.0h-5.0zM1177.8 727.6h2.4v2.4h-2.4zM1205.8 545.9h4.9v4.9h-4.9zM1180.5 676.5h2.9v2.9h-2.9zM1180.9 695.3h2.4v2.4h-2.4zM1150.3 778.5h1.9v1.9h-1.9zM1201.0 556.6h3.9v3.9h-3.9zM1198.6 595.8h4.5v4.5h-4.5zM1225.5 577.4h6.5v6.5h-6.5zM1191.8 642.4h3.5v3.5h-3.5zM1194.7 657.5h3.4v3.4h-3.4zM1172.9 735.2h2.3v2.3h-2.3zM1143.4 783.6h1.9v1.9h-1.9zM1186.8 661.9h3.2v3.2h-3.2zM1174.6 751.7h2.2v2.2h-2.2zM1199.7 669.7h3.5v3.5h-3.5zM1199.5 613.6h3.8v3.8h-3.8zM1187.3 648.5h3.3v3.3h-3.3zM1189.0 731.4h2.4v2.4h-2.4zM1203.5 575.1h4.9v4.9h-4.9zM1190.5 684.7h3.1v3.1h-3.1zM1199.0 546.1h5.4v5.4h-5.4zM1183.1 698.3h2.9v2.9h-2.9zM1231.1 551.0h7.3v7.3h-7.3zM1177.9 702.0h2.6v2.6h-2.6zM1165.8 753.8h2.1v2.1h-2.1zM1177.4 702.3h2.7v2.7h-2.7zM1199.9 595.0h4.2v4.2h-4.2zM1182.4 649.9h3.3v3.3h-3.3zM1186.3 668.3h2.8v2.8h-2.8zM1202.1 573.4h5.1v5.1h-5.1zM1156.3 770.1h1.9v1.9h-1.9zM1185.0 709.7h2.6v2.6h-2.6zM1214.7 628.5h4.2v4.2h-4.2zM1203.4 605.2h4.6v4.6h-4.6zM1160.1 770.0h2.0v2.0h-2.0zM1175.2 725.8h2.2v2.2h-2.2zM1172.2 735.4h2.2v2.2h-2.2zM1171.2 734.7h2.2v2.2h-2.2zM1195.4 608.1h4.2v4.2h-4.2zM1186.0 629.8h2.9v2.9h-2.9zM1202.1 562.7h5.5v5.5h-5.5zM1138.9 786.7h1.8v1.8h-1.8zM1201.5 646.8h3.1v3.1h-3.1zM1185.9 713.4h2.4v2.4h-2.4zM1203.6 579.7h5.2v5.2h-5.2zM1168.5 757.5h2.1v2.1h-2.1zM1206.2 550.2h4.6v4.6h-4.6zM1181.2 655.3h2.7v2.7h-2.7zM1173.5 735.0h2.1v2.1h-2.1zM1203.2 564.9h4.8v4.8h-4.8zM1173.1 727.5h2.3v2.3h-2.3zM1180.6 703.9h2.5v2.5h-2.5zM1171.4 736.3h2.2v2.2h-2.2zM1195.1 576.7h4.3v4.3h-4.3zM1214.4 560.3h5.8v5.8h-5.8zM1211.3 543.3h5.7v5.7h-5.7zM1197.5 609.5h3.6v3.6h-3.6zM1192.3 611.7h3.7v3.7h-3.7zM1185.6 693.9h2.6v2.6h-2.6zM1203.8 598.7h4.1v4.1h-4.1zM1192.2 642.7h3.0v3.0h-3.0zM1192.3 758.6h2.1v2.1h-2.1zM1193.1 654.9h2.9v2.9h-2.9zM1190.1 661.9h2.9v2.9h-2.9zM1193.6 689.5h2.8v2.8h-2.8zM1168.6 757.1h2.0v2.0h-2.0zM1165.7 767.6h2.0v2.0h-2.0zM1200.6 584.3h4.4v4.4h-4.4zM1189.7 632.5h3.3v3.3h-3.3zM1201.3 551.5h5.1v5.1h-5.1zM1192.0 624.2h3.3v3.3h-3.3zM1178.9 689.5h2.6v2.6h-2.6zM1177.2 695.9h2.5v2.5h-2.5zM1200.6 559.4h5.3v5.3h-5.3zM1189.4 747.1h2.3v2.3h-2.3zM1183.6 647.2h2.9v2.9h-2.9zM1183.9 722.9h2.4v2.4h-2.4zM1185.8 718.2h2.6v2.6h-2.6zM1197.2 590.6h3.7v3.7h-3.7zM1189.6 720.5h2.4v2.4h-2.4zM1201.4 662.2h3.1v3.1h-3.1zM1218.2 585.2h4.5v4.5h-4.5zM1145.7 781.0h1.9v1.9h-1.9zM1174.6 725.7h2.3v2.3h-2.3zM1199.4 646.2h3.1v3.1h-3.1zM1204.7 568.2h4.0v4.0h-4.0zM1191.5 615.1h3.7v3.7h-3.7zM1203.0 574.0h4.5v4.5h-4.5zM1199.5 647.0h3.4v3.4h-3.4zM1139.8 786.6h1.9v1.9h-1.9zM1194.9 585.6h4.1v4.1h-4.1zM1191.5 719.6h2.4v2.4h-2.4zM1195.9 584.2h4.7v4.7h-4.7zM1184.0 663.3h3.2v3.2h-3.2zM1193.3 617.5h3.4v3.4h-3.4zM1177.8 710.6h2.3v2.3h-2.3zM1194.7 663.0h3.0v3.0h-3.0zM1211.9 617.4h4.1v4.1h-4.1zM1184.5 649.0h3.4v3.4h-3.4zM1198.6 572.2h4.5v4.5h-4.5zM1184.9 631.5h3.6v3.6h-3.6zM1191.4 624.4h3.4v3.4h-3.4zM1191.4 667.0h3.4v3.4h-3.4zM1186.4 695.7h2.7v2.7h-2.7zM1183.0 637.9h3.4v3.4h-3.4zM1181.6 685.8h2.7v2.7h-2.7zM1230.3 559.5h7.4v7.4h-7.4zM1194.8 605.6h3.9v3.9h-3.9zM1189.4 647.1h3.6v3.6h-3.6zM1203.2 603.8h4.8v4.8h-4.8zM1178.2 711.2h2.6v2.6h-2.6zM1194.1 659.2h3.1v3.1h-3.1zM1192.3 665.3h3.1v3.1h-3.1zM1183.3 710.3h2.7v2.7h-2.7zM1169.1 747.1h2.2v2.2h-2.2zM1157.7 778.6h1.9v1.9h-1.9zM1190.4 647.5h3.3v3.3h-3.3zM1193.7 633.7h3.8v3.8h-3.8zM1185.2 655.1h2.8v2.8h-2.8zM1190.2 711.6h2.7v2.7h-2.7zM1199.4 611.7h3.6v3.6h-3.6zM1158.7 766.9h1.9v1.9h-1.9zM1185.6 674.1h2.8v2.8h-2.8zM1173.5 751.4h2.1v2.1h-2.1zM1190.9 696.4h2.6v2.6h-2.6zM1186.1 645.4h3.3v3.3h-3.3zM1196.0 581.0h4.8v4.8h-4.8zM1226.1 555.2h5.0v5.0h-5.0zM1202.1 584.8h3.9v3.9h-3.9zM1185.3 653.7h3.4v3.4h-3.4zM1177.5 715.9h2.4v2.4h-2.4zM1216.6 650.8h4.5v4.5h-4.5zM1181.8 666.6h2.9v2.9h-2.9zM1174.1 752.5h2.1v2.1h-2.1zM1196.1 569.5h4.4v4.4h-4.4zM1183.9 706.4h2.8v2.8h-2.8zM1199.7 553.8h4.0v4.0h-4.0zM1138.8 784.2h1.9v1.9h-1.9zM1210.5 554.9h5.0v5.0h-5.0zM1173.3 727.8h2.3v2.3h-2.3zM1182.1 704.2h2.6v2.6h-2.6zM1200.1 545.1h5.0v5.0h-5.0zM1185.7 641.1h2.8v2.8h-2.8zM1217.6 607.0h4.1v4.1h-4.1zM1152.1 778.5h1.9v1.9h-1.9zM1186.3 618.5h3.4v3.4h-3.4zM1187.5 723.2h2.3v2.3h-2.3zM1196.7 680.4h3.4v3.4h-3.4zM1194.2 619.5h3.4v3.4h-3.4zM1179.5 676.8h3.0v3.0h-3.0zM1186.7 647.3h3.2v3.2h-3.2zM1192.0 617.5h3.4v3.4h-3.4zM1203.8 626.9h3.6v3.6h-3.6zM1184.4 734.6h2.4v2.4h-2.4zM1186.5 634.0h3.4v3.4h-3.4zM1200.0 635.6h3.5v3.5h-3.5zM1191.9 625.5h3.8v3.8h-3.8zM1202.8 576.9h3.8v3.8h-3.8zM1205.7 596.6h4.0v4.0h-4.0zM1182.1 645.2h3.2v3.2h-3.2zM1187.6 706.0h2.5v2.5h-2.5zM1195.9 636.2h4.0v4.0h-4.0zM1198.1 621.9h3.8v3.8h-3.8zM1201.1 669.0h3.7v3.7h-3.7zM1157.8 771.9h2.0v2.0h-2.0zM1186.1 720.0h2.4v2.4h-2.4zM1174.1 717.3h2.5v2.5h-2.5zM1201.5 677.5h3.0v3.0h-3.0zM1220.9 595.8h6.0v6.0h-6.0zM1180.2 666.8h2.6v2.6h-2.6zM1229.7 631.5h4.2v4.2h-4.2zM1163.8 765.0h2.0v2.0h-2.0zM1206.6 653.4h4.1v4.1h-4.1zM1192.6 680.5h2.8v2.8h-2.8zM1140.7 784.8h1.8v1.8h-1.8zM1177.7 688.9h2.8v2.8h-2.8zM1167.3 749.6h2.1v2.1h-2.1zM1211.2 660.7h4.1v4.1h-4.1zM1175.6 751.3h2.2v2.2h-2.2zM1198.0 591.9h4.5v4.5h-4.5zM1187.3 618.0h3.3v3.3h-3.3zM1181.4 682.8h2.6v2.6h-2.6zM1189.3 618.1h3.7v3.7h-3.7zM1161.2 767.7h2.0v2.0h-2.0zM1230.0 604.5h4.4v4.4h-4.4zM1162.1 778.2h1.9v1.9h-1.9zM1171.2 731.5h2.2v2.2h-2.2zM1187.2 674.4h2.6v2.6h-2.6zM1182.6 664.3h3.2v3.2h-3.2zM1170.9 750.0h2.2v2.2h-2.2zM1160.9 768.7h1.9v1.9h-1.9zM1169.9 756.6h2.1v2.1h-2.1zM1197.6 676.2h3.5v3.5h-3.5zM1197.7 560.4h3.9v3.9h-3.9zM1189.6 650.0h3.1v3.1h-3.1zM1177.0 747.9h2.2v2.2h-2.2zM1220.5 593.1h5.0v5.0h-5.0zM1182.8 695.2h2.9v2.9h-2.9zM1191.3 666.3h3.2v3.2h-3.2zM1188.3 645.5h3.0v3.0h-3.0zM1160.8 762.0h2.0v2.0h-2.0zM1174.8 735.1h2.1v2.1h-2.1zM1180.7 675.3h2.6v2.6h-2.6zM1182.8 749.5h2.3v2.3h-2.3zM1221.2 642.7h4.0v4.0h-4.0zM1138.2 783.7h1.9v1.9h-1.9zM1160.0 763.6h1.9v1.9h-1.9zM1243.0 558.7h7.4v7.4h-7.4zM1166.2 759.1h2.0v2.0h-2.0zM1190.6 686.4h3.0v3.0h-3.0zM1178.8 702.9h2.4v2.4h-2.4zM1202.1 594.2h4.4v4.4h-4.4zM1176.2 705.7h2.5v2.5h-2.5zM1190.0 656.2h3.2v3.2h-3.2zM1179.3 714.7h2.5v2.5h-2.5zM1193.5 610.1h4.2v4.2h-4.2zM1177.1 710.7h2.3v2.3h-2.3zM1172.1 759.0h2.0v2.0h-2.0zM1181.7 720.2h2.6v2.6h-2.6zM1169.5 744.6h2.2v2.2h-2.2zM1172.2 734.7h2.3v2.3h-2.3zM1169.6 749.0h2.1v2.1h-2.1zM1203.6 605.6h3.7v3.7h-3.7zM1182.7 718.6h2.4v2.4h-2.4zM1188.6 705.2h2.6v2.6h-2.6zM1179.2 691.0h2.7v2.7h-2.7zM1174.0 743.6h2.1v2.1h-2.1zM1184.7 630.7h3.3v3.3h-3.3zM1173.7 754.5h2.2v2.2h-2.2zM1181.5 687.4h2.7v2.7h-2.7zM1155.7 772.1h1.9v1.9h-1.9zM1210.4 705.3h2.9v2.9h-2.9zM1212.7 646.1h3.4v3.4h-3.4zM1199.6 571.7h4.2v4.2h-4.2zM1184.1 638.8h3.5v3.5h-3.5zM1179.3 696.6h2.8v2.8h-2.8zM1181.4 703.0h2.5v2.5h-2.5zM1169.5 747.5h2.2v2.2h-2.2zM1145.8 783.1h1.9v1.9h-1.9zM1180.2 708.6h2.5v2.5h-2.5zM1208.5 542.6h5.2v5.2h-5.2zM1209.9 543.8h6.0v6.0h-6.0zM1206.4 580.0h3.9v3.9h-3.9zM1182.7 780.1h2.0v2.0h-2.0zM1293.6 555.9h7.4v7.4h-7.4zM1203.6 586.1h4.9v4.9h-4.9zM1247.1 641.7h4.8v4.8h-4.8zM1215.1 591.6h4.9v4.9h-4.9zM1189.5 693.4h3.0v3.0h-3.0zM1206.6 760.1h2.4v2.4h-2.4zM1204.6 589.7h4.8v4.8h-4.8zM1239.8 550.7h5.8v5.8h-5.8zM1193.1 663.4h3.4v3.4h-3.4zM1203.2 719.5h2.7v2.7h-2.7zM1217.6 580.0h4.5v4.5h-4.5zM1205.7 630.0h4.5v4.5h-4.5zM1278.3 547.8h7.4v7.4h-7.4zM1233.5 652.0h4.4v4.4h-4.4zM1208.0 738.0h2.4v2.4h-2.4zM1250.6 661.9h5.0v5.0h-5.0zM1238.7 687.0h4.4v4.4h-4.4zM1206.9 672.2h3.8v3.8h-3.8zM1218.7 652.7h4.5v4.5h-4.5zM1193.0 681.5h2.7v2.7h-2.7zM1221.1 681.3h3.9v3.9h-3.9zM1226.4 578.8h5.6v5.6h-5.6zM1235.0 686.3h3.5v3.5h-3.5zM1232.4 551.0h6.0v6.0h-6.0zM1224.2 685.0h3.3v3.3h-3.3zM1199.7 751.7h2.3v2.3h-2.3zM1216.2 681.3h3.8v3.8h-3.8zM1193.4 662.8h2.8v2.8h-2.8zM1187.2 710.3h2.8v2.8h-2.8zM1225.9 702.7h3.8v3.8h-3.8zM1275.7 552.6h7.4v7.4h-7.4zM1204.1 583.4h4.8v4.8h-4.8zM1244.4 557.6h7.1v7.1h-7.1zM1198.1 616.5h3.8v3.8h-3.8zM1237.9 695.4h3.4v3.4h-3.4zM1236.1 607.2h4.5v4.5h-4.5zM1279.2 545.9h7.4v7.4h-7.4zM1222.6 629.5h4.2v4.2h-4.2zM1202.7 624.6h3.8v3.8h-3.8zM1232.9 597.8h6.3v6.3h-6.3zM1233.7 608.3h6.2v6.2h-6.2zM1224.5 579.2h5.3v5.3h-5.3zM1219.2 605.8h4.1v4.1h-4.1zM1258.9 646.5h5.0v5.0h-5.0zM1278.5 572.0h7.4v7.4h-7.4zM1206.5 676.5h3.0v3.0h-3.0zM1200.6 636.0h4.2v4.2h-4.2zM1271.1 594.6h7.4v7.4h-7.4zM1216.4 632.6h4.2v4.2h-4.2zM1221.8 707.3h2.8v2.8h-2.8zM1243.7 575.7h7.2v7.2h-7.2zM1256.9 624.9h6.1v6.1h-6.1zM1206.6 582.5h5.0v5.0h-5.0zM1241.0 589.1h7.3v7.3h-7.3zM1223.8 573.1h6.6v6.6h-6.6zM1194.2 757.0h2.3v2.3h-2.3zM1214.0 565.7h5.4v5.4h-5.4zM1207.6 552.8h4.5v4.5h-4.5zM1249.9 630.7h6.4v6.4h-6.4zM1255.5 556.5h6.9v6.9h-6.9zM1196.8 735.2h2.4v2.4h-2.4zM1233.9 635.6h5.4v5.4h-5.4zM1206.5 611.8h3.7v3.7h-3.7zM1197.7 631.7h4.0v4.0h-4.0zM1210.4 562.1h4.3v4.3h-4.3zM1182.8 748.8h2.2v2.2h-2.2zM1232.6 653.0h4.4v4.4h-4.4zM1270.3 612.5h6.4v6.4h-6.4zM1240.0 698.1h3.6v3.6h-3.6zM1203.6 724.0h2.6v2.6h-2.6zM1211.9 675.3h3.9v3.9h-3.9zM1253.8 599.8h7.4v7.4h-7.4zM1284.5 562.8h7.4v7.4h-7.4zM1231.9 622.4h5.3v5.3h-5.3zM1190.6 777.6h2.1v2.1h-2.1zM1228.1 553.9h5.0v5.0h-5.0zM1208.4 567.1h4.5v4.5h-4.5zM1216.4 572.5h6.2v6.2h-6.2zM1232.9 607.4h4.9v4.9h-4.9zM1212.9 535.0h5.7v5.7h-5.7zM1144.1 543.1h2.4v2.4h-2.4zM1203.9 535.1h5.2v5.2h-5.2zM1199.0 542.0h5.2v5.2h-5.2zM1215.9 539.2h6.8v6.8h-6.8zM1162.3 540.9h3.5v3.5h-3.5zM1157.2 539.3h3.3v3.3h-3.3zM1172.8 537.5h3.5v3.5h-3.5zM1183.0 538.4h3.5v3.5h-3.5zM1175.7 542.9h3.4v3.4h-3.4zM1156.2 534.5h3.3v3.3h-3.3zM1145.0 542.7h2.6v2.6h-2.6zM1138.0 542.3h2.4v2.4h-2.4zM1182.0 539.7h3.7v3.7h-3.7zM1179.2 533.8h4.2v4.2h-4.2zM1163.8 540.4h3.7v3.7h-3.7zM1161.5 537.6h3.2v3.2h-3.2zM1150.2 535.7h3.2v3.2h-3.2zM1146.7 538.1h2.6v2.6h-2.6zM1207.2 533.1h5.7v5.7h-5.7zM1215.2 541.4h4.9v4.9h-4.9zM1202.6 538.3h5.7v5.7h-5.7zM1169.6 540.5h3.3v3.3h-3.3zM1175.6 541.3h3.9v3.9h-3.9zM1217.3 533.8h6.3v6.3h-6.3zM1197.4 532.4h4.5v4.5h-4.5zM1213.3 539.8h5.7v5.7h-5.7zM1159.0 538.6h3.2v3.2h-3.2zM1149.4 542.8h2.5v2.5h-2.5zM1153.9 541.0h2.8v2.8h-2.8zM1212.9 533.3h5.8v5.8h-5.8zM1215.0 533.4h5.4v5.4h-5.4zM1147.3 544.4h2.7v2.7h-2.7zM1209.1 531.7h5.6v5.6h-5.6zM1142.8 541.9h2.6v2.6h-2.6zM1160.5 541.1h3.1v3.1h-3.1zM1139.6 544.4h2.6v2.6h-2.6zM1160.8 534.7h3.0v3.0h-3.0zM1163.8 543.9h3.0v3.0h-3.0zM1203.6 543.0h4.8v4.8h-4.8zM1213.1 532.2h5.7v5.7h-5.7zM1174.0 544.3h3.8v3.8h-3.8zM1198.8 538.5h5.1v5.1h-5.1zM1167.2 532.7h3.7v3.7h-3.7zM1152.7 544.8h2.6v2.6h-2.6zM1174.3 538.3h3.4v3.4h-3.4zM1175.3 534.3h4.0v4.0h-4.0zM1149.5 540.2h2.5v2.5h-2.5zM1140.3 537.9h2.7v2.7h-2.7zM1143.9 539.6h2.8v2.8h-2.8zM1208.6 535.3h6.2v6.2h-6.2zM1215.3 534.9h6.4v6.4h-6.4zM1199.5 536.6h5.7v5.7h-5.7zM1148.1 542.4h2.7v2.7h-2.7zM1140.4 535.7h2.5v2.5h-2.5zM1162.1 543.5h3.5v3.5h-3.5zM1192.7 539.7h4.8v4.8h-4.8zM1156.9 537.4h2.9v2.9h-2.9zM1209.0 542.5h6.0v6.0h-6.0zM1192.6 539.9h3.7v3.7h-3.7zM1203.0 541.1h4.1v4.1h-4.1zM1167.6 542.0h3.5v3.5h-3.5zM1210.6 534.0h6.0v6.0h-6.0zM1158.4 538.1h2.8v2.8h-2.8zM1207.0 542.5h5.1v5.1h-5.1zM1196.7 532.3h5.1v5.1h-5.1zM1175.8 535.5h3.9v3.9h-3.9zM1150.8 544.6h2.6v2.6h-2.6zM1195.0 536.5h4.4v4.4h-4.4zM1185.9 536.6h4.9v4.9h-4.9zM1184.2 534.5h3.5v3.5h-3.5zM1140.4 536.4h2.5v2.5h-2.5zM1172.3 542.5h4.0v4.0h-4.0zM1210.7 539.5h6.0v6.0h-6.0zM1172.7 537.9h3.3v3.3h-3.3zM1140.2 538.1h2.7v2.7h-2.7zM1143.0 542.1h2.6v2.6h-2.6zM1138.4 533.9h2.5v2.5h-2.5zM1216.5 538.2h6.2v6.2h-6.2zM1202.1 534.8h5.8v5.8h-5.8zM1177.2 544.2h3.3v3.3h-3.3zM1168.1 541.2h3.8v3.8h-3.8zM1145.7 538.3h2.9v2.9h-2.9zM1205.2 535.6h6.0v6.0h-6.0zM1202.4 533.3h4.3v4.3h-4.3zM1149.5 542.4h3.1v3.1h-3.1zM1209.0 540.4h4.9v4.9h-4.9zM1181.2 538.1h4.5v4.5h-4.5zM1182.1 537.5h4.3v4.3h-4.3zM1165.4 538.0h3.2v3.2h-3.2zM1204.4 533.6h4.7v4.7h-4.7zM1154.0 541.0h2.9v2.9h-2.9zM1201.6 535.4h4.1v4.1h-4.1zM1168.2 544.5h3.3v3.3h-3.3zM1153.0 542.4h2.8v2.8h-2.8zM1160.0 541.8h3.0v3.0h-3.0zM1211.5 532.6h4.6v4.6h-4.6zM1205.0 543.7h4.6v4.6h-4.6zM1195.8 534.6h4.1v4.1h-4.1zM1198.3 539.1h5.0v5.0h-5.0zM1208.3 542.3h5.7v5.7h-5.7zM1190.5 538.3h4.3v4.3h-4.3zM1197.4 535.3h4.9v4.9h-4.9zM1211.2 539.5h5.9v5.9h-5.9zM1211.4 535.3h5.0v5.0h-5.0zM1169.8 538.8h4.0v4.0h-4.0zM1167.6 536.0h3.0v3.0h-3.0zM1198.4 533.0h5.5v5.5h-5.5zM1190.3 540.8h4.0v4.0h-4.0zM1197.5 543.6h4.2v4.2h-4.2zM1200.6 537.0h4.7v4.7h-4.7zM1194.3 535.3h5.2v5.2h-5.2zM1210.3 543.7h5.1v5.1h-5.1zM1152.6 533.7h2.9v2.9h-2.9zM1155.9 536.6h3.0v3.0h-3.0zM1158.9 541.2h3.5v3.5h-3.5zM1208.4 543.3h4.3v4.3h-4.3zM1202.1 534.0h4.9v4.9h-4.9zM1204.6 532.9h5.4v5.4h-5.4zM1210.1 537.9h5.8v5.8h-5.8zM1176.2 542.4h3.8v3.8h-3.8zM1205.0 533.4h5.7v5.7h-5.7zM1193.7 539.3h4.3v4.3h-4.3zM1139.6 542.4h2.3v2.3h-2.3zM1159.6 539.7h3.1v3.1h-3.1zM1217.4 535.1h4.8v4.8h-4.8zM1166.7 537.0h3.4v3.4h-3.4zM1212.7 537.9h4.6v4.6h-4.6zM1213.1 542.9h6.2v6.2h-6.2zM1189.8 534.9h4.6v4.6h-4.6zM1141.7 541.3h2.7v2.7h-2.7zM1170.0 533.5h3.4v3.4h-3.4zM1157.4 538.5h3.0v3.0h-3.0zM1212.2 533.5h5.0v5.0h-5.0zM1153.5 541.0h3.3v3.3h-3.3zM1145.7 535.3h3.0v3.0h-3.0zM1215.5 539.1h4.8v4.8h-4.8zM1167.5 540.8h3.1v3.1h-3.1zM1201.6 534.6h5.9v5.9h-5.9zM1177.0 544.0h4.0v4.0h-4.0zM1215.6 536.1h6.0v6.0h-6.0zM1170.2 538.0h3.6v3.6h-3.6zM1198.4 542.6h4.1v4.1h-4.1zM1217.1 532.6h5.4v5.4h-5.4zM1149.5 533.0h3.0v3.0h-3.0zM1111.5 610.6h2.0v2.0h-2.0zM1106.9 626.0h2.1v2.1h-2.1zM1090.8 737.3h2.0v2.0h-2.0zM1097.4 631.6h2.0v2.0h-2.0zM1103.3 664.5h2.3v2.3h-2.3zM1097.9 705.5h2.2v2.2h-2.2zM1094.7 642.6h1.8v1.8h-1.8zM1133.4 542.1h1.9v1.9h-1.9zM1107.6 612.2h1.8v1.8h-1.8zM1107.7 613.3h2.3v2.3h-2.3zM1111.8 568.4h2.3v2.3h-2.3zM1103.3 681.4h2.3v2.3h-2.3zM1092.8 740.3h1.8v1.8h-1.8zM1090.3 698.2h2.0v2.0h-2.0zM1108.3 631.4h2.0v2.0h-2.0zM1105.5 669.8h1.9v1.9h-1.9zM1122.1 565.2h1.8v1.8h-1.8zM1126.3 542.7h2.3v2.3h-2.3zM1100.9 692.4h2.1v2.1h-2.1zM1105.2 591.9h2.1v2.1h-2.1zM1092.5 758.1h2.3v2.3h-2.3zM1095.3 664.0h2.0v2.0h-2.0zM1097.1 669.8h2.0v2.0h-2.0zM1107.3 595.6h1.7v1.7h-1.7zM1110.3 592.7h2.2v2.2h-2.2zM1097.9 601.0h2.1v2.1h-2.1zM1103.4 654.3h1.9v1.9h-1.9zM1106.3 610.1h2.3v2.3h-2.3zM1100.2 577.1h2.1v2.1h-2.1zM1108.1 593.2h2.2v2.2h-2.2zM1088.7 784.5h2.2v2.2h-2.2zM1102.4 577.1h2.1v2.1h-2.1zM1090.9 666.8h1.9v1.9h-1.9zM1093.5 778.1h2.3v2.3h-2.3zM1100.5 677.4h1.9v1.9h-1.9zM1097.3 609.8h1.8v1.8h-1.8zM1091.8 620.3h2.1v2.1h-2.1zM1099.8 684.4h2.0v2.0h-2.0zM1089.1 762.5h1.8v1.8h-1.8zM1096.3 698.1h1.9v1.9h-1.9zM1093.9 708.3h2.1v2.1h-2.1zM1103.4 643.1h1.8v1.8h-1.8zM1104.1 590.8h2.0v2.0h-2.0zM1090.3 673.2h2.2v2.2h-2.2zM1107.0 628.8h1.7v1.7h-1.7zM1120.1 561.6h2.0v2.0h-2.0zM1107.7 644.8h1.8v1.8h-1.8zM1099.2 695.6h2.2v2.2h-2.2zM1107.6 626.5h2.2v2.2h-2.2zM1099.4 667.4h1.8v1.8h-1.8zM1113.8 596.6h2.2v2.2h-2.2zM1103.0 621.5h2.0v2.0h-2.0zM1100.0 695.0h2.0v2.0h-2.0zM1105.2 656.2h1.9v1.9h-1.9zM1098.2 654.7h2.0v2.0h-2.0zM1111.0 584.1h2.2v2.2h-2.2zM1130.5 549.2h2.0v2.0h-2.0zM1088.8 702.0h1.9v1.9h-1.9zM1126.0 559.7h1.9v1.9h-1.9zM1088.0 722.0h1.8v1.8h-1.8zM1102.3 641.5h1.8v1.8h-1.8zM1121.7 541.9h2.0v2.0h-2.0zM1096.5 715.9h1.8v1.8h-1.8zM1092.1 732.8h2.2v2.2h-2.2zM1090.1 730.5h1.8v1.8h-1.8zM1107.8 580.0h1.9v1.9h-1.9zM1104.1 598.1h2.2v2.2h-2.2zM1116.8 561.3h1.9v1.9h-1.9zM1106.9 584.9h1.9v1.9h-1.9zM1098.2 670.1h2.2v2.2h-2.2zM1111.0 609.4h1.9v1.9h-1.9zM1114.2 558.0h2.0v2.0h-2.0zM1094.9 700.7h1.9v1.9h-1.9zM1092.5 771.4h2.2v2.2h-2.2zM1095.7 728.1h1.9v1.9h-1.9zM1131.7 540.8h2.1v2.1h-2.1zM1097.5 706.2h1.7v1.7h-1.7zM1090.3 748.1h2.3v2.3h-2.3zM1099.1 677.1h1.9v1.9h-1.9zM1104.4 646.1h1.9v1.9h-1.9zM1100.5 672.1h2.0v2.0h-2.0zM1096.7 692.5h2.0v2.0h-2.0zM1101.4 680.4h2.0v2.0h-2.0zM1118.0 571.1h2.1v2.1h-2.1zM1118.2 562.7h2.0v2.0h-2.0zM1102.4 671.3h1.7v1.7h-1.7zM1110.0 623.6h1.7v1.7h-1.7zM1104.8 673.5h1.8v1.8h-1.8zM1097.7 721.3h1.9v1.9h-1.9zM1110.7 608.9h1.9v1.9h-1.9zM1102.3 682.2h2.0v2.0h-2.0zM1096.9 705.5h1.7v1.7h-1.7zM1093.8 765.1h2.2v2.2h-2.2zM1108.9 636.8h2.2v2.2h-2.2zM1093.3 742.8h1.8v1.8h-1.8zM1100.6 591.1h2.1v2.1h-2.1zM1101.4 681.7h1.8v1.8h-1.8zM1116.5 585.3h2.2v2.2h-2.2zM1104.1 636.0h1.9v1.9h-1.9zM1093.3 781.2h1.7v1.7h-1.7zM1097.6 670.0h2.1v2.1h-2.1zM1105.1 661.9h1.9v1.9h-1.9zM1089.8 628.7h1.9v1.9h-1.9zM1118.8 563.0h2.2v2.2h-2.2zM1097.6 706.0h1.9v1.9h-1.9zM1088.8 682.2h1.7v1.7h-1.7zM1101.7 678.9h1.8v1.8h-1.8zM1108.5 642.2h1.8v1.8h-1.8zM1122.1 568.5h1.9v1.9h-1.9zM1131.9 544.3h1.8v1.8h-1.8zM1088.7 727.7h2.1v2.1h-2.1zM1090.2 683.4h2.1v2.1h-2.1zM1107.0 639.1h2.0v2.0h-2.0zM1102.1 621.8h1.8v1.8h-1.8zM1099.1 676.0h2.1v2.1h-2.1zM1093.3 741.4h1.8v1.8h-1.8zM1099.0 635.4h2.3v2.3h-2.3zM1106.9 632.3h2.2v2.2h-2.2zM1104.7 631.6h2.2v2.2h-2.2zM1105.1 658.0h2.2v2.2h-2.2zM1095.3 737.7h2.1v2.1h-2.1zM1130.3 548.5h2.2v2.2h-2.2zM1105.3 593.8h1.9v1.9h-1.9zM1112.0 574.0h2.0v2.0h-2.0zM1106.4 631.8h2.3v2.3h-2.3zM1100.4 622.5h1.8v1.8h-1.8zM1130.7 544.6h1.8v1.8h-1.8zM1090.4 652.7h2.0v2.0h-2.0zM1097.6 651.0h2.3v2.3h-2.3zM1106.5 654.8h1.8v1.8h-1.8zM1100.1 703.2h2.1v2.1h-2.1zM1101.9 675.5h2.2v2.2h-2.2zM1093.8 704.6h2.1v2.1h-2.1zM1097.6 635.8h2.2v2.2h-2.2zM1105.1 633.4h2.1v2.1h-2.1zM1107.1 639.7h2.2v2.2h-2.2zM1113.1 581.2h2.1v2.1h-2.1zM1096.7 718.1h2.2v2.2h-2.2zM1132.5 547.3h2.3v2.3h-2.3zM1094.0 754.7h1.8v1.8h-1.8zM1100.8 696.2h1.9v1.9h-1.9zM1112.8 541.1h2.2v2.2h-2.2zM1090.4 649.4h2.1v2.1h-2.1zM1102.2 585.0h2.1v2.1h-2.1zM1103.5 667.0h1.7v1.7h-1.7zM1111.1 540.2h2.1v2.1h-2.1zM1129.5 546.5h1.9v1.9h-1.9zM1123.9 539.2h2.0v2.0h-2.0zM1098.5 687.0h2.1v2.1h-2.1zM1105.9 658.0h1.7v1.7h-1.7zM1088.7 597.8h2.2v2.2h-2.2zM1093.9 708.8h2.1v2.1h-2.1zM1114.5 594.8h1.9v1.9h-1.9zM1133.4 542.9h2.3v2.3h-2.3zM1105.9 636.9h2.0v2.0h-2.0zM1104.0 670.7h2.3v2.3h-2.3zM1087.9 681.8h1.9v1.9h-1.9zM1105.7 660.0h2.0v2.0h-2.0zM1129.7 541.3h2.0v2.0h-2.0zM1109.9 591.5h2.2v2.2h-2.2zM1091.6 701.7h1.7v1.7h-1.7zM1102.9 687.3h1.9v1.9h-1.9zM1119.9 567.3h2.1v2.1h-2.1zM1092.3 631.6h1.9v1.9h-1.9zM1125.0 540.4h1.9v1.9h-1.9zM1099.2 602.3h2.2v2.2h-2.2zM1104.7 634.5h2.3v2.3h-2.3zM1101.4 628.4h2.0v2.0h-2.0zM1111.6 585.9h2.0v2.0h-2.0zM1096.0 615.2h2.1v2.1h-2.1zM1093.9 749.4h2.0v2.0h-2.0zM1099.5 711.6h2.3v2.3h-2.3zM1090.6 643.0h1.8v1.8h-1.8zM1133.8 539.3h2.2v2.2h-2.2zM1115.6 597.1h1.9v1.9h-1.9zM1101.6 697.2h2.0v2.0h-2.0zM1098.2 701.3h2.0v2.0h-2.0zM1118.7 558.3h1.7v1.7h-1.7zM1111.1 620.3h2.1v2.1h-2.1zM1094.6 657.4h1.8v1.8h-1.8zM1103.5 671.5h1.7v1.7h-1.7zM1092.7 692.0h2.2v2.2h-2.2zM1104.9 603.6h2.0v2.0h-2.0zM1101.6 667.9h2.3v2.3h-2.3zM1090.3 693.0h2.0v2.0h-2.0zM1090.5 729.0h2.3v2.3h-2.3zM1089.4 777.5h1.7v1.7h-1.7zM1098.7 676.4h1.8v1.8h-1.8zM1093.0 668.7h2.0v2.0h-2.0zM1106.1 637.9h1.9v1.9h-1.9zM1115.4 582.2h2.2v2.2h-2.2zM1091.7 565.6h1.9v1.9h-1.9zM1107.8 637.5h2.1v2.1h-2.1zM1091.4 735.1h2.0v2.0h-2.0zM1127.4 544.1h1.8v1.8h-1.8zM1098.0 720.6h2.2v2.2h-2.2zM1131.4 545.7h2.1v2.1h-2.1zM1095.2 704.5h2.0v2.0h-2.0zM1099.1 634.9h2.3v2.3h-2.3zM1101.3 601.9h1.9v1.9h-1.9zM1102.6 581.3h1.9v1.9h-1.9zM1103.4 669.4h2.3v2.3h-2.3zM1106.9 628.1h1.9v1.9h-1.9zM1099.7 618.3h1.8v1.8h-1.8zM1127.1 556.1h2.1v2.1h-2.1zM1103.1 599.7h2.1v2.1h-2.1zM1096.5 657.7h2.2v2.2h-2.2zM1113.9 573.3h1.9v1.9h-1.9zM1092.8 738.1h1.8v1.8h-1.8zM1112.8 612.7h2.2v2.2h-2.2zM1108.6 617.0h2.1v2.1h-2.1zM1105.2 607.2h1.8v1.8h-1.8zM1099.6 609.7h1.8v1.8h-1.8zM1107.7 631.0h2.1v2.1h-2.1zM1107.5 618.3h1.8v1.8h-1.8zM1089.9 623.1h1.7v1.7h-1.7zM1095.6 674.8h2.1v2.1h-2.1zM1101.9 609.3h2.0v2.0h-2.0zM1101.1 582.5h2.1v2.1h-2.1zM1111.0 587.9h2.2v2.2h-2.2zM1090.5 663.7h1.9v1.9h-1.9zM1091.9 730.7h2.1v2.1h-2.1zM1119.3 573.2h1.7v1.7h-1.7zM1112.2 546.4h2.1v2.1h-2.1zM1107.8 587.0h1.8v1.8h-1.8zM1100.7 625.5h1.9v1.9h-1.9zM1091.9 722.5h2.2v2.2h-2.2zM1100.8 652.7h2.1v2.1h-2.1zM1100.7 587.5h1.8v1.8h-1.8zM1106.7 557.9h1.8v1.8h-1.8zM1113.9 610.2h1.8v1.8h-1.8zM1108.3 615.4h1.7v1.7h-1.7zM1136.6 539.2h2.2v2.2h-2.2zM1126.1 557.6h1.7v1.7h-1.7zM1122.6 545.0h2.1v2.1h-2.1zM1096.8 626.4h2.2v2.2h-2.2zM1099.1 616.6h2.2v2.2h-2.2zM1100.2 695.4h1.8v1.8h-1.8zM1107.3 606.9h1.8v1.8h-1.8zM1102.5 678.4h2.3v2.3h-2.3zM1089.9 650.9h2.1v2.1h-2.1zM1109.9 622.5h2.1v2.1h-2.1zM1123.1 787.9h2.2v2.2h-2.2zM1138.2 791.3h2.2v2.2h-2.2zM1104.5 791.7h2.1v2.1h-2.1zM1100.5 790.8h2.2v2.2h-2.2zM1091.7 787.9h2.0v2.0h-2.0zM1119.0 789.0h1.9v1.9h-1.9zM1120.5 793.0h1.9v1.9h-1.9zM1094.6 788.2h2.2v2.2h-2.2zM1093.9 790.9h2.0v2.0h-2.0zM1118.0 788.4h2.0v2.0h-2.0zM1130.0 791.9h2.3v2.3h-2.3zM1109.2 788.6h2.1v2.1h-2.1zM1133.9 788.5h2.2v2.2h-2.2zM1124.1 793.5h2.1v2.1h-2.1zM1141.0 791.7h2.2v2.2h-2.2zM1129.2 790.8h2.3v2.3h-2.3zM1132.3 790.8h2.3v2.3h-2.3zM1111.2 794.7h2.0v2.0h-2.0zM1133.9 790.5h2.2v2.2h-2.2zM1131.8 790.6h2.1v2.1h-2.1zM1095.6 788.7h2.3v2.3h-2.3zM1114.9 789.5h2.3v2.3h-2.3zM1114.7 789.2h2.3v2.3h-2.3zM1095.4 790.1h2.1v2.1h-2.1zM1119.8 790.3h1.8v1.8h-1.8zM1099.1 790.3h2.0v2.0h-2.0zM1120.4 788.8h2.0v2.0h-2.0zM1117.0 789.5h2.0v2.0h-2.0zM1142.9 789.3h2.3v2.3h-2.3zM1113.2 793.8h2.3v2.3h-2.3zM1096.2 788.4h2.2v2.2h-2.2zM1118.1 791.7h2.2v2.2h-2.2zM1102.8 794.2h2.2v2.2h-2.2zM1115.5 790.4h2.0v2.0h-2.0zM1096.8 789.1h1.8v1.8h-1.8zM1103.9 790.7h1.9v1.9h-1.9zM1103.5 788.8h2.0v2.0h-2.0zM1124.8 788.4h2.1v2.1h-2.1zM1106.3 793.6h2.1v2.1h-2.1zM1117.6 790.8h2.1v2.1h-2.1zM1113.6 791.0h2.2v2.2h-2.2zM1104.4 790.9h2.0v2.0h-2.0zM1107.5 794.5h2.2v2.2h-2.2zM1103.5 795.5h2.3v2.3h-2.3zM1117.3 789.7h2.2v2.2h-2.2zM1141.1 794.3h2.2v2.2h-2.2zM1090.6 791.0h1.7v1.7h-1.7zM1097.0 794.6h2.1v2.1h-2.1zM1122.4 790.6h2.1v2.1h-2.1zM1090.8 787.9h2.1v2.1h-2.1zM1091.4 790.0h2.0v2.0h-2.0zM1098.5 795.6h2.2v2.2h-2.2zM1130.3 787.7h2.2v2.2h-2.2zM1124.8 792.2h1.7v1.7h-1.7zM1119.7 790.4h1.8v1.8h-1.8zM1096.8 791.1h1.7v1.7h-1.7zM1142.9 793.0h2.0v2.0h-2.0zM1138.2 789.5h1.7v1.7h-1.7zM1135.7 799.1h2.1v2.1h-2.1zM1132.3 789.4h2.2v2.2h-2.2zM1106.5 789.3h2.3v2.3h-2.3zM1141.3 789.5h2.1v2.1h-2.1zM1110.1 788.1h2.2v2.2h-2.2zM1125.2 793.9h1.8v1.8h-1.8zM1140.2 794.2h2.1v2.1h-2.1zM1099.2 791.3h1.9v1.9h-1.9zM1142.0 789.4h1.8v1.8h-1.8zM1125.4 787.7h2.3v2.3h-2.3zM1139.7 790.9h1.7v1.7h-1.7zM1096.9 789.1h1.8v1.8h-1.8zM1133.3 789.7h2.0v2.0h-2.0zM1110.8 788.5h2.0v2.0h-2.0zM1132.9 791.3h1.8v1.8h-1.8zM1121.4 789.3h2.2v2.2h-2.2zM1127.3 789.2h1.7v1.7h-1.7zM1099.4 788.0h1.9v1.9h-1.9zM1097.8 792.8h1.7v1.7h-1.7zM1144.7 787.6h2.1v2.1h-2.1zM1094.1 790.6h1.7v1.7h-1.7zM1123.9 791.7h1.9v1.9h-1.9zM1102.2 790.0h2.1v2.1h-2.1zM1140.0 789.3h1.9v1.9h-1.9zM1140.1 789.0h2.0v2.0h-2.0zM1114.3 792.1h1.9v1.9h-1.9zM1144.5 791.5h2.3v2.3h-2.3zM1137.4 789.8h2.1v2.1h-2.1z" fill="#4db33d"/>
<path d="M1200.9 591.6h4.5v4.5h-4.5zM1151.7 778.0h1.9v1.9h-1.9zM1182.6 655.5h3.0v3.0h-3.0zM1192.1 615.6h3.8v3.8h-3.8zM1199.5 594.5h4.2v4.2h-4.2zM1203.1 571.3h5.1v5.1h-5.1zM1207.5 542.0h4.3v4.3h-4.3zM1176.9 718.9h2.3v2.3h-2.3zM1166.6 765.2h2.0v2.0h-2.0zM1174.9 714.5h2.5v2.5h-2.5zM1144.4 783.0h1.9v1.9h-1.9zM1189.9 670.5h3.1v3.1h-3.1zM1201.9 572.7h4.3v4.3h-4.3zM1150.0 779.2h1.9v1.9h-1.9zM1172.2 751.4h2.1v2.1h-2.1zM1205.4 588.1h5.2v5.2h-5.2zM1205.3 626.0h3.6v3.6h-3.6zM1195.0 543.3h5.1v5.1h-5.1zM1189.6 645.2h3.5v3.5h-3.5zM1159.8 767.3h2.0v2.0h-2.0zM1196.4 579.2h4.6v4.6h-4.6zM1188.6 634.3h3.3v3.3h-3.3zM1226.2 638.7h4.9v4.9h-4.9zM1171.8 749.6h2.2v2.2h-2.2zM1162.2 764.7h2.0v2.0h-2.0zM1186.7 686.8h2.7v2.7h-2.7zM1196.8 541.5h5.1v5.1h-5.1zM1195.9 600.5h4.2v4.2h-4.2zM1210.5 573.9h5.6v5.6h-5.6zM1179.0 717.2h2.5v2.5h-2.5zM1185.0 627.6h3.3v3.3h-3.3zM1182.0 709.6h2.3v2.3h-2.3zM1204.9 547.9h5.3v5.3h-5.3zM1207.0 543.7h4.8v4.8h-4.8zM1201.6 569.9h4.7v4.7h-4.7zM1190.3 607.7h4.0v4.0h-4.0zM1187.4 645.7h3.5v3.5h-3.5zM1171.1 737.7h2.1v2.1h-2.1zM1168.9 743.1h2.1v2.1h-2.1zM1197.6 584.9h4.0v4.0h-4.0zM1177.6 708.3h2.3v2.3h-2.3zM1167.9 752.5h2.0v2.0h-2.0zM1175.5 719.6h2.2v2.2h-2.2zM1191.4 665.0h3.4v3.4h-3.4zM1209.8 566.1h4.7v4.7h-4.7zM1203.8 598.1h3.9v3.9h-3.9zM1174.7 729.6h2.3v2.3h-2.3zM1185.9 656.3h3.3v3.3h-3.3zM1176.5 715.2h2.4v2.4h-2.4zM1188.3 629.5h3.8v3.8h-3.8zM1207.6 552.8h4.9v4.9h-4.9zM1186.7 654.0h2.9v2.9h-2.9zM1179.0 712.3h2.6v2.6h-2.6zM1157.5 775.0h1.9v1.9h-1.9zM1206.6 551.0h5.1v5.1h-5.1zM1184.9 677.7h2.9v2.9h-2.9zM1195.4 673.6h2.7v2.7h-2.7zM1213.5 585.3h4.5v4.5h-4.5zM1204.1 584.8h4.6v4.6h-4.6zM1143.5 781.6h1.9v1.9h-1.9zM1181.2 691.0h2.7v2.7h-2.7zM1179.0 699.6h2.6v2.6h-2.6zM1188.3 623.0h3.2v3.2h-3.2zM1180.4 713.7h2.5v2.5h-2.5zM1172.8 724.3h2.2v2.2h-2.2zM1203.9 566.1h4.8v4.8h-4.8zM1208.3 580.8h5.4v5.4h-5.4zM1161.7 762.1h2.1v2.1h-2.1zM1208.1 563.4h4.9v4.9h-4.9zM1193.7 665.7h3.4v3.4h-3.4zM1203.9 615.3h4.7v4.7h-4.7zM1199.7 595.6h4.4v4.4h-4.4zM1182.1 690.2h2.7v2.7h-2.7zM1147.9 787.1h1.9v1.9h-1.9zM1193.8 640.2h3.0v3.0h-3.0zM1236.5 596.4h6.4v6.4h-6.4zM1194.9 575.4h4.5v4.5h-4.5zM1173.0 728.9h2.4v2.4h-2.4zM1188.0 731.1h2.3v2.3h-2.3zM1228.1 547.7h5.3v5.3h-5.3zM1179.1 710.1h2.6v2.6h-2.6zM1191.5 595.2h3.4v3.4h-3.4zM1175.3 741.9h2.1v2.1h-2.1zM1179.8 687.8h2.8v2.8h-2.8zM1157.7 773.5h1.9v1.9h-1.9zM1184.2 666.9h3.0v3.0h-3.0zM1235.4 565.9h6.6v6.6h-6.6zM1205.5 611.3h4.0v4.0h-4.0zM1180.5 667.8h2.7v2.7h-2.7zM1178.8 681.2h2.7v2.7h-2.7zM1183.1 705.6h2.4v2.4h-2.4zM1174.2 720.2h2.5v2.5h-2.5zM1174.5 721.1h2.5v2.5h-2.5zM1169.3 758.7h2.1v2.1h-2.1zM1190.0 610.6h4.1v4.1h-4.1zM1190.3 623.1h3.0v3.0h-3.0zM1196.5 626.2h3.8v3.8h-3.8zM1184.7 679.9h2.5v2.5h-2.5zM1132.0 787.6h1.8v1.8h-1.8zM1195.8 624.9h4.0v4.0h-4.0zM1188.0 681.0h2.6v2.6h-2.6zM1186.0 641.7h2.9v2.9h-2.9zM1210.4 546.0h4.5v4.5h-4.5zM1184.0 634.5h3.5v3.5h-3.5zM1185.0 697.1h2.5v2.5h-2.5zM1189.8 677.6h2.6v2.6h-2.6zM1200.9 587.8h4.8v4.8h-4.8zM1181.8 658.5h2.7v2.7h-2.7zM1170.9 750.8h2.1v2.1h-2.1zM1157.2 768.3h2.0v2.0h-2.0zM1159.3 763.8h1.9v1.9h-1.9zM1188.1 629.9h3.0v3.0h-3.0zM1203.3 542.7h5.0v5.0h-5.0zM1183.1 662.0h2.8v2.8h-2.8zM1191.3 731.4h2.6v2.6h-2.6zM1191.3 610.9h4.0v4.0h-4.0zM1224.5 688.1h4.1v4.1h-4.1zM1187.8 701.1h2.4v2.4h-2.4zM1203.2 546.5h4.4v4.4h-4.4zM1204.2 566.9h4.8v4.8h-4.8zM1189.0 685.1h2.6v2.6h-2.6zM1196.1 568.2h4.9v4.9h-4.9zM1180.8 713.3h2.3v2.3h-2.3zM1181.6 761.6h2.1v2.1h-2.1zM1222.2 545.3h6.8v6.8h-6.8zM1194.6 629.4h3.6v3.6h-3.6zM1176.1 713.1h2.4v2.4h-2.4zM1189.9 727.9h2.3v2.3h-2.3zM1194.8 586.1h4.4v4.4h-4.4zM1198.5 546.1h4.4v4.4h-4.4zM1215.9 587.6h4.5v4.5h-4.5zM1198.0 667.3h3.2v3.2h-3.2zM1172.7 732.5h2.3v2.3h-2.3zM1159.1 769.4h1.9v1.9h-1.9zM1202.4 665.1h3.7v3.7h-3.7zM1179.5 701.3h2.4v2.4h-2.4zM1183.2 652.9h3.3v3.3h-3.3zM1180.7 675.5h3.1v3.1h-3.1zM1182.4 665.2h3.0v3.0h-3.0zM1212.6 553.2h4.4v4.4h-4.4zM1277.4 544.8h7.4v7.4h-7.4zM1180.6 699.1h2.8v2.8h-2.8zM1199.4 571.6h5.0v5.0h-5.0zM1194.2 598.1h4.3v4.3h-4.3zM1184.2 632.1h3.3v3.3h-3.3zM1183.9 762.4h2.0v2.0h-2.0zM1189.0 667.4h3.3v3.3h-3.3zM1194.3 599.8h3.3v3.3h-3.3zM1203.5 544.2h5.1v5.1h-5.1zM1196.3 572.2h4.3v4.3h-4.3zM1147.7 782.5h1.9v1.9h-1.9zM1160.7 776.5h1.9v1.9h-1.9zM1176.3 770.6h2.1v2.1h-2.1zM1175.6 714.3h2.5v2.5h-2.5zM1197.5 546.9h5.2v5.2h-5.2zM1181.6 689.8h2.9v2.9h-2.9zM1189.1 677.7h2.6v2.6h-2.6zM1173.3 770.9h2.0v2.0h-2.0zM1178.7 693.8h2.5v2.5h-2.5zM1196.4 651.1h3.8v3.8h-3.8zM1175.5 736.6h2.3v2.3h-2.3zM1193.4 598.1h3.4v3.4h-3.4zM1193.0 634.1h3.9v3.9h-3.9zM1218.3 559.4h5.9v5.9h-5.9zM1234.1 558.9h7.4v7.4h-7.4zM1202.4 610.9h4.5v4.5h-4.5zM1184.0 719.5h2.3v2.3h-2.3zM1194.3 588.0h4.5v4.5h-4.5zM1210.5 574.7h5.0v5.0h-5.0zM1155.6 772.1h1.9v1.9h-1.9zM1168.8 759.2h2.1v2.1h-2.1zM1169.2 761.0h2.0v2.0h-2.0zM1176.3 768.5h2.1v2.1h-2.1zM1196.8 553.7h4.3v4.3h-4.3zM1185.1 743.0h2.2v2.2h-2.2zM1159.8 767.9h2.0v2.0h-2.0zM1189.5 609.8h4.1v4.1h-4.1zM1194.9 609.3h3.5v3.5h-3.5zM1157.5 781.1h1.9v1.9h-1.9zM1157.1 768.0h2.0v2.0h-2.0zM1178.0 685.3h2.8v2.8h-2.8zM1182.5 690.8h2.8v2.8h-2.8zM1166.3 754.4h2.1v2.1h-2.1zM1196.5 575.0h4.3v4.3h-4.3zM1181.3 695.6h2.7v2.7h-2.7zM1181.3 732.9h2.2v2.2h-2.2zM1156.6 776.8h1.9v1.9h-1.9zM1191.2 672.5h3.2v3.2h-3.2zM1188.1 631.6h2.9v2.9h-2.9zM1203.7 561.0h5.3v5.3h-5.3zM1194.8 688.7h2.8v2.8h-2.8zM1152.8 781.8h1.9v1.9h-1.9zM1195.0 621.4h3.9v3.9h-3.9zM1164.7 763.0h2.0v2.0h-2.0zM1199.6 617.5h3.3v3.3h-3.3zM1200.0 543.8h4.6v4.6h-4.6zM1201.4 537.1h5.9v5.9h-5.9zM1198.1 564.3h4.4v4.4h-4.4zM1181.7 701.1h2.6v2.6h-2.6zM1180.1 696.6h2.7v2.7h-2.7zM1219.2 545.9h6.9v6.9h-6.9zM1170.1 740.0h2.2v2.2h-2.2zM1197.7 550.3h5.5v5.5h-5.5zM1175.3 719.3h2.5v2.5h-2.5zM1175.8 717.5h2.5v2.5h-2.5zM1190.2 602.9h3.8v3.8h-3.8zM1191.5 619.4h3.3v3.3h-3.3zM1197.4 683.1h3.4v3.4h-3.4zM1170.1 747.9h2.1v2.1h-2.1zM1197.3 652.5h3.0v3.0h-3.0zM1187.8 712.0h2.5v2.5h-2.5zM1201.7 550.3h4.5v4.5h-4.5zM1209.1 658.7h3.6v3.6h-3.6zM1201.1 590.2h4.1v4.1h-4.1zM1197.9 613.0h4.3v4.3h-4.3zM1202.5 598.0h4.8v4.8h-4.8zM1189.5 682.2h3.0v3.0h-3.0zM1183.7 669.3h2.7v2.7h-2.7zM1199.2 563.6h4.9v4.9h-4.9zM1165.9 764.0h2.0v2.0h-2.0zM1179.7 724.4h2.3v2.3h-2.3zM1162.5 770.7h2.0v2.0h-2.0zM1187.0 648.2h3.0v3.0h-3.0zM1198.0 545.7h4.4v4.4h-4.4zM1182.8 646.2h2.7v2.7h-2.7zM1213.6 556.1h4.7v4.7h-4.7zM1174.2 718.6h2.5v2.5h-2.5zM1189.7 611.8h3.7v3.7h-3.7zM1196.7 655.9h3.4v3.4h-3.4zM1192.6 678.7h2.8v2.8h-2.8zM1175.9 718.2h2.4v2.4h-2.4zM1178.2 687.3h2.5v2.5h-2.5zM1182.5 662.5h2.7v2.7h-2.7zM1230.0 630.6h4.0v4.0h-4.0zM1172.3 750.0h2.2v2.2h-2.2zM1188.6 683.9h2.6v2.6h-2.6zM1184.0 650.5h3.1v3.1h-3.1zM1183.6 667.2h2.8v2.8h-2.8zM1175.1 759.8h2.1v2.1h-2.1zM1183.1 702.6h2.5v2.5h-2.5zM1176.6 721.2h2.4v2.4h-2.4zM1200.0 573.9h4.2v4.2h-4.2zM1164.9 760.3h2.0v2.0h-2.0zM1172.7 736.0h2.2v2.2h-2.2zM1201.6 576.0h5.2v5.2h-5.2zM1190.2 603.5h3.3v3.3h-3.3zM1164.6 771.3h1.9v1.9h-1.9zM1163.5 767.4h2.0v2.0h-2.0zM1194.0 633.1h3.8v3.8h-3.8zM1190.1 665.1h2.9v2.9h-2.9zM1170.0 744.4h2.1v2.1h-2.1zM1186.8 631.0h3.4v3.4h-3.4zM1178.8 686.1h2.5v2.5h-2.5zM1170.8 745.3h2.1v2.1h-2.1zM1183.7 743.7h2.3v2.3h-2.3zM1182.7 655.7h3.1v3.1h-3.1zM1167.4 758.2h2.1v2.1h-2.1zM1206.5 593.2h4.6v4.6h-4.6zM1188.0 653.9h3.3v3.3h-3.3zM1188.7 666.3h2.9v2.9h-2.9zM1189.3 710.3h2.6v2.6h-2.6zM1175.1 712.8h2.4v2.4h-2.4zM1226.2 558.6h5.2v5.2h-5.2zM1191.9 695.3h2.6v2.6h-2.6zM1204.9 629.6h4.2v4.2h-4.2zM1184.0 630.7h3.4v3.4h-3.4zM1186.1 699.4h2.7v2.7h-2.7zM1151.1 779.6h1.9v1.9h-1.9zM1168.8 754.0h2.1v2.1h-2.1zM1181.5 708.0h2.6v2.6h-2.6zM1220.5 694.6h3.5v3.5h-3.5zM1163.2 760.9h2.1v2.1h-2.1zM1193.9 742.8h2.4v2.4h-2.4zM1217.4 702.1h3.4v3.4h-3.4zM1185.2 677.5h2.7v2.7h-2.7zM1173.2 722.5h2.4v2.4h-2.4zM1143.1 782.0h1.9v1.9h-1.9zM1198.6 608.5h4.1v4.1h-4.1zM1184.1 726.3h2.5v2.5h-2.5zM1150.3 779.0h1.9v1.9h-1.9zM1182.4 643.9h2.9v2.9h-2.9zM1186.8 645.1h3.6v3.6h-3.6zM1184.6 659.3h2.8v2.8h-2.8zM1190.6 599.8h4.3v4.3h-4.3zM1134.8 785.1h1.8v1.8h-1.8zM1179.1 686.6h2.6v2.6h-2.6zM1136.8 786.9h1.8v1.8h-1.8zM1192.6 717.5h2.8v2.8h-2.8zM1208.1 552.8h4.3v4.3h-4.3zM1197.7 575.3h5.0v5.0h-5.0zM1197.6 739.9h2.3v2.3h-2.3zM1178.2 719.5h2.3v2.3h-2.3zM1203.6 682.7h3.6v3.6h-3.6zM1233.1 556.3h7.4v7.4h-7.4zM1171.6 742.0h2.1v2.1h-2.1zM1172.3 752.0h2.1v2.1h-2.1zM1206.7 688.2h3.5v3.5h-3.5zM1171.6 730.9h2.3v2.3h-2.3zM1220.3 622.3h4.8v4.8h-4.8zM1198.2 572.5h4.2v4.2h-4.2zM1187.2 617.3h3.4v3.4h-3.4zM1194.9 583.0h3.6v3.6h-3.6zM1177.1 757.9h2.1v2.1h-2.1zM1212.0 560.2h5.0v5.0h-5.0zM1197.3 543.7h4.7v4.7h-4.7zM1192.7 605.6h3.8v3.8h-3.8zM1198.5 571.0h4.6v4.6h-4.6zM1233.7 549.0h5.6v5.6h-5.6zM1198.6 539.1h4.3v4.3h-4.3zM1184.1 641.2h3.1v3.1h-3.1zM1195.0 592.6h3.9v3.9h-3.9zM1195.0 577.7h3.7v3.7h-3.7zM1190.2 631.1h3.8v3.8h-3.8zM1179.7 743.7h2.3v2.3h-2.3zM1183.2 655.1h2.7v2.7h-2.7zM1197.8 692.5h3.1v3.1h-3.1zM1171.2 763.4h2.0v2.0h-2.0zM1203.5 562.8h5.2v5.2h-5.2zM1196.1 547.2h3.8v3.8h-3.8zM1178.9 748.3h2.3v2.3h-2.3zM1182.0 722.1h2.6v2.6h-2.6zM1187.9 719.1h2.4v2.4h-2.4zM1194.8 589.0h3.4v3.4h-3.4zM1187.9 661.1h2.8v2.8h-2.8zM1199.9 570.7h4.5v4.5h-4.5zM1182.6 653.4h2.7v2.7h-2.7zM1185.9 646.9h3.3v3.3h-3.3zM1239.0 581.2h7.0v7.0h-7.0zM1183.7 656.9h3.1v3.1h-3.1zM1171.3 740.3h2.2v2.2h-2.2zM1185.1 634.7h3.7v3.7h-3.7zM1182.5 706.5h2.5v2.5h-2.5zM1192.6 645.5h3.2v3.2h-3.2zM1175.3 710.8h2.3v2.3h-2.3zM1206.5 558.0h4.4v4.4h-4.4zM1196.8 581.8h3.7v3.7h-3.7zM1184.8 718.3h2.5v2.5h-2.5zM1201.2 537.3h5.1v5.1h-5.1zM1178.5 706.8h2.4v2.4h-2.4zM1137.6 784.9h1.9v1.9h-1.9zM1185.9 668.0h3.2v3.2h-3.2zM1188.6 709.8h2.7v2.7h-2.7zM1209.2 635.4h4.3v4.3h-4.3zM1164.7 755.7h2.1v2.1h-2.1zM1199.0 588.8h3.6v3.6h-3.6zM1214.4 681.8h3.0v3.0h-3.0zM1196.3 622.3h3.6v3.6h-3.6zM1195.3 641.1h3.6v3.6h-3.6zM1183.7 633.8h3.6v3.6h-3.6zM1200.3 549.1h4.3v4.3h-4.3zM1215.0 570.6h6.1v6.1h-6.1zM1183.3 658.3h3.0v3.0h-3.0zM1193.8 622.2h3.4v3.4h-3.4zM1193.1 676.0h3.0v3.0h-3.0zM1203.1 601.5h4.1v4.1h-4.1zM1197.1 682.0h2.9v2.9h-2.9zM1177.3 721.7h2.4v2.4h-2.4zM1185.9 650.9h2.9v2.9h-2.9zM1205.7 588.5h4.6v4.6h-4.6zM1201.4 594.2h3.5v3.5h-3.5zM1192.2 671.8h3.4v3.4h-3.4zM1183.8 649.6h3.4v3.4h-3.4zM1174.4 726.4h2.2v2.2h-2.2zM1172.6 759.0h2.1v2.1h-2.1zM1198.1 588.9h4.5v4.5h-4.5zM1201.3 606.5h4.1v4.1h-4.1zM1197.2 570.4h3.6v3.6h-3.6zM1198.0 584.6h3.8v3.8h-3.8zM1193.2 605.2h3.4v3.4h-3.4zM1197.0 658.2h3.5v3.5h-3.5zM1157.2 776.2h1.9v1.9h-1.9zM1193.9 631.6h4.0v4.0h-4.0zM1186.2 625.5h3.7v3.7h-3.7zM1197.0 661.5h3.7v3.7h-3.7zM1195.2 576.5h4.7v4.7h-4.7zM1205.5 589.5h5.0v5.0h-5.0zM1185.1 691.5h2.8v2.8h-2.8zM1187.3 625.0h3.3v3.3h-3.3zM1175.4 714.0h2.5v2.5h-2.5zM1203.2 557.7h5.3v5.3h-5.3zM1211.6 630.9h4.6v4.6h-4.6zM1203.3 621.8h4.0v4.0h-4.0zM1196.2 708.3h2.8v2.8h-2.8zM1155.7 774.8h1.9v1.9h-1.9zM1159.4 769.4h1.9v1.9h-1.9zM1205.0 551.4h4.4v4.4h-4.4zM1137.2 786.2h1.8v1.8h-1.8zM1184.4 666.8h3.0v3.0h-3.0zM1197.1 565.2h4.9v4.9h-4.9zM1180.0 675.5h2.7v2.7h-2.7zM1153.5 775.2h1.9v1.9h-1.9zM1177.9 713.3h2.5v2.5h-2.5zM1165.4 754.2h2.1v2.1h-2.1zM1143.7 782.0h1.9v1.9h-1.9zM1201.6 552.6h4.7v4.7h-4.7zM1185.0 690.6h2.9v2.9h-2.9zM1184.5 648.2h3.3v3.3h-3.3zM1167.4 773.9h1.9v1.9h-1.9zM1180.0 667.4h2.6v2.6h-2.6zM1171.6 733.3h2.2v2.2h-2.2zM1193.1 589.6h4.0v4.0h-4.0zM1198.9 541.2h5.0v5.0h-5.0zM1204.2 586.1h4.4v4.4h-4.4zM1194.8 697.5h2.6v2.6h-2.6zM1198.9 588.9h4.6v4.6h-4.6zM1159.7 768.6h2.0v2.0h-2.0zM1191.0 600.5h3.5v3.5h-3.5zM1227.3 557.8h5.7v5.7h-5.7zM1195.3 637.8h3.4v3.4h-3.4zM1194.3 579.5h4.2v4.2h-4.2zM1197.0 564.9h4.6v4.6h-4.6zM1183.6 642.6h3.3v3.3h-3.3zM1179.7 677.9h2.8v2.8h-2.8zM1134.8 786.0h1.8v1.8h-1.8zM1224.3 666.1h3.3v3.3h-3.3zM1179.4 753.4h2.1v2.1h-2.1zM1201.1 544.7h5.0v5.0h-5.0zM1198.0 539.4h4.7v4.7h-4.7zM1233.0 549.6h6.3v6.3h-6.3zM1191.7 590.6h4.2v4.2h-4.2zM1186.7 657.0h2.9v2.9h-2.9zM1159.5 767.2h1.9v1.9h-1.9zM1221.3 695.9h3.6v3.6h-3.6zM1142.5 786.8h1.8v1.8h-1.8zM1156.7 773.2h1.9v1.9h-1.9zM1178.5 722.8h2.2v2.2h-2.2zM1169.3 740.2h2.3v2.3h-2.3zM1190.8 612.9h3.2v3.2h-3.2zM1160.8 773.1h1.9v1.9h-1.9zM1162.3 761.5h2.0v2.0h-2.0zM1187.7 682.2h3.1v3.1h-3.1zM1178.9 681.8h2.7v2.7h-2.7zM1178.3 707.7h2.4v2.4h-2.4zM1164.2 759.1h2.1v2.1h-2.1zM1187.5 669.4h2.9v2.9h-2.9zM1192.7 599.7h3.8v3.8h-3.8zM1157.4 769.9h1.9v1.9h-1.9zM1179.7 668.8h3.0v3.0h-3.0zM1198.6 555.1h3.7v3.7h-3.7zM1205.5 575.4h5.0v5.0h-5.0zM1201.9 619.9h4.5v4.5h-4.5zM1180.8 692.9h2.5v2.5h-2.5zM1216.3 615.7h4.6v4.6h-4.6zM1182.6 666.6h2.8v2.8h-2.8zM1191.1 607.9h3.9v3.9h-3.9zM1188.0 615.6h3.4v3.4h-3.4zM1165.6 756.9h2.1v2.1h-2.1zM1209.5 628.0h4.0v4.0h-4.0zM1196.3 663.7h3.6v3.6h-3.6zM1216.6 566.7h5.9v5.9h-5.9zM1173.8 725.7h2.4v2.4h-2.4zM1169.3 778.0h1.9v1.9h-1.9zM1197.0 620.1h3.3v3.3h-3.3zM1192.7 713.1h2.7v2.7h-2.7zM1185.5 685.0h2.6v2.6h-2.6zM1182.8 641.2h3.0v3.0h-3.0zM1210.3 555.9h4.4v4.4h-4.4zM1175.1 744.8h2.2v2.2h-2.2zM1209.6 592.9h5.3v5.3h-5.3zM1216.3 552.8h4.7v4.7h-4.7zM1186.1 639.7h3.6v3.6h-3.6zM1186.3 636.9h2.9v2.9h-2.9zM1196.0 632.1h3.4v3.4h-3.4zM1185.8 670.8h2.9v2.9h-2.9zM1196.8 547.9h4.1v4.1h-4.1zM1194.4 695.9h3.0v3.0h-3.0zM1164.1 764.4h2.0v2.0h-2.0zM1161.3 760.7h2.0v2.0h-2.0zM1201.8 589.3h4.2v4.2h-4.2zM1183.1 679.2h2.9v2.9h-2.9zM1183.2 667.0h2.6v2.6h-2.6zM1191.7 689.3h3.0v3.0h-3.0zM1178.1 686.0h2.7v2.7h-2.7zM1184.2 712.4h2.5v2.5h-2.5zM1201.2 629.9h4.1v4.1h-4.1zM1197.4 652.9h3.7v3.7h-3.7zM1182.7 689.8h2.9v2.9h-2.9zM1158.2 778.2h1.9v1.9h-1.9zM1177.3 732.3h2.3v2.3h-2.3zM1186.0 641.0h2.8v2.8h-2.8zM1201.7 618.6h3.3v3.3h-3.3zM1218.2 562.0h6.1v6.1h-6.1zM1163.5 772.4h2.0v2.0h-2.0zM1193.2 625.8h3.5v3.5h-3.5zM1218.7 543.4h5.0v5.0h-5.0zM1210.4 558.2h4.5v4.5h-4.5zM1198.9 702.0h2.8v2.8h-2.8zM1207.1 579.3h5.3v5.3h-5.3zM1205.0 572.5h4.4v4.4h-4.4zM1184.3 649.2h3.3v3.3h-3.3zM1238.3 558.4h6.3v6.3h-6.3zM1198.0 611.5h4.1v4.1h-4.1zM1143.5 782.2h1.9v1.9h-1.9zM1198.1 634.9h3.5v3.5h-3.5zM1210.7 576.1h5.5v5.5h-5.5zM1191.2 738.7h2.5v2.5h-2.5zM1191.7 606.1h3.1v3.1h-3.1zM1184.8 737.1h2.4v2.4h-2.4zM1187.3 645.7h3.1v3.1h-3.1zM1156.7 773.8h1.9v1.9h-1.9zM1183.5 696.3h2.5v2.5h-2.5zM1191.8 672.3h2.9v2.9h-2.9zM1191.8 634.2h3.7v3.7h-3.7zM1180.9 705.7h2.4v2.4h-2.4zM1186.3 628.1h3.3v3.3h-3.3zM1162.2 770.0h2.0v2.0h-2.0zM1190.8 615.8h3.4v3.4h-3.4zM1172.4 760.0h2.0v2.0h-2.0zM1202.8 568.9h4.2v4.2h-4.2zM1167.9 764.3h2.0v2.0h-2.0zM1178.8 687.5h2.9v2.9h-2.9zM1159.7 765.8h2.0v2.0h-2.0zM1183.6 682.2h2.7v2.7h-2.7zM1196.4 575.9h4.4v4.4h-4.4zM1196.2 548.6h4.0v4.0h-4.0zM1180.5 721.3h2.5v2.5h-2.5zM1196.7 688.3h3.3v3.3h-3.3zM1138.3 784.2h1.9v1.9h-1.9zM1203.2 560.7h5.6v5.6h-5.6zM1198.0 665.0h3.4v3.4h-3.4zM1197.9 609.7h4.1v4.1h-4.1zM1194.3 704.9h2.7v2.7h-2.7zM1185.0 642.5h3.2v3.2h-3.2zM1186.7 720.6h2.3v2.3h-2.3zM1178.8 724.4h2.3v2.3h-2.3zM1189.7 640.6h3.6v3.6h-3.6zM1180.9 680.2h2.5v2.5h-2.5zM1205.5 574.9h4.4v4.4h-4.4zM1167.4 755.7h2.0v2.0h-2.0zM1209.4 613.1h5.0v5.0h-5.0zM1195.5 620.8h3.4v3.4h-3.4zM1200.9 567.5h4.0v4.0h-4.0zM1219.6 657.0h4.5v4.5h-4.5zM1175.9 753.5h2.1v2.1h-2.1zM1177.8 697.5h2.4v2.4h-2.4zM1175.5 720.0h2.2v2.2h-2.2zM1161.8 759.9h2.1v2.1h-2.1zM1166.5 749.5h2.2v2.2h-2.2zM1158.1 772.2h2.0v2.0h-2.0zM1203.5 574.5h3.9v3.9h-3.9zM1186.7 629.8h3.5v3.5h-3.5zM1193.8 581.6h4.5v4.5h-4.5zM1181.6 677.0h3.0v3.0h-3.0zM1160.8 770.6h1.9v1.9h-1.9zM1187.0 627.0h3.0v3.0h-3.0zM1154.6 776.3h1.9v1.9h-1.9zM1198.3 549.8h4.5v4.5h-4.5zM1189.0 645.2h3.4v3.4h-3.4zM1156.7 771.1h1.9v1.9h-1.9zM1187.7 620.8h3.0v3.0h-3.0zM1177.5 727.9h2.3v2.3h-2.3zM1203.8 562.5h4.4v4.4h-4.4zM1196.8 565.2h5.1v5.1h-5.1zM1142.8 786.2h1.8v1.8h-1.8zM1184.9 684.8h2.9v2.9h-2.9zM1160.1 767.1h2.0v2.0h-2.0zM1177.2 719.8h2.3v2.3h-2.3zM1168.8 743.2h2.2v2.2h-2.2zM1194.2 585.0h4.0v4.0h-4.0zM1188.8 613.5h3.3v3.3h-3.3zM1190.5 616.0h3.3v3.3h-3.3zM1218.4 616.4h4.8v4.8h-4.8zM1194.7 609.3h3.6v3.6h-3.6zM1171.5 753.6h2.0v2.0h-2.0zM1179.8 674.6h2.7v2.7h-2.7zM1182.1 696.6h2.6v2.6h-2.6zM1207.9 638.4h3.4v3.4h-3.4zM1185.7 701.2h2.4v2.4h-2.4zM1186.3 654.7h2.7v2.7h-2.7zM1201.4 664.6h3.8v3.8h-3.8zM1203.0 757.9h2.2v2.2h-2.2zM1180.0 715.4h2.5v2.5h-2.5zM1188.6 624.1h3.4v3.4h-3.4zM1168.9 776.5h2.0v2.0h-2.0zM1181.0 672.9h2.6v2.6h-2.6zM1234.4 548.5h7.4v7.4h-7.4zM1196.6 620.4h3.7v3.7h-3.7zM1198.9 575.7h4.6v4.6h-4.6zM1183.6 706.7h2.4v2.4h-2.4zM1170.2 746.1h2.2v2.2h-2.2zM1168.7 744.5h2.2v2.2h-2.2zM1197.4 560.2h4.0v4.0h-4.0zM1186.0 625.0h3.0v3.0h-3.0zM1177.6 711.9h2.4v2.4h-2.4zM1189.7 627.6h3.3v3.3h-3.3zM1188.1 656.0h3.0v3.0h-3.0zM1173.9 718.6h2.3v2.3h-2.3zM1225.7 545.9h6.1v6.1h-6.1zM1191.5 599.8h3.8v3.8h-3.8zM1177.9 704.7h2.5v2.5h-2.5zM1229.4 567.8h5.1v5.1h-5.1zM1225.9 723.1h3.2v3.2h-3.2zM1191.6 662.3h2.8v2.8h-2.8zM1225.1 670.5h3.3v3.3h-3.3zM1253.2 597.6h7.2v7.2h-7.2zM1212.0 681.7h3.3v3.3h-3.3zM1203.5 633.4h3.4v3.4h-3.4zM1204.6 619.7h4.2v4.2h-4.2zM1219.2 592.6h5.5v5.5h-5.5zM1194.5 646.7h3.3v3.3h-3.3zM1262.8 613.3h6.7v6.7h-6.7zM1264.8 647.2h5.7v5.7h-5.7zM1256.5 595.1h7.4v7.4h-7.4zM1221.1 667.3h4.4v4.4h-4.4zM1197.2 699.2h2.5v2.5h-2.5zM1205.1 691.3h3.4v3.4h-3.4zM1221.5 725.5h3.1v3.1h-3.1zM1222.3 611.0h4.3v4.3h-4.3zM1212.8 560.7h5.3v5.3h-5.3zM1197.9 616.8h3.6v3.6h-3.6zM1215.9 575.9h5.6v5.6h-5.6zM1208.9 577.3h5.2v5.2h-5.2zM1192.1 664.3h2.8v2.8h-2.8zM1284.0 537.6h7.4v7.4h-7.4zM1232.2 619.2h4.5v4.5h-4.5zM1195.1 651.2h3.6v3.6h-3.6zM1187.2 708.9h2.5v2.5h-2.5zM1198.7 624.1h3.5v3.5h-3.5zM1187.8 742.7h2.4v2.4h-2.4zM1231.0 617.6h6.0v6.0h-6.0zM1218.4 676.7h3.4v3.4h-3.4zM1191.8 678.2h2.9v2.9h-2.9zM1191.1 696.9h2.7v2.7h-2.7zM1227.5 721.5h3.2v3.2h-3.2zM1241.9 554.6h5.4v5.4h-5.4zM1172.2 760.4h2.1v2.1h-2.1zM1225.7 597.3h4.2v4.2h-4.2zM1218.0 567.7h6.4v6.4h-6.4zM1215.6 550.2h6.3v6.3h-6.3zM1262.1 596.4h5.7v5.7h-5.7zM1211.3 575.9h4.1v4.1h-4.1zM1208.6 541.6h5.7v5.7h-5.7zM1279.0 591.9h7.4v7.4h-7.4zM1222.0 679.4h3.6v3.6h-3.6zM1208.0 713.4h3.2v3.2h-3.2zM1214.4 653.0h4.3v4.3h-4.3zM1213.3 631.0h4.8v4.8h-4.8zM1202.3 761.2h2.4v2.4h-2.4zM1214.0 597.7h4.6v4.6h-4.6zM1184.4 720.3h2.5v2.5h-2.5zM1216.4 678.7h3.5v3.5h-3.5zM1182.5 779.8h2.0v2.0h-2.0zM1292.5 553.9h7.4v7.4h-7.4zM1203.6 741.6h2.7v2.7h-2.7zM1244.5 660.8h4.0v4.0h-4.0zM1270.0 605.9h7.4v7.4h-7.4zM1198.3 676.3h3.0v3.0h-3.0zM1237.2 720.8h3.3v3.3h-3.3zM1227.2 611.6h4.6v4.6h-4.6zM1206.1 625.9h3.6v3.6h-3.6zM1184.4 538.5h3.9v3.9h-3.9zM1148.6 537.9h2.6v2.6h-2.6zM1152.1 542.8h2.6v2.6h-2.6zM1175.8 536.8h3.4v3.4h-3.4zM1149.5 540.9h2.9v2.9h-2.9zM1166.0 540.1h3.7v3.7h-3.7zM1171.4 539.4h3.2v3.2h-3.2zM1167.3 538.0h3.3v3.3h-3.3zM1182.7 539.3h3.9v3.9h-3.9zM1143.7 533.7h2.9v2.9h-2.9zM1216.9 540.1h4.7v4.7h-4.7zM1171.3 535.4h3.9v3.9h-3.9zM1215.0 533.4h6.6v6.6h-6.6zM1178.3 539.2h4.1v4.1h-4.1zM1157.9 539.4h3.5v3.5h-3.5zM1162.3 540.9h3.4v3.4h-3.4zM1188.5 543.3h4.2v4.2h-4.2zM1144.3 536.0h2.9v2.9h-2.9zM1191.5 539.6h5.2v5.2h-5.2zM1138.3 533.8h2.4v2.4h-2.4zM1182.2 533.7h4.1v4.1h-4.1zM1145.1 539.8h2.6v2.6h-2.6zM1154.8 539.9h2.6v2.6h-2.6zM1213.4 536.9h6.7v6.7h-6.7zM1176.0 541.6h4.2v4.2h-4.2zM1207.7 541.6h4.2v4.2h-4.2zM1159.3 542.5h2.9v2.9h-2.9zM1156.3 542.6h3.0v3.0h-3.0zM1153.5 537.0h2.8v2.8h-2.8zM1192.0 543.7h3.9v3.9h-3.9zM1212.9 537.3h6.4v6.4h-6.4zM1198.3 537.3h4.3v4.3h-4.3zM1207.6 537.7h4.9v4.9h-4.9zM1157.0 537.4h3.2v3.2h-3.2zM1204.2 541.7h5.3v5.3h-5.3zM1194.7 542.0h4.5v4.5h-4.5zM1156.4 535.6h2.8v2.8h-2.8zM1171.4 535.5h3.4v3.4h-3.4zM1183.0 533.6h3.6v3.6h-3.6zM1215.8 534.8h6.1v6.1h-6.1zM1175.7 534.9h3.3v3.3h-3.3zM1141.4 541.0h2.9v2.9h-2.9zM1215.4 539.3h5.8v5.8h-5.8zM1155.5 539.8h2.9v2.9h-2.9zM1175.9 537.4h4.3v4.3h-4.3zM1217.1 540.7h5.3v5.3h-5.3zM1212.1 540.6h4.4v4.4h-4.4zM1200.4 539.1h4.3v4.3h-4.3zM1203.9 537.3h4.3v4.3h-4.3zM1198.0 535.9h4.7v4.7h-4.7zM1168.3 537.3h3.8v3.8h-3.8zM1160.7 536.7h3.6v3.6h-3.6zM1158.9 538.5h2.9v2.9h-2.9zM1164.6 536.4h3.1v3.1h-3.1zM1191.8 532.3h4.8v4.8h-4.8zM1152.5 538.3h2.7v2.7h-2.7zM1195.1 538.0h5.1v5.1h-5.1zM1182.7 536.5h4.3v4.3h-4.3zM1197.0 536.8h5.6v5.6h-5.6zM1268.9 537.1h7.8v7.8h-7.8zM1294.9 585.7h7.8v7.8h-7.8zM1102.6 585.7h1.8v1.8h-1.8zM1088.7 749.6h2.1v2.1h-2.1zM1101.8 676.3h2.1v2.1h-2.1zM1114.2 605.0h2.0v2.0h-2.0zM1099.2 707.4h1.8v1.8h-1.8zM1101.7 625.6h1.7v1.7h-1.7zM1096.4 708.8h1.9v1.9h-1.9zM1091.1 780.4h2.0v2.0h-2.0zM1097.9 721.8h2.3v2.3h-2.3zM1119.6 557.3h1.7v1.7h-1.7zM1114.2 599.4h1.7v1.7h-1.7zM1097.7 724.5h2.0v2.0h-2.0zM1113.3 579.7h2.2v2.2h-2.2zM1093.7 662.4h1.9v1.9h-1.9zM1090.5 765.7h1.9v1.9h-1.9zM1115.2 598.5h1.7v1.7h-1.7zM1093.0 594.4h1.8v1.8h-1.8zM1109.2 605.1h2.2v2.2h-2.2zM1092.2 751.9h1.8v1.8h-1.8zM1108.8 556.3h1.9v1.9h-1.9zM1094.1 586.9h2.1v2.1h-2.1zM1108.1 626.0h2.2v2.2h-2.2zM1125.3 562.5h2.0v2.0h-2.0zM1105.4 656.9h2.3v2.3h-2.3zM1123.0 548.8h1.8v1.8h-1.8zM1105.0 645.9h1.8v1.8h-1.8zM1113.5 576.7h1.8v1.8h-1.8zM1106.1 655.4h2.0v2.0h-2.0zM1113.7 599.6h1.9v1.9h-1.9zM1135.4 542.5h2.1v2.1h-2.1zM1115.2 553.0h1.9v1.9h-1.9zM1112.5 548.5h1.8v1.8h-1.8zM1096.0 572.1h2.3v2.3h-2.3zM1094.4 742.4h1.7v1.7h-1.7zM1093.5 663.0h2.2v2.2h-2.2zM1101.2 685.0h1.8v1.8h-1.8zM1124.4 554.4h1.8v1.8h-1.8zM1125.4 547.1h2.3v2.3h-2.3zM1102.8 556.1h2.1v2.1h-2.1zM1101.2 667.6h1.9v1.9h-1.9zM1126.7 559.1h1.9v1.9h-1.9zM1090.9 747.7h2.0v2.0h-2.0zM1126.7 553.0h1.8v1.8h-1.8zM1096.2 657.1h1.9v1.9h-1.9zM1118.9 575.2h2.2v2.2h-2.2zM1093.2 730.4h2.0v2.0h-2.0zM1104.1 573.7h2.1v2.1h-2.1zM1117.4 569.7h2.0v2.0h-2.0zM1093.0 759.6h2.2v2.2h-2.2zM1116.9 550.6h2.0v2.0h-2.0zM1093.5 782.6h2.0v2.0h-2.0zM1100.9 654.6h1.8v1.8h-1.8zM1100.8 683.6h2.2v2.2h-2.2zM1094.7 724.1h1.8v1.8h-1.8zM1101.1 693.3h2.1v2.1h-2.1zM1095.1 608.6h2.1v2.1h-2.1zM1095.9 686.3h1.8v1.8h-1.8zM1118.5 564.2h1.8v1.8h-1.8zM1103.4 669.3h2.2v2.2h-2.2zM1089.9 744.4h2.0v2.0h-2.0zM1104.7 547.6h2.2v2.2h-2.2zM1113.7 576.8h2.1v2.1h-2.1zM1110.5 624.8h1.8v1.8h-1.8zM1092.7 678.8h2.1v2.1h-2.1zM1099.9 580.1h2.2v2.2h-2.2zM1130.6 542.8h2.2v2.2h-2.2zM1092.0 593.0h1.8v1.8h-1.8zM1096.5 570.6h2.1v2.1h-2.1zM1093.8 699.0h2.0v2.0h-2.0zM1092.8 772.2h2.1v2.1h-2.1zM1106.6 635.5h1.9v1.9h-1.9zM1113.9 587.3h2.2v2.2h-2.2zM1095.1 645.8h1.8v1.8h-1.8zM1107.7 637.7h2.0v2.0h-2.0zM1109.4 604.6h2.2v2.2h-2.2zM1116.5 560.5h2.3v2.3h-2.3zM1103.9 557.5h2.1v2.1h-2.1zM1120.9 566.6h2.1v2.1h-2.1zM1113.0 607.7h2.1v2.1h-2.1zM1107.0 629.5h1.7v1.7h-1.7zM1098.5 671.1h2.2v2.2h-2.2zM1100.0 674.8h2.0v2.0h-2.0zM1098.9 673.4h1.9v1.9h-1.9zM1097.1 720.3h2.1v2.1h-2.1zM1115.4 593.3h1.8v1.8h-1.8zM1101.3 623.7h2.3v2.3h-2.3zM1113.2 576.2h1.8v1.8h-1.8zM1102.7 689.2h1.7v1.7h-1.7zM1106.4 660.5h1.9v1.9h-1.9zM1099.4 697.9h2.0v2.0h-2.0zM1092.7 683.3h2.1v2.1h-2.1zM1104.9 669.1h2.1v2.1h-2.1zM1104.2 584.2h2.3v2.3h-2.3zM1105.9 664.1h1.9v1.9h-1.9zM1091.7 643.0h2.3v2.3h-2.3zM1103.0 666.2h1.7v1.7h-1.7zM1108.7 643.9h1.7v1.7h-1.7zM1097.7 712.6h2.0v2.0h-2.0zM1128.9 790.1h2.1v2.1h-2.1zM1100.8 788.7h1.8v1.8h-1.8zM1142.5 791.6h2.0v2.0h-2.0zM1120.9 790.4h1.7v1.7h-1.7zM1142.1 788.1h1.8v1.8h-1.8zM1136.1 798.6h1.8v1.8h-1.8zM1108.2 792.8h1.7v1.7h-1.7zM1136.2 788.9h1.8v1.8h-1.8zM1107.7 788.5h1.9v1.9h-1.9zM1144.5 789.7h1.9v1.9h-1.9zM1108.8 788.9h1.8v1.8h-1.8zM1137.5 789.2h1.8v1.8h-1.8zM1141.4 789.0h1.7v1.7h-1.7zM1100.8 792.8h2.2v2.2h-2.2zM1104.4 791.9h1.9v1.9h-1.9zM1108.8 791.3h1.8v1.8h-1.8zM1108.5 787.7h2.1v2.1h-2.1zM1143.3 787.9h2.2v2.2h-2.2zM1141.9 791.0h2.0v2.0h-2.0zM1101.7 790.3h1.8v1.8h-1.8zM1123.8 789.7h1.7v1.7h-1.7zM1129.2 790.5h1.9v1.9h-1.9zM1129.2 790.1h2.2v2.2h-2.2zM1107.4 789.4h2.0v2.0h-2.0zM1126.4 788.4h1.9v1.9h-1.9zM1138.2 793.4h1.7v1.7h-1.7zM1096.5 788.1h2.0v2.0h-2.0zM1127.7 789.5h1.8v1.8h-1.8zM1135.3 788.1h2.0v2.0h-2.0zM1128.9 788.8h2.3v2.3h-2.3zM1112.3 788.0h2.1v2.1h-2.1zM1091.1 789.8h1.9v1.9h-1.9zM1102.8 788.5h1.8v1.8h-1.8z" fill="#3aa63a"/>
<path d="M1204.0 651.1h3.7v3.7h-3.7zM1193.3 701.9h2.9v2.9h-2.9zM1189.4 693.5h2.6v2.6h-2.6zM1191.8 713.4h2.4v2.4h-2.4zM1216.6 601.1h4.4v4.4h-4.4zM1189.0 631.9h3.5v3.5h-3.5zM1199.1 562.0h4.8v4.8h-4.8zM1201.2 659.5h3.3v3.3h-3.3zM1187.6 657.1h3.2v3.2h-3.2zM1207.0 581.1h5.4v5.4h-5.4zM1193.7 628.6h3.7v3.7h-3.7zM1213.9 555.4h5.7v5.7h-5.7zM1132.4 787.4h1.8v1.8h-1.8zM1187.7 672.9h3.3v3.3h-3.3zM1174.8 717.7h2.3v2.3h-2.3zM1203.2 623.5h3.9v3.9h-3.9zM1154.8 772.6h1.9v1.9h-1.9zM1185.0 652.6h2.7v2.7h-2.7zM1171.6 729.7h2.2v2.2h-2.2zM1179.4 751.9h2.1v2.1h-2.1zM1168.6 750.1h2.2v2.2h-2.2zM1187.4 660.5h2.9v2.9h-2.9zM1175.7 737.7h2.1v2.1h-2.1zM1212.2 574.0h5.5v5.5h-5.5zM1197.3 687.4h3.1v3.1h-3.1zM1133.4 786.8h1.8v1.8h-1.8zM1153.6 779.7h1.9v1.9h-1.9zM1169.0 744.7h2.1v2.1h-2.1zM1190.8 658.3h3.2v3.2h-3.2zM1173.8 724.9h2.2v2.2h-2.2zM1158.6 774.8h2.0v2.0h-2.0zM1169.8 741.7h2.1v2.1h-2.1zM1176.7 713.4h2.3v2.3h-2.3zM1213.6 549.1h5.0v5.0h-5.0zM1170.5 740.5h2.2v2.2h-2.2zM1179.9 709.0h2.3v2.3h-2.3zM1172.0 772.0h2.0v2.0h-2.0zM1223.1 568.4h5.2v5.2h-5.2zM1189.1 612.3h3.5v3.5h-3.5zM1193.2 583.5h4.2v4.2h-4.2zM1168.4 745.7h2.2v2.2h-2.2zM1165.1 763.5h2.1v2.1h-2.1zM1190.0 726.5h2.4v2.4h-2.4zM1208.3 710.7h3.1v3.1h-3.1zM1185.0 668.5h3.2v3.2h-3.2zM1210.6 601.5h3.9v3.9h-3.9zM1183.5 674.5h2.9v2.9h-2.9zM1200.3 618.8h3.8v3.8h-3.8zM1201.8 567.2h4.5v4.5h-4.5zM1175.7 733.5h2.1v2.1h-2.1zM1173.1 775.1h1.9v1.9h-1.9zM1192.8 674.8h3.3v3.3h-3.3zM1135.4 785.2h1.8v1.8h-1.8zM1195.0 584.8h4.0v4.0h-4.0zM1184.6 684.4h2.7v2.7h-2.7zM1208.1 576.8h4.7v4.7h-4.7zM1182.0 661.8h2.7v2.7h-2.7zM1209.2 563.8h5.6v5.6h-5.6zM1161.5 775.0h2.0v2.0h-2.0zM1173.9 726.0h2.3v2.3h-2.3zM1197.5 547.6h5.2v5.2h-5.2zM1180.5 747.0h2.3v2.3h-2.3zM1168.4 758.9h2.0v2.0h-2.0zM1220.2 555.7h4.6v4.6h-4.6zM1180.6 701.5h2.4v2.4h-2.4zM1207.0 627.6h3.9v3.9h-3.9zM1203.9 680.5h3.0v3.0h-3.0zM1194.6 626.9h4.1v4.1h-4.1zM1156.5 774.2h1.9v1.9h-1.9zM1142.4 781.8h1.9v1.9h-1.9zM1228.3 546.4h6.5v6.5h-6.5zM1183.1 654.0h2.7v2.7h-2.7zM1188.1 684.2h2.8v2.8h-2.8zM1192.7 604.9h3.7v3.7h-3.7zM1171.4 738.0h2.3v2.3h-2.3zM1177.6 694.7h2.7v2.7h-2.7zM1196.5 702.1h2.7v2.7h-2.7zM1188.7 617.0h3.2v3.2h-3.2zM1204.6 552.7h4.7v4.7h-4.7zM1213.6 572.7h5.1v5.1h-5.1zM1184.3 676.9h2.9v2.9h-2.9zM1191.0 691.0h2.8v2.8h-2.8zM1177.5 701.1h2.5v2.5h-2.5zM1187.8 712.0h2.6v2.6h-2.6zM1149.5 778.8h1.9v1.9h-1.9zM1179.1 708.5h2.6v2.6h-2.6zM1198.4 579.3h3.7v3.7h-3.7zM1188.1 618.3h3.1v3.1h-3.1zM1196.5 545.8h4.4v4.4h-4.4zM1193.6 590.4h4.5v4.5h-4.5zM1208.1 539.3h5.2v5.2h-5.2zM1187.5 654.4h3.3v3.3h-3.3zM1176.9 698.8h2.6v2.6h-2.6zM1175.6 746.7h2.3v2.3h-2.3zM1190.5 691.2h3.0v3.0h-3.0zM1188.3 644.3h2.8v2.8h-2.8zM1196.4 567.1h5.0v5.0h-5.0zM1191.9 611.1h4.0v4.0h-4.0zM1222.7 557.5h4.6v4.6h-4.6zM1194.9 619.4h3.3v3.3h-3.3zM1138.3 787.4h1.9v1.9h-1.9zM1205.0 594.1h4.3v4.3h-4.3zM1176.7 765.3h2.0v2.0h-2.0zM1211.8 557.6h5.4v5.4h-5.4zM1209.9 542.2h5.6v5.6h-5.6zM1194.0 585.2h3.7v3.7h-3.7zM1221.9 554.6h6.1v6.1h-6.1zM1192.7 699.0h2.7v2.7h-2.7zM1198.2 575.1h3.6v3.6h-3.6zM1200.5 561.0h4.1v4.1h-4.1zM1201.4 663.2h3.2v3.2h-3.2zM1196.8 636.4h3.4v3.4h-3.4zM1186.0 634.0h3.2v3.2h-3.2zM1179.5 685.2h2.7v2.7h-2.7zM1184.0 667.6h2.9v2.9h-2.9zM1166.6 752.8h2.0v2.0h-2.0zM1198.2 577.9h4.3v4.3h-4.3zM1212.1 698.0h2.9v2.9h-2.9zM1179.4 680.8h2.9v2.9h-2.9zM1190.8 605.4h3.4v3.4h-3.4zM1224.3 624.8h5.1v5.1h-5.1zM1222.8 726.6h2.8v2.8h-2.8zM1144.1 783.6h1.9v1.9h-1.9zM1163.6 760.3h2.0v2.0h-2.0zM1212.3 576.0h5.8v5.8h-5.8zM1167.1 749.8h2.2v2.2h-2.2zM1204.2 559.1h5.5v5.5h-5.5zM1199.6 563.8h4.0v4.0h-4.0zM1158.5 769.4h2.0v2.0h-2.0zM1213.7 578.9h4.5v4.5h-4.5zM1195.7 543.8h3.8v3.8h-3.8zM1210.5 563.6h5.5v5.5h-5.5zM1213.6 608.5h4.5v4.5h-4.5zM1180.0 687.2h2.8v2.8h-2.8zM1199.4 562.8h5.1v5.1h-5.1zM1179.4 700.2h2.7v2.7h-2.7zM1189.8 683.2h2.6v2.6h-2.6zM1196.9 611.4h4.1v4.1h-4.1zM1163.3 756.4h2.1v2.1h-2.1zM1195.6 572.3h5.0v5.0h-5.0zM1191.6 641.1h3.4v3.4h-3.4zM1202.7 564.6h5.0v5.0h-5.0zM1157.6 768.2h2.0v2.0h-2.0zM1160.4 772.4h2.0v2.0h-2.0zM1189.2 616.8h3.6v3.6h-3.6zM1177.8 695.3h2.3v2.3h-2.3zM1214.9 576.0h5.2v5.2h-5.2zM1185.3 626.7h3.7v3.7h-3.7zM1203.8 558.4h5.5v5.5h-5.5zM1186.9 647.1h3.6v3.6h-3.6zM1191.1 619.1h3.3v3.3h-3.3zM1173.4 763.9h2.0v2.0h-2.0zM1213.8 634.6h4.0v4.0h-4.0zM1184.3 654.6h3.2v3.2h-3.2zM1184.4 666.0h2.8v2.8h-2.8zM1192.8 672.7h2.8v2.8h-2.8zM1192.8 591.6h4.1v4.1h-4.1zM1203.5 668.4h3.2v3.2h-3.2zM1182.4 664.6h2.9v2.9h-2.9zM1201.2 539.9h5.7v5.7h-5.7zM1208.7 553.5h5.9v5.9h-5.9zM1205.5 580.2h3.8v3.8h-3.8zM1205.1 595.6h4.7v4.7h-4.7zM1215.3 540.8h6.7v6.7h-6.7zM1171.0 739.8h2.3v2.3h-2.3zM1192.6 643.5h3.0v3.0h-3.0zM1216.0 579.4h5.9v5.9h-5.9zM1179.7 672.2h2.6v2.6h-2.6zM1181.9 675.4h2.9v2.9h-2.9zM1172.9 730.1h2.3v2.3h-2.3zM1201.9 614.2h4.2v4.2h-4.2zM1209.6 559.7h4.5v4.5h-4.5zM1195.0 661.5h3.5v3.5h-3.5zM1160.9 766.6h2.0v2.0h-2.0zM1200.7 569.5h3.8v3.8h-3.8zM1186.3 664.1h3.1v3.1h-3.1zM1177.3 693.1h2.6v2.6h-2.6zM1167.7 761.6h2.0v2.0h-2.0zM1204.4 549.5h5.0v5.0h-5.0zM1180.2 760.0h2.1v2.1h-2.1zM1216.1 552.1h4.7v4.7h-4.7zM1194.6 634.7h4.0v4.0h-4.0zM1166.8 775.2h1.9v1.9h-1.9zM1148.2 783.5h1.9v1.9h-1.9zM1199.5 580.9h4.7v4.7h-4.7zM1160.3 765.0h2.0v2.0h-2.0zM1186.0 684.2h3.0v3.0h-3.0zM1211.7 543.1h6.2v6.2h-6.2zM1187.8 664.6h3.4v3.4h-3.4zM1176.3 746.9h2.1v2.1h-2.1zM1155.8 770.5h2.0v2.0h-2.0zM1195.9 573.9h4.4v4.4h-4.4zM1190.8 658.0h3.2v3.2h-3.2zM1139.3 783.2h1.9v1.9h-1.9zM1192.2 593.3h3.5v3.5h-3.5zM1165.4 752.6h2.1v2.1h-2.1zM1182.9 686.3h2.6v2.6h-2.6zM1196.4 685.0h3.0v3.0h-3.0zM1182.6 684.6h2.6v2.6h-2.6zM1188.9 753.3h2.1v2.1h-2.1zM1159.4 772.3h1.9v1.9h-1.9zM1184.4 633.9h2.9v2.9h-2.9zM1197.9 569.0h5.1v5.1h-5.1zM1189.5 742.3h2.3v2.3h-2.3zM1190.6 616.6h3.7v3.7h-3.7zM1179.6 694.1h2.7v2.7h-2.7zM1198.7 548.8h4.9v4.9h-4.9zM1200.1 569.7h4.5v4.5h-4.5zM1186.4 662.4h3.1v3.1h-3.1zM1197.6 544.5h3.9v3.9h-3.9zM1184.1 640.9h3.5v3.5h-3.5zM1180.7 679.7h2.9v2.9h-2.9zM1202.9 659.2h3.2v3.2h-3.2zM1228.1 555.7h6.3v6.3h-6.3zM1195.1 636.9h3.6v3.6h-3.6zM1209.9 570.7h5.2v5.2h-5.2zM1174.1 747.8h2.1v2.1h-2.1zM1165.0 760.4h2.0v2.0h-2.0zM1200.6 547.6h4.6v4.6h-4.6zM1164.7 763.5h2.0v2.0h-2.0zM1200.5 575.8h5.2v5.2h-5.2zM1195.0 603.2h3.9v3.9h-3.9zM1183.0 664.1h3.0v3.0h-3.0zM1213.4 574.2h4.9v4.9h-4.9zM1155.6 776.3h1.9v1.9h-1.9zM1190.6 629.9h3.9v3.9h-3.9zM1209.5 543.9h4.7v4.7h-4.7zM1174.7 720.9h2.3v2.3h-2.3zM1211.6 567.2h5.3v5.3h-5.3zM1195.4 628.3h3.1v3.1h-3.1zM1156.9 778.3h1.9v1.9h-1.9zM1208.6 676.7h3.7v3.7h-3.7zM1190.3 602.2h3.2v3.2h-3.2zM1198.1 568.5h4.0v4.0h-4.0zM1198.2 563.2h3.9v3.9h-3.9zM1186.6 689.9h2.5v2.5h-2.5zM1194.2 676.9h3.2v3.2h-3.2zM1167.7 762.2h2.0v2.0h-2.0zM1218.1 593.1h5.3v5.3h-5.3zM1187.0 689.0h2.7v2.7h-2.7zM1174.8 734.8h2.2v2.2h-2.2zM1199.0 574.5h4.9v4.9h-4.9zM1187.7 771.2h2.0v2.0h-2.0zM1181.2 652.0h3.2v3.2h-3.2zM1190.0 733.6h2.3v2.3h-2.3zM1201.3 563.3h5.3v5.3h-5.3zM1197.3 558.8h4.4v4.4h-4.4zM1180.3 676.2h2.7v2.7h-2.7zM1211.7 599.5h5.4v5.4h-5.4zM1188.2 643.7h3.0v3.0h-3.0zM1180.1 712.3h2.6v2.6h-2.6zM1178.4 689.9h2.5v2.5h-2.5zM1183.8 682.6h3.0v3.0h-3.0zM1152.7 778.9h1.9v1.9h-1.9zM1188.4 654.3h3.0v3.0h-3.0zM1197.2 541.5h5.0v5.0h-5.0zM1190.1 618.6h3.9v3.9h-3.9zM1148.4 783.9h1.9v1.9h-1.9zM1161.2 762.2h2.0v2.0h-2.0zM1159.2 772.3h1.9v1.9h-1.9zM1202.0 558.1h5.0v5.0h-5.0zM1197.5 565.1h3.7v3.7h-3.7zM1179.3 713.0h2.3v2.3h-2.3zM1218.3 683.5h3.4v3.4h-3.4zM1171.5 760.0h2.1v2.1h-2.1zM1188.0 701.1h2.6v2.6h-2.6zM1192.0 678.0h2.7v2.7h-2.7zM1192.9 591.3h4.3v4.3h-4.3zM1176.9 702.2h2.5v2.5h-2.5zM1213.8 538.1h4.7v4.7h-4.7zM1205.6 577.5h5.2v5.2h-5.2zM1204.5 752.0h2.5v2.5h-2.5zM1249.7 631.7h5.3v5.3h-5.3zM1212.9 677.2h3.0v3.0h-3.0zM1264.0 561.3h7.4v7.4h-7.4zM1195.0 700.7h2.8v2.8h-2.8zM1196.2 671.7h3.4v3.4h-3.4zM1179.1 762.2h2.1v2.1h-2.1zM1189.6 682.5h2.9v2.9h-2.9zM1235.6 605.5h5.9v5.9h-5.9zM1242.2 694.3h3.4v3.4h-3.4zM1262.8 647.1h5.4v5.4h-5.4zM1171.9 762.2h2.1v2.1h-2.1zM1191.8 707.3h2.9v2.9h-2.9zM1234.0 623.1h5.9v5.9h-5.9zM1211.8 551.4h6.3v6.3h-6.3zM1179.4 767.8h2.0v2.0h-2.0zM1205.5 608.6h4.5v4.5h-4.5zM1218.0 539.0h5.7v5.7h-5.7zM1243.6 664.5h5.3v5.3h-5.3zM1264.8 563.7h6.5v6.5h-6.5zM1258.5 573.7h7.4v7.4h-7.4zM1248.2 698.2h4.2v4.2h-4.2zM1255.3 616.7h7.0v7.0h-7.0zM1219.7 674.2h3.6v3.6h-3.6zM1208.1 590.9h4.0v4.0h-4.0zM1259.1 614.5h6.3v6.3h-6.3zM1253.5 587.9h7.0v7.0h-7.0zM1203.4 701.0h2.9v2.9h-2.9zM1178.0 749.8h2.2v2.2h-2.2zM1205.7 625.8h3.4v3.4h-3.4zM1275.2 573.1h7.4v7.4h-7.4zM1248.6 581.0h7.4v7.4h-7.4zM1203.5 643.8h3.1v3.1h-3.1zM1199.1 703.8h2.6v2.6h-2.6zM1206.1 624.5h4.3v4.3h-4.3zM1225.4 657.7h4.6v4.6h-4.6zM1291.8 567.1h7.4v7.4h-7.4zM1250.5 542.2h6.8v6.8h-6.8zM1164.0 777.1h1.9v1.9h-1.9zM1225.5 638.6h3.8v3.8h-3.8zM1225.6 684.9h3.5v3.5h-3.5zM1181.2 747.7h2.1v2.1h-2.1zM1196.5 632.9h3.7v3.7h-3.7zM1199.1 690.3h3.0v3.0h-3.0zM1246.4 569.7h5.4v5.4h-5.4zM1262.9 586.0h5.9v5.9h-5.9zM1276.1 590.0h6.8v6.8h-6.8zM1218.9 728.7h3.1v3.1h-3.1zM1229.4 725.5h3.2v3.2h-3.2zM1278.9 606.1h6.2v6.2h-6.2zM1207.1 659.1h3.5v3.5h-3.5zM1205.7 577.4h4.8v4.8h-4.8zM1158.9 533.4h3.2v3.2h-3.2zM1185.7 536.4h4.5v4.5h-4.5zM1176.1 538.5h3.7v3.7h-3.7zM1152.1 538.5h3.0v3.0h-3.0zM1161.7 539.7h3.0v3.0h-3.0zM1197.8 534.7h4.9v4.9h-4.9zM1149.5 544.8h2.7v2.7h-2.7zM1207.1 535.7h5.6v5.6h-5.6zM1142.8 533.2h2.5v2.5h-2.5zM1187.3 539.0h4.7v4.7h-4.7zM1216.4 533.9h6.4v6.4h-6.4zM1215.8 534.6h6.4v6.4h-6.4zM1151.0 537.2h3.0v3.0h-3.0zM1154.0 540.7h3.2v3.2h-3.2zM1193.9 539.1h5.1v5.1h-5.1zM1139.8 537.1h2.8v2.8h-2.8zM1184.5 536.5h4.0v4.0h-4.0zM1182.8 534.6h4.7v4.7h-4.7zM1156.1 534.9h3.3v3.3h-3.3zM1192.7 539.9h5.1v5.1h-5.1zM1212.4 538.8h4.5v4.5h-4.5zM1161.9 536.4h3.4v3.4h-3.4zM1149.8 533.4h3.2v3.2h-3.2zM1173.7 537.6h3.7v3.7h-3.7zM1186.7 540.4h4.7v4.7h-4.7zM1200.8 539.9h4.9v4.9h-4.9zM1207.1 543.4h5.4v5.4h-5.4zM1209.2 536.0h4.4v4.4h-4.4zM1154.0 535.9h2.9v2.9h-2.9zM1189.5 536.2h4.5v4.5h-4.5zM1193.6 535.7h4.6v4.6h-4.6zM1156.1 536.0h3.4v3.4h-3.4zM1179.9 543.4h3.9v3.9h-3.9zM1213.7 540.1h6.7v6.7h-6.7zM1184.3 537.5h3.4v3.4h-3.4zM1180.2 543.8h3.4v3.4h-3.4zM1162.9 535.1h3.4v3.4h-3.4zM1214.8 538.1h5.7v5.7h-5.7zM1190.0 535.4h4.7v4.7h-4.7zM1215.4 539.4h6.3v6.3h-6.3zM1199.9 538.3h5.0v5.0h-5.0zM1231.1 549.3h7.8v7.8h-7.8zM1243.4 552.3h7.8v7.8h-7.8zM1099.3 618.5h1.9v1.9h-1.9zM1103.5 680.6h1.9v1.9h-1.9zM1117.3 564.5h2.1v2.1h-2.1zM1093.7 687.9h1.7v1.7h-1.7zM1099.1 679.2h1.8v1.8h-1.8zM1093.5 748.4h1.7v1.7h-1.7zM1109.9 625.8h2.1v2.1h-2.1zM1098.9 625.0h1.8v1.8h-1.8zM1115.9 540.8h1.8v1.8h-1.8zM1099.1 690.8h2.0v2.0h-2.0zM1109.3 576.1h1.9v1.9h-1.9zM1094.3 786.1h2.3v2.3h-2.3zM1092.9 686.3h1.7v1.7h-1.7zM1106.1 562.5h1.8v1.8h-1.8zM1121.4 571.1h1.9v1.9h-1.9zM1131.6 550.3h2.0v2.0h-2.0zM1132.4 548.1h1.9v1.9h-1.9zM1103.9 655.7h1.8v1.8h-1.8zM1107.6 555.8h2.0v2.0h-2.0zM1112.6 602.9h2.2v2.2h-2.2zM1101.4 622.5h2.2v2.2h-2.2zM1092.6 763.7h2.0v2.0h-2.0zM1099.5 644.9h2.2v2.2h-2.2zM1114.0 587.0h2.2v2.2h-2.2zM1098.8 708.7h1.9v1.9h-1.9zM1116.8 539.6h1.8v1.8h-1.8zM1120.3 551.5h2.0v2.0h-2.0zM1091.0 747.6h2.1v2.1h-2.1zM1099.5 701.4h1.7v1.7h-1.7zM1111.2 564.2h2.1v2.1h-2.1zM1106.7 643.9h1.8v1.8h-1.8zM1102.1 577.8h2.0v2.0h-2.0zM1117.8 565.8h2.2v2.2h-2.2zM1095.9 709.5h2.1v2.1h-2.1zM1104.8 666.4h2.2v2.2h-2.2zM1110.5 585.7h2.1v2.1h-2.1zM1099.1 668.4h2.2v2.2h-2.2zM1096.7 701.1h1.9v1.9h-1.9zM1094.4 734.4h1.8v1.8h-1.8zM1099.6 625.8h2.0v2.0h-2.0zM1113.3 608.7h1.8v1.8h-1.8zM1091.7 704.7h2.3v2.3h-2.3zM1095.2 681.6h1.9v1.9h-1.9zM1109.1 633.8h2.2v2.2h-2.2zM1109.3 626.7h1.8v1.8h-1.8zM1126.2 541.7h2.0v2.0h-2.0zM1107.8 596.8h2.0v2.0h-2.0zM1096.4 704.1h1.9v1.9h-1.9zM1097.8 680.3h1.9v1.9h-1.9zM1114.1 585.7h2.1v2.1h-2.1zM1117.7 568.4h1.8v1.8h-1.8zM1127.6 554.8h2.2v2.2h-2.2zM1110.2 553.8h1.9v1.9h-1.9zM1094.0 624.2h1.8v1.8h-1.8zM1097.9 606.5h2.0v2.0h-2.0zM1093.8 685.3h1.8v1.8h-1.8zM1101.7 675.5h2.2v2.2h-2.2zM1095.2 669.1h2.0v2.0h-2.0zM1108.7 623.9h1.8v1.8h-1.8zM1110.0 539.2h2.3v2.3h-2.3zM1099.3 713.4h2.3v2.3h-2.3zM1106.4 609.6h1.9v1.9h-1.9zM1101.8 694.0h1.7v1.7h-1.7zM1092.4 682.9h2.1v2.1h-2.1zM1112.6 609.1h1.7v1.7h-1.7zM1095.3 627.2h1.9v1.9h-1.9zM1123.2 796.3h1.8v1.8h-1.8zM1136.5 791.0h1.9v1.9h-1.9zM1136.8 791.2h2.3v2.3h-2.3zM1121.1 790.2h1.9v1.9h-1.9zM1141.9 789.9h1.9v1.9h-1.9zM1114.4 791.0h2.2v2.2h-2.2zM1091.6 788.3h1.9v1.9h-1.9zM1125.9 790.4h2.2v2.2h-2.2zM1098.0 787.7h2.2v2.2h-2.2zM1110.7 788.3h2.0v2.0h-2.0zM1101.2 792.2h2.1v2.1h-2.1zM1112.5 788.1h2.3v2.3h-2.3zM1138.2 793.6h2.3v2.3h-2.3zM1118.0 788.4h1.8v1.8h-1.8zM1107.8 790.6h2.1v2.1h-2.1zM1104.4 787.7h2.2v2.2h-2.2zM1101.4 794.3h1.8v1.8h-1.8zM1111.5 794.2h2.0v2.0h-2.0zM1139.2 789.5h2.1v2.1h-2.1zM1121.8 789.1h1.9v1.9h-1.9zM1143.3 788.0h2.3v2.3h-2.3zM1122.6 791.9h1.8v1.8h-1.8zM1104.8 790.4h2.2v2.2h-2.2zM1097.2 790.2h1.9v1.9h-1.9zM1104.4 789.4h2.1v2.1h-2.1zM1125.2 789.6h1.8v1.8h-1.8z" fill="#4fc28c"/>
<path d="M1150.7 781.9h1.9v1.9h-1.9zM1224.5 585.6h5.4v5.4h-5.4zM1186.8 620.7h3.8v3.8h-3.8zM1183.3 659.8h3.0v3.0h-3.0zM1166.2 752.1h2.1v2.1h-2.1zM1204.1 604.1h4.4v4.4h-4.4zM1180.3 713.2h2.5v2.5h-2.5zM1237.8 554.4h7.3v7.3h-7.3zM1206.4 568.1h4.1v4.1h-4.1zM1212.1 561.2h6.1v6.1h-6.1zM1186.8 702.8h2.8v2.8h-2.8zM1201.3 591.5h4.1v4.1h-4.1zM1183.9 632.2h3.2v3.2h-3.2zM1184.4 631.2h3.7v3.7h-3.7zM1179.5 674.5h2.6v2.6h-2.6zM1197.1 603.9h3.8v3.8h-3.8zM1175.6 748.8h2.2v2.2h-2.2zM1190.6 613.7h3.1v3.1h-3.1zM1167.4 748.9h2.1v2.1h-2.1zM1184.6 678.9h2.9v2.9h-2.9zM1183.5 663.3h2.8v2.8h-2.8zM1147.4 787.0h1.9v1.9h-1.9zM1184.0 721.0h2.4v2.4h-2.4zM1183.6 663.6h3.3v3.3h-3.3zM1181.2 672.2h2.8v2.8h-2.8zM1175.1 743.1h2.3v2.3h-2.3zM1192.0 605.0h4.1v4.1h-4.1zM1190.1 677.4h3.2v3.2h-3.2zM1194.3 624.3h3.4v3.4h-3.4zM1211.8 560.2h5.8v5.8h-5.8zM1189.0 674.6h2.6v2.6h-2.6zM1184.2 666.7h2.7v2.7h-2.7zM1163.7 755.8h2.0v2.0h-2.0zM1145.2 780.9h1.9v1.9h-1.9zM1185.3 728.9h2.5v2.5h-2.5zM1192.2 607.2h3.5v3.5h-3.5zM1167.6 754.9h2.0v2.0h-2.0zM1178.7 719.7h2.4v2.4h-2.4zM1181.7 684.9h2.6v2.6h-2.6zM1196.9 553.5h4.5v4.5h-4.5zM1188.1 631.8h3.5v3.5h-3.5zM1178.3 724.9h2.3v2.3h-2.3zM1168.9 753.6h2.0v2.0h-2.0zM1205.8 594.8h4.6v4.6h-4.6zM1176.5 722.2h2.2v2.2h-2.2zM1200.8 563.3h4.1v4.1h-4.1zM1213.0 630.4h3.9v3.9h-3.9zM1170.8 733.4h2.3v2.3h-2.3zM1180.9 688.9h2.6v2.6h-2.6zM1187.7 641.2h3.4v3.4h-3.4zM1138.1 784.5h1.9v1.9h-1.9zM1175.1 724.6h2.4v2.4h-2.4zM1201.7 550.3h4.4v4.4h-4.4zM1206.1 555.1h5.5v5.5h-5.5zM1196.4 597.3h3.7v3.7h-3.7zM1203.6 653.0h3.6v3.6h-3.6zM1198.9 612.4h3.8v3.8h-3.8zM1131.4 786.7h1.8v1.8h-1.8zM1176.4 707.9h2.5v2.5h-2.5zM1199.2 572.5h4.8v4.8h-4.8zM1195.2 579.7h4.7v4.7h-4.7zM1193.7 680.0h2.8v2.8h-2.8zM1131.4 786.6h1.8v1.8h-1.8zM1186.4 708.8h2.5v2.5h-2.5zM1205.8 624.2h4.3v4.3h-4.3zM1178.1 738.6h2.3v2.3h-2.3zM1181.3 677.3h2.5v2.5h-2.5zM1185.6 725.6h2.6v2.6h-2.6zM1201.7 592.2h3.8v3.8h-3.8zM1196.1 646.4h3.5v3.5h-3.5zM1170.4 757.1h2.0v2.0h-2.0zM1197.1 597.4h4.5v4.5h-4.5zM1199.3 596.7h3.8v3.8h-3.8zM1202.1 668.3h3.6v3.6h-3.6zM1195.3 628.5h3.8v3.8h-3.8zM1188.0 629.8h3.5v3.5h-3.5zM1181.9 679.9h2.6v2.6h-2.6zM1190.3 602.8h3.2v3.2h-3.2zM1179.0 677.4h2.8v2.8h-2.8zM1161.9 773.1h1.9v1.9h-1.9zM1190.5 687.0h2.9v2.9h-2.9zM1134.0 785.8h1.8v1.8h-1.8zM1206.5 546.1h5.6v5.6h-5.6zM1192.8 597.1h3.7v3.7h-3.7zM1188.5 768.9h2.0v2.0h-2.0zM1195.8 537.2h5.3v5.3h-5.3zM1208.5 576.0h4.5v4.5h-4.5zM1160.2 770.6h2.0v2.0h-2.0zM1206.4 556.6h4.4v4.4h-4.4zM1219.2 588.2h4.5v4.5h-4.5zM1216.7 627.2h4.7v4.7h-4.7zM1140.5 784.3h1.9v1.9h-1.9zM1208.0 561.2h5.3v5.3h-5.3zM1176.3 749.4h2.1v2.1h-2.1zM1185.5 683.6h2.7v2.7h-2.7zM1175.7 708.5h2.3v2.3h-2.3zM1207.4 550.3h4.6v4.6h-4.6zM1188.9 639.0h3.7v3.7h-3.7zM1218.0 587.1h4.2v4.2h-4.2zM1218.7 570.5h4.3v4.3h-4.3zM1160.6 765.1h2.0v2.0h-2.0zM1192.5 599.5h4.0v4.0h-4.0zM1187.4 669.1h3.0v3.0h-3.0zM1163.3 758.0h2.1v2.1h-2.1zM1184.8 659.7h2.7v2.7h-2.7zM1183.6 641.8h2.9v2.9h-2.9zM1198.8 576.8h4.2v4.2h-4.2zM1156.4 774.4h1.9v1.9h-1.9zM1204.0 593.9h4.4v4.4h-4.4zM1196.5 553.2h5.3v5.3h-5.3zM1204.7 613.1h4.2v4.2h-4.2zM1212.4 576.5h4.1v4.1h-4.1zM1174.9 717.5h2.4v2.4h-2.4zM1194.1 618.2h3.9v3.9h-3.9zM1201.8 565.9h4.5v4.5h-4.5zM1193.3 699.6h2.7v2.7h-2.7zM1182.7 694.2h2.6v2.6h-2.6zM1195.2 650.4h3.3v3.3h-3.3zM1200.3 683.1h3.5v3.5h-3.5zM1201.5 565.4h4.2v4.2h-4.2zM1169.4 760.5h2.0v2.0h-2.0zM1163.4 757.0h2.0v2.0h-2.0zM1201.3 596.2h4.3v4.3h-4.3zM1219.8 567.9h4.8v4.8h-4.8zM1217.5 682.4h3.7v3.7h-3.7zM1188.1 674.2h2.9v2.9h-2.9zM1192.0 617.8h3.4v3.4h-3.4zM1132.2 787.3h1.8v1.8h-1.8zM1218.6 543.7h4.8v4.8h-4.8zM1155.3 783.7h1.9v1.9h-1.9zM1210.1 562.8h5.1v5.1h-5.1zM1247.5 677.0h5.0v5.0h-5.0zM1241.8 689.6h3.4v3.4h-3.4zM1200.3 669.7h3.2v3.2h-3.2zM1212.4 716.5h2.7v2.7h-2.7zM1191.5 756.1h2.3v2.3h-2.3zM1196.9 664.2h3.6v3.6h-3.6zM1212.5 575.7h4.8v4.8h-4.8zM1168.0 773.2h2.0v2.0h-2.0zM1168.7 768.3h2.1v2.1h-2.1zM1248.2 604.0h6.8v6.8h-6.8zM1204.7 693.3h3.2v3.2h-3.2zM1171.9 776.0h2.0v2.0h-2.0zM1202.6 634.4h3.8v3.8h-3.8zM1191.3 669.2h2.8v2.8h-2.8zM1284.6 554.4h7.4v7.4h-7.4zM1210.7 569.1h4.7v4.7h-4.7zM1206.5 572.0h5.3v5.3h-5.3zM1215.2 603.8h4.4v4.4h-4.4zM1179.9 749.9h2.1v2.1h-2.1zM1205.6 595.3h5.1v5.1h-5.1zM1209.7 599.6h4.4v4.4h-4.4zM1207.4 571.0h5.3v5.3h-5.3zM1204.8 705.4h2.6v2.6h-2.6zM1237.8 673.5h3.8v3.8h-3.8zM1151.8 542.8h2.6v2.6h-2.6zM1143.7 535.9h2.7v2.7h-2.7zM1170.5 539.7h3.4v3.4h-3.4zM1174.4 539.0h3.6v3.6h-3.6zM1195.5 543.6h4.6v4.6h-4.6zM1204.6 541.3h5.4v5.4h-5.4zM1145.6 544.5h2.8v2.8h-2.8zM1188.1 533.0h3.7v3.7h-3.7zM1190.5 542.6h4.1v4.1h-4.1zM1193.5 542.0h4.3v4.3h-4.3zM1192.0 540.5h3.7v3.7h-3.7zM1152.4 543.6h3.1v3.1h-3.1zM1212.8 537.5h4.5v4.5h-4.5zM1187.2 539.4h4.5v4.5h-4.5zM1207.8 537.4h4.6v4.6h-4.6zM1382.3 529.9h7.8v7.8h-7.8zM1368.6 541.4h7.8v7.8h-7.8zM1357.3 534.7h7.8v7.8h-7.8zM1329.3 546.2h7.8v7.8h-7.8zM1324.4 550.5h7.8v7.8h-7.8zM1313.6 566.3h7.8v7.8h-7.8zM1299.8 566.9h7.8v7.8h-7.8zM1285.1 538.3h7.8v7.8h-7.8zM1277.7 554.1h7.8v7.8h-7.8zM1272.8 552.3h7.8v7.8h-7.8zM1286.6 594.8h7.8v7.8h-7.8zM1361.2 610.0h7.8v7.8h-7.8zM1285.1 691.9h7.8v7.8h-7.8zM1236.9 547.2h5.9v5.9h-5.9zM1091.4 738.9h2.0v2.0h-2.0zM1093.3 765.5h1.9v1.9h-1.9zM1105.7 587.1h2.2v2.2h-2.2zM1107.1 637.9h2.1v2.1h-2.1zM1098.7 656.1h1.9v1.9h-1.9zM1095.1 561.4h2.1v2.1h-2.1zM1105.9 643.0h2.0v2.0h-2.0zM1095.9 705.6h2.0v2.0h-2.0zM1091.1 737.1h2.0v2.0h-2.0zM1133.0 542.4h2.1v2.1h-2.1zM1103.2 671.4h1.8v1.8h-1.8zM1110.9 629.4h1.7v1.7h-1.7zM1101.8 680.9h2.3v2.3h-2.3zM1095.5 675.9h1.9v1.9h-1.9zM1111.5 616.4h1.9v1.9h-1.9zM1094.0 767.9h2.2v2.2h-2.2zM1118.2 560.3h2.0v2.0h-2.0zM1096.7 716.8h1.8v1.8h-1.8zM1107.6 579.1h1.8v1.8h-1.8zM1095.3 700.9h2.1v2.1h-2.1zM1100.9 589.6h2.1v2.1h-2.1zM1102.3 616.1h2.1v2.1h-2.1zM1097.2 587.3h2.3v2.3h-2.3zM1098.2 708.5h2.2v2.2h-2.2zM1124.9 558.7h1.8v1.8h-1.8zM1093.4 615.2h2.3v2.3h-2.3zM1104.0 650.5h1.7v1.7h-1.7zM1102.9 660.1h2.2v2.2h-2.2zM1115.1 574.1h1.9v1.9h-1.9zM1117.0 569.1h1.8v1.8h-1.8zM1098.2 706.9h1.8v1.8h-1.8zM1093.6 771.5h1.7v1.7h-1.7zM1094.5 598.2h1.9v1.9h-1.9zM1112.9 599.6h1.9v1.9h-1.9zM1092.8 549.6h2.2v2.2h-2.2zM1098.6 697.1h2.2v2.2h-2.2zM1103.2 590.8h2.2v2.2h-2.2zM1101.5 621.4h2.1v2.1h-2.1zM1098.4 711.5h2.1v2.1h-2.1zM1104.9 583.3h1.8v1.8h-1.8zM1104.7 643.6h2.0v2.0h-2.0zM1100.4 689.6h2.2v2.2h-2.2zM1092.9 672.7h1.8v1.8h-1.8zM1093.0 642.7h2.0v2.0h-2.0zM1090.1 769.8h1.8v1.8h-1.8zM1105.0 600.9h2.2v2.2h-2.2zM1113.6 789.2h1.8v1.8h-1.8zM1129.6 789.8h2.3v2.3h-2.3zM1143.6 788.0h2.2v2.2h-2.2zM1127.2 790.3h2.1v2.1h-2.1zM1103.6 790.8h1.8v1.8h-1.8z" fill="#93d372"/>
<line x1="1077.90" y1="463.00" x2="1077.90" y2="809.10" stroke="#000" stroke-width="2"/>
<line x1="1069.40" y1="808.10" x2="1569.20" y2="808.10" stroke="#000" stroke-width="2"/>
<text transform="translate(1044.20 814.00) scale(1 1.035)" font-size="16.4">0</text>
<line x1="1069.90" y1="747.40" x2="1077.90" y2="747.40" stroke="#000" stroke-width="2"/>
<text transform="translate(1044.20 753.30) scale(1 1.035)" font-size="16.4">1.0</text>
<line x1="1069.90" y1="686.70" x2="1077.90" y2="686.70" stroke="#000" stroke-width="2"/>
<text transform="translate(1044.20 692.60) scale(1 1.035)" font-size="16.4">2.0</text>
<line x1="1069.90" y1="626.00" x2="1077.90" y2="626.00" stroke="#000" stroke-width="2"/>
<text transform="translate(1044.20 631.90) scale(1 1.035)" font-size="16.4">3.0</text>
<line x1="1069.90" y1="565.30" x2="1077.90" y2="565.30" stroke="#000" stroke-width="2"/>
<text transform="translate(1044.20 571.20) scale(1 1.035)" font-size="16.4">4.0</text>
<line x1="1069.90" y1="504.60" x2="1077.90" y2="504.60" stroke="#000" stroke-width="2"/>
<text transform="translate(1044.20 510.50) scale(1 1.035)" font-size="16.4">5.0</text>
<line x1="1077.90" y1="808.10" x2="1077.90" y2="815.70" stroke="#000" stroke-width="2"/>
<text transform="translate(1073.84 831.40) scale(1 1.035)" font-size="16.4">0</text>
<line x1="1126.99" y1="808.10" x2="1126.99" y2="815.70" stroke="#000" stroke-width="2"/>
<text transform="translate(1114.89 831.40) scale(1 1.035)" font-size="16.4">100</text>
<line x1="1176.08" y1="808.10" x2="1176.08" y2="815.70" stroke="#000" stroke-width="2"/>
<text transform="translate(1163.98 831.40) scale(1 1.035)" font-size="16.4">200</text>
<line x1="1225.17" y1="808.10" x2="1225.17" y2="815.70" stroke="#000" stroke-width="2"/>
<text transform="translate(1213.07 831.40) scale(1 1.035)" font-size="16.4">300</text>
<line x1="1274.26" y1="808.10" x2="1274.26" y2="815.70" stroke="#000" stroke-width="2"/>
<text transform="translate(1262.16 831.40) scale(1 1.035)" font-size="16.4">400</text>
<line x1="1323.35" y1="808.10" x2="1323.35" y2="815.70" stroke="#000" stroke-width="2"/>
<text transform="translate(1311.25 831.40) scale(1 1.035)" font-size="16.4">500</text>
<line x1="1372.44" y1="808.10" x2="1372.44" y2="815.70" stroke="#000" stroke-width="2"/>
<text transform="translate(1360.34 831.40) scale(1 1.035)" font-size="16.4">600</text>
<line x1="1421.53" y1="808.10" x2="1421.53" y2="815.70" stroke="#000" stroke-width="2"/>
<text transform="translate(1409.43 831.40) scale(1 1.035)" font-size="16.4">700</text>
<line x1="1470.62" y1="808.10" x2="1470.62" y2="815.70" stroke="#000" stroke-width="2"/>
<text transform="translate(1458.52 831.40) scale(1 1.035)" font-size="16.4">800</text>
<line x1="1519.71" y1="808.10" x2="1519.71" y2="815.70" stroke="#000" stroke-width="2"/>
<text transform="translate(1507.61 831.40) scale(1 1.035)" font-size="16.4">900</text>
<line x1="1568.80" y1="808.10" x2="1568.80" y2="815.70" stroke="#000" stroke-width="2"/>
<text transform="translate(1556.70 831.40) scale(1 1.035)" font-size="16.4">1000</text>
<text x="1342.85" y="849.40" font-size="19" text-anchor="middle">Size (nm)</text>
<text transform="translate(1034.80 646.00) rotate(-90)" font-size="19.1" text-anchor="middle">Intensity (a.u.)</text>
<text transform="translate(1017.50 479.20) scale(1 1.035)" font-size="16.4">E2</text>
<rect x="1079.1" y="517.4" width="48.8" height="290.2" fill="none" stroke="#a52428" stroke-width="3.9"/>
<text transform="translate(1084.50 507.70) scale(1 1.01)" font-size="29.4" fill="#a52428">17.33%±1.01</text>
<text transform="translate(1558.50 290.50) scale(1 1.04)" font-size="71">D</text>
<rect x="1820.40" y="595.80" width="57.30" height="20.30" fill="#a1a1a5"/>
<rect x="1906.80" y="395.80" width="57.30" height="220.30" fill="#f2787f"/>
<line x1="1791.80" y1="311.70" x2="1791.80" y2="617.70" stroke="#000" stroke-width="3.2"/>
<line x1="1779.20" y1="616.10" x2="1994.60" y2="616.10" stroke="#000" stroke-width="3.2"/>
<line x1="1779.20" y1="515.20" x2="1791.80" y2="515.20" stroke="#000" stroke-width="3.2"/>
<line x1="1779.20" y1="414.30" x2="1791.80" y2="414.30" stroke="#000" stroke-width="3.2"/>
<line x1="1779.20" y1="313.40" x2="1791.80" y2="313.40" stroke="#000" stroke-width="3.2"/>
<line x1="1848.80" y1="616.10" x2="1848.80" y2="628.90" stroke="#000" stroke-width="3.2"/>
<line x1="1935.00" y1="616.10" x2="1935.00" y2="628.90" stroke="#000" stroke-width="3.2"/>
<text transform="translate(1776.00 527.50) scale(1 1.035)" font-size="29.5" text-anchor="end">1×10<tspan font-size="19.3" style="font-weight:normal" stroke="#000" stroke-width="0.45" dy="-9.6" dx="2.3">8</tspan></text>
<text transform="translate(1776.00 426.60) scale(1 1.035)" font-size="29.5" text-anchor="end">2×10<tspan font-size="19.3" style="font-weight:normal" stroke="#000" stroke-width="0.45" dy="-9.6" dx="2.3">8</tspan></text>
<text transform="translate(1776.00 325.70) scale(1 1.035)" font-size="29.5" text-anchor="end">3×10<tspan font-size="19.3" style="font-weight:normal" stroke="#000" stroke-width="0.45" dy="-9.6" dx="2.3">8</tspan></text>
<text transform="translate(1773.30 628.40) scale(1 1.035)" font-size="29.5" text-anchor="end">0</text>
<line x1="1849.20" y1="589.60" x2="1849.20" y2="602.00" stroke="#000" stroke-width="2"/>
<line x1="1834.80" y1="589.60" x2="1863.60" y2="589.60" stroke="#000" stroke-width="2"/>
<line x1="1834.80" y1="602.00" x2="1863.60" y2="602.00" stroke="#000" stroke-width="2"/>
<line x1="1935.50" y1="358.40" x2="1935.50" y2="432.80" stroke="#000" stroke-width="2"/>
<line x1="1921.10" y1="358.40" x2="1949.90" y2="358.40" stroke="#000" stroke-width="2"/>
<line x1="1921.10" y1="432.80" x2="1949.90" y2="432.80" stroke="#000" stroke-width="2"/>
<circle cx="1826.60" cy="602.00" r="5.8" fill="none" stroke="#000" stroke-width="2.6"/>
<circle cx="1849.20" cy="589.70" r="5.8" fill="none" stroke="#000" stroke-width="2.6"/>
<circle cx="1872.40" cy="594.60" r="5.8" fill="none" stroke="#000" stroke-width="2.6"/>
<circle cx="1935.50" cy="365.80" r="5.8" fill="none" stroke="#000" stroke-width="2.6"/>
<circle cx="1935.50" cy="384.30" r="5.8" fill="none" stroke="#000" stroke-width="2.6"/>
<circle cx="1935.50" cy="437.20" r="5.8" fill="none" stroke="#000" stroke-width="2.6"/>
<line x1="1854.80" y1="333.20" x2="1934.10" y2="333.20" stroke="#000" stroke-width="3"/>
<text x="1895.60" y="327.43" font-size="25.5" text-anchor="middle" letter-spacing="1.8" style="font-family:'DejaVu Sans',sans-serif">***</text>
<text transform="translate(1643.20 462.30) rotate(-90) scale(1 1.03)" font-size="28.98" text-anchor="middle">Number of sEVs with</text>
<text transform="translate(1677.20 463.40) rotate(-90) scale(1 1.03)" font-size="28.98" text-anchor="middle">&lt;100 nm (per mL)</text>
<text transform="translate(1858.80 655.00) rotate(-45) scale(1 1.03)" font-size="29.07" text-anchor="end">Mock</text>
<text transform="translate(1943.50 654.00) rotate(-45) scale(1 1.03)" font-size="29.07" text-anchor="end">Rapamycin</text>
<text transform="translate(14.80 964.60) scale(1 1.04)" font-size="71">E</text>
<rect x="277.80" y="1096.60" width="60.40" height="213.00" fill="#a1a1a5"/>
<rect x="368.80" y="1114.60" width="60.30" height="195.00" fill="#f2787f"/>
<line x1="247.50" y1="990.10" x2="247.50" y2="1311.20" stroke="#000" stroke-width="3.2"/>
<line x1="234.00" y1="1309.60" x2="460.70" y2="1309.60" stroke="#000" stroke-width="3.2"/>
<line x1="234.00" y1="1203.64" x2="247.50" y2="1203.64" stroke="#000" stroke-width="3.2"/>
<line x1="234.00" y1="1097.68" x2="247.50" y2="1097.68" stroke="#000" stroke-width="3.2"/>
<line x1="234.00" y1="991.72" x2="247.50" y2="991.72" stroke="#000" stroke-width="3.2"/>
<line x1="307.60" y1="1309.60" x2="307.60" y2="1323.30" stroke="#000" stroke-width="3.2"/>
<line x1="398.90" y1="1309.60" x2="398.90" y2="1323.30" stroke="#000" stroke-width="3.2"/>
<text transform="translate(231.20 1003.52) scale(1 1.035)" font-size="31" text-anchor="end">1.5×10<tspan font-size="20.3" style="font-weight:normal" stroke="#000" stroke-width="0.45" dy="-10.1" dx="2.3">9</tspan></text>
<text transform="translate(231.20 1109.48) scale(1 1.035)" font-size="31" text-anchor="end">1×10<tspan font-size="20.3" style="font-weight:normal" stroke="#000" stroke-width="0.45" dy="-10.1" dx="2.3">9</tspan></text>
<text transform="translate(231.20 1215.44) scale(1 1.035)" font-size="31" text-anchor="end">5×10<tspan font-size="20.3" style="font-weight:normal" stroke="#000" stroke-width="0.45" dy="-10.1" dx="2.3">8</tspan></text>
<text transform="translate(227.80 1321.20) scale(1 1.035)" font-size="31" text-anchor="end">0</text>
<line x1="307.80" y1="1075.90" x2="307.80" y2="1116.90" stroke="#000" stroke-width="2"/>
<line x1="292.70" y1="1075.90" x2="322.90" y2="1075.90" stroke="#000" stroke-width="2"/>
<line x1="292.70" y1="1116.90" x2="322.90" y2="1116.90" stroke="#000" stroke-width="2"/>
<line x1="398.90" y1="1081.40" x2="398.90" y2="1147.10" stroke="#000" stroke-width="2"/>
<line x1="383.80" y1="1081.40" x2="414.00" y2="1081.40" stroke="#000" stroke-width="2"/>
<line x1="383.80" y1="1147.10" x2="414.00" y2="1147.10" stroke="#000" stroke-width="2"/>
<circle cx="307.80" cy="1074.50" r="7" fill="none" stroke="#000" stroke-width="3"/>
<circle cx="307.80" cy="1099.80" r="7" fill="none" stroke="#000" stroke-width="3"/>
<circle cx="307.80" cy="1115.40" r="7" fill="none" stroke="#000" stroke-width="3"/>
<circle cx="386.10" cy="1091.70" r="7" fill="none" stroke="#000" stroke-width="3"/>
<circle cx="411.80" cy="1099.20" r="7" fill="none" stroke="#000" stroke-width="3"/>
<circle cx="398.90" cy="1152.40" r="7" fill="none" stroke="#000" stroke-width="3"/>
<line x1="307.80" y1="1043.60" x2="398.90" y2="1043.60" stroke="#000" stroke-width="3.2"/>
<text x="353.60" y="1029.20" font-size="23.5" style="font-weight:normal" text-anchor="middle">ns</text>
<text transform="translate(65.00 1147.20) rotate(-90) scale(1 1.03)" font-size="30.61" text-anchor="middle">Number of sEVs with</text>
<text transform="translate(100.80 1146.70) rotate(-90) scale(1 1.03)" font-size="30.61" text-anchor="middle">100-200 nm (per mL)</text>
<text transform="translate(318.50 1350.50) rotate(-45) scale(1 1.03)" font-size="30.7" text-anchor="end">Mock</text>
<text transform="translate(409.50 1350.50) rotate(-45) scale(1 1.03)" font-size="30.7" text-anchor="end">Rapamycin</text>
<text transform="translate(497.60 961.60) scale(1 1.04)" font-size="71">F</text>
<text transform="translate(685.20 1053.20) rotate(-60)" font-size="39">Mock</text>
<text transform="translate(779.00 1056.00) rotate(-60)" font-size="39.2">VZV</text>
<text transform="translate(876.90 1057.10) rotate(-60)" font-size="39.2">VZV+ACV</text>
<clipPath id="cF1"><rect x="627" y="1063.8" width="304.2" height="62.4"/></clipPath>
<rect x="627.00" y="1063.80" width="304.20" height="62.40" fill="url(#gF1)"/>
<g clip-path="url(#cF1)">
<rect x="642.2" y="1085.0" width="69.0" height="16.5" rx="8.2" fill="#000" opacity="1" filter="url(#b3)"/>
<rect x="646.7" y="1088.3" width="60.0" height="10.0" rx="5.0" fill="#000" opacity="1" filter="url(#b2)"/>
<rect x="742.0" y="1088.0" width="60.0" height="8.0" rx="4.0" fill="#000" opacity="0.22" filter="url(#b4)"/>
<rect x="834.0" y="1086.5" width="66.0" height="7.0" rx="3.5" fill="#000" opacity="0.42" filter="url(#b4)" transform="rotate(-3 867.0 1090.0)"/>
<rect x="865.0" y="1086.0" width="30.0" height="4.0" rx="2.0" fill="#000" opacity="0.15" filter="url(#b3)" transform="rotate(-3 880.0 1088.0)"/>
</g>
<rect x="627.00" y="1063.80" width="304.20" height="62.40" fill="none" stroke="#000" stroke-width="2.1"/>
<clipPath id="cF2"><rect x="627" y="1139.9" width="304.2" height="71.6"/></clipPath>
<rect x="627.00" y="1139.90" width="304.20" height="71.60" fill="url(#gF2)"/>
<g clip-path="url(#cF2)">
<rect x="640.3" y="1167.2" width="76.0" height="16.5" rx="8.2" fill="#000" opacity="1" filter="url(#b3)"/>
<rect x="644.8" y="1170.4" width="67.0" height="10.0" rx="5.0" fill="#000" opacity="1" filter="url(#b2)"/>
<rect x="740.0" y="1170.5" width="70.0" height="8.5" rx="4.2" fill="#000" opacity="0.62" filter="url(#b3)"/>
<rect x="834.5" y="1166.8" width="78.0" height="9.5" rx="4.8" fill="#000" opacity="0.92" filter="url(#b3)" transform="rotate(-2.5 873.5 1171.5)"/>
<rect x="845.0" y="1169.0" width="60.0" height="4.5" rx="2.2" fill="#000" opacity="0.6" filter="url(#b2)" transform="rotate(-2.5 875.0 1171.3)"/>
</g>
<rect x="627.00" y="1139.90" width="304.20" height="71.60" fill="none" stroke="#000" stroke-width="2.1"/>
<clipPath id="cF3"><rect x="627" y="1225.9" width="304.2" height="99"/></clipPath>
<rect x="627.00" y="1225.90" width="304.20" height="99.00" fill="url(#gF3)"/>
<g clip-path="url(#cF3)">
<rect x="649.0" y="1250.4" width="62.0" height="10.0" rx="5.0" fill="#000" opacity="0.16" filter="url(#b4)"/>
<rect x="745.0" y="1252.0" width="70.0" height="12.0" rx="6.0" fill="#000" opacity="0.07" filter="url(#b4)"/>
<rect x="845.0" y="1252.0" width="70.0" height="12.0" rx="6.0" fill="#000" opacity="0.06" filter="url(#b4)"/>
<rect x="641.0" y="1286.0" width="80.0" height="15.5" rx="7.8" fill="#000" opacity="0.9" filter="url(#b4)"/>
<rect x="648.0" y="1289.7" width="66.0" height="8.0" rx="4.0" fill="#000" opacity="0.6" filter="url(#b3)"/>
<rect x="740.8" y="1284.4" width="83.0" height="23.0" rx="11.5" fill="#000" opacity="1" filter="url(#b4)"/>
<rect x="745.8" y="1287.9" width="73.0" height="16.0" rx="8.0" fill="#000" opacity="1" filter="url(#b3)"/>
<rect x="841.0" y="1285.5" width="85.0" height="18.5" rx="9.2" fill="#000" opacity="1" filter="url(#b4)"/>
<rect x="846.5" y="1289.0" width="74.0" height="11.5" rx="5.8" fill="#000" opacity="1" filter="url(#b3)"/>
</g>
<rect x="627.00" y="1225.90" width="304.20" height="99.00" fill="none" stroke="#000" stroke-width="2.1"/>
<clipPath id="cF4"><rect x="627" y="1338.9" width="304.2" height="71.7"/></clipPath>
<rect x="627.00" y="1338.90" width="304.20" height="71.70" fill="url(#gF4)"/>
<g clip-path="url(#cF4)">
<rect x="636.4" y="1355.9" width="86.0" height="22.0" rx="11.0" fill="#000" opacity="1" filter="url(#b3)"/>
<rect x="640.4" y="1359.2" width="78.0" height="15.5" rx="7.8" fill="#000" opacity="1" filter="url(#b2)"/>
<rect x="739.0" y="1359.8" width="75.0" height="15.0" rx="7.5" fill="#000" opacity="1" filter="url(#b3)"/>
<rect x="743.0" y="1362.5" width="67.0" height="9.5" rx="4.8" fill="#000" opacity="1" filter="url(#b2)"/>
<rect x="833.6" y="1355.6" width="86.0" height="18.0" rx="9.0" fill="#000" opacity="1" filter="url(#b3)" transform="rotate(-2 876.6 1364.6)"/>
<rect x="837.6" y="1358.6" width="78.0" height="12.0" rx="6.0" fill="#000" opacity="1" filter="url(#b2)" transform="rotate(-2 876.6 1364.6)"/>
</g>
<rect x="627.00" y="1338.90" width="304.20" height="71.70" fill="none" stroke="#000" stroke-width="2.1"/>
<text x="614.60" y="1109.70" font-size="37.6" text-anchor="end">NBR1</text>
<text x="612.20" y="1185.70" font-size="38.4" text-anchor="end">p62</text>
<text x="511.50" y="1287.70" font-size="38.5">LC3</text>
<text x="601.90" y="1267.30" font-size="38" text-anchor="middle">I</text>
<text x="601.90" y="1308.40" font-size="38" text-anchor="middle">II</text>
<text x="612.50" y="1388.50" font-size="38.5" text-anchor="end">GAPDH</text>
<text transform="translate(931.20 1059.40) scale(1.1 1)" font-size="24.8">kDa</text>
<line x1="932.60" y1="1101.80" x2="940.90" y2="1101.80" stroke="#000" stroke-width="3.8"/>
<text transform="translate(941.50 1108.70) scale(1.06 1.03)" font-size="24.5">130</text>
<line x1="932.60" y1="1193.10" x2="940.90" y2="1193.10" stroke="#000" stroke-width="3.8"/>
<text transform="translate(941.50 1199.90) scale(1.06 1.03)" font-size="24.5">55</text>
<line x1="932.60" y1="1270.70" x2="940.90" y2="1270.70" stroke="#000" stroke-width="3.8"/>
<text transform="translate(941.50 1279.90) scale(1.06 1.03)" font-size="24.5">15</text>
<line x1="932.60" y1="1388.00" x2="940.90" y2="1388.00" stroke="#000" stroke-width="3.8"/>
<text transform="translate(941.50 1396.50) scale(1.06 1.03)" font-size="24.5">35</text>
<text transform="translate(1015.90 955.80) scale(1 1.04)" font-size="71">G</text>
<rect x="1250.80" y="1243.30" width="45.90" height="70.70" fill="#a1a1a5"/>
<rect x="1319.90" y="1121.10" width="46.00" height="192.90" fill="#69a7fa"/>
<rect x="1388.90" y="1250.50" width="45.90" height="63.50" fill="#efbb7d"/>
<line x1="1227.60" y1="966.50" x2="1227.60" y2="1315.60" stroke="#000" stroke-width="3.2"/>
<line x1="1212.70" y1="1314.00" x2="1459.00" y2="1314.00" stroke="#000" stroke-width="3.2"/>
<line x1="1212.70" y1="1244.82" x2="1227.60" y2="1244.82" stroke="#000" stroke-width="3.2"/>
<line x1="1212.70" y1="1175.64" x2="1227.60" y2="1175.64" stroke="#000" stroke-width="3.2"/>
<line x1="1212.70" y1="1106.46" x2="1227.60" y2="1106.46" stroke="#000" stroke-width="3.2"/>
<line x1="1212.70" y1="1037.28" x2="1227.60" y2="1037.28" stroke="#000" stroke-width="3.2"/>
<line x1="1212.70" y1="968.10" x2="1227.60" y2="968.10" stroke="#000" stroke-width="3.2"/>
<line x1="1273.20" y1="1314.00" x2="1273.20" y2="1329.10" stroke="#000" stroke-width="3.2"/>
<line x1="1342.50" y1="1314.00" x2="1342.50" y2="1329.10" stroke="#000" stroke-width="3.2"/>
<line x1="1411.60" y1="1314.00" x2="1411.60" y2="1329.10" stroke="#000" stroke-width="3.2"/>
<text transform="translate(1209.50 1326.60) scale(1 1.035)" font-size="33.3" text-anchor="end">0</text>
<text transform="translate(1209.50 1257.42) scale(1 1.035)" font-size="33.3" text-anchor="end">10</text>
<text transform="translate(1209.50 1188.24) scale(1 1.035)" font-size="33.3" text-anchor="end">20</text>
<text transform="translate(1209.50 1119.06) scale(1 1.035)" font-size="33.3" text-anchor="end">30</text>
<text transform="translate(1209.50 1049.88) scale(1 1.035)" font-size="33.3" text-anchor="end">40</text>
<text transform="translate(1209.50 980.70) scale(1 1.035)" font-size="33.3" text-anchor="end">50</text>
<line x1="1273.20" y1="1224.60" x2="1273.20" y2="1261.90" stroke="#000" stroke-width="2"/>
<line x1="1261.60" y1="1224.60" x2="1284.80" y2="1224.60" stroke="#000" stroke-width="2"/>
<line x1="1261.60" y1="1261.90" x2="1284.80" y2="1261.90" stroke="#000" stroke-width="2"/>
<line x1="1342.50" y1="1082.20" x2="1342.50" y2="1159.80" stroke="#000" stroke-width="2"/>
<line x1="1330.90" y1="1082.20" x2="1354.10" y2="1082.20" stroke="#000" stroke-width="2"/>
<line x1="1330.90" y1="1159.80" x2="1354.10" y2="1159.80" stroke="#000" stroke-width="2"/>
<line x1="1411.60" y1="1240.10" x2="1411.60" y2="1261.00" stroke="#000" stroke-width="2"/>
<line x1="1400.20" y1="1240.10" x2="1423.00" y2="1240.10" stroke="#000" stroke-width="2"/>
<line x1="1400.20" y1="1261.00" x2="1423.00" y2="1261.00" stroke="#000" stroke-width="2"/>
<circle cx="1273.20" cy="1224.60" r="6.9" fill="none" stroke="#000" stroke-width="3"/>
<circle cx="1273.20" cy="1243.30" r="6.9" fill="none" stroke="#000" stroke-width="3"/>
<circle cx="1273.20" cy="1261.90" r="6.9" fill="none" stroke="#000" stroke-width="3"/>
<circle cx="1326.40" cy="1096.30" r="6.9" fill="none" stroke="#000" stroke-width="3"/>
<circle cx="1358.80" cy="1100.90" r="6.9" fill="none" stroke="#000" stroke-width="3"/>
<circle cx="1342.50" cy="1166.10" r="6.9" fill="none" stroke="#000" stroke-width="3"/>
<circle cx="1395.50" cy="1240.30" r="6.9" fill="none" stroke="#000" stroke-width="3"/>
<circle cx="1395.50" cy="1260.70" r="6.9" fill="none" stroke="#000" stroke-width="3"/>
<circle cx="1427.60" cy="1250.50" r="6.9" fill="none" stroke="#000" stroke-width="3"/>
<line x1="1275.70" y1="1014.80" x2="1411.80" y2="1014.80" stroke="#000" stroke-width="3.2"/>
<text x="1343.80" y="999.50" font-size="24.5" style="font-weight:normal" text-anchor="middle">ns</text>
<line x1="1268.40" y1="1065.90" x2="1342.50" y2="1065.90" stroke="#000" stroke-width="3.2"/>
<text x="1306.80" y="1060.63" font-size="29" text-anchor="middle" letter-spacing="2" style="font-family:'DejaVu Sans',sans-serif">**</text>
<line x1="1343.10" y1="1055.70" x2="1411.80" y2="1055.70" stroke="#000" stroke-width="3.2"/>
<text x="1378.80" y="1050.03" font-size="29" text-anchor="middle" letter-spacing="2" style="font-family:'DejaVu Sans',sans-serif">**</text>
<text transform="translate(1113.00 1139.10) rotate(-90) scale(1 1.03)" font-size="33.36" text-anchor="middle">Percentage of sEVs with</text>
<text transform="translate(1154.50 1138.80) rotate(-90) scale(1 1.03)" font-size="33.36" text-anchor="middle">&lt;100 nm (%)</text>
<text transform="translate(1284.20 1357.60) rotate(-45) scale(1 1.03)" font-size="33.66" text-anchor="end">Mock</text>
<text transform="translate(1353.50 1357.60) rotate(-45) scale(1 1.03)" font-size="33.66" text-anchor="end">VZV</text>
<text transform="translate(1422.60 1357.60) rotate(-45) scale(1 1.03)" font-size="33.66" text-anchor="end">VZV+ACV</text>
<text transform="translate(1474.90 956.00) scale(1 1.04)" font-size="71">H</text>
<rect x="1778.40" y="1247.60" width="47.40" height="77.10" fill="#a1a1a5"/>
<rect x="1850.10" y="1063.50" width="47.40" height="261.20" fill="#69a7fa"/>
<rect x="1921.90" y="1249.60" width="47.50" height="75.10" fill="#efbb7d"/>
<line x1="1754.30" y1="964.00" x2="1754.30" y2="1326.30" stroke="#000" stroke-width="3.2"/>
<line x1="1739.20" y1="1324.70" x2="1995.00" y2="1324.70" stroke="#000" stroke-width="3.2"/>
<line x1="1739.20" y1="1234.92" x2="1754.30" y2="1234.92" stroke="#000" stroke-width="3.2"/>
<line x1="1739.20" y1="1145.14" x2="1754.30" y2="1145.14" stroke="#000" stroke-width="3.2"/>
<line x1="1739.20" y1="1055.36" x2="1754.30" y2="1055.36" stroke="#000" stroke-width="3.2"/>
<line x1="1739.20" y1="965.58" x2="1754.30" y2="965.58" stroke="#000" stroke-width="3.2"/>
<line x1="1801.60" y1="1324.70" x2="1801.60" y2="1340.00" stroke="#000" stroke-width="3.2"/>
<line x1="1873.70" y1="1324.70" x2="1873.70" y2="1340.00" stroke="#000" stroke-width="3.2"/>
<line x1="1945.60" y1="1324.70" x2="1945.60" y2="1340.00" stroke="#000" stroke-width="3.2"/>
<text transform="translate(1735.60 1247.62) scale(1 1.035)" font-size="34.9" text-anchor="end">2×10<tspan font-size="22.9" style="font-weight:normal" stroke="#000" stroke-width="0.45" dy="-11.3" dx="2.3">8</tspan></text>
<text transform="translate(1735.60 1157.84) scale(1 1.035)" font-size="34.9" text-anchor="end">4×10<tspan font-size="22.9" style="font-weight:normal" stroke="#000" stroke-width="0.45" dy="-11.3" dx="2.3">8</tspan></text>
<text transform="translate(1735.60 1068.06) scale(1 1.035)" font-size="34.9" text-anchor="end">6×10<tspan font-size="22.9" style="font-weight:normal" stroke="#000" stroke-width="0.45" dy="-11.3" dx="2.3">8</tspan></text>
<text transform="translate(1735.60 978.28) scale(1 1.035)" font-size="34.9" text-anchor="end">8×10<tspan font-size="22.9" style="font-weight:normal" stroke="#000" stroke-width="0.45" dy="-11.3" dx="2.3">8</tspan></text>
<text transform="translate(1731.40 1337.60) scale(1 1.035)" font-size="34.9" text-anchor="end">0</text>
<line x1="1801.60" y1="1227.40" x2="1801.60" y2="1267.30" stroke="#000" stroke-width="2"/>
<line x1="1789.80" y1="1227.40" x2="1813.40" y2="1227.40" stroke="#000" stroke-width="2"/>
<line x1="1789.80" y1="1267.30" x2="1813.40" y2="1267.30" stroke="#000" stroke-width="2"/>
<line x1="1873.70" y1="1042.30" x2="1873.70" y2="1084.20" stroke="#000" stroke-width="2"/>
<line x1="1861.90" y1="1042.30" x2="1885.50" y2="1042.30" stroke="#000" stroke-width="2"/>
<line x1="1861.90" y1="1084.20" x2="1885.50" y2="1084.20" stroke="#000" stroke-width="2"/>
<line x1="1945.60" y1="1225.60" x2="1945.60" y2="1273.30" stroke="#000" stroke-width="2"/>
<line x1="1933.80" y1="1225.60" x2="1957.40" y2="1225.60" stroke="#000" stroke-width="2"/>
<line x1="1933.80" y1="1273.30" x2="1957.40" y2="1273.30" stroke="#000" stroke-width="2"/>
<circle cx="1801.60" cy="1227.00" r="6.8" fill="none" stroke="#000" stroke-width="3"/>
<circle cx="1801.60" cy="1250.80" r="6.8" fill="none" stroke="#000" stroke-width="3"/>
<circle cx="1801.60" cy="1265.70" r="6.8" fill="none" stroke="#000" stroke-width="3"/>
<circle cx="1857.20" cy="1051.40" r="6.8" fill="none" stroke="#000" stroke-width="3"/>
<circle cx="1890.80" cy="1051.40" r="6.8" fill="none" stroke="#000" stroke-width="3"/>
<circle cx="1873.70" cy="1087.60" r="6.8" fill="none" stroke="#000" stroke-width="3"/>
<circle cx="1928.70" cy="1232.70" r="6.8" fill="none" stroke="#000" stroke-width="3"/>
<circle cx="1962.90" cy="1238.50" r="6.8" fill="none" stroke="#000" stroke-width="3"/>
<circle cx="1945.60" cy="1276.80" r="6.8" fill="none" stroke="#000" stroke-width="3"/>
<line x1="1803.20" y1="1019.80" x2="1873.70" y2="1019.80" stroke="#000" stroke-width="3.2"/>
<text x="1840.10" y="1013.99" font-size="29.5" text-anchor="middle" letter-spacing="2.2" style="font-family:'DejaVu Sans',sans-serif">***</text>
<line x1="1877.30" y1="1004.30" x2="1947.80" y2="1004.30" stroke="#000" stroke-width="3.2"/>
<text x="1914.60" y="997.89" font-size="29.5" text-anchor="middle" letter-spacing="2.2" style="font-family:'DejaVu Sans',sans-serif">***</text>
<text transform="translate(1577.10 1139.00) rotate(-90) scale(1 1.03)" font-size="35.19" text-anchor="middle">Number of sEVs with</text>
<text transform="translate(1617.40 1139.50) rotate(-90) scale(1 1.03)" font-size="35.19" text-anchor="middle">&lt;100 nm (per mL)</text>
<text transform="translate(1814.50 1369.60) rotate(-45) scale(1 1.03)" font-size="35.29" text-anchor="end">Mock</text>
<text transform="translate(1886.50 1369.60) rotate(-45) scale(1 1.03)" font-size="35.29" text-anchor="end">VZV</text>
<text transform="translate(1958.50 1369.60) rotate(-45) scale(1 1.03)" font-size="35.29" text-anchor="end">VZV+ACV</text>
<text transform="translate(18.30 1540.40) scale(1 1.04)" font-size="71">I</text>
<rect x="540.95" y="1913.00" width="36.40" height="1.80" fill="#69a7fa"/>
<rect x="595.30" y="1894.80" width="36.40" height="20.00" fill="#69a7fa"/>
<rect x="595.30" y="1912.40" width="36.40" height="2.40" fill="#a1a1a5"/>
<rect x="649.65" y="1832.40" width="36.40" height="82.40" fill="#69a7fa"/>
<rect x="649.65" y="1905.00" width="36.40" height="9.80" fill="#a1a1a5"/>
<rect x="704.00" y="1727.10" width="36.40" height="187.70" fill="#69a7fa"/>
<rect x="704.00" y="1876.50" width="36.40" height="38.30" fill="#a1a1a5"/>
<rect x="758.35" y="1643.30" width="36.40" height="271.50" fill="#69a7fa"/>
<rect x="758.35" y="1837.40" width="36.40" height="77.40" fill="#a1a1a5"/>
<line x1="251.30" y1="1538.40" x2="251.30" y2="1916.50" stroke="#000" stroke-width="3.4"/>
<line x1="235.30" y1="1914.80" x2="814.60" y2="1914.80" stroke="#000" stroke-width="3.4"/>
<line x1="235.30" y1="1839.86" x2="251.30" y2="1839.86" stroke="#000" stroke-width="3.4"/>
<line x1="235.30" y1="1764.92" x2="251.30" y2="1764.92" stroke="#000" stroke-width="3.4"/>
<line x1="235.30" y1="1689.98" x2="251.30" y2="1689.98" stroke="#000" stroke-width="3.4"/>
<line x1="235.30" y1="1615.04" x2="251.30" y2="1615.04" stroke="#000" stroke-width="3.4"/>
<line x1="235.30" y1="1540.10" x2="251.30" y2="1540.10" stroke="#000" stroke-width="3.4"/>
<line x1="287.40" y1="1914.80" x2="287.40" y2="1930.90" stroke="#000" stroke-width="3.4"/>
<line x1="341.75" y1="1914.80" x2="341.75" y2="1930.90" stroke="#000" stroke-width="3.4"/>
<line x1="396.10" y1="1914.80" x2="396.10" y2="1930.90" stroke="#000" stroke-width="3.4"/>
<line x1="450.45" y1="1914.80" x2="450.45" y2="1930.90" stroke="#000" stroke-width="3.4"/>
<line x1="504.80" y1="1914.80" x2="504.80" y2="1930.90" stroke="#000" stroke-width="3.4"/>
<line x1="559.15" y1="1914.80" x2="559.15" y2="1930.90" stroke="#000" stroke-width="3.4"/>
<line x1="613.50" y1="1914.80" x2="613.50" y2="1930.90" stroke="#000" stroke-width="3.4"/>
<line x1="667.85" y1="1914.80" x2="667.85" y2="1930.90" stroke="#000" stroke-width="3.4"/>
<line x1="722.20" y1="1914.80" x2="722.20" y2="1930.90" stroke="#000" stroke-width="3.4"/>
<line x1="776.55" y1="1914.80" x2="776.55" y2="1930.90" stroke="#000" stroke-width="3.4"/>
<text transform="translate(231.10 1853.46) scale(1 1.035)" font-size="36" text-anchor="end">1×10<tspan font-size="23.6" style="font-weight:normal" stroke="#000" stroke-width="0.45" dy="-11.7" dx="2.3">8</tspan></text>
<text transform="translate(231.10 1778.52) scale(1 1.035)" font-size="36" text-anchor="end">2×10<tspan font-size="23.6" style="font-weight:normal" stroke="#000" stroke-width="0.45" dy="-11.7" dx="2.3">8</tspan></text>
<text transform="translate(231.10 1703.58) scale(1 1.035)" font-size="36" text-anchor="end">3×10<tspan font-size="23.6" style="font-weight:normal" stroke="#000" stroke-width="0.45" dy="-11.7" dx="2.3">8</tspan></text>
<text transform="translate(231.10 1628.64) scale(1 1.035)" font-size="36" text-anchor="end">4×10<tspan font-size="23.6" style="font-weight:normal" stroke="#000" stroke-width="0.45" dy="-11.7" dx="2.3">8</tspan></text>
<text transform="translate(231.10 1553.70) scale(1 1.035)" font-size="36" text-anchor="end">5×10<tspan font-size="23.6" style="font-weight:normal" stroke="#000" stroke-width="0.45" dy="-11.7" dx="2.3">8</tspan></text>
<text transform="translate(226.80 1928.40) scale(1 1.035)" font-size="36" text-anchor="end">0</text>
<line x1="559.15" y1="1910.60" x2="559.15" y2="1914.80" stroke="#000" stroke-width="3.6"/>
<line x1="550.15" y1="1910.60" x2="568.15" y2="1910.60" stroke="#000" stroke-width="3.6"/>
<line x1="613.50" y1="1886.40" x2="613.50" y2="1903.20" stroke="#000" stroke-width="3.6"/>
<line x1="604.50" y1="1886.40" x2="622.50" y2="1886.40" stroke="#000" stroke-width="3.6"/>
<line x1="604.50" y1="1903.20" x2="622.50" y2="1903.20" stroke="#000" stroke-width="3.6"/>
<line x1="604.50" y1="1912.10" x2="622.50" y2="1912.10" stroke="#000" stroke-width="3.6"/>
<line x1="667.85" y1="1823.40" x2="667.85" y2="1840.20" stroke="#000" stroke-width="3.6"/>
<line x1="658.85" y1="1823.40" x2="676.85" y2="1823.40" stroke="#000" stroke-width="3.6"/>
<line x1="658.85" y1="1840.20" x2="676.85" y2="1840.20" stroke="#000" stroke-width="3.6"/>
<line x1="667.85" y1="1898.90" x2="667.85" y2="1911.00" stroke="#000" stroke-width="3.6"/>
<line x1="658.85" y1="1898.90" x2="676.85" y2="1898.90" stroke="#000" stroke-width="3.6"/>
<line x1="658.85" y1="1911.00" x2="676.85" y2="1911.00" stroke="#000" stroke-width="3.6"/>
<line x1="722.20" y1="1708.10" x2="722.20" y2="1746.30" stroke="#000" stroke-width="3.6"/>
<line x1="713.20" y1="1708.10" x2="731.20" y2="1708.10" stroke="#000" stroke-width="3.6"/>
<line x1="713.20" y1="1746.30" x2="731.20" y2="1746.30" stroke="#000" stroke-width="3.6"/>
<line x1="722.20" y1="1863.10" x2="722.20" y2="1889.70" stroke="#000" stroke-width="3.6"/>
<line x1="713.20" y1="1863.10" x2="731.20" y2="1863.10" stroke="#000" stroke-width="3.6"/>
<line x1="713.20" y1="1889.70" x2="731.20" y2="1889.70" stroke="#000" stroke-width="3.6"/>
<line x1="776.55" y1="1619.10" x2="776.55" y2="1667.50" stroke="#000" stroke-width="3.6"/>
<line x1="767.55" y1="1619.10" x2="785.55" y2="1619.10" stroke="#000" stroke-width="3.6"/>
<line x1="767.55" y1="1667.50" x2="785.55" y2="1667.50" stroke="#000" stroke-width="3.6"/>
<line x1="776.55" y1="1824.60" x2="776.55" y2="1848.80" stroke="#000" stroke-width="3.6"/>
<line x1="767.55" y1="1824.60" x2="785.55" y2="1824.60" stroke="#000" stroke-width="3.6"/>
<line x1="767.55" y1="1848.80" x2="785.55" y2="1848.80" stroke="#000" stroke-width="3.6"/>
<text x="614.10" y="1886.57" font-size="24.6" text-anchor="middle" style="font-family:'DejaVu Sans',sans-serif;font-weight:normal">*</text>
<text x="668.00" y="1821.77" font-size="24.6" text-anchor="middle" style="font-family:'DejaVu Sans',sans-serif;font-weight:normal">***</text>
<text x="721.60" y="1706.67" font-size="24.6" text-anchor="middle" style="font-family:'DejaVu Sans',sans-serif;font-weight:normal">**</text>
<text x="774.20" y="1615.97" font-size="24.6" text-anchor="middle" style="font-family:'DejaVu Sans',sans-serif;font-weight:normal">**</text>
<rect x="270.40" y="1540.10" width="39.60" height="19.50" fill="#a1a1a5"/>
<text x="331.60" y="1559.60" font-size="30.2">Mock</text>
<rect x="432.10" y="1540.10" width="39.90" height="19.50" fill="#69a7fa"/>
<text x="495.00" y="1559.60" font-size="30.2">VZV</text>
<text transform="translate(67.90 1724.00) rotate(-90) scale(1 1.03)" font-size="36.21" text-anchor="middle">Number of sEVs</text>
<text transform="translate(109.70 1724.00) rotate(-90) scale(1 1.03)" font-size="36.21" text-anchor="middle">(per mL)</text>
<text transform="translate(298.20 1963.30) rotate(-45) scale(1 1.03)" font-size="35.7" text-anchor="end">0-10 nm</text>
<text transform="translate(352.55 1963.30) rotate(-45) scale(1 1.03)" font-size="35.7" text-anchor="end">10-20 nm</text>
<text transform="translate(406.90 1963.30) rotate(-45) scale(1 1.03)" font-size="35.7" text-anchor="end">20-30 nm</text>
<text transform="translate(461.25 1963.30) rotate(-45) scale(1 1.03)" font-size="35.7" text-anchor="end">30-40 nm</text>
<text transform="translate(515.60 1963.30) rotate(-45) scale(1 1.03)" font-size="35.7" text-anchor="end">40-50 nm</text>
<text transform="translate(569.95 1963.30) rotate(-45) scale(1 1.03)" font-size="35.7" text-anchor="end">50-60 nm</text>
<text transform="translate(624.30 1963.30) rotate(-45) scale(1 1.03)" font-size="35.7" text-anchor="end">60-70 nm</text>
<text transform="translate(678.65 1963.30) rotate(-45) scale(1 1.03)" font-size="35.7" text-anchor="end">70-80 nm</text>
<text transform="translate(733.00 1963.30) rotate(-45) scale(1 1.03)" font-size="35.7" text-anchor="end">80-90 nm</text>
<text transform="translate(787.35 1963.30) rotate(-45) scale(1 1.03)" font-size="35.7" text-anchor="end">90-100 nm</text>
<text transform="translate(841.30 1554.60) scale(1 1.04)" font-size="71">J</text>
<rect x="1138.50" y="1687.20" width="46.70" height="223.80" fill="#a1a1a5"/>
<rect x="1209.20" y="1691.20" width="46.60" height="219.80" fill="#69a7fa"/>
<rect x="1279.30" y="1690.70" width="46.90" height="220.30" fill="#efbb7d"/>
<line x1="1114.90" y1="1556.70" x2="1114.90" y2="1912.60" stroke="#000" stroke-width="3.2"/>
<line x1="1099.50" y1="1911.00" x2="1350.40" y2="1911.00" stroke="#000" stroke-width="3.2"/>
<line x1="1099.50" y1="1823.03" x2="1114.90" y2="1823.03" stroke="#000" stroke-width="3.2"/>
<line x1="1099.50" y1="1735.06" x2="1114.90" y2="1735.06" stroke="#000" stroke-width="3.2"/>
<line x1="1099.50" y1="1647.09" x2="1114.90" y2="1647.09" stroke="#000" stroke-width="3.2"/>
<line x1="1099.50" y1="1559.12" x2="1114.90" y2="1559.12" stroke="#000" stroke-width="3.2"/>
<line x1="1162.00" y1="1911.00" x2="1162.00" y2="1926.60" stroke="#000" stroke-width="3.2"/>
<line x1="1232.30" y1="1911.00" x2="1232.30" y2="1926.60" stroke="#000" stroke-width="3.2"/>
<line x1="1302.70" y1="1911.00" x2="1302.70" y2="1926.60" stroke="#000" stroke-width="3.2"/>
<text transform="translate(1096.80 1571.62) scale(1 1.035)" font-size="34.4" text-anchor="end">2×10<tspan font-size="22.5" style="font-weight:normal" stroke="#000" stroke-width="0.45" dy="-11.2" dx="2.3">9</tspan></text>
<text transform="translate(1096.80 1659.59) scale(1 1.035)" font-size="34.4" text-anchor="end">1.5×10<tspan font-size="22.5" style="font-weight:normal" stroke="#000" stroke-width="0.45" dy="-11.2" dx="2.3">9</tspan></text>
<text transform="translate(1096.80 1747.56) scale(1 1.035)" font-size="34.4" text-anchor="end">1×10<tspan font-size="22.5" style="font-weight:normal" stroke="#000" stroke-width="0.45" dy="-11.2" dx="2.3">9</tspan></text>
<text transform="translate(1096.80 1835.53) scale(1 1.035)" font-size="34.4" text-anchor="end">5×10<tspan font-size="22.5" style="font-weight:normal" stroke="#000" stroke-width="0.45" dy="-11.2" dx="2.3">8</tspan></text>
<text transform="translate(1092.80 1923.50) scale(1 1.035)" font-size="34.4" text-anchor="end">0</text>
<line x1="1162.00" y1="1672.10" x2="1162.00" y2="1701.40" stroke="#000" stroke-width="2"/>
<line x1="1150.70" y1="1672.10" x2="1173.30" y2="1672.10" stroke="#000" stroke-width="2"/>
<line x1="1150.70" y1="1701.40" x2="1173.30" y2="1701.40" stroke="#000" stroke-width="2"/>
<line x1="1232.30" y1="1682.50" x2="1232.30" y2="1699.80" stroke="#000" stroke-width="2"/>
<line x1="1221.00" y1="1682.50" x2="1243.60" y2="1682.50" stroke="#000" stroke-width="2"/>
<line x1="1221.00" y1="1699.80" x2="1243.60" y2="1699.80" stroke="#000" stroke-width="2"/>
<line x1="1302.70" y1="1677.40" x2="1302.70" y2="1703.20" stroke="#000" stroke-width="2"/>
<line x1="1291.40" y1="1677.40" x2="1314.00" y2="1677.40" stroke="#000" stroke-width="2"/>
<line x1="1291.40" y1="1703.20" x2="1314.00" y2="1703.20" stroke="#000" stroke-width="2"/>
<circle cx="1162.00" cy="1669.10" r="6.6" fill="none" stroke="#000" stroke-width="3"/>
<circle cx="1145.20" cy="1696.60" r="6.6" fill="none" stroke="#000" stroke-width="3"/>
<circle cx="1179.00" cy="1696.60" r="6.6" fill="none" stroke="#000" stroke-width="3"/>
<circle cx="1215.80" cy="1685.40" r="6.6" fill="none" stroke="#000" stroke-width="3"/>
<circle cx="1249.10" cy="1685.40" r="6.6" fill="none" stroke="#000" stroke-width="3"/>
<circle cx="1232.30" cy="1701.90" r="6.6" fill="none" stroke="#000" stroke-width="3"/>
<circle cx="1285.90" cy="1683.30" r="6.6" fill="none" stroke="#000" stroke-width="3"/>
<circle cx="1319.20" cy="1683.30" r="6.6" fill="none" stroke="#000" stroke-width="3"/>
<circle cx="1302.70" cy="1705.90" r="6.6" fill="none" stroke="#000" stroke-width="3"/>
<line x1="1162.00" y1="1645.90" x2="1295.80" y2="1645.90" stroke="#000" stroke-width="3.2"/>
<text x="1228.90" y="1628.10" font-size="28" style="font-weight:normal" text-anchor="middle">ns</text>
<text transform="translate(927.40 1733.20) rotate(-90) scale(1 1.03)" font-size="33.87" text-anchor="middle">Number of sEVs with</text>
<text transform="translate(966.60 1732.80) rotate(-90) scale(1 1.03)" font-size="33.87" text-anchor="middle">100-200 nm (per mL)</text>
<text transform="translate(1173.50 1955.60) rotate(-45) scale(1 1.03)" font-size="33.97" text-anchor="end">Mock</text>
<text transform="translate(1244.00 1955.60) rotate(-45) scale(1 1.03)" font-size="33.97" text-anchor="end">VZV</text>
<text transform="translate(1314.50 1955.60) rotate(-45) scale(1 1.03)" font-size="33.97" text-anchor="end">VZV+ACV</text>
<text transform="translate(1403.70 1554.80) scale(1 1.04)" font-size="71">K</text>
<rect x="1678.40" y="1796.10" width="64.20" height="67.00" fill="#d9d9d9"/>
<rect x="1780.70" y="1718.80" width="64.30" height="73.50" fill="#f07f85"/>
<line x1="1642.70" y1="1558.70" x2="1642.70" y2="1919.90" stroke="#000" stroke-width="3.2"/>
<line x1="1628.10" y1="1918.30" x2="1882.70" y2="1918.30" stroke="#000" stroke-width="3.2"/>
<line x1="1628.10" y1="1846.70" x2="1642.70" y2="1846.70" stroke="#000" stroke-width="3.2"/>
<line x1="1628.10" y1="1775.10" x2="1642.70" y2="1775.10" stroke="#000" stroke-width="3.2"/>
<line x1="1628.10" y1="1703.50" x2="1642.70" y2="1703.50" stroke="#000" stroke-width="3.2"/>
<line x1="1628.10" y1="1631.90" x2="1642.70" y2="1631.90" stroke="#000" stroke-width="3.2"/>
<line x1="1628.10" y1="1560.30" x2="1642.70" y2="1560.30" stroke="#000" stroke-width="3.2"/>
<line x1="1710.10" y1="1918.30" x2="1710.10" y2="1933.10" stroke="#000" stroke-width="3.2"/>
<line x1="1812.30" y1="1918.30" x2="1812.30" y2="1933.10" stroke="#000" stroke-width="3.2"/>
<text transform="translate(1623.60 1931.30) scale(1 1.035)" font-size="34.3" text-anchor="end">0</text>
<text transform="translate(1623.60 1859.70) scale(1 1.035)" font-size="34.3" text-anchor="end">20</text>
<text transform="translate(1623.60 1788.10) scale(1 1.035)" font-size="34.3" text-anchor="end">40</text>
<text transform="translate(1623.60 1716.50) scale(1 1.035)" font-size="34.3" text-anchor="end">60</text>
<text transform="translate(1623.60 1644.90) scale(1 1.035)" font-size="34.3" text-anchor="end">80</text>
<text transform="translate(1623.60 1573.30) scale(1 1.035)" font-size="34.3" text-anchor="end">100</text>
<line x1="1710.10" y1="1745.50" x2="1710.10" y2="1796.10" stroke="#000" stroke-width="3"/>
<line x1="1710.10" y1="1863.10" x2="1710.10" y2="1908.50" stroke="#000" stroke-width="3"/>
<line x1="1693.60" y1="1745.50" x2="1726.60" y2="1745.50" stroke="#000" stroke-width="3"/>
<line x1="1693.60" y1="1908.50" x2="1726.60" y2="1908.50" stroke="#000" stroke-width="3"/>
<line x1="1812.30" y1="1640.00" x2="1812.30" y2="1718.80" stroke="#000" stroke-width="3"/>
<line x1="1812.30" y1="1792.30" x2="1812.30" y2="1853.10" stroke="#000" stroke-width="3"/>
<line x1="1795.80" y1="1640.00" x2="1828.80" y2="1640.00" stroke="#000" stroke-width="3"/>
<line x1="1795.80" y1="1853.10" x2="1828.80" y2="1853.10" stroke="#000" stroke-width="3"/>
<rect x="1678.40" y="1796.10" width="64.20" height="67.00" fill="none" stroke="#000" stroke-width="3.2"/>
<line x1="1678.40" y1="1828.40" x2="1742.60" y2="1828.40" stroke="#000" stroke-width="3.2"/>
<rect x="1780.70" y="1718.80" width="64.30" height="73.50" fill="none" stroke="#000" stroke-width="3.2"/>
<line x1="1780.70" y1="1761.30" x2="1845.00" y2="1761.30" stroke="#000" stroke-width="3.2"/>
<circle cx="1710.51" cy="1745.05" r="5.2" fill="none" stroke="#000" stroke-width="1.7"/>
<circle cx="1720.26" cy="1748.73" r="5.2" fill="none" stroke="#000" stroke-width="1.7"/>
<circle cx="1700.77" cy="1753.06" r="5.2" fill="none" stroke="#000" stroke-width="1.7"/>
<circle cx="1691.67" cy="1764.97" r="5.2" fill="none" stroke="#000" stroke-width="1.7"/>
<circle cx="1710.51" cy="1768.22" r="5.2" fill="none" stroke="#000" stroke-width="1.7"/>
<circle cx="1729.57" cy="1764.97" r="5.2" fill="none" stroke="#000" stroke-width="1.7"/>
<circle cx="1700.77" cy="1774.72" r="5.2" fill="none" stroke="#000" stroke-width="1.7"/>
<circle cx="1720.26" cy="1774.72" r="5.2" fill="none" stroke="#000" stroke-width="1.7"/>
<circle cx="1710.94" cy="1783.81" r="5.2" fill="none" stroke="#000" stroke-width="1.7"/>
<circle cx="1700.77" cy="1793.12" r="5.2" fill="none" stroke="#000" stroke-width="1.7"/>
<circle cx="1720.26" cy="1799.19" r="5.2" fill="none" stroke="#000" stroke-width="1.7"/>
<circle cx="1700.77" cy="1805.47" r="5.2" fill="none" stroke="#000" stroke-width="1.7"/>
<circle cx="1729.57" cy="1807.20" r="5.2" fill="none" stroke="#000" stroke-width="1.7"/>
<circle cx="1691.67" cy="1815.86" r="5.2" fill="none" stroke="#000" stroke-width="1.7"/>
<circle cx="1701.20" cy="1816.30" r="5.2" fill="none" stroke="#000" stroke-width="1.7"/>
<circle cx="1710.94" cy="1816.30" r="5.2" fill="none" stroke="#000" stroke-width="1.7"/>
<circle cx="1720.26" cy="1813.26" r="5.2" fill="none" stroke="#000" stroke-width="1.7"/>
<circle cx="1691.67" cy="1829.94" r="5.2" fill="none" stroke="#000" stroke-width="1.7"/>
<circle cx="1701.20" cy="1829.94" r="5.2" fill="none" stroke="#000" stroke-width="1.7"/>
<circle cx="1710.94" cy="1826.69" r="5.2" fill="none" stroke="#000" stroke-width="1.7"/>
<circle cx="1720.26" cy="1829.94" r="5.2" fill="none" stroke="#000" stroke-width="1.7"/>
<circle cx="1729.57" cy="1829.94" r="5.2" fill="none" stroke="#000" stroke-width="1.7"/>
<circle cx="1701.20" cy="1842.93" r="5.2" fill="none" stroke="#000" stroke-width="1.7"/>
<circle cx="1710.94" cy="1845.10" r="5.2" fill="none" stroke="#000" stroke-width="1.7"/>
<circle cx="1720.26" cy="1842.93" r="5.2" fill="none" stroke="#000" stroke-width="1.7"/>
<circle cx="1682.36" cy="1862.86" r="5.2" fill="none" stroke="#000" stroke-width="1.7"/>
<circle cx="1701.20" cy="1861.34" r="5.2" fill="none" stroke="#000" stroke-width="1.7"/>
<circle cx="1691.67" cy="1867.19" r="5.2" fill="none" stroke="#000" stroke-width="1.7"/>
<circle cx="1720.26" cy="1868.92" r="5.2" fill="none" stroke="#000" stroke-width="1.7"/>
<circle cx="1729.57" cy="1867.19" r="5.2" fill="none" stroke="#000" stroke-width="1.7"/>
<circle cx="1739.31" cy="1864.59" r="5.2" fill="none" stroke="#000" stroke-width="1.7"/>
<circle cx="1701.20" cy="1874.33" r="5.2" fill="none" stroke="#000" stroke-width="1.7"/>
<circle cx="1710.94" cy="1872.17" r="5.2" fill="none" stroke="#000" stroke-width="1.7"/>
<circle cx="1729.57" cy="1880.18" r="5.2" fill="none" stroke="#000" stroke-width="1.7"/>
<circle cx="1701.20" cy="1888.84" r="5.2" fill="none" stroke="#000" stroke-width="1.7"/>
<circle cx="1710.94" cy="1885.16" r="5.2" fill="none" stroke="#000" stroke-width="1.7"/>
<circle cx="1720.26" cy="1889.49" r="5.2" fill="none" stroke="#000" stroke-width="1.7"/>
<circle cx="1715.49" cy="1903.57" r="5.2" fill="none" stroke="#000" stroke-width="1.7"/>
<circle cx="1706.18" cy="1909.42" r="5.2" fill="none" stroke="#000" stroke-width="1.7"/>
<circle cx="1812.95" cy="1640.01" r="5.2" fill="none" stroke="#1c1cf0" stroke-width="1.7"/>
<circle cx="1808.61" cy="1661.02" r="5.2" fill="none" stroke="#1c1cf0" stroke-width="1.7"/>
<circle cx="1816.63" cy="1669.68" r="5.2" fill="none" stroke="#1c1cf0" stroke-width="1.7"/>
<circle cx="1825.29" cy="1671.85" r="5.2" fill="none" stroke="#1c1cf0" stroke-width="1.7"/>
<circle cx="1800.38" cy="1679.00" r="5.2" fill="none" stroke="#1c1cf0" stroke-width="1.7"/>
<circle cx="1808.61" cy="1674.01" r="5.2" fill="none" stroke="#1c1cf0" stroke-width="1.7"/>
<circle cx="1808.61" cy="1685.93" r="5.2" fill="none" stroke="#1c1cf0" stroke-width="1.7"/>
<circle cx="1825.29" cy="1687.01" r="5.2" fill="none" stroke="#1c1cf0" stroke-width="1.7"/>
<circle cx="1816.63" cy="1691.34" r="5.2" fill="none" stroke="#1c1cf0" stroke-width="1.7"/>
<circle cx="1808.61" cy="1699.57" r="5.2" fill="none" stroke="#1c1cf0" stroke-width="1.7"/>
<circle cx="1825.29" cy="1710.18" r="5.2" fill="none" stroke="#1c1cf0" stroke-width="1.7"/>
<circle cx="1816.63" cy="1714.08" r="5.2" fill="none" stroke="#1c1cf0" stroke-width="1.7"/>
<circle cx="1800.38" cy="1715.16" r="5.2" fill="none" stroke="#1c1cf0" stroke-width="1.7"/>
<circle cx="1808.61" cy="1717.33" r="5.2" fill="none" stroke="#1c1cf0" stroke-width="1.7"/>
<circle cx="1791.72" cy="1721.66" r="5.2" fill="none" stroke="#1c1cf0" stroke-width="1.7"/>
<circle cx="1833.30" cy="1722.74" r="5.2" fill="none" stroke="#1c1cf0" stroke-width="1.7"/>
<circle cx="1800.38" cy="1727.51" r="5.2" fill="none" stroke="#1c1cf0" stroke-width="1.7"/>
<circle cx="1808.61" cy="1728.80" r="5.2" fill="none" stroke="#1c1cf0" stroke-width="1.7"/>
<circle cx="1816.63" cy="1727.51" r="5.2" fill="none" stroke="#1c1cf0" stroke-width="1.7"/>
<circle cx="1825.29" cy="1736.82" r="5.2" fill="none" stroke="#1c1cf0" stroke-width="1.7"/>
<circle cx="1791.72" cy="1740.50" r="5.2" fill="none" stroke="#1c1cf0" stroke-width="1.7"/>
<circle cx="1800.38" cy="1749.81" r="5.2" fill="none" stroke="#1c1cf0" stroke-width="1.7"/>
<circle cx="1808.61" cy="1748.30" r="5.2" fill="none" stroke="#1c1cf0" stroke-width="1.7"/>
<circle cx="1816.63" cy="1751.33" r="5.2" fill="none" stroke="#1c1cf0" stroke-width="1.7"/>
<circle cx="1825.29" cy="1749.81" r="5.2" fill="none" stroke="#1c1cf0" stroke-width="1.7"/>
<circle cx="1833.30" cy="1749.81" r="5.2" fill="none" stroke="#1c1cf0" stroke-width="1.7"/>
<circle cx="1825.29" cy="1761.72" r="5.2" fill="none" stroke="#1c1cf0" stroke-width="1.7"/>
<circle cx="1833.30" cy="1762.80" r="5.2" fill="none" stroke="#1c1cf0" stroke-width="1.7"/>
<circle cx="1800.38" cy="1764.32" r="5.2" fill="none" stroke="#1c1cf0" stroke-width="1.7"/>
<circle cx="1816.63" cy="1764.97" r="5.2" fill="none" stroke="#1c1cf0" stroke-width="1.7"/>
<circle cx="1784.14" cy="1772.12" r="5.2" fill="none" stroke="#1c1cf0" stroke-width="1.7"/>
<circle cx="1791.72" cy="1774.28" r="5.2" fill="none" stroke="#1c1cf0" stroke-width="1.7"/>
<circle cx="1825.29" cy="1773.63" r="5.2" fill="none" stroke="#1c1cf0" stroke-width="1.7"/>
<circle cx="1833.30" cy="1773.63" r="5.2" fill="none" stroke="#1c1cf0" stroke-width="1.7"/>
<circle cx="1841.53" cy="1772.98" r="5.2" fill="none" stroke="#1c1cf0" stroke-width="1.7"/>
<circle cx="1800.38" cy="1781.21" r="5.2" fill="none" stroke="#1c1cf0" stroke-width="1.7"/>
<circle cx="1808.61" cy="1779.05" r="5.2" fill="none" stroke="#1c1cf0" stroke-width="1.7"/>
<circle cx="1816.63" cy="1781.21" r="5.2" fill="none" stroke="#1c1cf0" stroke-width="1.7"/>
<circle cx="1825.29" cy="1787.71" r="5.2" fill="none" stroke="#1c1cf0" stroke-width="1.7"/>
<circle cx="1816.63" cy="1790.96" r="5.2" fill="none" stroke="#1c1cf0" stroke-width="1.7"/>
<circle cx="1800.38" cy="1799.62" r="5.2" fill="none" stroke="#1c1cf0" stroke-width="1.7"/>
<circle cx="1808.61" cy="1799.62" r="5.2" fill="none" stroke="#1c1cf0" stroke-width="1.7"/>
<circle cx="1825.29" cy="1799.62" r="5.2" fill="none" stroke="#1c1cf0" stroke-width="1.7"/>
<circle cx="1833.30" cy="1799.62" r="5.2" fill="none" stroke="#1c1cf0" stroke-width="1.7"/>
<circle cx="1808.61" cy="1810.45" r="5.2" fill="none" stroke="#1c1cf0" stroke-width="1.7"/>
<circle cx="1816.63" cy="1809.37" r="5.2" fill="none" stroke="#1c1cf0" stroke-width="1.7"/>
<circle cx="1808.61" cy="1822.36" r="5.2" fill="none" stroke="#1c1cf0" stroke-width="1.7"/>
<circle cx="1800.38" cy="1826.69" r="5.2" fill="none" stroke="#1c1cf0" stroke-width="1.7"/>
<circle cx="1825.29" cy="1829.29" r="5.2" fill="none" stroke="#1c1cf0" stroke-width="1.7"/>
<circle cx="1800.38" cy="1837.52" r="5.2" fill="none" stroke="#1c1cf0" stroke-width="1.7"/>
<circle cx="1825.29" cy="1844.02" r="5.2" fill="none" stroke="#1c1cf0" stroke-width="1.7"/>
<circle cx="1800.38" cy="1853.76" r="5.2" fill="none" stroke="#1c1cf0" stroke-width="1.7"/>
<circle cx="1816.63" cy="1851.60" r="5.2" fill="none" stroke="#1c1cf0" stroke-width="1.7"/>
<line x1="1709.40" y1="1602.50" x2="1810.60" y2="1602.50" stroke="#000" stroke-width="3.2"/>
<text x="1761.50" y="1596.49" font-size="29.5" text-anchor="middle" letter-spacing="2.2" style="font-family:'DejaVu Sans',sans-serif">***</text>
<text transform="translate(1505.40 1736.30) rotate(-90) scale(1 1.03)" font-size="34.88" text-anchor="middle">Percentage of sEV with</text>
<text transform="translate(1548.90 1738.60) rotate(-90) scale(1 1.03)" font-size="34.88" text-anchor="middle">&lt;100nm (%)</text>
<text transform="translate(1721.00 1962.00) rotate(-45) scale(1 1.03)" font-size="34.99" text-anchor="end">Young (n=39)</text>
<text transform="translate(1824.00 1962.00) rotate(-45) scale(1 1.03)" font-size="34.99" text-anchor="end">Aged (n=53)</text>
</svg>
</body></html>
